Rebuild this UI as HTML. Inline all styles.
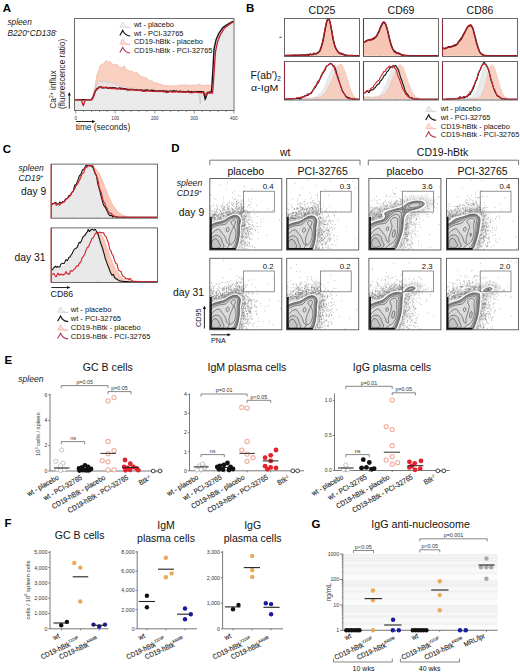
<!DOCTYPE html>
<html><head><meta charset="utf-8"><style>
html,body{margin:0;padding:0;background:#fff;}
svg{display:block;}
text{font-family:"Liberation Sans", sans-serif;}
</style></head><body>
<svg width="520" height="672" viewBox="0 0 520 672">
<rect width="520" height="672" fill="#fff"/>
<text x="2.8" y="12" font-size="11.5" font-weight="bold" fill="#000">A</text>
<text x="7.4" y="25.4" font-size="8.3" font-style="italic" fill="#222">spleen</text>
<text x="7.4" y="35.6" font-size="8.3" font-style="italic" fill="#222">B220<tspan font-size="5" dy="-3">+</tspan><tspan dy="3">CD138</tspan><tspan font-size="5" dy="-3">-</tspan></text>
<text transform="translate(55.6,108.7) rotate(-90)" font-size="8.4" fill="#222">Ca<tspan font-size="5" dy="-3">2+</tspan><tspan dy="3"> influx</tspan></text>
<text transform="translate(65.0,108.9) rotate(-90)" font-size="8.2" fill="#222">(fluorescence ratio)</text>
<line x1="69.3" y1="108.7" x2="69.3" y2="94" stroke="#111" stroke-width="0.9"/>
<path d="M69.3 92L67.8 95.5L70.8 95.5Z" fill="#111"/>
<line x1="76" y1="121.5" x2="93.5" y2="121.5" stroke="#111" stroke-width="0.9"/>
<path d="M95.5 121.5L92 120L92 123Z" fill="#111"/>
<text x="75.8" y="130.4" font-size="8.3" fill="#222">time (seconds)</text>
<path d="M75 110 L75,99.7 75.5,99.7 76,99.7 76.5,99.7 77,99.7 77.5,99.7 78,99.7 78.5,99.7 79,99.7 79.5,99.7 80,99.7 80.5,99.7 81,99.7 81.5,99.7 82,99.7 82.5,99.7 82.9,99.7 83.4,99.7 83.9,99.7 84.4,99.7 84.9,99.7 85.4,99.7 85.9,99.7 86.4,99.7 86.9,99.7 87.4,99.7 87.9,99.7 88.4,99.7 88.9,99.7 89.4,99.7 89.9,99.7 90.4,99.7 90.9,99.7 91.4,99.4 91.9,98.1 92.4,96.7 92.9,95.3 93.4,93.5 93.9,91.6 94.4,89.6 94.9,87.6 95.4,84.6 95.9,81.7 96.4,78.8 96.9,75.8 97.4,73.9 97.9,72.4 98.4,71.1 98.8,70 99.3,68.9 99.8,66.9 100.3,65.3 100.8,64.8 101.3,64.7 101.8,64.5 102.3,64.2 102.8,64 103.3,64 103.8,63.7 104.3,62.9 104.8,62.1 105.3,61.7 105.8,61.1 106.3,60.6 106.8,60.7 107.3,61.6 107.8,62.6 108.3,62.5 108.8,61.8 109.3,61.5 109.8,61.6 110.3,61.5 110.8,62.1 111.3,63.4 111.8,64.4 112.3,64.4 112.8,64 113.3,63.9 113.8,64.5 114.3,65 114.7,64.9 115.2,64.7 115.7,64.9 116.2,64.9 116.7,64.6 117.2,64.6 117.7,65.1 118.2,66 118.7,66.9 119.2,67.2 119.7,67.2 120.2,67.2 120.7,67.4 121.2,67.8 121.7,67.8 122.2,67.5 122.7,67 123.2,66.5 123.7,66 124.2,66 124.7,66.9 125.2,68.2 125.7,69.6 126.2,70.3 126.7,69.8 127.2,69.5 127.7,70 128.2,70.5 128.7,70.6 129.2,71 129.7,71.4 130.2,71.3 130.6,71 131.1,71 131.6,71.2 132.1,71.3 132.6,71.7 133.1,72.4 133.6,73.1 134.1,73.4 134.6,73.1 135.1,72.7 135.6,72.2 136.1,71.9 136.6,72.3 137.1,72.9 137.6,73.3 138.1,73.8 138.6,74.2 139.1,74.8 139.6,75.4 140.1,75.8 140.6,75.8 141.1,76.2 141.6,77.1 142.1,77.7 142.6,77.4 143.1,77 143.6,76.9 144.1,77.3 144.6,77.8 145.1,77.9 145.6,77.8 146.1,77.8 146.5,77.9 147,78.6 147.5,79.5 148,80.1 148.5,80.3 149,80.2 149.5,80 150,80.1 150.5,80.4 151,80.8 151.5,81 152,81 152.5,81.2 153,81.9 153.5,82.5 154,82.5 154.5,82.5 155,83 155.5,83.1 156,83 156.5,82.8 157,82.9 157.5,83.1 158,83.6 158.5,83.9 159,84 159.5,84.1 160,84.3 160.5,84.3 161,84.3 161.5,84.4 162,84.7 162.4,85.1 162.9,85.3 163.4,85.4 163.9,85.5 164.4,85.4 164.9,85.5 165.4,85.6 165.9,85.6 166.4,85.6 166.9,85.8 167.4,86 167.9,85.9 168.4,85.7 168.9,85.4 169.4,85.4 169.9,85.7 170.4,85.9 170.9,85.9 171.4,85.9 171.9,86 172.4,86 172.9,86 173.4,85.8 173.9,85.7 174.4,85.7 174.9,85.8 175.4,86 175.9,86.2 176.4,86.3 176.9,86 177.4,85.4 177.9,85.1 178.3,85.2 178.8,85.3 179.3,85.4 179.8,85.2 180.3,84.9 180.8,84.8 181.3,85.1 181.8,85.3 182.3,85.3 182.8,85.2 183.3,85 183.8,84.8 184.3,84.8 184.8,84.8 185.3,84.9 185.8,85.2 186.3,85.4 186.8,85.3 187.3,85 187.8,84.9 188.3,84.8 188.8,84.9 189.3,85.1 189.8,85.2 190.3,85.5 190.8,85.7 191.3,85.7 191.8,85.5 192.3,85.4 192.8,85.3 193.3,85.1 193.8,84.9 194.2,85.1 194.7,85.3 195.2,85.3 195.7,85.3 196.2,85.4 196.7,85.3 197.2,85 197.7,84.5 198.2,84.2 198.7,84 199.2,84 199.7,84.6 200.2,85.1 200.7,85.1 201.2,84.9 201.7,85 202.2,85.3 202.7,85.4 203.2,85.3 203.7,85.3 204.2,85.4 204.7,85.5 205.2,85.4 205.7,85.2 206.2,85.1 206.7,85.1 207.2,85.2 207.7,85.1 208.2,85 208.7,85 209.2,85 209.7,85.2 210.1,85.6 210.6,85.7 211.1,85.2 211.6,79.7 212.1,73.4 212.6,66.7 213.1,59.5 213.6,52.4 214.1,46.4 214.6,44.2 215.1,42 215.6,39.7 216.1,37.7 216.6,36.6 217.1,35.4 217.6,34.3 218.1,33.1 218.6,31.9 219.1,30.9 219.6,30.3 220.1,29.6 220.6,29 221.1,28.4 221.6,27.8 222.1,27.2 222.6,26.5 223.1,26 223.6,25.6 224.1,25.3 224.6,25 225.1,24.7 225.6,24.4 226,24 226.5,23.7 227,23.4 227.5,23.1 228,22.8 228.5,22.6 229,22.4 229.5,22.2 230,22 230.5,21.8 231,21.7 231.5,21.5 232,21.3 232.5,21.1 233,20.9 233.5,20.7 L233.5 110Z" fill="#ebebeb"/>
<path d="M93.4,93.5 93.9,91.6 94.4,89.6 94.9,87.6 95.4,84.6 95.9,81.7 96.4,78.8 96.9,75.8 97.4,73.9 97.9,72.4 98.4,71.1 98.8,70 99.3,68.9 99.8,66.9 100.3,65.3 100.8,64.8 101.3,64.7 101.8,64.5 102.3,64.2 102.8,64 103.3,64 103.8,63.7 104.3,62.9 104.8,62.1 105.3,61.7 105.8,61.1 106.3,60.6 106.8,60.7 107.3,61.6 107.8,62.6 108.3,62.5 108.8,61.8 109.3,61.5 109.8,61.6 110.3,61.5 110.8,62.1 111.3,63.4 111.8,64.4 112.3,64.4 112.8,64 113.3,63.9 113.8,64.5 114.3,65 114.7,64.9 115.2,64.7 115.7,64.9 116.2,64.9 116.7,64.6 117.2,64.6 117.7,65.1 118.2,66 118.7,66.9 119.2,67.2 119.7,67.2 120.2,67.2 120.7,67.4 121.2,67.8 121.7,67.8 122.2,67.5 122.7,67 123.2,66.5 123.7,66 124.2,66 124.7,66.9 125.2,68.2 125.7,69.6 126.2,70.3 126.7,69.8 127.2,69.5 127.7,70 128.2,70.5 128.7,70.6 129.2,71 129.7,71.4 130.2,71.3 130.6,71 131.1,71 131.6,71.2 132.1,71.3 132.6,71.7 133.1,72.4 133.6,73.1 134.1,73.4 134.6,73.1 135.1,72.7 135.6,72.2 136.1,71.9 136.6,72.3 137.1,72.9 137.6,73.3 138.1,73.8 138.6,74.2 139.1,74.8 139.6,75.4 140.1,75.8 140.6,75.8 141.1,76.2 141.6,77.1 142.1,77.7 142.6,77.4 143.1,77 143.6,76.9 144.1,77.3 144.6,77.8 145.1,77.9 145.6,77.8 146.1,77.8 146.5,77.9 147,78.6 147.5,79.5 148,80.1 148.5,80.3 149,80.2 149.5,80 150,80.1 150.5,80.4 151,80.8 151.5,81 152,81 152.5,81.2 153,81.9 153.5,82.5 154,82.5 154.5,82.5 155,83 155.5,83.1 156,83 156.5,82.8 157,82.9 157.5,83.1 158,83.6 158.5,83.9 159,84 159.5,84.1 160,84.3 160.5,84.3 161,84.3 161.5,84.4 162,84.7 162.4,85.1 162.9,85.3 163.4,85.4 163.9,85.5 164.4,85.4 164.9,85.5 165.4,85.6 165.9,85.6 166.4,85.6 166.9,85.8 167.4,86 167.9,85.9 168.4,85.7 168.9,85.4 169.4,85.4 169.9,85.7 170.4,85.9 170.9,85.9 171.4,85.9 171.9,86 172.4,86 172.9,86 173.4,85.8 173.9,85.7 174.4,85.7 174.9,85.8 175.4,86 175.9,86.2 176.4,86.3 176.9,86 177.4,85.4 177.9,85.1 178.3,85.2 178.8,85.3 179.3,85.4 179.8,85.2 180.3,84.9 180.8,84.8 181.3,85.1 181.8,85.3 182.3,85.3 182.8,85.2 183.3,85 183.8,84.8 184.3,84.8 184.8,84.8 185.3,84.9 185.8,85.2 186.3,85.4 186.8,85.3 187.3,85 187.8,84.9 188.3,84.8 188.8,84.9 189.3,85.1 189.8,85.2 190.3,85.5 190.8,85.7 191.3,85.7 191.8,85.5 192.3,85.4 192.8,85.3 193.3,85.1 193.8,84.9 194.2,85.1 194.7,85.3 195.2,85.3 195.7,85.3 196.2,85.4 196.7,85.3 197.2,85 197.7,84.5 198.2,84.2 198.7,84 199.2,84 199.7,84.6 200.2,85.1 200.7,85.1 201.2,84.9 201.7,85 202.2,85.3 202.7,85.4 203.2,85.3 203.7,85.3 204.2,85.4 204.7,85.5 205.2,85.4 205.7,85.2 206.2,85.1 206.7,85.1 207.2,85.2 207.7,85.1 208.2,85 208.7,85 209.2,85 209.7,85.2 210.1,85.6 210.6,85.7 211.1,85.2 211.1,91.9 210.6,92 210.1,92 209.7,92.1 209.2,92.2 208.7,92.3 208.2,92.4 207.7,92.4 207.2,93 206.7,94.7 206.2,95.3 205.7,95 205.2,94.3 204.7,93.6 204.2,92.9 203.7,92.1 203.2,91.8 202.7,91.7 202.2,91.7 201.7,91.7 201.2,91.7 200.7,91.8 200.2,91.7 199.7,91.6 199.2,91.6 198.7,91.7 198.2,91.7 197.7,91.8 197.2,91.8 196.7,91.9 196.2,91.9 195.7,91.7 195.2,91.8 194.7,92 194.2,92 193.8,92 193.3,92.2 192.8,92.3 192.3,92 191.8,91.8 191.3,91.8 190.8,92 190.3,92 189.8,91.9 189.3,91.7 188.8,91.4 188.3,91.3 187.8,91.5 187.3,91.8 186.8,91.8 186.3,91.7 185.8,91.7 185.3,92 184.8,92 184.3,91.8 183.8,91.6 183.3,91.7 182.8,91.7 182.3,91.8 181.8,91.8 181.3,91.6 180.8,91.4 180.3,91.2 179.8,91.3 179.3,91.5 178.8,91.4 178.3,91.5 177.9,91.7 177.4,91.6 176.9,91.3 176.4,91.1 175.9,91.2 175.4,91.4 174.9,91.2 174.4,90.9 173.9,90.8 173.4,91 172.9,91 172.4,91.1 171.9,91.2 171.4,91.2 170.9,91.2 170.4,91.3 169.9,91.2 169.4,91.2 168.9,91.4 168.4,91.8 167.9,91.8 167.4,91.4 166.9,91.3 166.4,91.3 165.9,91.2 165.4,91.2 164.9,91.2 164.4,91.1 163.9,91 163.4,90.8 162.9,90.9 162.4,91.2 162,91.1 161.5,91 161,91 160.5,91 160,90.9 159.5,90.9 159,91 158.5,91.2 158,91.2 157.5,91.2 157,91.2 156.5,91.1 156,91.1 155.5,91 155,90.9 154.5,90.8 154,90.5 153.5,90.5 153,90.6 152.5,90.5 152,90.3 151.5,90.3 151,90.3 150.5,90.6 150,90.8 149.5,90.8 149,90.6 148.5,90.3 148,90.1 147.5,90 147,90 146.5,90.1 146.1,90.3 145.6,90.3 145.1,90.4 144.6,90.4 144.1,90.3 143.6,90.5 143.1,90.6 142.6,90.5 142.1,90.2 141.6,89.9 141.1,90 140.6,90.2 140.1,90.2 139.6,90.1 139.1,90.2 138.6,90.2 138.1,90.2 137.6,90.2 137.1,90.1 136.6,89.9 136.1,89.8 135.6,89.9 135.1,89.9 134.6,89.7 134.1,89.7 133.6,89.9 133.1,89.7 132.6,89.4 132.1,89.4 131.6,89.4 131.1,89.4 130.6,89.4 130.2,89.4 129.7,89.5 129.2,89.5 128.7,89.4 128.2,89.5 127.7,89.4 127.2,89.1 126.7,88.9 126.2,88.9 125.7,88.7 125.2,88.7 124.7,88.8 124.2,88.8 123.7,88.8 123.2,88.8 122.7,88.7 122.2,88.5 121.7,88.4 121.2,88.3 120.7,88.4 120.2,88.3 119.7,88.2 119.2,88 118.7,88.1 118.2,88.5 117.7,88.7 117.2,88.7 116.7,88.5 116.2,88.3 115.7,87.9 115.2,87.9 114.7,87.9 114.3,87.9 113.8,87.9 113.3,87.8 112.8,87.7 112.3,87.8 111.8,88 111.3,88 110.8,87.9 110.3,87.7 109.8,87.6 109.3,87.8 108.8,88 108.3,88 107.8,88 107.3,87.7 106.8,87.3 106.3,87.2 105.8,87.2 105.3,87.4 104.8,87.6 104.3,87.6 103.8,87.5 103.3,87.5 102.8,87.4 102.3,87.3 101.8,87.2 101.3,87 100.8,87 100.3,87.2 99.8,87.3 99.3,87.2 98.8,87.2 98.4,87.7 97.9,88.1 97.4,88.3 96.9,88.8 96.4,89.2 95.9,90.1 95.4,90.9 94.9,91.9 94.4,93.4 93.9,94.9 93.4,96.3 Z" fill="#fad0c1"/>
<polyline points="93.4,93.5 93.9,91.6 94.4,89.6 94.9,87.6 95.4,84.6 95.9,81.7 96.4,78.8 96.9,75.8 97.4,73.9 97.9,72.4 98.4,71.1 98.8,70 99.3,68.9 99.8,66.9 100.3,65.3 100.8,64.8 101.3,64.7 101.8,64.5 102.3,64.2 102.8,64 103.3,64 103.8,63.7 104.3,62.9 104.8,62.1 105.3,61.7 105.8,61.1 106.3,60.6 106.8,60.7 107.3,61.6 107.8,62.6 108.3,62.5 108.8,61.8 109.3,61.5 109.8,61.6 110.3,61.5 110.8,62.1 111.3,63.4 111.8,64.4 112.3,64.4 112.8,64 113.3,63.9 113.8,64.5 114.3,65 114.7,64.9 115.2,64.7 115.7,64.9 116.2,64.9 116.7,64.6 117.2,64.6 117.7,65.1 118.2,66 118.7,66.9 119.2,67.2 119.7,67.2 120.2,67.2 120.7,67.4 121.2,67.8 121.7,67.8 122.2,67.5 122.7,67 123.2,66.5 123.7,66 124.2,66 124.7,66.9 125.2,68.2 125.7,69.6 126.2,70.3 126.7,69.8 127.2,69.5 127.7,70 128.2,70.5 128.7,70.6 129.2,71 129.7,71.4 130.2,71.3 130.6,71 131.1,71 131.6,71.2 132.1,71.3 132.6,71.7 133.1,72.4 133.6,73.1 134.1,73.4 134.6,73.1 135.1,72.7 135.6,72.2 136.1,71.9 136.6,72.3 137.1,72.9 137.6,73.3 138.1,73.8 138.6,74.2 139.1,74.8 139.6,75.4 140.1,75.8 140.6,75.8 141.1,76.2 141.6,77.1 142.1,77.7 142.6,77.4 143.1,77 143.6,76.9 144.1,77.3 144.6,77.8 145.1,77.9 145.6,77.8 146.1,77.8 146.5,77.9 147,78.6 147.5,79.5 148,80.1 148.5,80.3 149,80.2 149.5,80 150,80.1 150.5,80.4 151,80.8 151.5,81 152,81 152.5,81.2 153,81.9 153.5,82.5 154,82.5 154.5,82.5 155,83 155.5,83.1 156,83 156.5,82.8 157,82.9 157.5,83.1 158,83.6 158.5,83.9 159,84 159.5,84.1 160,84.3 160.5,84.3 161,84.3 161.5,84.4 162,84.7 162.4,85.1 162.9,85.3 163.4,85.4 163.9,85.5 164.4,85.4 164.9,85.5 165.4,85.6 165.9,85.6 166.4,85.6 166.9,85.8 167.4,86 167.9,85.9 168.4,85.7 168.9,85.4 169.4,85.4 169.9,85.7 170.4,85.9 170.9,85.9 171.4,85.9 171.9,86 172.4,86 172.9,86 173.4,85.8 173.9,85.7 174.4,85.7 174.9,85.8 175.4,86 175.9,86.2 176.4,86.3 176.9,86 177.4,85.4 177.9,85.1 178.3,85.2 178.8,85.3 179.3,85.4 179.8,85.2 180.3,84.9 180.8,84.8 181.3,85.1 181.8,85.3 182.3,85.3 182.8,85.2 183.3,85 183.8,84.8 184.3,84.8 184.8,84.8 185.3,84.9 185.8,85.2 186.3,85.4 186.8,85.3 187.3,85 187.8,84.9 188.3,84.8 188.8,84.9 189.3,85.1 189.8,85.2 190.3,85.5 190.8,85.7 191.3,85.7 191.8,85.5 192.3,85.4 192.8,85.3 193.3,85.1 193.8,84.9 194.2,85.1 194.7,85.3 195.2,85.3 195.7,85.3 196.2,85.4 196.7,85.3 197.2,85 197.7,84.5 198.2,84.2 198.7,84 199.2,84 199.7,84.6 200.2,85.1 200.7,85.1 201.2,84.9 201.7,85 202.2,85.3 202.7,85.4 203.2,85.3 203.7,85.3 204.2,85.4 204.7,85.5 205.2,85.4 205.7,85.2 206.2,85.1 206.7,85.1 207.2,85.2 207.7,85.1 208.2,85 208.7,85 209.2,85 209.7,85.2 210.1,85.6 210.6,85.7 211.1,85.2" fill="none" stroke="#f0b29e" stroke-width="0.8"/>
<path d="M92.4,96.7 92.9,95.3 93.4,94 93.9,92.7 94.4,91.4 94.9,90.1 95.4,88.8 95.9,87.7 96.4,86.6 96.9,85.5 97.4,83.8 97.9,82.6 98.4,82.3 98.8,82.3 99.3,82.2 99.8,81.7 100.3,81.2 100.8,81 101.3,81.3 101.8,81.7 102.3,81.8 102.8,81.6 103.3,81.2 103.8,81 104.3,80.9 104.8,81 105.3,81.1 105.8,81.3 106.3,81.6 106.8,82.1 107.3,82.4 107.8,82.4 108.3,82.3 108.8,82.3 109.3,82.2 109.8,82.1 110.3,81.9 110.8,81.9 111.3,82.2 111.8,82.5 112.3,82.9 112.8,83.1 113.3,83.1 113.8,83.1 114.3,83.2 114.7,83.6 115.2,83.9 115.7,84.2 116.2,84.3 116.7,84.3 117.2,84.3 117.7,84.5 118.2,84.8 118.7,85 119.2,85.3 119.7,85.7 120.2,86 120.7,86.1 121.2,86 121.7,86 122.2,86.3 122.7,86.7 123.2,87 123.7,86.9 124.2,86.8 124.7,86.6 125.2,86.6 125.7,86.8 126.2,87.1 126.7,87.4 127.2,87.6 127.7,87.6 128.2,87.6 128.7,87.5 129.2,87.6 129.7,87.7 130.2,87.7 130.6,87.7 131.1,87.7 131.6,87.8 132.1,88 132.6,88.2 133.1,88.4 133.6,88.4 134.1,88.4 134.6,88.5 135.1,88.7 135.6,89 136.1,89.3 136.6,89.4 137.1,89.4 137.6,89.4 138.1,89.4 138.6,89.5 139.1,89.7 139.6,89.8 140.1,89.8 140.6,89.7 141.1,89.7 141.6,89.7 142.1,89.9 142.6,89.9 143.1,89.8 143.6,89.6 144.1,89.5 144.6,89.5 145.1,89.5 145.6,89.5 146.1,89.7 146.5,89.8 147,89.7 147.5,89.5 148,89.6 148.5,89.7 149,89.9 149.5,90 150,90.1 150.5,90.2 151,90.2 151.5,90.1 152,89.9 152.5,89.9 153,90.1 153.5,90.5 154,90.7 154.5,90.8 155,90.8 155.5,90.9 156,91 156.5,90.8 157,90.5 157.5,90.2 158,90.1 158.5,90.4 159,90.7 159.5,90.8 160,90.6 160.5,90.6 161,90.6 161.5,90.6 162,90.6 162.4,90.7 162.9,90.8 163.4,90.9 163.9,90.8 164.4,90.7 164.9,90.7 165.4,91 165.9,91.3 166.4,91.3 166.9,91 167.4,90.7 167.9,90.6 168.4,90.7 168.9,90.9 169.4,91 169.9,91 170.4,91 170.9,91.2 171.4,91.6 171.9,91.9 172.4,91.9 172.9,91.6 173.4,91.3 173.9,91.1 174.4,91 174.9,91 175.4,91 175.9,91.1 176.4,91.3 176.9,91.4 177.4,91.3 177.9,91.2 178.3,91 178.8,91 179.3,91 179.8,91.2 180.3,91.2 180.8,91.1 181.3,91 181.8,90.9 182.3,90.8 182.8,90.8 183.3,90.8 183.8,90.9 184.3,91.1 184.8,91.3 185.3,91.3 185.8,91.2 186.3,91.1 186.8,91.1 187.3,91.1 187.8,91.2 188.3,91.2 188.8,91.3 189.3,91.4 189.8,91.5 190.3,91.5 190.8,91.5 191.3,91.4 191.8,91.4 192.3,91.5 192.8,91.7 193.3,91.7 193.8,91.7 194.2,91.6 194.7,91.7 195.2,91.8 195.7,91.8 196.2,91.7 196.7,91.7 197.2,91.9 197.7,92.1 198.2,92.1 198.7,91.8 199.2,93.9 199.7,99 199.7,91.6 199.2,91.6 198.7,91.7 198.2,91.7 197.7,91.8 197.2,91.8 196.7,91.9 196.2,91.9 195.7,91.7 195.2,91.8 194.7,92 194.2,92 193.8,92 193.3,92.2 192.8,92.3 192.3,92 191.8,91.8 191.3,91.8 190.8,92 190.3,92 189.8,91.9 189.3,91.7 188.8,91.4 188.3,91.3 187.8,91.5 187.3,91.8 186.8,91.8 186.3,91.7 185.8,91.7 185.3,92 184.8,92 184.3,91.8 183.8,91.6 183.3,91.7 182.8,91.7 182.3,91.8 181.8,91.8 181.3,91.6 180.8,91.4 180.3,91.2 179.8,91.3 179.3,91.5 178.8,91.4 178.3,91.5 177.9,91.7 177.4,91.6 176.9,91.3 176.4,91.1 175.9,91.2 175.4,91.4 174.9,91.2 174.4,90.9 173.9,90.8 173.4,91 172.9,91 172.4,91.1 171.9,91.2 171.4,91.2 170.9,91.2 170.4,91.3 169.9,91.2 169.4,91.2 168.9,91.4 168.4,91.8 167.9,91.8 167.4,91.4 166.9,91.3 166.4,91.3 165.9,91.2 165.4,91.2 164.9,91.2 164.4,91.1 163.9,91 163.4,90.8 162.9,90.9 162.4,91.2 162,91.1 161.5,91 161,91 160.5,91 160,90.9 159.5,90.9 159,91 158.5,91.2 158,91.2 157.5,91.2 157,91.2 156.5,91.1 156,91.1 155.5,91 155,90.9 154.5,90.8 154,90.5 153.5,90.5 153,90.6 152.5,90.5 152,90.3 151.5,90.3 151,90.3 150.5,90.6 150,90.8 149.5,90.8 149,90.6 148.5,90.3 148,90.1 147.5,90 147,90 146.5,90.1 146.1,90.3 145.6,90.3 145.1,90.4 144.6,90.4 144.1,90.3 143.6,90.5 143.1,90.6 142.6,90.5 142.1,90.2 141.6,89.9 141.1,90 140.6,90.2 140.1,90.2 139.6,90.1 139.1,90.2 138.6,90.2 138.1,90.2 137.6,90.2 137.1,90.1 136.6,89.9 136.1,89.8 135.6,89.9 135.1,89.9 134.6,89.7 134.1,89.7 133.6,89.9 133.1,89.7 132.6,89.4 132.1,89.4 131.6,89.4 131.1,89.4 130.6,89.4 130.2,89.4 129.7,89.5 129.2,89.5 128.7,89.4 128.2,89.5 127.7,89.4 127.2,89.1 126.7,88.9 126.2,88.9 125.7,88.7 125.2,88.7 124.7,88.8 124.2,88.8 123.7,88.8 123.2,88.8 122.7,88.7 122.2,88.5 121.7,88.4 121.2,88.3 120.7,88.4 120.2,88.3 119.7,88.2 119.2,88 118.7,88.1 118.2,88.5 117.7,88.7 117.2,88.7 116.7,88.5 116.2,88.3 115.7,87.9 115.2,87.9 114.7,87.9 114.3,87.9 113.8,87.9 113.3,87.8 112.8,87.7 112.3,87.8 111.8,88 111.3,88 110.8,87.9 110.3,87.7 109.8,87.6 109.3,87.8 108.8,88 108.3,88 107.8,88 107.3,87.7 106.8,87.3 106.3,87.2 105.8,87.2 105.3,87.4 104.8,87.6 104.3,87.6 103.8,87.5 103.3,87.5 102.8,87.4 102.3,87.3 101.8,87.2 101.3,87 100.8,87 100.3,87.2 99.8,87.3 99.3,87.2 98.8,87.2 98.4,87.7 97.9,88.1 97.4,88.3 96.9,88.8 96.4,89.2 95.9,90.1 95.4,90.9 94.9,91.9 94.4,93.4 93.9,94.9 93.4,96.3 92.9,97.6 92.4,98.3 Z" fill="#eee3e0"/>
<polyline points="75,99.7 75.5,99.7 76,99.7 76.5,99.7 77,99.7 77.5,99.7 78,99.7 78.5,99.7 79,99.7 79.5,99.7 80,99.7 80.5,99.7 81,99.7 81.5,99.7 82,99.7 82.5,99.7 82.9,99.7 83.4,99.7 83.9,99.7 84.4,99.7 84.9,99.7 85.4,99.7 85.9,99.7 86.4,99.7 86.9,99.7 87.4,99.7 87.9,99.7 88.4,99.7 88.9,99.7 89.4,99.7 89.9,99.7 90.4,99.7 90.9,99.7 91.4,99.4 91.9,98.1 92.4,96.7 92.9,95.3 93.4,94 93.9,92.7 94.4,91.4 94.9,90.1 95.4,88.8 95.9,87.7 96.4,86.6 96.9,85.5 97.4,83.8 97.9,82.6 98.4,82.3 98.8,82.3 99.3,82.2 99.8,81.7 100.3,81.2 100.8,81 101.3,81.3 101.8,81.7 102.3,81.8 102.8,81.6 103.3,81.2 103.8,81 104.3,80.9 104.8,81 105.3,81.1 105.8,81.3 106.3,81.6 106.8,82.1 107.3,82.4 107.8,82.4 108.3,82.3 108.8,82.3 109.3,82.2 109.8,82.1 110.3,81.9 110.8,81.9 111.3,82.2 111.8,82.5 112.3,82.9 112.8,83.1 113.3,83.1 113.8,83.1 114.3,83.2 114.7,83.6 115.2,83.9 115.7,84.2 116.2,84.3 116.7,84.3 117.2,84.3 117.7,84.5 118.2,84.8 118.7,85 119.2,85.3 119.7,85.7 120.2,86 120.7,86.1 121.2,86 121.7,86 122.2,86.3 122.7,86.7 123.2,87 123.7,86.9 124.2,86.8 124.7,86.6 125.2,86.6 125.7,86.8 126.2,87.1 126.7,87.4 127.2,87.6 127.7,87.6 128.2,87.6 128.7,87.5 129.2,87.6 129.7,87.7 130.2,87.7 130.6,87.7 131.1,87.7 131.6,87.8 132.1,88 132.6,88.2 133.1,88.4 133.6,88.4 134.1,88.4 134.6,88.5 135.1,88.7 135.6,89 136.1,89.3 136.6,89.4 137.1,89.4 137.6,89.4 138.1,89.4 138.6,89.5 139.1,89.7 139.6,89.8 140.1,89.8 140.6,89.7 141.1,89.7 141.6,89.7 142.1,89.9 142.6,89.9 143.1,89.8 143.6,89.6 144.1,89.5 144.6,89.5 145.1,89.5 145.6,89.5 146.1,89.7 146.5,89.8 147,89.7 147.5,89.5 148,89.6 148.5,89.7 149,89.9 149.5,90 150,90.1 150.5,90.2 151,90.2 151.5,90.1 152,89.9 152.5,89.9 153,90.1 153.5,90.5 154,90.7 154.5,90.8 155,90.8 155.5,90.9 156,91 156.5,90.8 157,90.5 157.5,90.2 158,90.1 158.5,90.4 159,90.7 159.5,90.8 160,90.6 160.5,90.6 161,90.6 161.5,90.6 162,90.6 162.4,90.7 162.9,90.8 163.4,90.9 163.9,90.8 164.4,90.7 164.9,90.7 165.4,91 165.9,91.3 166.4,91.3 166.9,91 167.4,90.7 167.9,90.6 168.4,90.7 168.9,90.9 169.4,91 169.9,91 170.4,91 170.9,91.2 171.4,91.6 171.9,91.9 172.4,91.9 172.9,91.6 173.4,91.3 173.9,91.1 174.4,91 174.9,91 175.4,91 175.9,91.1 176.4,91.3 176.9,91.4 177.4,91.3 177.9,91.2 178.3,91 178.8,91 179.3,91 179.8,91.2 180.3,91.2 180.8,91.1 181.3,91 181.8,90.9 182.3,90.8 182.8,90.8 183.3,90.8 183.8,90.9 184.3,91.1 184.8,91.3 185.3,91.3 185.8,91.2 186.3,91.1 186.8,91.1 187.3,91.1 187.8,91.2 188.3,91.2 188.8,91.3 189.3,91.4 189.8,91.5 190.3,91.5 190.8,91.5 191.3,91.4 191.8,91.4 192.3,91.5 192.8,91.7 193.3,91.7 193.8,91.7 194.2,91.6 194.7,91.7 195.2,91.8 195.7,91.8 196.2,91.7 196.7,91.7 197.2,91.9 197.7,92.1 198.2,92.1 198.7,91.8 199.2,93.9 199.7,99 200.2,103.9 200.7,98.9 201.2,94 201.7,92 202.2,92 202.7,92 203.2,92 203.7,92 204.2,91.9 204.7,91.9 205.2,91.9 205.7,91.9 206.2,91.9 206.7,91.9 207.2,91.9 207.7,91.9 208.2,91.9 208.7,91.9 209.2,91.8 209.7,91.8 210.1,91.8 210.6,91.8 211.1,91.8 211.6,86.6" fill="none" stroke="#c8c8c8" stroke-width="0.8"/>
<polyline points="75,99.7 75.5,99.7 76,99.7 76.5,99.7 77,99.7 77.5,99.7 78,99.7 78.5,99.7 79,99.7 79.5,99.7 80,99.7 80.5,99.7 81,99.7 81.5,99.7 82,99.7 82.5,99.7 82.9,99.7 83.4,99.7 83.9,99.7 84.4,99.7 84.9,99.7 85.4,99.7 85.9,99.7 86.4,99.7 86.9,99.7 87.4,99.7 87.9,99.7 88.4,99.7 88.9,99.7 89.4,99.7 89.9,99.7 90.4,99.7 90.9,99.7 91.4,99.6 91.9,98.9 92.4,98.3 92.9,97.6 93.4,96.3 93.9,94.9 94.4,93.4 94.9,91.9 95.4,90.9 95.9,90.1 96.4,89.2 96.9,88.8 97.4,88.3 97.9,88.1 98.4,87.7 98.8,87.2 99.3,87.2 99.8,87.3 100.3,87.2 100.8,87 101.3,87 101.8,87.4 102.3,87.9 102.8,87.8 103.3,87.6 103.8,87.7 104.3,87.8 104.8,87.6 105.3,87.5 105.8,87.7 106.3,87.8 106.8,87.7 107.3,87.8 107.8,88.1 108.3,88.3 108.8,88.1 109.3,87.8 109.8,87.6 110.3,87.7 110.8,87.9 111.3,88 111.8,88 112.3,87.8 112.8,87.7 113.3,87.8 113.8,87.9 114.3,87.9 114.7,87.9 115.2,87.9 115.7,87.9 116.2,88.3 116.7,88.6 117.2,88.9 117.7,88.9 118.2,88.5 118.7,88.1 119.2,88 119.7,88.2 120.2,88.3 120.7,88.4 121.2,88.3 121.7,88.4 122.2,88.5 122.7,88.7 123.2,88.8 123.7,88.8 124.2,88.8 124.7,88.8 125.2,88.7 125.7,88.7 126.2,89.1 126.7,89.7 127.2,89.9 127.7,89.8 128.2,89.5 128.7,89.4 129.2,89.5 129.7,89.5 130.2,89.4 130.6,89.4 131.1,89.4 131.6,89.4 132.1,89.4 132.6,89.4 133.1,89.7 133.6,90 134.1,89.9 134.6,89.8 135.1,89.9 135.6,89.9 136.1,89.8 136.6,89.9 137.1,90.1 137.6,90.2 138.1,90.3 138.6,90.3 139.1,90.2 139.6,90.1 140.1,90.2 140.6,90.2 141.1,90 141.6,89.9 142.1,90.2 142.6,90.5 143.1,90.6 143.6,90.5 144.1,90.3 144.6,90.4 145.1,90.4 145.6,90.3 146.1,90.3 146.5,90.1 147,90 147.5,90 148,90.1 148.5,90.3 149,90.6 149.5,90.9 150,90.9 150.5,90.6 151,90.3 151.5,90.3 152,90.3 152.5,90.5 153,90.6 153.5,90.5 154,90.5 154.5,90.8 155,90.9 155.5,91 156,91.1 156.5,91.1 157,91.2 157.5,91.3 158,91.3 158.5,91.2 159,91 159.5,90.9 160,90.9 160.5,91 161,91.1 161.5,91.1 162,91.3 162.4,91.2 162.9,90.9 163.4,90.8 163.9,91 164.4,91.1 164.9,91.2 165.4,91.2 165.9,91.2 166.4,91.3 166.9,91.3 167.4,91.4 167.9,91.8 168.4,91.8 168.9,91.4 169.4,91.2 169.9,91.2 170.4,91.3 170.9,91.2 171.4,91.2 171.9,91.2 172.4,91.1 172.9,91 173.4,91 173.9,90.8 174.4,90.9 174.9,91.2 175.4,91.4 175.9,91.2 176.4,91.1 176.9,91.3 177.4,91.6 177.9,91.7 178.3,91.5 178.8,91.4 179.3,91.5 179.8,91.3 180.3,91.2 180.8,91.4 181.3,91.8 181.8,91.9 182.3,91.8 182.8,91.7 183.3,91.7 183.8,91.6 184.3,91.8 184.8,92.1 185.3,92 185.8,91.7 186.3,91.7 186.8,91.8 187.3,91.8 187.8,91.5 188.3,91.3 188.8,91.4 189.3,91.7 189.8,91.9 190.3,92 190.8,92 191.3,91.8 191.8,91.8 192.3,92 192.8,92.3 193.3,92.2 193.8,92 194.2,92 194.7,92 195.2,91.8 195.7,91.7 196.2,91.9 196.7,91.9 197.2,91.8 197.7,91.8 198.2,91.7 198.7,91.7 199.2,91.6 199.7,91.6 200.2,91.7 200.7,91.8 201.2,91.7 201.7,91.7 202.2,91.7 202.7,91.7 203.2,91.8 203.7,92.6 204.2,94.8 204.7,96.9 205.2,99.1 205.7,98.3 206.2,96.5 206.7,94.7 207.2,93 207.7,92.4 208.2,92.4 208.7,92.3 209.2,92.2 209.7,92.1 210.1,92 210.6,92 211.1,91.9 211.6,91.2 212.1,82.8 212.6,74.4 213.1,65.7 213.6,57 214.1,48.5 214.6,46.3 215.1,44 215.6,41.8 216.1,39.7 216.6,38.5 217.1,37.4 217.6,36.2 218.1,35 218.6,33.9 219.1,33.1 219.6,32.4 220.1,31.6 220.6,30.9 221.1,30.1 221.6,29.4 222.1,28.6 222.6,27.9 223.1,27.3 223.6,27 224.1,26.7 224.6,26.4 225.1,26.1 225.6,25.8 226,25.4 226.5,25.1 227,24.8 227.5,24.5 228,24.2 228.5,23.9 229,23.6 229.5,23.3 230,23 230.5,22.7 231,22.4 231.5,22.1 232,21.9 232.5,21.6 233,21.3 233.5,21" fill="none" stroke="#141414" stroke-width="1.4"/>
<polyline points="75,99.7 75.5,99.7 76,99.7 76.5,99.7 77,99.7 77.5,99.7 78,99.7 78.5,99.7 79,99.7 79.5,99.7 80,99.7 80.5,99.7 81,99.7 81.5,100.5 82,102 82.5,103.5 82.9,104.9 83.4,105.5 83.9,104 84.4,102.4 84.9,100.8 85.4,99.7 85.9,99.7 86.4,99.7 86.9,99.7 87.4,99.7 87.9,99.7 88.4,99.7 88.9,99.7 89.4,99.7 89.9,99.7 90.4,99.7 90.9,99.7 91.4,99.7 91.9,99.6 92.4,98.8 92.9,98 93.4,97.2 93.9,95.9 94.4,94.4 94.9,92.9 95.4,91.4 95.9,90.5 96.4,89.8 96.9,89.2 97.4,89.3 97.9,88.8 98.4,88.2 98.8,87.9 99.3,87.7 99.8,87.7 100.3,87.6 100.8,87.4 101.3,87.2 101.8,87.2 102.3,87.3 102.8,87.4 103.3,87.5 103.8,87.5 104.3,87.6 104.8,87.6 105.3,87.4 105.8,87.2 106.3,87.2 106.8,87.3 107.3,87.7 107.8,88 108.3,88 108.8,88 109.3,87.9 109.8,88 110.3,88.1 110.8,88.3 111.3,88.5 111.8,88.7 112.3,88.6 112.8,88.4 113.3,88.3 113.8,88.4 114.3,88.6 114.7,88.7 115.2,88.8 115.7,88.7 116.2,88.4 116.7,88.5 117.2,88.7 117.7,88.7 118.2,88.5 118.7,88.5 119.2,88.6 119.7,89 120.2,89.4 120.7,89.3 121.2,88.9 121.7,88.8 122.2,89 122.7,89.1 123.2,89.1 123.7,89.1 124.2,89.4 124.7,89.5 125.2,89.2 125.7,89 126.2,88.9 126.7,88.9 127.2,89.1 127.7,89.4 128.2,89.6 128.7,89.9 129.2,90.2 129.7,90 130.2,89.9 130.6,90 131.1,90 131.6,89.8 132.1,89.7 132.6,89.7 133.1,89.8 133.6,89.9 134.1,89.7 134.6,89.7 135.1,89.9 135.6,90.2 136.1,90.3 136.6,90.4 137.1,90.4 137.6,90.4 138.1,90.2 138.6,90.2 139.1,90.4 139.6,90.5 140.1,90.5 140.6,90.4 141.1,90.5 141.6,90.7 142.1,90.8 142.6,90.9 143.1,91.3 143.6,91.2 144.1,90.9 144.6,91.1 145.1,91.4 145.6,91.3 146.1,91 146.5,90.8 147,90.8 147.5,90.8 148,90.9 148.5,91 149,90.9 149.5,90.8 150,90.8 150.5,90.8 151,90.9 151.5,91.1 152,91.3 152.5,91.4 153,91.4 153.5,91.4 154,91.3 154.5,91.2 155,91.3 155.5,91.3 156,91.4 156.5,91.5 157,91.4 157.5,91.2 158,91.2 158.5,91.3 159,91.4 159.5,91.5 160,91.5 160.5,91.2 161,91 161.5,91 162,91.1 162.4,91.5 162.9,91.8 163.4,91.7 163.9,91.5 164.4,91.6 164.9,92 165.4,92 165.9,92 166.4,92.3 166.9,92.5 167.4,92.3 167.9,92.1 168.4,92 168.9,91.9 169.4,91.7 169.9,91.6 170.4,91.6 170.9,91.7 171.4,91.8 171.9,92.1 172.4,92.2 172.9,92 173.4,91.9 173.9,91.9 174.4,92.1 174.9,92.1 175.4,91.9 175.9,91.6 176.4,91.5 176.9,91.7 177.4,91.9 177.9,91.9 178.3,91.8 178.8,91.9 179.3,92 179.8,92.1 180.3,92 180.8,91.8 181.3,91.6 181.8,91.8 182.3,92 182.8,91.9 183.3,91.9 183.8,92 184.3,92 184.8,92 185.3,92.1 185.8,92.1 186.3,92 186.8,91.8 187.3,91.9 187.8,92 188.3,92.1 188.8,92.3 189.3,92.5 189.8,92.5 190.3,92.5 190.8,92.6 191.3,92.8 191.8,92.8 192.3,92.7 192.8,92.5 193.3,92.4 193.8,92.4 194.2,92.2 194.7,92.2 195.2,92.2 195.7,92.1 196.2,92 196.7,92.1 197.2,92.4 197.7,92.7 198.2,92.7 198.7,92.6 199.2,92.4 199.7,92.4 200.2,92.5 200.7,92.6 201.2,92.8 201.7,92.9 202.2,92.6 202.7,92.2 203.2,92.1 203.7,92.1 204.2,92.9 204.7,93.6 205.2,94.3 205.7,95 206.2,95.3 206.7,94.7 207.2,94 207.7,93.4 208.2,93 208.7,93 209.2,93.1 209.7,93.1 210.1,93.1 210.6,93.2 211.1,93.2 211.6,93.2 212.1,93.3 212.6,92.9 213.1,86.3 213.6,79.6 214.1,72.2 214.6,64.7 215.1,57.3 215.6,51 216.1,48.6 216.6,46.2 217.1,43.9 217.6,41.7 218.1,40.4 218.6,39.2 219.1,37.9 219.6,36.6 220.1,35.4 220.6,34.5 221.1,33.7 221.6,32.8 222.1,32 222.6,31.1 223.1,30.3 223.6,29.5 224.1,28.6 224.6,28 225.1,27.6 225.6,27.3 226,26.9 226.5,26.5 227,26.2 227.5,25.8 228,25.4 228.5,25 229,24.7 229.5,24.3 230,23.9 230.5,23.6 231,23.3 231.5,23 232,22.7 232.5,22.4 233,22.1 233.5,21.8" fill="none" stroke="#c8202c" stroke-width="1.3"/>
<rect x="74.5" y="18.5" width="159.5" height="92" fill="none" stroke="#6a6a6a" stroke-width="1"/>
<line x1="75.8" y1="110.5" x2="75.8" y2="113.5" stroke="#666" stroke-width="0.7"/>
<line x1="83.7" y1="110.5" x2="83.7" y2="112.1" stroke="#666" stroke-width="0.7"/>
<line x1="91.5" y1="110.5" x2="91.5" y2="112.1" stroke="#666" stroke-width="0.7"/>
<line x1="99.5" y1="110.5" x2="99.5" y2="112.1" stroke="#666" stroke-width="0.7"/>
<line x1="107.3" y1="110.5" x2="107.3" y2="112.1" stroke="#666" stroke-width="0.7"/>
<line x1="115.2" y1="110.5" x2="115.2" y2="113.5" stroke="#666" stroke-width="0.7"/>
<line x1="123.2" y1="110.5" x2="123.2" y2="112.1" stroke="#666" stroke-width="0.7"/>
<line x1="131.1" y1="110.5" x2="131.1" y2="112.1" stroke="#666" stroke-width="0.7"/>
<line x1="138.9" y1="110.5" x2="138.9" y2="112.1" stroke="#666" stroke-width="0.7"/>
<line x1="146.9" y1="110.5" x2="146.9" y2="112.1" stroke="#666" stroke-width="0.7"/>
<line x1="154.8" y1="110.5" x2="154.8" y2="113.5" stroke="#666" stroke-width="0.7"/>
<line x1="162.7" y1="110.5" x2="162.7" y2="112.1" stroke="#666" stroke-width="0.7"/>
<line x1="170.6" y1="110.5" x2="170.6" y2="112.1" stroke="#666" stroke-width="0.7"/>
<line x1="178.4" y1="110.5" x2="178.4" y2="112.1" stroke="#666" stroke-width="0.7"/>
<line x1="186.4" y1="110.5" x2="186.4" y2="112.1" stroke="#666" stroke-width="0.7"/>
<line x1="194.2" y1="110.5" x2="194.2" y2="113.5" stroke="#666" stroke-width="0.7"/>
<line x1="202.2" y1="110.5" x2="202.2" y2="112.1" stroke="#666" stroke-width="0.7"/>
<line x1="210.1" y1="110.5" x2="210.1" y2="112.1" stroke="#666" stroke-width="0.7"/>
<line x1="218" y1="110.5" x2="218" y2="112.1" stroke="#666" stroke-width="0.7"/>
<line x1="225.8" y1="110.5" x2="225.8" y2="112.1" stroke="#666" stroke-width="0.7"/>
<line x1="233.8" y1="110.5" x2="233.8" y2="113.5" stroke="#666" stroke-width="0.7"/>
<text x="75.8" y="120.2" font-size="4.6" text-anchor="middle" fill="#333">0</text>
<text x="115.2" y="120.2" font-size="4.6" text-anchor="middle" fill="#333">100</text>
<text x="154.8" y="120.2" font-size="4.6" text-anchor="middle" fill="#333">200</text>
<text x="194.2" y="120.2" font-size="4.6" text-anchor="middle" fill="#333">300</text>
<text x="233.8" y="120.2" font-size="4.6" text-anchor="middle" fill="#333">400</text>
<path d="M119.8 27.1 L122.8 21.9 Q124.7 27.3 130.3 27.5Z" fill="#f2f2f2" stroke="#d6d6d6" stroke-width="0.9"/>
<text x="133.9" y="27.2" font-size="7.45" fill="#111">wt - placebo</text>
<path d="M119.8 35.6 L122.8 30.4 Q124.7 35.8 130.3 36" fill="none" stroke="#111" stroke-width="1.1"/>
<text x="133.9" y="35.7" font-size="7.45" fill="#111">wt - PCI-32765</text>
<path d="M119.8 44.1 L122.8 38.9 Q124.7 44.3 130.3 44.5Z" fill="#fbdcd2" stroke="#f4c0b2" stroke-width="0.9"/>
<text x="133.9" y="44.2" font-size="7.45" fill="#111">CD19-hBtk - placebo</text>
<path d="M119.8 52.6 L122.8 47.4 Q124.7 52.8 130.3 53" fill="none" stroke="#b53a50" stroke-width="1.1"/>
<text x="133.9" y="52.7" font-size="7.45" fill="#111">CD19-hBtk - PCI-32765</text>
<text x="246" y="12.2" font-size="11.5" font-weight="bold" fill="#000">B</text>
<text x="322" y="14.3" font-size="10.5" text-anchor="middle" fill="#111">CD25</text>
<text x="401" y="14.3" font-size="10.5" text-anchor="middle" fill="#111">CD69</text>
<text x="480" y="14.3" font-size="10.5" text-anchor="middle" fill="#111">CD86</text>
<line x1="279.4" y1="37.3" x2="281.6" y2="37.3" stroke="#222" stroke-width="0.9"/>
<text x="250.5" y="78.8" font-size="10.4" fill="#111">F(ab')<tspan font-size="6.5" dy="2.5">2</tspan></text>
<text x="251" y="91" font-size="9.2" fill="#111" textLength="27.4" lengthAdjust="spacingAndGlyphs">&#945;-IgM</text>
<path d="M285.1 55.7 L285.1,55.5 285.6,55.5 286.1,55.5 286.6,55.5 287.1,55.4 287.6,55.4 288.1,55.4 288.6,55.4 289.1,55.4 289.6,55.4 290.1,55.4 290.5,55.4 291,55.4 291.5,55.4 292,55.3 292.5,55.3 293,55.3 293.5,55.3 294,55.3 294.5,55.3 295,55.3 295.5,55.3 296,55.3 296.5,55.2 297,55.2 297.5,55.2 298,55.2 298.5,55.2 299,55.2 299.5,55.2 300,55.2 300.5,55.1 300.9,55.1 301.4,55.1 301.9,55.1 302.4,55.1 302.9,55.1 303.4,55.1 303.9,55.1 304.4,55.1 304.9,55 305.4,55 305.9,55 306.4,55 306.9,55 307.4,54.5 307.9,54.8 308.4,55 308.9,55 309.4,54.5 309.9,54.1 310.4,54.1 310.9,54.3 311.4,54.4 311.8,54.5 312.3,54.5 312.8,54.5 313.3,54.4 313.8,54 314.3,53.8 314.8,53.7 315.3,53.7 315.8,53.7 316.3,53.6 316.8,53.3 317.3,53 317.8,52.8 318.3,52.5 318.8,52 319.3,51.5 319.8,50.9 320.3,49.8 320.8,48.5 321.3,46.9 321.8,45.4 322.2,44 322.7,42.1 323.2,39.7 323.7,37.2 324.2,34.5 324.7,31.6 325.2,29.1 325.7,26.7 326.2,24.3 326.7,21.9 327.2,20.3 327.7,19.4 328.2,19.1 328.7,19.1 329.2,19.6 329.7,21.1 330.2,22.9 330.7,25.4 331.2,28.2 331.7,30.9 332.2,33.6 332.6,36.5 333.1,39.2 333.6,41.3 334.1,43 334.6,44.9 335.1,46.6 335.6,47.8 336.1,48.9 336.6,49.7 337.1,50.3 337.6,51.1 338.1,51.9 338.6,52.5 339.1,52.9 339.6,53.4 340.1,53.6 340.6,53.3 341.1,53.3 341.6,53.7 342.1,54 342.6,54 343.1,54 343.5,54.3 344,54.8 344.5,55 345,55.1 345.5,55.2 346,55.3 346.5,55.3 347,55.4 347.5,55.4 348,55.5 348.5,55.5 349,55.5 349.5,55.6 350,55.6 350.5,55.6 351,55.6 351.5,55.6 352,55.6 352.5,55.6 353,55.7 353.5,55.7 353.9,55.7 354.4,55.7 354.9,55.7 355.4,55.7 355.9,55.7 356.4,55.7 356.9,55.7 357.4,55.7 357.9,55.7 358.4,55.7 358.9,55.7 L358.9 55.7Z" fill="#f8c6b4" opacity="1.0"/>
<polyline points="285.1,55.5 285.6,55.5 286.1,55.5 286.6,55.5 287.1,55.4 287.6,55.4 288.1,55.4 288.6,55.4 289.1,55.4 289.6,55.4 290.1,55.4 290.5,55.4 291,55.4 291.5,55.4 292,55.3 292.5,55.3 293,55.3 293.5,55.3 294,55.3 294.5,55.3 295,55.3 295.5,55.3 296,55.3 296.5,55.2 297,55.2 297.5,55.2 298,55.2 298.5,55.2 299,55.2 299.5,55.2 300,55.2 300.5,55.1 300.9,55.1 301.4,55.1 301.9,55.1 302.4,55.1 302.9,55.1 303.4,55.1 303.9,55.1 304.4,55.1 304.9,55 305.4,55 305.9,55 306.4,55 306.9,55 307.4,54.5 307.9,54.8 308.4,55 308.9,55 309.4,54.5 309.9,54.1 310.4,54.1 310.9,54.3 311.4,54.4 311.8,54.5 312.3,54.5 312.8,54.5 313.3,54.4 313.8,54 314.3,53.8 314.8,53.7 315.3,53.7 315.8,53.7 316.3,53.6 316.8,53.3 317.3,53 317.8,52.8 318.3,52.5 318.8,52 319.3,51.5 319.8,50.9 320.3,49.8 320.8,48.5 321.3,46.9 321.8,45.4 322.2,44 322.7,42.1 323.2,39.7 323.7,37.2 324.2,34.5 324.7,31.6 325.2,29.1 325.7,26.7 326.2,24.3 326.7,21.9 327.2,20.3 327.7,19.4 328.2,19.1 328.7,19.1 329.2,19.6 329.7,21.1 330.2,22.9 330.7,25.4 331.2,28.2 331.7,30.9 332.2,33.6 332.6,36.5 333.1,39.2 333.6,41.3 334.1,43 334.6,44.9 335.1,46.6 335.6,47.8 336.1,48.9 336.6,49.7 337.1,50.3 337.6,51.1 338.1,51.9 338.6,52.5 339.1,52.9 339.6,53.4 340.1,53.6 340.6,53.3 341.1,53.3 341.6,53.7 342.1,54 342.6,54 343.1,54 343.5,54.3 344,54.8 344.5,55 345,55.1 345.5,55.2 346,55.3 346.5,55.3 347,55.4 347.5,55.4 348,55.5 348.5,55.5 349,55.5 349.5,55.6 350,55.6 350.5,55.6 351,55.6 351.5,55.6 352,55.6 352.5,55.6 353,55.7 353.5,55.7 353.9,55.7 354.4,55.7 354.9,55.7 355.4,55.7 355.9,55.7 356.4,55.7 356.9,55.7 357.4,55.7 357.9,55.7 358.4,55.7 358.9,55.7" fill="none" stroke="#3a1010" stroke-width="1.5" stroke-linejoin="round"/>
<polyline points="285.1,55.5 285.6,55.5 286.1,55.5 286.6,55.5 287.1,55.4 287.6,55.4 288.1,55.4 288.6,55.4 289.1,55.4 289.6,55.4 290.1,55.4 290.5,55.4 291,55.4 291.5,55.4 292,55.3 292.5,55.3 293,55.3 293.5,55.3 294,55.3 294.5,55.3 295,55.3 295.5,55.3 296,55.3 296.5,55.2 297,55.2 297.5,55.2 298,55.2 298.5,55.2 299,55.2 299.5,55.2 300,55.2 300.5,55.1 300.9,55.1 301.4,55.1 301.9,55.1 302.4,55.1 302.9,55.1 303.4,55.1 303.9,55.1 304.4,55.1 304.9,55 305.4,55 305.9,55 306.4,55 306.9,55 307.4,55 307.9,55.1 308.4,55.3 308.9,55.3 309.4,55.2 309.9,54.9 310.4,54.5 310.9,54.5 311.4,54.8 311.8,54.9 312.3,54.6 312.8,54.1 313.3,53.4 313.8,52.9 314.3,53.2 314.8,53.7 315.3,53.9 315.8,54 316.3,53.9 316.8,53.6 317.3,53.1 317.8,52.5 318.3,51.9 318.8,51.6 319.3,51.2 319.8,50.3 320.3,48.9 320.8,47.5 321.3,46.2 321.8,44.7 322.2,43.2 322.7,41.5 323.2,39 323.7,36.4 324.2,34.1 324.7,31.2 325.2,28.2 325.7,25.7 326.2,23.3 326.7,21.3 327.2,20.1 327.7,19.2 328.2,19.1 328.7,19.3 329.2,20.1 329.7,21.3 330.2,23 330.7,25.4 331.2,27.9 331.7,30.1 332.2,32.7 332.6,35.7 333.1,38.7 333.6,41.1 334.1,43.1 334.6,45.1 335.1,46.8 335.6,47.5 336.1,48.4 336.6,49.8 337.1,50.6 337.6,51.1 338.1,51.6 338.6,52.2 339.1,52.8 339.6,53 340.1,53 340.6,53.5 341.1,54 341.6,54.2 342.1,54.2 342.6,54.2 343.1,54.5 343.5,54.8 344,55 344.5,55 345,55.1 345.5,55.2 346,55.3 346.5,55.3 347,55.4 347.5,55.4 348,55.5 348.5,55.5 349,55.5 349.5,55.6 350,55.6 350.5,55.6 351,55.6 351.5,55.6 352,55.6 352.5,55.6 353,55.7 353.5,55.7 353.9,55.7 354.4,55.7 354.9,55.7 355.4,55.7 355.9,55.7 356.4,55.7 356.9,55.7 357.4,55.7 357.9,55.7 358.4,55.7 358.9,55.7" fill="none" stroke="#b81c2a" stroke-width="1.1" stroke-linejoin="round"/>
<rect x="284.5" y="18.5" width="75" height="38" fill="none" stroke="#5a5a5a" stroke-width="0.9"/>
<line x1="300.8" y1="55.3" x2="300.8" y2="56.5" stroke="#777" stroke-width="0.5"/>
<line x1="317.1" y1="55.3" x2="317.1" y2="56.5" stroke="#777" stroke-width="0.5"/>
<line x1="333.4" y1="55.3" x2="333.4" y2="56.5" stroke="#777" stroke-width="0.5"/>
<line x1="349.7" y1="55.3" x2="349.7" y2="56.5" stroke="#777" stroke-width="0.5"/>
<path d="M364.1 55.7 L364.1,42.4 364.6,42.1 365.1,41.6 365.6,41.3 366.1,40.9 366.6,40.6 367.1,40.4 367.6,40.2 368.1,39.9 368.6,39.9 369.1,40 369.5,39.9 370,39.8 370.5,39.8 371,39.7 371.5,39.7 372,39.7 372.5,39.3 373,39 373.5,38.9 374,38.7 374.5,38.2 375,37.6 375.5,37.1 376,36.6 376.5,36 377,35.3 377.5,34.4 378,33.3 378.5,32.5 379,31.4 379.5,30.2 379.9,29 380.4,27.9 380.9,26.5 381.4,25.4 381.9,24.7 382.4,23.8 382.9,22.9 383.4,22.4 383.9,22.3 384.4,22.4 384.9,22.9 385.4,23.8 385.9,25 386.4,26.5 386.9,28.2 387.4,29.9 387.9,31.8 388.4,34 388.9,36.4 389.4,38.6 389.9,40.5 390.4,42.1 390.8,43.8 391.3,45.4 391.8,46.7 392.3,47.7 392.8,48.8 393.3,49.8 393.8,50.6 394.3,51.2 394.8,51.3 395.3,51.4 395.8,52 396.3,52.7 396.8,53 397.3,53.1 397.8,53.1 398.3,53.1 398.8,53.1 399.3,53.4 399.8,53.6 400.3,54 400.8,54.4 401.2,54.9 401.7,55 402.2,55.1 402.7,55 403.2,55.1 403.7,55.2 404.2,55.3 404.7,55.4 405.2,55.5 405.7,55.5 406.2,55.6 406.7,55.6 407.2,55.6 407.7,55.6 408.2,55.7 408.7,55.7 409.2,55.7 409.7,55.7 410.2,55.7 410.7,55.7 411.2,55.7 411.6,55.7 412.1,55.7 412.6,55.7 413.1,55.7 413.6,55.7 414.1,55.7 414.6,55.7 415.1,55.7 415.6,55.7 416.1,55.7 416.6,55.7 417.1,55.7 417.6,55.7 418.1,55.7 418.6,55.7 419.1,55.7 419.6,55.7 420.1,55.7 420.6,55.7 421.1,55.7 421.6,55.7 422.1,55.7 422.5,55.7 423,55.7 423.5,55.7 424,55.7 424.5,55.7 425,55.7 425.5,55.7 426,55.7 426.5,55.7 427,55.7 427.5,55.7 428,55.7 428.5,55.7 429,55.7 429.5,55.7 430,55.7 430.5,55.7 431,55.7 431.5,55.7 432,55.7 432.5,55.7 432.9,55.7 433.4,55.7 433.9,55.7 434.4,55.7 434.9,55.7 435.4,55.7 435.9,55.7 436.4,55.7 436.9,55.7 437.4,55.7 437.9,55.7 L437.9 55.7Z" fill="#f8c6b4" opacity="1.0"/>
<polyline points="364.1,42.4 364.6,42.1 365.1,41.6 365.6,41.3 366.1,40.9 366.6,40.6 367.1,40.4 367.6,40.2 368.1,39.9 368.6,39.9 369.1,40 369.5,39.9 370,39.8 370.5,39.8 371,39.7 371.5,39.7 372,39.7 372.5,39.3 373,39 373.5,38.9 374,38.7 374.5,38.2 375,37.6 375.5,37.1 376,36.6 376.5,36 377,35.3 377.5,34.4 378,33.3 378.5,32.5 379,31.4 379.5,30.2 379.9,29 380.4,27.9 380.9,26.5 381.4,25.4 381.9,24.7 382.4,23.8 382.9,22.9 383.4,22.4 383.9,22.3 384.4,22.4 384.9,22.9 385.4,23.8 385.9,25 386.4,26.5 386.9,28.2 387.4,29.9 387.9,31.8 388.4,34 388.9,36.4 389.4,38.6 389.9,40.5 390.4,42.1 390.8,43.8 391.3,45.4 391.8,46.7 392.3,47.7 392.8,48.8 393.3,49.8 393.8,50.6 394.3,51.2 394.8,51.3 395.3,51.4 395.8,52 396.3,52.7 396.8,53 397.3,53.1 397.8,53.1 398.3,53.1 398.8,53.1 399.3,53.4 399.8,53.6 400.3,54 400.8,54.4 401.2,54.9 401.7,55 402.2,55.1 402.7,55 403.2,55.1 403.7,55.2 404.2,55.3 404.7,55.4 405.2,55.5 405.7,55.5 406.2,55.6 406.7,55.6 407.2,55.6 407.7,55.6 408.2,55.7 408.7,55.7 409.2,55.7 409.7,55.7 410.2,55.7 410.7,55.7 411.2,55.7 411.6,55.7 412.1,55.7 412.6,55.7 413.1,55.7 413.6,55.7 414.1,55.7 414.6,55.7 415.1,55.7 415.6,55.7 416.1,55.7 416.6,55.7 417.1,55.7 417.6,55.7 418.1,55.7 418.6,55.7 419.1,55.7 419.6,55.7 420.1,55.7 420.6,55.7 421.1,55.7 421.6,55.7 422.1,55.7 422.5,55.7 423,55.7 423.5,55.7 424,55.7 424.5,55.7 425,55.7 425.5,55.7 426,55.7 426.5,55.7 427,55.7 427.5,55.7 428,55.7 428.5,55.7 429,55.7 429.5,55.7 430,55.7 430.5,55.7 431,55.7 431.5,55.7 432,55.7 432.5,55.7 432.9,55.7 433.4,55.7 433.9,55.7 434.4,55.7 434.9,55.7 435.4,55.7 435.9,55.7 436.4,55.7 436.9,55.7 437.4,55.7 437.9,55.7" fill="none" stroke="#3a1010" stroke-width="1.5" stroke-linejoin="round"/>
<polyline points="364.1,41.7 364.6,41.7 365.1,41.7 365.6,41.7 366.1,41.3 366.6,40.9 367.1,40.8 367.6,40.9 368.1,40.4 368.6,39.9 369.1,40.2 369.5,40.5 370,40.3 370.5,39.8 371,39 371.5,38.8 372,39.3 372.5,39.3 373,38.4 373.5,37.7 374,37.4 374.5,37.4 375,37.5 375.5,37.5 376,37.2 376.5,36.4 377,35.2 377.5,33.9 378,32.7 378.5,32.1 379,31.2 379.5,29.7 379.9,28.2 380.4,27.5 380.9,26.7 381.4,25.2 381.9,23.8 382.4,23.1 382.9,22.4 383.4,21.7 383.9,21.8 384.4,22.5 384.9,23.2 385.4,24 385.9,24.9 386.4,26.1 386.9,27.7 387.4,29.9 387.9,32.4 388.4,34.2 388.9,35.9 389.4,37.8 389.9,40 390.4,42.3 390.8,44.1 391.3,45.6 391.8,47.3 392.3,48.6 392.8,49.1 393.3,49.9 393.8,50.9 394.3,51.8 394.8,52.4 395.3,52.6 395.8,52.6 396.3,52.9 396.8,53.4 397.3,53.6 397.8,53.8 398.3,54 398.8,53.8 399.3,54.1 399.8,54.3 400.3,54.1 400.8,54.4 401.2,54.5 401.7,54.4 402.2,54.4 402.7,55 403.2,55.1 403.7,55.2 404.2,55.3 404.7,55.4 405.2,55.5 405.7,55.5 406.2,55.6 406.7,55.6 407.2,55.6 407.7,55.6 408.2,55.7 408.7,55.7 409.2,55.7 409.7,55.7 410.2,55.7 410.7,55.7 411.2,55.7 411.6,55.7 412.1,55.7 412.6,55.7 413.1,55.7 413.6,55.7 414.1,55.7 414.6,55.7 415.1,55.7 415.6,55.7 416.1,55.7 416.6,55.7 417.1,55.7 417.6,55.7 418.1,55.7 418.6,55.7 419.1,55.7 419.6,55.7 420.1,55.7 420.6,55.7 421.1,55.7 421.6,55.7 422.1,55.7 422.5,55.7 423,55.7 423.5,55.7 424,55.7 424.5,55.7 425,55.7 425.5,55.7 426,55.7 426.5,55.7 427,55.7 427.5,55.7 428,55.7 428.5,55.7 429,55.7 429.5,55.7 430,55.7 430.5,55.7 431,55.7 431.5,55.7 432,55.7 432.5,55.7 432.9,55.7 433.4,55.7 433.9,55.7 434.4,55.7 434.9,55.7 435.4,55.7 435.9,55.7 436.4,55.7 436.9,55.7 437.4,55.7 437.9,55.7" fill="none" stroke="#b81c2a" stroke-width="1.1" stroke-linejoin="round"/>
<rect x="363.5" y="18.5" width="75" height="38" fill="none" stroke="#5a5a5a" stroke-width="0.9"/>
<line x1="379.8" y1="55.3" x2="379.8" y2="56.5" stroke="#777" stroke-width="0.5"/>
<line x1="396.1" y1="55.3" x2="396.1" y2="56.5" stroke="#777" stroke-width="0.5"/>
<line x1="412.4" y1="55.3" x2="412.4" y2="56.5" stroke="#777" stroke-width="0.5"/>
<line x1="428.7" y1="55.3" x2="428.7" y2="56.5" stroke="#777" stroke-width="0.5"/>
<line x1="363.5" y1="19" x2="363.5" y2="56" stroke="#8a2a3a" stroke-width="1.1"/>
<path d="M443.1 55.7 L443.1,48.3 443.6,48.3 444.1,48.4 444.6,48.4 445.1,48.4 445.6,48.4 446.1,47.9 446.6,47.7 447.1,47.7 447.6,47.6 448.1,47.2 448.5,46.9 449,46.7 449.5,46.6 450,46.8 450.5,46.7 451,46.7 451.5,46.7 452,46.5 452.5,46.2 453,46 453.5,45.9 454,45.9 454.5,45.7 455,45.5 455.5,45.4 456,45.1 456.5,44.6 457,44.2 457.5,43.7 458,42.9 458.5,41.9 458.9,41.3 459.4,40.9 459.9,40.3 460.4,39.4 460.9,38.9 461.4,38.3 461.9,37.5 462.4,36.5 462.9,35.4 463.4,34.5 463.9,33.6 464.4,32.8 464.9,32 465.4,31 465.9,29.9 466.4,29 466.9,28.2 467.4,27.2 467.9,26.6 468.4,26.4 468.9,26.2 469.4,25.9 469.8,25.5 470.3,25.3 470.8,25.5 471.3,25.9 471.8,26.5 472.3,27.3 472.8,28.2 473.3,29.8 473.8,31.9 474.3,33.9 474.8,35.7 475.3,37.7 475.8,39.9 476.3,41.9 476.8,43.7 477.3,45.3 477.8,46.9 478.3,48.4 478.8,49.7 479.3,51.1 479.8,52.1 480.2,52.7 480.7,53.2 481.2,53.7 481.7,53.9 482.2,54.4 482.7,55 483.2,55.1 483.7,55.3 484.2,55.4 484.7,55.5 485.2,55.6 485.7,55.6 486.2,55.6 486.7,55.7 487.2,55.7 487.7,55.7 488.2,55.7 488.7,55.7 489.2,55.7 489.7,55.7 490.2,55.7 490.6,55.7 491.1,55.7 491.6,55.7 492.1,55.7 492.6,55.7 493.1,55.7 493.6,55.7 494.1,55.7 494.6,55.7 495.1,55.7 495.6,55.7 496.1,55.7 496.6,55.7 497.1,55.7 497.6,55.7 498.1,55.7 498.6,55.7 499.1,55.7 499.6,55.7 500.1,55.7 500.6,55.7 501.1,55.7 501.5,55.7 502,55.7 502.5,55.7 503,55.7 503.5,55.7 504,55.7 504.5,55.7 505,55.7 505.5,55.7 506,55.7 506.5,55.7 507,55.7 507.5,55.7 508,55.7 508.5,55.7 509,55.7 509.5,55.7 510,55.7 510.5,55.7 511,55.7 511.5,55.7 511.9,55.7 512.4,55.7 512.9,55.7 513.4,55.7 513.9,55.7 514.4,55.7 514.9,55.7 515.4,55.7 515.9,55.7 516.4,55.7 516.9,55.7 L516.9 55.7Z" fill="#f8c6b4" opacity="1.0"/>
<polyline points="443.1,48.3 443.6,48.3 444.1,48.4 444.6,48.4 445.1,48.4 445.6,48.4 446.1,47.9 446.6,47.7 447.1,47.7 447.6,47.6 448.1,47.2 448.5,46.9 449,46.7 449.5,46.6 450,46.8 450.5,46.7 451,46.7 451.5,46.7 452,46.5 452.5,46.2 453,46 453.5,45.9 454,45.9 454.5,45.7 455,45.5 455.5,45.4 456,45.1 456.5,44.6 457,44.2 457.5,43.7 458,42.9 458.5,41.9 458.9,41.3 459.4,40.9 459.9,40.3 460.4,39.4 460.9,38.9 461.4,38.3 461.9,37.5 462.4,36.5 462.9,35.4 463.4,34.5 463.9,33.6 464.4,32.8 464.9,32 465.4,31 465.9,29.9 466.4,29 466.9,28.2 467.4,27.2 467.9,26.6 468.4,26.4 468.9,26.2 469.4,25.9 469.8,25.5 470.3,25.3 470.8,25.5 471.3,25.9 471.8,26.5 472.3,27.3 472.8,28.2 473.3,29.8 473.8,31.9 474.3,33.9 474.8,35.7 475.3,37.7 475.8,39.9 476.3,41.9 476.8,43.7 477.3,45.3 477.8,46.9 478.3,48.4 478.8,49.7 479.3,51.1 479.8,52.1 480.2,52.7 480.7,53.2 481.2,53.7 481.7,53.9 482.2,54.4 482.7,55 483.2,55.1 483.7,55.3 484.2,55.4 484.7,55.5 485.2,55.6 485.7,55.6 486.2,55.6 486.7,55.7 487.2,55.7 487.7,55.7 488.2,55.7 488.7,55.7 489.2,55.7 489.7,55.7 490.2,55.7 490.6,55.7 491.1,55.7 491.6,55.7 492.1,55.7 492.6,55.7 493.1,55.7 493.6,55.7 494.1,55.7 494.6,55.7 495.1,55.7 495.6,55.7 496.1,55.7 496.6,55.7 497.1,55.7 497.6,55.7 498.1,55.7 498.6,55.7 499.1,55.7 499.6,55.7 500.1,55.7 500.6,55.7 501.1,55.7 501.5,55.7 502,55.7 502.5,55.7 503,55.7 503.5,55.7 504,55.7 504.5,55.7 505,55.7 505.5,55.7 506,55.7 506.5,55.7 507,55.7 507.5,55.7 508,55.7 508.5,55.7 509,55.7 509.5,55.7 510,55.7 510.5,55.7 511,55.7 511.5,55.7 511.9,55.7 512.4,55.7 512.9,55.7 513.4,55.7 513.9,55.7 514.4,55.7 514.9,55.7 515.4,55.7 515.9,55.7 516.4,55.7 516.9,55.7" fill="none" stroke="#3a1010" stroke-width="1.5" stroke-linejoin="round"/>
<polyline points="443.1,47.9 443.6,48 444.1,48.6 444.6,48.7 445.1,48.5 445.6,48.6 446.1,48.6 446.6,47.9 447.1,47.5 447.6,47.1 448.1,46.8 448.5,47 449,47.3 449.5,47.4 450,47.5 450.5,47.3 451,47 451.5,46.8 452,46.4 452.5,45.7 453,45.4 453.5,45.4 454,45.3 454.5,45 455,44.7 455.5,44.5 456,44.3 456.5,44.5 457,44.5 457.5,44.2 458,43.3 458.5,42.2 458.9,41.5 459.4,41.3 459.9,40.9 460.4,40.3 460.9,39.8 461.4,39.1 461.9,38.3 462.4,37.4 462.9,36.2 463.4,35.2 463.9,34.5 464.4,33.7 464.9,32.4 465.4,31 465.9,29.9 466.4,28.8 466.9,28 467.4,27.7 467.9,27 468.4,25.9 468.9,25.3 469.4,25.4 469.8,25.2 470.3,24.8 470.8,24.6 471.3,24.9 471.8,25.9 472.3,27.1 472.8,28.3 473.3,29.7 473.8,32 474.3,34.4 474.8,36 475.3,37.4 475.8,39.1 476.3,41.4 476.8,43.3 477.3,44.8 477.8,46.3 478.3,47.9 478.8,49.2 479.3,50.5 479.8,51.7 480.2,52.7 480.7,53.4 481.2,54 481.7,54.3 482.2,54.6 482.7,54.6 483.2,55.1 483.7,55.3 484.2,55.4 484.7,55.5 485.2,55.6 485.7,55.6 486.2,55.6 486.7,55.7 487.2,55.7 487.7,55.7 488.2,55.7 488.7,55.7 489.2,55.7 489.7,55.7 490.2,55.7 490.6,55.7 491.1,55.7 491.6,55.7 492.1,55.7 492.6,55.7 493.1,55.7 493.6,55.7 494.1,55.7 494.6,55.7 495.1,55.7 495.6,55.7 496.1,55.7 496.6,55.7 497.1,55.7 497.6,55.7 498.1,55.7 498.6,55.7 499.1,55.7 499.6,55.7 500.1,55.7 500.6,55.7 501.1,55.7 501.5,55.7 502,55.7 502.5,55.7 503,55.7 503.5,55.7 504,55.7 504.5,55.7 505,55.7 505.5,55.7 506,55.7 506.5,55.7 507,55.7 507.5,55.7 508,55.7 508.5,55.7 509,55.7 509.5,55.7 510,55.7 510.5,55.7 511,55.7 511.5,55.7 511.9,55.7 512.4,55.7 512.9,55.7 513.4,55.7 513.9,55.7 514.4,55.7 514.9,55.7 515.4,55.7 515.9,55.7 516.4,55.7 516.9,55.7" fill="none" stroke="#b81c2a" stroke-width="1.1" stroke-linejoin="round"/>
<rect x="442.5" y="18.5" width="75" height="38" fill="none" stroke="#5a5a5a" stroke-width="0.9"/>
<line x1="458.8" y1="55.3" x2="458.8" y2="56.5" stroke="#777" stroke-width="0.5"/>
<line x1="475.1" y1="55.3" x2="475.1" y2="56.5" stroke="#777" stroke-width="0.5"/>
<line x1="491.4" y1="55.3" x2="491.4" y2="56.5" stroke="#777" stroke-width="0.5"/>
<line x1="507.7" y1="55.3" x2="507.7" y2="56.5" stroke="#777" stroke-width="0.5"/>
<line x1="442.5" y1="19" x2="442.5" y2="56" stroke="#8a2a3a" stroke-width="1.1"/>
<path d="M285.1 99.2 L285.1,99.2 285.6,99.2 286.1,99.2 286.6,99.2 287.1,99.2 287.6,99.2 288.1,99.2 288.6,99.2 289.1,99.1 289.6,99.1 290.1,99.1 290.5,99.1 291,99.1 291.5,99.1 292,99.1 292.5,99.1 293,99.1 293.5,99.1 294,99.1 294.5,99 295,99 295.5,99 296,99 296.5,99 297,99 297.5,98.9 298,98.9 298.5,98.9 299,98.9 299.5,98.8 300,98.8 300.5,98.8 300.9,98.7 301.4,98.7 301.9,98.7 302.4,98.6 302.9,98.6 303.4,98.6 303.9,98.5 304.4,98.5 304.9,98.5 305.4,98.5 305.9,98 306.4,97.5 306.9,97.6 307.4,98 307.9,98.4 308.4,98.5 308.9,98.4 309.4,98.2 309.9,98 310.4,98.1 310.9,98.2 311.4,98.3 311.8,98 312.3,97.8 312.8,97.8 313.3,97.5 313.8,97.3 314.3,97.5 314.8,97.5 315.3,97.1 315.8,96.4 316.3,96 316.8,96.1 317.3,96.2 317.8,95.9 318.3,95.5 318.8,95 319.3,94.3 319.8,93.8 320.3,93.5 320.8,92.9 321.3,92.2 321.8,91.6 322.2,91.1 322.7,90.4 323.2,89.7 323.7,88.9 324.2,87.8 324.7,86.9 325.2,86 325.7,84.9 326.2,83.4 326.7,81.5 327.2,79.9 327.7,78.7 328.2,77.7 328.7,76.6 329.2,75.4 329.7,74.2 330.2,73.1 330.7,71.9 331.2,70.6 331.7,69.6 332.2,68.6 332.6,67.5 333.1,66.5 333.6,65.8 334.1,65.3 334.6,65 335.1,64.8 335.6,64.8 336.1,64.9 336.6,65.1 337.1,65.4 337.6,66.2 338.1,67.5 338.6,69.3 339.1,71 339.6,72.5 340.1,74.3 340.6,76.3 341.1,78.2 341.6,80 342.1,82 342.6,83.9 343.1,85.4 343.5,87 344,88.8 344.5,90.3 345,91.6 345.5,92.7 346,93.9 346.5,95 347,95.8 347.5,96.4 348,96.8 348.5,97.2 349,97.8 349.5,98.6 350,99.2 350.5,98.5 351,98.6 351.5,98.8 352,98.9 352.5,99 353,99 353.5,99.1 353.9,99.1 354.4,99.1 354.9,99.1 355.4,99.2 355.9,99.2 356.4,99.2 356.9,99.2 357.4,99.2 357.9,99.2 358.4,99.2 358.9,99.2 L358.9 99.2Z" fill="#e8eaeb" opacity="1.0"/>
<path d="M285.1 99.2 L285.1,99.2 285.6,99.2 286.1,99.2 286.6,99.2 287.1,99.2 287.6,99.2 288.1,99.2 288.6,99.2 289.1,99.2 289.6,99.2 290.1,99.2 290.5,99.1 291,99.1 291.5,99.1 292,99.1 292.5,99.1 293,99.1 293.5,99.1 294,99.1 294.5,99.1 295,99.1 295.5,99.1 296,99 296.5,99 297,99 297.5,99 298,99 298.5,99 299,98.9 299.5,98.9 300,98.9 300.5,98.9 300.9,98.9 301.4,98.8 301.9,98.8 302.4,98.8 302.9,98.8 303.4,98.7 303.9,98.7 304.4,98.7 304.9,98.6 305.4,98.6 305.9,98.6 306.4,98.6 306.9,98.5 307.4,98.5 307.9,98.5 308.4,98.5 308.9,98.4 309.4,98.3 309.9,98.3 310.4,98.2 310.9,98.1 311.4,98.1 311.8,98.2 312.3,98.2 312.8,98.1 313.3,98 313.8,98 314.3,98 314.8,98.1 315.3,98.1 315.8,97.9 316.3,97.8 316.8,97.6 317.3,97.6 317.8,97.8 318.3,97.8 318.8,97.5 319.3,97.4 319.8,97.1 320.3,96.7 320.8,96.4 321.3,96.1 321.8,95.9 322.2,95.6 322.7,95.3 323.2,94.8 323.7,94.2 324.2,93.8 324.7,93.5 325.2,92.9 325.7,92.1 326.2,91.4 326.7,90.7 327.2,89.9 327.7,88.7 328.2,87.6 328.7,86.8 329.2,86 329.7,85.2 330.2,84.4 330.7,83.1 331.2,81.6 331.7,80.3 332.2,79.2 332.6,78.1 333.1,76.9 333.6,75.6 334.1,74.5 334.6,73.4 335.1,72.3 335.6,71 336.1,69.5 336.6,68.3 337.1,67.6 337.6,66.8 338.1,66 338.6,65.3 339.1,64.8 339.6,64.6 340.1,64.5 340.6,64.5 341.1,64.5 341.6,64.6 342.1,65.2 342.6,66.2 343.1,67.2 343.5,68.3 344,69.4 344.5,70.5 345,71.9 345.5,73.5 346,74.9 346.5,76.4 347,78 347.5,79.5 348,81.3 348.5,83.3 349,84.9 349.5,86.3 350,87.8 350.5,89.2 351,90.7 351.5,92 352,93.1 352.5,94 353,94.8 353.5,95.6 353.9,96.2 354.4,96.5 354.9,96.9 355.4,97.5 355.9,98.1 356.4,98.4 356.9,98.4 357.4,98.5 357.9,98.6 358.4,98.7 358.9,98.8 L358.9 99.2Z" fill="#f8c9b9" opacity="0.85"/>
<polyline points="285.1,99.2 285.6,99.2 286.1,99.2 286.6,99.2 287.1,99.2 287.6,99.2 288.1,99.2 288.6,99.2 289.1,99.2 289.6,99.2 290.1,99.2 290.5,99.1 291,99.1 291.5,99.1 292,99.1 292.5,99.1 293,99.1 293.5,99.1 294,99.1 294.5,99.1 295,99.1 295.5,99.1 296,99 296.5,99 297,99 297.5,99 298,99 298.5,99 299,98.9 299.5,98.9 300,98.9 300.5,98.9 300.9,98.9 301.4,98.8 301.9,98.8 302.4,98.8 302.9,98.8 303.4,98.7 303.9,98.7 304.4,98.7 304.9,98.6 305.4,98.6 305.9,98.6 306.4,98.6 306.9,98.5 307.4,98.5 307.9,98.5 308.4,98.5 308.9,98.4 309.4,98.3 309.9,98.3 310.4,98.2 310.9,98.1 311.4,98.1 311.8,98.2 312.3,98.2 312.8,98.1 313.3,98 313.8,98 314.3,98 314.8,98.1 315.3,98.1 315.8,97.9 316.3,97.8 316.8,97.6 317.3,97.6 317.8,97.8 318.3,97.8 318.8,97.5 319.3,97.4 319.8,97.1 320.3,96.7 320.8,96.4 321.3,96.1 321.8,95.9 322.2,95.6 322.7,95.3 323.2,94.8 323.7,94.2 324.2,93.8 324.7,93.5 325.2,92.9 325.7,92.1 326.2,91.4 326.7,90.7 327.2,89.9 327.7,88.7 328.2,87.6 328.7,86.8 329.2,86 329.7,85.2 330.2,84.4 330.7,83.1 331.2,81.6 331.7,80.3 332.2,79.2 332.6,78.1 333.1,76.9 333.6,75.6 334.1,74.5 334.6,73.4 335.1,72.3 335.6,71 336.1,69.5 336.6,68.3 337.1,67.6 337.6,66.8 338.1,66 338.6,65.3 339.1,64.8 339.6,64.6 340.1,64.5 340.6,64.5 341.1,64.5 341.6,64.6 342.1,65.2 342.6,66.2 343.1,67.2 343.5,68.3 344,69.4 344.5,70.5 345,71.9 345.5,73.5 346,74.9 346.5,76.4 347,78 347.5,79.5 348,81.3 348.5,83.3 349,84.9 349.5,86.3 350,87.8 350.5,89.2 351,90.7 351.5,92 352,93.1 352.5,94 353,94.8 353.5,95.6 353.9,96.2 354.4,96.5 354.9,96.9 355.4,97.5 355.9,98.1 356.4,98.4 356.9,98.4 357.4,98.5 357.9,98.6 358.4,98.7 358.9,98.8" fill="none" stroke="#f6bcaa" stroke-width="0.7" stroke-linejoin="round"/>
<polyline points="285.1,99.2 285.6,99.2 286.1,99.2 286.6,99.2 287.1,99.2 287.6,99.2 288.1,99.2 288.6,99.2 289.1,99.1 289.6,99.1 290.1,99.1 290.5,99.1 291,99.1 291.5,99.1 292,99.1 292.5,99.1 293,99.1 293.5,99.1 294,99.1 294.5,99 295,99 295.5,99 296,99 296.5,99 297,99 297.5,98.9 298,98.9 298.5,98.9 299,98.9 299.5,98.8 300,98.8 300.5,98.8 300.9,98.7 301.4,98.7 301.9,98.7 302.4,98.6 302.9,98.6 303.4,98.6 303.9,98.5 304.4,98.5 304.9,98.5 305.4,98.5 305.9,98 306.4,97.5 306.9,97.6 307.4,98 307.9,98.4 308.4,98.5 308.9,98.4 309.4,98.2 309.9,98 310.4,98.1 310.9,98.2 311.4,98.3 311.8,98 312.3,97.8 312.8,97.8 313.3,97.5 313.8,97.3 314.3,97.5 314.8,97.5 315.3,97.1 315.8,96.4 316.3,96 316.8,96.1 317.3,96.2 317.8,95.9 318.3,95.5 318.8,95 319.3,94.3 319.8,93.8 320.3,93.5 320.8,92.9 321.3,92.2 321.8,91.6 322.2,91.1 322.7,90.4 323.2,89.7 323.7,88.9 324.2,87.8 324.7,86.9 325.2,86 325.7,84.9 326.2,83.4 326.7,81.5 327.2,79.9 327.7,78.7 328.2,77.7 328.7,76.6 329.2,75.4 329.7,74.2 330.2,73.1 330.7,71.9 331.2,70.6 331.7,69.6 332.2,68.6 332.6,67.5 333.1,66.5 333.6,65.8 334.1,65.3 334.6,65 335.1,64.8 335.6,64.8 336.1,64.9 336.6,65.1 337.1,65.4 337.6,66.2 338.1,67.5 338.6,69.3 339.1,71 339.6,72.5 340.1,74.3 340.6,76.3 341.1,78.2 341.6,80 342.1,82 342.6,83.9 343.1,85.4 343.5,87 344,88.8 344.5,90.3 345,91.6 345.5,92.7 346,93.9 346.5,95 347,95.8 347.5,96.4 348,96.8 348.5,97.2 349,97.8 349.5,98.6 350,99.2 350.5,98.5 351,98.6 351.5,98.8 352,98.9 352.5,99 353,99 353.5,99.1 353.9,99.1 354.4,99.1 354.9,99.1 355.4,99.2 355.9,99.2 356.4,99.2 356.9,99.2 357.4,99.2 357.9,99.2 358.4,99.2 358.9,99.2" fill="none" stroke="#d4d6d8" stroke-width="0.6" stroke-linejoin="round"/>
<polyline points="285.1,99.1 285.6,99.1 286.1,99.1 286.6,99 287.1,99 287.6,99 288.1,99 288.6,99 289.1,99 289.6,98.9 290.1,98.9 290.5,98.9 291,98.9 291.5,98.8 292,98.8 292.5,98.8 293,98.7 293.5,98.7 294,98.7 294.5,98.6 295,98.6 295.5,98.5 296,98.5 296.5,98.1 297,98.6 297.5,98.4 298,97.9 298.5,97.8 299,98.6 299.5,99 300,98.5 300.5,98.2 300.9,98.4 301.4,98.3 301.9,97.5 302.4,97.1 302.9,97.3 303.4,96.9 303.9,96.3 304.4,95.8 304.9,95.8 305.4,95.9 305.9,95.6 306.4,95.5 306.9,95.5 307.4,95.3 307.9,95.4 308.4,95 308.9,94.1 309.4,93.8 309.9,93.8 310.4,93.6 310.9,93.6 311.4,93.2 311.8,92.4 312.3,91.5 312.8,90.5 313.3,89.6 313.8,89.1 314.3,88.5 314.8,87.9 315.3,87.5 315.8,86.8 316.3,85.8 316.8,84.6 317.3,83.7 317.8,83.3 318.3,82.8 318.8,81.8 319.3,80.6 319.8,79.5 320.3,78.6 320.8,77.6 321.3,76.3 321.8,75.3 322.2,74.5 322.7,73.5 323.2,72.8 323.7,72.1 324.2,71.3 324.7,70.6 325.2,69.7 325.7,68.4 326.2,67.1 326.7,66.3 327.2,66 327.7,65.4 328.2,65.1 328.7,64.7 329.2,64.2 329.7,63.6 330.2,63.2 330.7,63.7 331.2,64.1 331.7,63.9 332.2,64.4 332.6,65.4 333.1,66.1 333.6,66 334.1,66.1 334.6,67 335.1,68 335.6,69.4 336.1,71.1 336.6,72.9 337.1,74.8 337.6,76.3 338.1,77.6 338.6,79.4 339.1,81.3 339.6,82.8 340.1,84.3 340.6,85.8 341.1,87.1 341.6,88.7 342.1,90.3 342.6,91 343.1,91.6 343.5,92.7 344,93.4 344.5,93.9 345,94.8 345.5,95.9 346,96.4 346.5,96.5 347,96.9 347.5,97.6 348,97.9 348.5,97.6 349,97.5 349.5,98 350,98.5 350.5,98.6 351,98.7 351.5,98.8 352,98.9 352.5,99 353,99 353.5,99.1 353.9,99.1 354.4,99.1 354.9,99.1 355.4,99.2 355.9,99.2 356.4,99.2 356.9,99.2 357.4,99.2 357.9,99.2 358.4,99.2 358.9,99.2" fill="none" stroke="#141414" stroke-width="1.1" stroke-linejoin="round"/>
<polyline points="285.1,99.1 285.6,99.1 286.1,99.1 286.6,99 287.1,99 287.6,99 288.1,99 288.6,99 289.1,99 289.6,98.9 290.1,98.9 290.5,98.9 291,98.9 291.5,98.8 292,98.8 292.5,98.8 293,98.7 293.5,98.7 294,98.6 294.5,98.6 295,98.5 295.5,98.5 296,98.3 296.5,97.9 297,97.8 297.5,97.8 298,97.7 298.5,97.6 299,97.6 299.5,97.7 300,97.8 300.5,97.4 300.9,97 301.4,97.2 301.9,97.2 302.4,96.8 302.9,96.6 303.4,96.8 303.9,97 304.4,96.9 304.9,96.8 305.4,96.4 305.9,95.9 306.4,95.3 306.9,94.5 307.4,93.7 307.9,93.7 308.4,94 308.9,94.2 309.4,94 309.9,93.7 310.4,93.2 310.9,92.7 311.4,92.1 311.8,91.5 312.3,91.1 312.8,90.7 313.3,89.8 313.8,88.6 314.3,87.5 314.8,86.5 315.3,85.8 315.8,85.3 316.3,84.6 316.8,83.7 317.3,82.3 317.8,81.4 318.3,81 318.8,80.5 319.3,79.7 319.8,78.9 320.3,77.7 320.8,76.3 321.3,75.3 321.8,74.3 322.2,73.4 322.7,72.6 323.2,71.8 323.7,71 324.2,70.1 324.7,69.2 325.2,68.2 325.7,67.2 326.2,66.4 326.7,65.9 327.2,65.6 327.7,65.4 328.2,65.3 328.7,64.9 329.2,64.3 329.7,63.9 330.2,63.8 330.7,63.7 331.2,63.7 331.7,63.8 332.2,64.1 332.6,64.8 333.1,65.6 333.6,66.1 334.1,67.1 334.6,68.8 335.1,70.5 335.6,72.1 336.1,73.3 336.6,74.4 337.1,76 337.6,77.7 338.1,79 338.6,80.2 339.1,81.8 339.6,83.4 340.1,84.5 340.6,85.9 341.1,87.6 341.6,89.3 342.1,90.8 342.6,91.8 343.1,92.5 343.5,93 344,93.6 344.5,94.2 345,95 345.5,95.9 346,96.9 346.5,97.6 347,97.9 347.5,98 348,98.2 348.5,98.5 349,98.8 349.5,99 350,98.5 350.5,98.6 351,98.8 351.5,98.8 352,98.9 352.5,99 353,99 353.5,99.1 353.9,99.1 354.4,99.1 354.9,99.1 355.4,99.1 355.9,99.2 356.4,99.2 356.9,99.2 357.4,99.2 357.9,99.2 358.4,99.2 358.9,99.2" fill="none" stroke="#d4202c" stroke-width="1.1" stroke-linejoin="round"/>
<rect x="284.5" y="61.5" width="75" height="38.5" fill="none" stroke="#5a5a5a" stroke-width="0.9"/>
<line x1="300.8" y1="98.8" x2="300.8" y2="100" stroke="#777" stroke-width="0.5"/>
<line x1="317.1" y1="98.8" x2="317.1" y2="100" stroke="#777" stroke-width="0.5"/>
<line x1="333.4" y1="98.8" x2="333.4" y2="100" stroke="#777" stroke-width="0.5"/>
<line x1="349.7" y1="98.8" x2="349.7" y2="100" stroke="#777" stroke-width="0.5"/>
<line x1="284.5" y1="62" x2="284.5" y2="99.5" stroke="#8a2a3a" stroke-width="1.1"/>
<path d="M364.1 99.2 L364.1,97.7 364.6,97.7 365.1,97.9 365.6,98 366.1,97.6 366.6,97.4 367.1,97.5 367.6,97.6 368.1,97.4 368.6,97.2 369.1,97.3 369.5,97.7 370,97.8 370.5,97.9 371,98 371.5,97.8 372,97.5 372.5,97.5 373,97.4 373.5,97.1 374,96.8 374.5,96.9 375,97 375.5,96.9 376,96.7 376.5,96.7 377,96.4 377.5,95.9 378,95.6 378.5,96 379,96.2 379.5,95.7 379.9,94.9 380.4,94 380.9,93.2 381.4,92.7 381.9,92.1 382.4,91.4 382.9,90.6 383.4,89.7 383.9,88.3 384.4,86.9 384.9,86.1 385.4,85.5 385.9,84.7 386.4,83.5 386.9,82.4 387.4,81 387.9,79.4 388.4,77.9 388.9,76.7 389.4,75.7 389.9,74.6 390.4,73.3 390.8,71.8 391.3,70.5 391.8,69.3 392.3,68.4 392.8,67.5 393.3,66.9 393.8,66.7 394.3,66.6 394.8,66.1 395.3,65.3 395.8,65 396.3,65.2 396.8,65.8 397.3,66.6 397.8,67.6 398.3,68.4 398.8,69.4 399.3,70.7 399.8,72.3 400.3,73.8 400.8,75.3 401.2,77 401.7,78.6 402.2,80.1 402.7,81.7 403.2,83.4 403.7,84.7 404.2,86.3 404.7,87.9 405.2,89.5 405.7,91 406.2,92.4 406.7,93.3 407.2,94 407.7,94.8 408.2,95.5 408.7,96.2 409.2,96.8 409.7,97 410.2,97.1 410.7,97.2 411.2,97.3 411.6,97.7 412.1,98.1 412.6,98.5 413.1,98.7 413.6,98.8 414.1,98.9 414.6,98.9 415.1,99 415.6,99 416.1,99.1 416.6,99.1 417.1,99.1 417.6,99.1 418.1,99.2 418.6,99.2 419.1,99.2 419.6,99.2 420.1,99.2 420.6,99.2 421.1,99.2 421.6,99.2 422.1,99.2 422.5,99.2 423,99.2 423.5,99.2 424,99.2 424.5,99.2 425,99.2 425.5,99.2 426,99.2 426.5,99.2 427,99.2 427.5,99.2 428,99.2 428.5,99.2 429,99.2 429.5,99.2 430,99.2 430.5,99.2 431,99.2 431.5,99.2 432,99.2 432.5,99.2 432.9,99.2 433.4,99.2 433.9,99.2 434.4,99.2 434.9,99.2 435.4,99.2 435.9,99.2 436.4,99.2 436.9,99.2 437.4,99.2 437.9,99.2 L437.9 99.2Z" fill="#e8eaeb" opacity="1.0"/>
<path d="M364.1 99.2 L364.1,96.5 364.6,96.6 365.1,96.9 365.6,97 366.1,97 366.6,96.8 367.1,96.6 367.6,96.7 368.1,97.1 368.6,97 369.1,96.8 369.5,96.7 370,96.8 370.5,96.8 371,96.9 371.5,97.2 372,97.4 372.5,97.4 373,97.2 373.5,97.3 374,97.3 374.5,97.1 375,96.9 375.5,96.9 376,97.1 376.5,97.3 377,97.3 377.5,97.2 378,96.9 378.5,96.6 379,96.3 379.5,96 379.9,96 380.4,96 380.9,96 381.4,95.8 381.9,95.5 382.4,95.3 382.9,95.2 383.4,94.7 383.9,94.1 384.4,93.7 384.9,93.5 385.4,93.3 385.9,92.5 386.4,91.5 386.9,90.9 387.4,90.3 387.9,89.5 388.4,88.7 388.9,88.1 389.4,87.3 389.9,85.8 390.4,84.2 390.8,82.8 391.3,81.5 391.8,80.1 392.3,79 392.8,78 393.3,76.7 393.8,75.4 394.3,74.1 394.8,72.7 395.3,71.4 395.8,70.3 396.3,69.3 396.8,68.1 397.3,67 397.8,66.6 398.3,66.2 398.8,65.4 399.3,64.8 399.8,64.7 400.3,64.8 400.8,64.9 401.2,65.4 401.7,66 402.2,66.6 402.7,67.1 403.2,67.8 403.7,68.8 404.2,70.1 404.7,71.3 405.2,72.8 405.7,74.4 406.2,76.3 406.7,77.9 407.2,79.2 407.7,80.8 408.2,82.3 408.7,83.6 409.2,85 409.7,86.3 410.2,87.6 410.7,88.9 411.2,89.7 411.6,90.4 412.1,91.6 412.6,92.6 413.1,93.3 413.6,94 414.1,95 414.6,95.7 415.1,96.1 415.6,96.5 416.1,96.8 416.6,97.2 417.1,97.7 417.6,98.1 418.1,98.4 418.6,98.6 419.1,98.5 419.6,98.6 420.1,98.7 420.6,98.8 421.1,98.9 421.6,99 422.1,99 422.5,99 423,99.1 423.5,99.1 424,99.1 424.5,99.1 425,99.2 425.5,99.2 426,99.2 426.5,99.2 427,99.2 427.5,99.2 428,99.2 428.5,99.2 429,99.2 429.5,99.2 430,99.2 430.5,99.2 431,99.2 431.5,99.2 432,99.2 432.5,99.2 432.9,99.2 433.4,99.2 433.9,99.2 434.4,99.2 434.9,99.2 435.4,99.2 435.9,99.2 436.4,99.2 436.9,99.2 437.4,99.2 437.9,99.2 L437.9 99.2Z" fill="#f8c9b9" opacity="0.85"/>
<polyline points="364.1,96.5 364.6,96.6 365.1,96.9 365.6,97 366.1,97 366.6,96.8 367.1,96.6 367.6,96.7 368.1,97.1 368.6,97 369.1,96.8 369.5,96.7 370,96.8 370.5,96.8 371,96.9 371.5,97.2 372,97.4 372.5,97.4 373,97.2 373.5,97.3 374,97.3 374.5,97.1 375,96.9 375.5,96.9 376,97.1 376.5,97.3 377,97.3 377.5,97.2 378,96.9 378.5,96.6 379,96.3 379.5,96 379.9,96 380.4,96 380.9,96 381.4,95.8 381.9,95.5 382.4,95.3 382.9,95.2 383.4,94.7 383.9,94.1 384.4,93.7 384.9,93.5 385.4,93.3 385.9,92.5 386.4,91.5 386.9,90.9 387.4,90.3 387.9,89.5 388.4,88.7 388.9,88.1 389.4,87.3 389.9,85.8 390.4,84.2 390.8,82.8 391.3,81.5 391.8,80.1 392.3,79 392.8,78 393.3,76.7 393.8,75.4 394.3,74.1 394.8,72.7 395.3,71.4 395.8,70.3 396.3,69.3 396.8,68.1 397.3,67 397.8,66.6 398.3,66.2 398.8,65.4 399.3,64.8 399.8,64.7 400.3,64.8 400.8,64.9 401.2,65.4 401.7,66 402.2,66.6 402.7,67.1 403.2,67.8 403.7,68.8 404.2,70.1 404.7,71.3 405.2,72.8 405.7,74.4 406.2,76.3 406.7,77.9 407.2,79.2 407.7,80.8 408.2,82.3 408.7,83.6 409.2,85 409.7,86.3 410.2,87.6 410.7,88.9 411.2,89.7 411.6,90.4 412.1,91.6 412.6,92.6 413.1,93.3 413.6,94 414.1,95 414.6,95.7 415.1,96.1 415.6,96.5 416.1,96.8 416.6,97.2 417.1,97.7 417.6,98.1 418.1,98.4 418.6,98.6 419.1,98.5 419.6,98.6 420.1,98.7 420.6,98.8 421.1,98.9 421.6,99 422.1,99 422.5,99 423,99.1 423.5,99.1 424,99.1 424.5,99.1 425,99.2 425.5,99.2 426,99.2 426.5,99.2 427,99.2 427.5,99.2 428,99.2 428.5,99.2 429,99.2 429.5,99.2 430,99.2 430.5,99.2 431,99.2 431.5,99.2 432,99.2 432.5,99.2 432.9,99.2 433.4,99.2 433.9,99.2 434.4,99.2 434.9,99.2 435.4,99.2 435.9,99.2 436.4,99.2 436.9,99.2 437.4,99.2 437.9,99.2" fill="none" stroke="#f6bcaa" stroke-width="0.7" stroke-linejoin="round"/>
<polyline points="364.1,97.7 364.6,97.7 365.1,97.9 365.6,98 366.1,97.6 366.6,97.4 367.1,97.5 367.6,97.6 368.1,97.4 368.6,97.2 369.1,97.3 369.5,97.7 370,97.8 370.5,97.9 371,98 371.5,97.8 372,97.5 372.5,97.5 373,97.4 373.5,97.1 374,96.8 374.5,96.9 375,97 375.5,96.9 376,96.7 376.5,96.7 377,96.4 377.5,95.9 378,95.6 378.5,96 379,96.2 379.5,95.7 379.9,94.9 380.4,94 380.9,93.2 381.4,92.7 381.9,92.1 382.4,91.4 382.9,90.6 383.4,89.7 383.9,88.3 384.4,86.9 384.9,86.1 385.4,85.5 385.9,84.7 386.4,83.5 386.9,82.4 387.4,81 387.9,79.4 388.4,77.9 388.9,76.7 389.4,75.7 389.9,74.6 390.4,73.3 390.8,71.8 391.3,70.5 391.8,69.3 392.3,68.4 392.8,67.5 393.3,66.9 393.8,66.7 394.3,66.6 394.8,66.1 395.3,65.3 395.8,65 396.3,65.2 396.8,65.8 397.3,66.6 397.8,67.6 398.3,68.4 398.8,69.4 399.3,70.7 399.8,72.3 400.3,73.8 400.8,75.3 401.2,77 401.7,78.6 402.2,80.1 402.7,81.7 403.2,83.4 403.7,84.7 404.2,86.3 404.7,87.9 405.2,89.5 405.7,91 406.2,92.4 406.7,93.3 407.2,94 407.7,94.8 408.2,95.5 408.7,96.2 409.2,96.8 409.7,97 410.2,97.1 410.7,97.2 411.2,97.3 411.6,97.7 412.1,98.1 412.6,98.5 413.1,98.7 413.6,98.8 414.1,98.9 414.6,98.9 415.1,99 415.6,99 416.1,99.1 416.6,99.1 417.1,99.1 417.6,99.1 418.1,99.2 418.6,99.2 419.1,99.2 419.6,99.2 420.1,99.2 420.6,99.2 421.1,99.2 421.6,99.2 422.1,99.2 422.5,99.2 423,99.2 423.5,99.2 424,99.2 424.5,99.2 425,99.2 425.5,99.2 426,99.2 426.5,99.2 427,99.2 427.5,99.2 428,99.2 428.5,99.2 429,99.2 429.5,99.2 430,99.2 430.5,99.2 431,99.2 431.5,99.2 432,99.2 432.5,99.2 432.9,99.2 433.4,99.2 433.9,99.2 434.4,99.2 434.9,99.2 435.4,99.2 435.9,99.2 436.4,99.2 436.9,99.2 437.4,99.2 437.9,99.2" fill="none" stroke="#d4d6d8" stroke-width="0.6" stroke-linejoin="round"/>
<polyline points="364.1,93.3 364.6,92.9 365.1,92.6 365.6,92.3 366.1,91.9 366.6,91.5 367.1,91.1 367.6,91.2 368.1,91.7 368.6,92.4 369.1,92.6 369.5,91.9 370,90.9 370.5,90.4 371,90.2 371.5,89.8 372,89.7 372.5,89.8 373,89.9 373.5,89.3 374,88.5 374.5,88 375,87.7 375.5,87.3 376,86.5 376.5,85.7 377,85.1 377.5,84.4 378,84.1 378.5,84.1 379,84 379.5,83.2 379.9,81.9 380.4,81 380.9,80.6 381.4,80.2 381.9,79.4 382.4,78.7 382.9,78.1 383.4,77.1 383.9,75.9 384.4,75.4 384.9,75.4 385.4,74.9 385.9,73.9 386.4,72.7 386.9,71.9 387.4,71.4 387.9,71 388.4,70.5 388.9,69.8 389.4,68.8 389.9,67.8 390.4,67.4 390.8,67.4 391.3,67.3 391.8,66.9 392.3,67 392.8,67.1 393.3,66.9 393.8,66.3 394.3,66 394.8,65.8 395.3,65.6 395.8,65.8 396.3,66.4 396.8,67.3 397.3,68.1 397.8,68.8 398.3,69.8 398.8,71.2 399.3,72.8 399.8,74.7 400.3,76.6 400.8,78 401.2,79 401.7,80.2 402.2,81.7 402.7,83.4 403.2,84.8 403.7,86.1 404.2,87.8 404.7,89.5 405.2,90.9 405.7,92 406.2,93 406.7,93.5 407.2,94.1 407.7,94.7 408.2,95.3 408.7,96.1 409.2,96.9 409.7,97.5 410.2,97.7 410.7,97.8 411.2,97.7 411.6,97.6 412.1,97.8 412.6,98.6 413.1,98.7 413.6,98.8 414.1,98.9 414.6,98.9 415.1,99 415.6,99 416.1,99.1 416.6,99.1 417.1,99.1 417.6,99.1 418.1,99.1 418.6,99.1 419.1,99.2 419.6,99.2 420.1,99.2 420.6,99.2 421.1,99.2 421.6,99.2 422.1,99.2 422.5,99.2 423,99.2 423.5,99.2 424,99.2 424.5,99.2 425,99.2 425.5,99.2 426,99.2 426.5,99.2 427,99.2 427.5,99.2 428,99.2 428.5,99.2 429,99.2 429.5,99.2 430,99.2 430.5,99.2 431,99.2 431.5,99.2 432,99.2 432.5,99.2 432.9,99.2 433.4,99.2 433.9,99.2 434.4,99.2 434.9,99.2 435.4,99.2 435.9,99.2 436.4,99.2 436.9,99.2 437.4,99.2 437.9,99.2" fill="none" stroke="#141414" stroke-width="1.1" stroke-linejoin="round"/>
<polyline points="364.1,92.2 364.6,92.6 365.1,92.8 365.6,92.5 366.1,91.6 366.6,90.8 367.1,90.4 367.6,90.7 368.1,91.1 368.6,91 369.1,90.6 369.5,90.3 370,89.9 370.5,89.1 371,88.3 371.5,87.9 372,87.7 372.5,87.7 373,87.5 373.5,86.4 374,85.2 374.5,84.5 375,84.1 375.5,83.5 376,82.8 376.5,82 377,81.6 377.5,81.2 378,80.7 378.5,80.5 379,80.2 379.5,79.4 379.9,78.2 380.4,77.3 380.9,76.5 381.4,75.6 381.9,74.7 382.4,74.3 382.9,73.5 383.4,72.3 383.9,71.4 384.4,71.5 384.9,71.5 385.4,70.7 385.9,69.6 386.4,68.7 386.9,68.3 387.4,68.2 387.9,67.7 388.4,67.1 388.9,66.5 389.4,66.2 389.9,66.1 390.4,66.6 390.8,66.9 391.3,66.9 391.8,66.6 392.3,66.1 392.8,65.5 393.3,65.4 393.8,66.3 394.3,67.4 394.8,68.1 395.3,68.6 395.8,69.1 396.3,70.1 396.8,71.7 397.3,73.6 397.8,75.5 398.3,76.8 398.8,77.8 399.3,78.8 399.8,80.2 400.3,81.8 400.8,83 401.2,84.1 401.7,85.9 402.2,87.5 402.7,88.7 403.2,89.7 403.7,90.5 404.2,91 404.7,91.9 405.2,93.3 405.7,94.2 406.2,94.6 406.7,95.3 407.2,95.8 407.7,96.2 408.2,96.5 408.7,97 409.2,97.5 409.7,97.7 410.2,97.8 410.7,97.9 411.2,97.9 411.6,98.2 412.1,98.6 412.6,98.7 413.1,98.8 413.6,98.8 414.1,98.9 414.6,98.9 415.1,99 415.6,99 416.1,99.1 416.6,99.1 417.1,99.1 417.6,99.1 418.1,99.1 418.6,99.1 419.1,99.1 419.6,99.2 420.1,99.2 420.6,99.2 421.1,99.2 421.6,99.2 422.1,99.2 422.5,99.2 423,99.2 423.5,99.2 424,99.2 424.5,99.2 425,99.2 425.5,99.2 426,99.2 426.5,99.2 427,99.2 427.5,99.2 428,99.2 428.5,99.2 429,99.2 429.5,99.2 430,99.2 430.5,99.2 431,99.2 431.5,99.2 432,99.2 432.5,99.2 432.9,99.2 433.4,99.2 433.9,99.2 434.4,99.2 434.9,99.2 435.4,99.2 435.9,99.2 436.4,99.2 436.9,99.2 437.4,99.2 437.9,99.2" fill="none" stroke="#d4202c" stroke-width="1.1" stroke-linejoin="round"/>
<rect x="363.5" y="61.5" width="75" height="38.5" fill="none" stroke="#5a5a5a" stroke-width="0.9"/>
<line x1="379.8" y1="98.8" x2="379.8" y2="100" stroke="#777" stroke-width="0.5"/>
<line x1="396.1" y1="98.8" x2="396.1" y2="100" stroke="#777" stroke-width="0.5"/>
<line x1="412.4" y1="98.8" x2="412.4" y2="100" stroke="#777" stroke-width="0.5"/>
<line x1="428.7" y1="98.8" x2="428.7" y2="100" stroke="#777" stroke-width="0.5"/>
<line x1="363.5" y1="62" x2="363.5" y2="99.5" stroke="#8a2a3a" stroke-width="1.1"/>
<path d="M443.1 99.2 L443.1,99.2 443.6,99.2 444.1,99.2 444.6,99.2 445.1,99.2 445.6,99.2 446.1,99.2 446.6,99.2 447.1,99.2 447.6,99.2 448.1,99.1 448.5,99.1 449,99.1 449.5,99.1 450,99.1 450.5,99.1 451,99.1 451.5,99.1 452,99 452.5,99 453,99 453.5,99 454,98.9 454.5,98.9 455,98.9 455.5,98.9 456,98.8 456.5,98.8 457,98.8 457.5,98.8 458,98.7 458.5,98.7 458.9,98.7 459.4,98.6 459.9,98.6 460.4,98.6 460.9,98.6 461.4,98.5 461.9,98.5 462.4,98.5 462.9,98.5 463.4,98.8 463.9,98.6 464.4,98.4 464.9,98.3 465.4,98.6 465.9,98.5 466.4,98.4 466.9,98.6 467.4,98.5 467.9,98.1 468.4,98 468.9,98.3 469.4,98.3 469.8,97.8 470.3,97.5 470.8,97.7 471.3,97.8 471.8,97.1 472.3,96.6 472.8,96.2 473.3,95.9 473.8,95.6 474.3,94.8 474.8,93.8 475.3,93.2 475.8,92.8 476.3,91.8 476.8,90.3 477.3,89.3 477.8,88.2 478.3,86.7 478.8,85.1 479.3,83.6 479.8,82 480.2,80.3 480.7,78.6 481.2,76.9 481.7,75.3 482.2,73.6 482.7,71.8 483.2,70.1 483.7,68.8 484.2,67.8 484.7,66.7 485.2,65.8 485.7,65.1 486.2,64.6 486.7,64.3 487.2,64.6 487.7,65.3 488.2,66 488.7,66.8 489.2,67.9 489.7,69.5 490.2,71.4 490.6,72.9 491.1,74.1 491.6,75.5 492.1,77.5 492.6,79.5 493.1,81.2 493.6,83 494.1,84.6 494.6,86.3 495.1,88.2 495.6,89.9 496.1,91.4 496.6,92.6 497.1,93.5 497.6,94 498.1,94.5 498.6,95.2 499.1,96 499.6,96.7 500.1,97.2 500.6,97.5 501.1,97.7 501.5,98.1 502,98.5 502.5,98.5 503,98.7 503.5,98.8 504,98.9 504.5,99 505,99 505.5,99.1 506,99.1 506.5,99.1 507,99.1 507.5,99.2 508,99.2 508.5,99.2 509,99.2 509.5,99.2 510,99.2 510.5,99.2 511,99.2 511.5,99.2 511.9,99.2 512.4,99.2 512.9,99.2 513.4,99.2 513.9,99.2 514.4,99.2 514.9,99.2 515.4,99.2 515.9,99.2 516.4,99.2 516.9,99.2 L516.9 99.2Z" fill="#e8eaeb" opacity="1.0"/>
<path d="M443.1 99.2 L443.1,99.2 443.6,99.2 444.1,99.2 444.6,99.2 445.1,99.2 445.6,99.2 446.1,99.2 446.6,99.2 447.1,99.2 447.6,99.2 448.1,99.1 448.5,99.1 449,99.1 449.5,99.1 450,99.1 450.5,99.1 451,99.1 451.5,99.1 452,99 452.5,99 453,99 453.5,99 454,98.9 454.5,98.9 455,98.9 455.5,98.9 456,98.8 456.5,98.8 457,98.8 457.5,98.8 458,98.7 458.5,98.7 458.9,98.7 459.4,98.6 459.9,98.6 460.4,98.6 460.9,98.6 461.4,98.5 461.9,98.5 462.4,98.5 462.9,98.5 463.4,98.5 463.9,98.5 464.4,98.5 464.9,98.5 465.4,98.5 465.9,98.5 466.4,98.5 466.9,98.5 467.4,98.5 467.9,98.5 468.4,98.5 468.9,98.5 469.4,98.6 469.8,98.6 470.3,98.6 470.8,98.6 471.3,98.7 471.8,98.7 472.3,98.7 472.8,98.7 473.3,98.7 473.8,98.7 474.3,98.7 474.8,98.7 475.3,98.7 475.8,98.6 476.3,98.6 476.8,98.5 477.3,98.1 477.8,98.2 478.3,98.1 478.8,97.8 479.3,97.4 479.8,97.2 480.2,96.8 480.7,96.1 481.2,95.3 481.7,94.4 482.2,93.5 482.7,92.2 483.2,90.9 483.7,89.7 484.2,88.2 484.7,86.4 485.2,84.7 485.7,83.2 486.2,81.3 486.7,79.3 487.2,77 487.7,74.9 488.2,73.1 488.7,71.4 489.2,69.6 489.7,67.8 490.2,66.6 490.6,66 491.1,65.7 491.6,65.4 492.1,65.1 492.6,65.2 493.1,65.8 493.6,66.6 494.1,67.5 494.6,68.5 495.1,69.8 495.6,71.3 496.1,73.1 496.6,74.8 497.1,76.5 497.6,78 498.1,79.7 498.6,81.5 499.1,83.4 499.6,85.5 500.1,87.4 500.6,88.7 501.1,89.9 501.5,91.2 502,92.5 502.5,93.7 503,94.4 503.5,94.8 504,95.4 504.5,96.3 505,96.9 505.5,97.2 506,97.4 506.5,97.6 507,98 507.5,98.4 508,98.6 508.5,98.7 509,98.8 509.5,98.9 510,99 510.5,99 511,99.1 511.5,99.1 511.9,99.1 512.4,99.2 512.9,99.2 513.4,99.2 513.9,99.2 514.4,99.2 514.9,99.2 515.4,99.2 515.9,99.2 516.4,99.2 516.9,99.2 L516.9 99.2Z" fill="#f8c9b9" opacity="0.85"/>
<polyline points="443.1,99.2 443.6,99.2 444.1,99.2 444.6,99.2 445.1,99.2 445.6,99.2 446.1,99.2 446.6,99.2 447.1,99.2 447.6,99.2 448.1,99.1 448.5,99.1 449,99.1 449.5,99.1 450,99.1 450.5,99.1 451,99.1 451.5,99.1 452,99 452.5,99 453,99 453.5,99 454,98.9 454.5,98.9 455,98.9 455.5,98.9 456,98.8 456.5,98.8 457,98.8 457.5,98.8 458,98.7 458.5,98.7 458.9,98.7 459.4,98.6 459.9,98.6 460.4,98.6 460.9,98.6 461.4,98.5 461.9,98.5 462.4,98.5 462.9,98.5 463.4,98.5 463.9,98.5 464.4,98.5 464.9,98.5 465.4,98.5 465.9,98.5 466.4,98.5 466.9,98.5 467.4,98.5 467.9,98.5 468.4,98.5 468.9,98.5 469.4,98.6 469.8,98.6 470.3,98.6 470.8,98.6 471.3,98.7 471.8,98.7 472.3,98.7 472.8,98.7 473.3,98.7 473.8,98.7 474.3,98.7 474.8,98.7 475.3,98.7 475.8,98.6 476.3,98.6 476.8,98.5 477.3,98.1 477.8,98.2 478.3,98.1 478.8,97.8 479.3,97.4 479.8,97.2 480.2,96.8 480.7,96.1 481.2,95.3 481.7,94.4 482.2,93.5 482.7,92.2 483.2,90.9 483.7,89.7 484.2,88.2 484.7,86.4 485.2,84.7 485.7,83.2 486.2,81.3 486.7,79.3 487.2,77 487.7,74.9 488.2,73.1 488.7,71.4 489.2,69.6 489.7,67.8 490.2,66.6 490.6,66 491.1,65.7 491.6,65.4 492.1,65.1 492.6,65.2 493.1,65.8 493.6,66.6 494.1,67.5 494.6,68.5 495.1,69.8 495.6,71.3 496.1,73.1 496.6,74.8 497.1,76.5 497.6,78 498.1,79.7 498.6,81.5 499.1,83.4 499.6,85.5 500.1,87.4 500.6,88.7 501.1,89.9 501.5,91.2 502,92.5 502.5,93.7 503,94.4 503.5,94.8 504,95.4 504.5,96.3 505,96.9 505.5,97.2 506,97.4 506.5,97.6 507,98 507.5,98.4 508,98.6 508.5,98.7 509,98.8 509.5,98.9 510,99 510.5,99 511,99.1 511.5,99.1 511.9,99.1 512.4,99.2 512.9,99.2 513.4,99.2 513.9,99.2 514.4,99.2 514.9,99.2 515.4,99.2 515.9,99.2 516.4,99.2 516.9,99.2" fill="none" stroke="#f6bcaa" stroke-width="0.7" stroke-linejoin="round"/>
<polyline points="443.1,99.2 443.6,99.2 444.1,99.2 444.6,99.2 445.1,99.2 445.6,99.2 446.1,99.2 446.6,99.2 447.1,99.2 447.6,99.2 448.1,99.1 448.5,99.1 449,99.1 449.5,99.1 450,99.1 450.5,99.1 451,99.1 451.5,99.1 452,99 452.5,99 453,99 453.5,99 454,98.9 454.5,98.9 455,98.9 455.5,98.9 456,98.8 456.5,98.8 457,98.8 457.5,98.8 458,98.7 458.5,98.7 458.9,98.7 459.4,98.6 459.9,98.6 460.4,98.6 460.9,98.6 461.4,98.5 461.9,98.5 462.4,98.5 462.9,98.5 463.4,98.8 463.9,98.6 464.4,98.4 464.9,98.3 465.4,98.6 465.9,98.5 466.4,98.4 466.9,98.6 467.4,98.5 467.9,98.1 468.4,98 468.9,98.3 469.4,98.3 469.8,97.8 470.3,97.5 470.8,97.7 471.3,97.8 471.8,97.1 472.3,96.6 472.8,96.2 473.3,95.9 473.8,95.6 474.3,94.8 474.8,93.8 475.3,93.2 475.8,92.8 476.3,91.8 476.8,90.3 477.3,89.3 477.8,88.2 478.3,86.7 478.8,85.1 479.3,83.6 479.8,82 480.2,80.3 480.7,78.6 481.2,76.9 481.7,75.3 482.2,73.6 482.7,71.8 483.2,70.1 483.7,68.8 484.2,67.8 484.7,66.7 485.2,65.8 485.7,65.1 486.2,64.6 486.7,64.3 487.2,64.6 487.7,65.3 488.2,66 488.7,66.8 489.2,67.9 489.7,69.5 490.2,71.4 490.6,72.9 491.1,74.1 491.6,75.5 492.1,77.5 492.6,79.5 493.1,81.2 493.6,83 494.1,84.6 494.6,86.3 495.1,88.2 495.6,89.9 496.1,91.4 496.6,92.6 497.1,93.5 497.6,94 498.1,94.5 498.6,95.2 499.1,96 499.6,96.7 500.1,97.2 500.6,97.5 501.1,97.7 501.5,98.1 502,98.5 502.5,98.5 503,98.7 503.5,98.8 504,98.9 504.5,99 505,99 505.5,99.1 506,99.1 506.5,99.1 507,99.1 507.5,99.2 508,99.2 508.5,99.2 509,99.2 509.5,99.2 510,99.2 510.5,99.2 511,99.2 511.5,99.2 511.9,99.2 512.4,99.2 512.9,99.2 513.4,99.2 513.9,99.2 514.4,99.2 514.9,99.2 515.4,99.2 515.9,99.2 516.4,99.2 516.9,99.2" fill="none" stroke="#d4d6d8" stroke-width="0.6" stroke-linejoin="round"/>
<polyline points="443.1,99.2 443.6,99.2 444.1,99.2 444.6,99.2 445.1,99.2 445.6,99.2 446.1,99.2 446.6,99.1 447.1,99.1 447.6,99.1 448.1,99.1 448.5,99.1 449,99.1 449.5,99.1 450,99 450.5,99 451,99 451.5,99 452,99 452.5,98.9 453,98.9 453.5,98.9 454,98.8 454.5,98.8 455,98.7 455.5,98.7 456,98.6 456.5,98.6 457,98.6 457.5,98.5 458,98.7 458.5,98.6 458.9,97.9 459.4,97.3 459.9,96.9 460.4,96.9 460.9,97.3 461.4,97.6 461.9,97.5 462.4,97.7 462.9,97.9 463.4,97.9 463.9,97.6 464.4,97.6 464.9,97.5 465.4,97.3 465.9,97 466.4,96.8 466.9,96.7 467.4,96.6 467.9,96 468.4,95.4 468.9,95.1 469.4,94.8 469.8,94.6 470.3,94.2 470.8,93 471.3,92 471.8,91.3 472.3,90.4 472.8,89.6 473.3,88.6 473.8,87.3 474.3,85.6 474.8,84.1 475.3,83 475.8,81.6 476.3,80.4 476.8,79.6 477.3,78.3 477.8,76.2 478.3,74.4 478.8,72.7 479.3,71.3 479.8,70.4 480.2,69.9 480.7,68.9 481.2,67.4 481.7,66.1 482.2,65 482.7,64.3 483.2,63.7 483.7,62.8 484.2,62.4 484.7,62.9 485.2,63.7 485.7,64.4 486.2,65.1 486.7,66 487.2,67 487.7,68 488.2,69.2 488.7,70.8 489.2,72.4 489.7,74.1 490.2,76.4 490.6,78.9 491.1,80.5 491.6,81.6 492.1,83 492.6,84.8 493.1,86.6 493.6,88 494.1,89.3 494.6,90.7 495.1,92.1 495.6,93 496.1,93.8 496.6,94.9 497.1,95.8 497.6,96.1 498.1,96.5 498.6,96.8 499.1,96.8 499.6,97 500.1,97.5 500.6,98.2 501.1,98.7 501.5,98.6 502,98.7 502.5,98.8 503,98.9 503.5,99 504,99 504.5,99.1 505,99.1 505.5,99.1 506,99.1 506.5,99.2 507,99.2 507.5,99.2 508,99.2 508.5,99.2 509,99.2 509.5,99.2 510,99.2 510.5,99.2 511,99.2 511.5,99.2 511.9,99.2 512.4,99.2 512.9,99.2 513.4,99.2 513.9,99.2 514.4,99.2 514.9,99.2 515.4,99.2 515.9,99.2 516.4,99.2 516.9,99.2" fill="none" stroke="#141414" stroke-width="1.1" stroke-linejoin="round"/>
<polyline points="443.1,99.2 443.6,99.2 444.1,99.2 444.6,99.2 445.1,99.2 445.6,99.2 446.1,99.2 446.6,99.1 447.1,99.1 447.6,99.1 448.1,99.1 448.5,99.1 449,99.1 449.5,99.1 450,99 450.5,99 451,99 451.5,99 452,98.9 452.5,98.9 453,98.9 453.5,98.8 454,98.8 454.5,98.8 455,98.7 455.5,98.7 456,98.6 456.5,98.6 457,98.5 457.5,98.5 458,97.9 458.5,97.9 458.9,98.1 459.4,98.4 459.9,98.7 460.4,98.6 460.9,98.1 461.4,97.8 461.9,97.8 462.4,97.5 462.9,96.9 463.4,96.5 463.9,96.4 464.4,96.5 464.9,96.8 465.4,96.8 465.9,96.5 466.4,96.3 466.9,95.8 467.4,95.1 467.9,95 468.4,94.8 468.9,93.8 469.4,92.9 469.8,92.3 470.3,91.9 470.8,91.6 471.3,91.1 471.8,90.2 472.3,88.9 472.8,87.6 473.3,86.6 473.8,85.6 474.3,84.6 474.8,83.3 475.3,81.7 475.8,80.3 476.3,79.4 476.8,78.4 477.3,76.8 477.8,74.9 478.3,73.1 478.8,72 479.3,71.3 479.8,70.4 480.2,69.4 480.7,68.1 481.2,66.7 481.7,65.7 482.2,65.1 482.7,64.7 483.2,64.1 483.7,63.7 484.2,64 484.7,64.3 485.2,64.3 485.7,64.7 486.2,65.1 486.7,65.7 487.2,66.8 487.7,67.9 488.2,69.1 488.7,70.2 489.2,71.8 489.7,74 490.2,76.1 490.6,77.9 491.1,79.3 491.6,80.9 492.1,82.8 492.6,84.6 493.1,86.5 493.6,88.2 494.1,89.1 494.6,89.6 495.1,90.7 495.6,92.1 496.1,93.2 496.6,94.2 497.1,95.2 497.6,95.4 498.1,95.5 498.6,96.2 499.1,96.9 499.6,97.4 500.1,97.8 500.6,97.9 501.1,97.9 501.5,98.1 502,98.6 502.5,98.7 503,98.8 503.5,98.9 504,99 504.5,99 505,99.1 505.5,99.1 506,99.1 506.5,99.1 507,99.2 507.5,99.2 508,99.2 508.5,99.2 509,99.2 509.5,99.2 510,99.2 510.5,99.2 511,99.2 511.5,99.2 511.9,99.2 512.4,99.2 512.9,99.2 513.4,99.2 513.9,99.2 514.4,99.2 514.9,99.2 515.4,99.2 515.9,99.2 516.4,99.2 516.9,99.2" fill="none" stroke="#d4202c" stroke-width="1.1" stroke-linejoin="round"/>
<rect x="442.5" y="61.5" width="75" height="38.5" fill="none" stroke="#5a5a5a" stroke-width="0.9"/>
<line x1="458.8" y1="98.8" x2="458.8" y2="100" stroke="#777" stroke-width="0.5"/>
<line x1="475.1" y1="98.8" x2="475.1" y2="100" stroke="#777" stroke-width="0.5"/>
<line x1="491.4" y1="98.8" x2="491.4" y2="100" stroke="#777" stroke-width="0.5"/>
<line x1="507.7" y1="98.8" x2="507.7" y2="100" stroke="#777" stroke-width="0.5"/>
<line x1="442.5" y1="62" x2="442.5" y2="99.5" stroke="#8a2a3a" stroke-width="1.1"/>
<path d="M425.7 111.3 L428.7 106.1 Q430.6 111.5 436.2 111.7Z" fill="#f2f2f2" stroke="#d6d6d6" stroke-width="0.9"/>
<text x="440.8" y="111.4" font-size="7.45" fill="#111">wt - placebo</text>
<path d="M425.7 119.9 L428.7 114.7 Q430.6 120.1 436.2 120.3" fill="none" stroke="#111" stroke-width="1.1"/>
<text x="440.8" y="120" font-size="7.45" fill="#111">wt - PCI-32765</text>
<path d="M425.7 128.4 L428.7 123.2 Q430.6 128.6 436.2 128.8Z" fill="#fbdcd2" stroke="#f4c0b2" stroke-width="0.9"/>
<text x="440.8" y="128.5" font-size="7.45" fill="#111">CD19-hBtk - placebo</text>
<path d="M425.7 136.9 L428.7 131.7 Q430.6 137.1 436.2 137.3" fill="none" stroke="#b53a50" stroke-width="1.1"/>
<text x="440.8" y="137" font-size="7.45" fill="#111">CD19-hBtk - PCI-32765</text>
<text x="2.8" y="153" font-size="11.5" font-weight="bold" fill="#000">C</text>
<text x="18.5" y="171.3" font-size="8.6" font-style="italic" fill="#222">spleen</text>
<text x="18.5" y="181.3" font-size="8.6" font-style="italic" fill="#222">CD19<tspan font-size="5" dy="-3">+</tspan></text>
<text x="21" y="194.5" font-size="10.3" fill="#111">day 9</text>
<text x="14.6" y="260.6" font-size="10.3" fill="#111">day 31</text>
<path d="M51.8 217.4 L51.8,205.5 52.3,205.9 52.9,206 53.4,205.5 53.9,205 54.4,205 55,205 55.5,205.1 56,205.4 56.6,205.6 57.1,205.7 57.6,205.6 58.1,205.4 58.7,205.3 59.2,205.7 59.7,206 60.3,206 60.8,205.6 61.3,205.4 61.8,205.4 62.4,205.4 62.9,205.1 63.4,204.7 63.9,204.5 64.5,204.3 65,204.2 65.5,204.4 66.1,204.2 66.6,203.6 67.1,203.1 67.6,203.1 68.2,203.4 68.7,203.5 69.2,203 69.8,201.9 70.3,200.7 70.8,200 71.3,199.6 71.9,199 72.4,198.3 72.9,197.8 73.5,197.1 74,196.7 74.5,196.3 75,195.1 75.6,193.8 76.1,193.1 76.6,192.4 77.2,191.5 77.7,190.4 78.2,189.2 78.7,188.5 79.3,188.2 79.8,187.6 80.3,186.4 80.8,185.3 81.4,183.8 81.9,182.1 82.4,181 83,180.2 83.5,178.9 84,177.8 84.5,176.9 85.1,176.2 85.6,175.6 86.1,175 86.7,174.1 87.2,173 87.7,172 88.2,171.5 88.8,171.1 89.3,170.3 89.8,169.4 90.4,168.8 90.9,168.4 91.4,168.4 91.9,168.5 92.5,168.2 93,167.9 93.5,167.8 94.1,167.5 94.6,167.5 95.1,168 95.6,168.4 96.2,168.8 96.7,169.8 97.2,170.7 97.7,171.4 98.3,171.8 98.8,172.5 99.3,173.5 99.9,174.3 100.4,175.2 100.9,176.6 101.4,178.2 102,179.4 102.5,180.4 103,181.6 103.6,183.1 104.1,184.7 104.6,186.3 105.1,187.7 105.7,188.9 106.2,190 106.7,191.3 107.3,192.8 107.8,194.2 108.3,195.6 108.8,196.7 109.4,197.6 109.9,198.7 110.4,200 111,201.3 111.5,202.5 112,203.7 112.5,204.6 113.1,205.2 113.6,205.8 114.1,206.6 114.6,207.4 115.2,208.1 115.7,208.8 116.2,209.4 116.8,210.1 117.3,210.9 117.8,211.6 118.3,212.1 118.9,212.6 119.4,212.8 119.9,212.9 120.5,213.5 121,214.4 121.5,215 122,215.1 122.6,215 123.1,215.1 123.6,215.5 124.2,215.7 124.7,215.9 125.2,216.1 125.7,216 126.3,216.4 126.8,216.5 127.3,216.6 127.9,216.7 128.4,216.8 128.9,216.9 129.4,216.9 130,217 130.5,217 131,217.1 131.5,217.1 132.1,217.2 132.6,217.2 133.1,217.2 133.7,217.3 134.2,217.3 134.7,217.3 135.2,217.3 135.8,217.3 136.3,217.3 136.8,217.3 137.4,217.4 137.9,217.4 138.4,217.4 138.9,217.4 139.5,217.4 140,217.4 140.5,217.4 141.1,217.4 141.6,217.4 142.1,217.4 142.6,217.4 143.2,217.4 143.7,217.4 144.2,217.4 144.8,217.4 145.3,217.4 145.8,217.4 146.3,217.4 146.9,217.4 147.4,217.4 147.9,217.4 148.4,217.4 149,217.4 149.5,217.4 150,217.4 150.6,217.4 151.1,217.4 151.6,217.4 152.1,217.4 152.7,217.4 153.2,217.4 153.7,217.4 154.3,217.4 154.8,217.4 155.3,217.4 155.8,217.4 156.4,217.4 156.9,217.4 L156.9 217.4Z" fill="#f8c9b9" opacity="1.0"/>
<polyline points="51.8,205.5 52.3,205.9 52.9,206 53.4,205.5 53.9,205 54.4,205 55,205 55.5,205.1 56,205.4 56.6,205.6 57.1,205.7 57.6,205.6 58.1,205.4 58.7,205.3 59.2,205.7 59.7,206 60.3,206 60.8,205.6 61.3,205.4 61.8,205.4 62.4,205.4 62.9,205.1 63.4,204.7 63.9,204.5 64.5,204.3 65,204.2 65.5,204.4 66.1,204.2 66.6,203.6 67.1,203.1 67.6,203.1 68.2,203.4 68.7,203.5 69.2,203 69.8,201.9 70.3,200.7 70.8,200 71.3,199.6 71.9,199 72.4,198.3 72.9,197.8 73.5,197.1 74,196.7 74.5,196.3 75,195.1 75.6,193.8 76.1,193.1 76.6,192.4 77.2,191.5 77.7,190.4 78.2,189.2 78.7,188.5 79.3,188.2 79.8,187.6 80.3,186.4 80.8,185.3 81.4,183.8 81.9,182.1 82.4,181 83,180.2 83.5,178.9 84,177.8 84.5,176.9 85.1,176.2 85.6,175.6 86.1,175 86.7,174.1 87.2,173 87.7,172 88.2,171.5 88.8,171.1 89.3,170.3 89.8,169.4 90.4,168.8 90.9,168.4 91.4,168.4 91.9,168.5 92.5,168.2 93,167.9 93.5,167.8 94.1,167.5 94.6,167.5 95.1,168 95.6,168.4 96.2,168.8 96.7,169.8 97.2,170.7 97.7,171.4 98.3,171.8 98.8,172.5 99.3,173.5 99.9,174.3 100.4,175.2 100.9,176.6 101.4,178.2 102,179.4 102.5,180.4 103,181.6 103.6,183.1 104.1,184.7 104.6,186.3 105.1,187.7 105.7,188.9 106.2,190 106.7,191.3 107.3,192.8 107.8,194.2 108.3,195.6 108.8,196.7 109.4,197.6 109.9,198.7 110.4,200 111,201.3 111.5,202.5 112,203.7 112.5,204.6 113.1,205.2 113.6,205.8 114.1,206.6 114.6,207.4 115.2,208.1 115.7,208.8 116.2,209.4 116.8,210.1 117.3,210.9 117.8,211.6 118.3,212.1 118.9,212.6 119.4,212.8 119.9,212.9 120.5,213.5 121,214.4 121.5,215 122,215.1 122.6,215 123.1,215.1 123.6,215.5 124.2,215.7 124.7,215.9 125.2,216.1 125.7,216 126.3,216.4 126.8,216.5 127.3,216.6 127.9,216.7 128.4,216.8 128.9,216.9 129.4,216.9 130,217 130.5,217 131,217.1 131.5,217.1 132.1,217.2 132.6,217.2 133.1,217.2 133.7,217.3 134.2,217.3 134.7,217.3 135.2,217.3 135.8,217.3 136.3,217.3 136.8,217.3 137.4,217.4 137.9,217.4 138.4,217.4 138.9,217.4 139.5,217.4 140,217.4 140.5,217.4 141.1,217.4 141.6,217.4 142.1,217.4 142.6,217.4 143.2,217.4 143.7,217.4 144.2,217.4 144.8,217.4 145.3,217.4 145.8,217.4 146.3,217.4 146.9,217.4 147.4,217.4 147.9,217.4 148.4,217.4 149,217.4 149.5,217.4 150,217.4 150.6,217.4 151.1,217.4 151.6,217.4 152.1,217.4 152.7,217.4 153.2,217.4 153.7,217.4 154.3,217.4 154.8,217.4 155.3,217.4 155.8,217.4 156.4,217.4 156.9,217.4" fill="none" stroke="#f3b3a0" stroke-width="0.7" stroke-linejoin="round"/>
<path d="M51.8 217.4 L51.8,205.2 52.3,205.3 52.9,205.5 53.4,205.2 53.9,204.9 54.4,205.2 55,205.3 55.5,205 56,205.1 56.6,205.4 57.1,205.3 57.6,204.6 58.1,204 58.7,203.8 59.2,203.8 59.7,204 60.3,204.1 60.8,204.1 61.3,203.8 61.8,203.3 62.4,202.7 62.9,202.5 63.4,202.4 63.9,202.1 64.5,202 65,201.9 65.5,201.6 66.1,201.1 66.6,200.3 67.1,199.6 67.6,198.9 68.2,198.3 68.7,197.8 69.2,197.4 69.8,196.9 70.3,196.1 70.8,195.3 71.3,194.4 71.9,193.4 72.4,192.7 72.9,192.3 73.5,191.4 74,189.9 74.5,188.4 75,187.1 75.6,185.8 76.1,184.7 76.6,184 77.2,183.4 77.7,182.7 78.2,181.7 78.7,180.4 79.3,179 79.8,177.8 80.3,176.8 80.8,175.7 81.4,174.6 81.9,173.6 82.4,172.7 83,171.9 83.5,171.4 84,170.6 84.5,169.5 85.1,168.7 85.6,168.1 86.1,167.3 86.7,166.6 87.2,166.5 87.7,166.4 88.2,166.2 88.8,166 89.3,165.6 89.8,165.6 90.4,165.6 90.9,165.6 91.4,165.6 91.9,166.3 92.5,167.1 93,168.3 93.5,169.5 94.1,170.7 94.6,171.9 95.1,173.5 95.6,175.6 96.2,177.6 96.7,178.8 97.2,180.2 97.7,182.5 98.3,185.3 98.8,187.7 99.3,189.7 99.9,191.7 100.4,193.5 100.9,195.2 101.4,196.8 102,198.8 102.5,201 103,202.7 103.6,204.3 104.1,205.9 104.6,207 105.1,207.8 105.7,208.8 106.2,209.8 106.7,210.2 107.3,210.6 107.8,211.6 108.3,212.6 108.8,213.6 109.4,214.3 109.9,214.5 110.4,214.5 111,214.4 111.5,214.5 112,215 112.5,215.5 113.1,216 113.6,216.5 114.1,216.6 114.6,216.8 115.2,216.9 115.7,216.9 116.2,217 116.8,217.1 117.3,217.1 117.8,217.2 118.3,217.2 118.9,217.2 119.4,217.3 119.9,217.3 120.5,217.3 121,217.3 121.5,217.3 122,217.3 122.6,217.3 123.1,217.4 123.6,217.4 124.2,217.4 124.7,217.4 125.2,217.4 125.7,217.4 126.3,217.4 126.8,217.4 127.3,217.4 127.9,217.4 128.4,217.4 128.9,217.4 129.4,217.4 130,217.4 130.5,217.4 131,217.4 131.5,217.4 132.1,217.4 132.6,217.4 133.1,217.4 133.7,217.4 134.2,217.4 134.7,217.4 135.2,217.4 135.8,217.4 136.3,217.4 136.8,217.4 137.4,217.4 137.9,217.4 138.4,217.4 138.9,217.4 139.5,217.4 140,217.4 140.5,217.4 141.1,217.4 141.6,217.4 142.1,217.4 142.6,217.4 143.2,217.4 143.7,217.4 144.2,217.4 144.8,217.4 145.3,217.4 145.8,217.4 146.3,217.4 146.9,217.4 147.4,217.4 147.9,217.4 148.4,217.4 149,217.4 149.5,217.4 150,217.4 150.6,217.4 151.1,217.4 151.6,217.4 152.1,217.4 152.7,217.4 153.2,217.4 153.7,217.4 154.3,217.4 154.8,217.4 155.3,217.4 155.8,217.4 156.4,217.4 156.9,217.4 L156.9 217.4Z" fill="#e9e9e9" opacity="1.0"/>
<polyline points="51.8,205.2 52.3,205.3 52.9,205.5 53.4,205.2 53.9,204.9 54.4,205.2 55,205.3 55.5,205 56,205.1 56.6,205.4 57.1,205.3 57.6,204.6 58.1,204 58.7,203.8 59.2,203.8 59.7,204 60.3,204.1 60.8,204.1 61.3,203.8 61.8,203.3 62.4,202.7 62.9,202.5 63.4,202.4 63.9,202.1 64.5,202 65,201.9 65.5,201.6 66.1,201.1 66.6,200.3 67.1,199.6 67.6,198.9 68.2,198.3 68.7,197.8 69.2,197.4 69.8,196.9 70.3,196.1 70.8,195.3 71.3,194.4 71.9,193.4 72.4,192.7 72.9,192.3 73.5,191.4 74,189.9 74.5,188.4 75,187.1 75.6,185.8 76.1,184.7 76.6,184 77.2,183.4 77.7,182.7 78.2,181.7 78.7,180.4 79.3,179 79.8,177.8 80.3,176.8 80.8,175.7 81.4,174.6 81.9,173.6 82.4,172.7 83,171.9 83.5,171.4 84,170.6 84.5,169.5 85.1,168.7 85.6,168.1 86.1,167.3 86.7,166.6 87.2,166.5 87.7,166.4 88.2,166.2 88.8,166 89.3,165.6 89.8,165.6 90.4,165.6 90.9,165.6 91.4,165.6 91.9,166.3 92.5,167.1 93,168.3 93.5,169.5 94.1,170.7 94.6,171.9 95.1,173.5 95.6,175.6 96.2,177.6 96.7,178.8 97.2,180.2 97.7,182.5 98.3,185.3 98.8,187.7 99.3,189.7 99.9,191.7 100.4,193.5 100.9,195.2 101.4,196.8 102,198.8 102.5,201 103,202.7 103.6,204.3 104.1,205.9 104.6,207 105.1,207.8 105.7,208.8 106.2,209.8 106.7,210.2 107.3,210.6 107.8,211.6 108.3,212.6 108.8,213.6 109.4,214.3 109.9,214.5 110.4,214.5 111,214.4 111.5,214.5 112,215 112.5,215.5 113.1,216 113.6,216.5 114.1,216.6 114.6,216.8 115.2,216.9 115.7,216.9 116.2,217 116.8,217.1 117.3,217.1 117.8,217.2 118.3,217.2 118.9,217.2 119.4,217.3 119.9,217.3 120.5,217.3 121,217.3 121.5,217.3 122,217.3 122.6,217.3 123.1,217.4 123.6,217.4 124.2,217.4 124.7,217.4 125.2,217.4 125.7,217.4 126.3,217.4 126.8,217.4 127.3,217.4 127.9,217.4 128.4,217.4 128.9,217.4 129.4,217.4 130,217.4 130.5,217.4 131,217.4 131.5,217.4 132.1,217.4 132.6,217.4 133.1,217.4 133.7,217.4 134.2,217.4 134.7,217.4 135.2,217.4 135.8,217.4 136.3,217.4 136.8,217.4 137.4,217.4 137.9,217.4 138.4,217.4 138.9,217.4 139.5,217.4 140,217.4 140.5,217.4 141.1,217.4 141.6,217.4 142.1,217.4 142.6,217.4 143.2,217.4 143.7,217.4 144.2,217.4 144.8,217.4 145.3,217.4 145.8,217.4 146.3,217.4 146.9,217.4 147.4,217.4 147.9,217.4 148.4,217.4 149,217.4 149.5,217.4 150,217.4 150.6,217.4 151.1,217.4 151.6,217.4 152.1,217.4 152.7,217.4 153.2,217.4 153.7,217.4 154.3,217.4 154.8,217.4 155.3,217.4 155.8,217.4 156.4,217.4 156.9,217.4" fill="none" stroke="#d0d0d0" stroke-width="0.6" stroke-linejoin="round"/>
<polyline points="51.8,203.7 52.3,203.7 52.9,203.6 53.4,203.9 53.9,203.6 54.4,202.8 55,202.5 55.5,202.7 56,202.7 56.6,203.2 57.1,204 57.6,204.2 58.1,204.1 58.7,203.6 59.2,202.9 59.7,202.1 60.3,202.2 60.8,202.7 61.3,202.9 61.8,202.8 62.4,202 62.9,201.3 63.4,201.6 63.9,202 64.5,201.2 65,199.9 65.5,199.1 66.1,198.9 66.6,199 67.1,198.6 67.6,197.9 68.2,197 68.7,196 69.2,195.5 69.8,195.3 70.3,195 70.8,194.8 71.3,193.9 71.9,192.4 72.4,191.8 72.9,191.5 73.5,190.3 74,188.1 74.5,186 75,184.9 75.6,184.9 76.1,184.9 76.6,183.6 77.2,181.8 77.7,180.4 78.2,179.4 78.7,178 79.3,176.1 79.8,175.2 80.3,175.1 80.8,174.3 81.4,172.7 81.9,171.6 82.4,170.3 83,169.4 83.5,169.5 84,169.1 84.5,168.2 85.1,167 85.6,165.7 86.1,165.6 86.7,165.6 87.2,165.6 87.7,165.6 88.2,165.6 88.8,165.6 89.3,165.6 89.8,165.6 90.4,165.6 90.9,165.6 91.4,166.3 91.9,166.8 92.5,166.8 93,167.7 93.5,169.2 94.1,170.7 94.6,172.4 95.1,173.7 95.6,174.1 96.2,174.8 96.7,177 97.2,180.2 97.7,183.3 98.3,185.6 98.8,187.4 99.3,189 99.9,190.9 100.4,193.1 100.9,195.3 101.4,197.7 102,199.7 102.5,201.2 103,203.2 103.6,204.9 104.1,205.9 104.6,206.7 105.1,207.2 105.7,207.9 106.2,209 106.7,210.2 107.3,211.2 107.8,212.3 108.3,213.7 108.8,214.4 109.4,215.1 109.9,215.7 110.4,215.6 111,215.4 111.5,215.2 112,215.9 112.5,217 113.1,216.4 113.6,216.5 114.1,216.6 114.6,216.7 115.2,216.8 115.7,216.9 116.2,217 116.8,217.1 117.3,217.1 117.8,217.2 118.3,217.2 118.9,217.2 119.4,217.3 119.9,217.3 120.5,217.3 121,217.3 121.5,217.3 122,217.3 122.6,217.3 123.1,217.3 123.6,217.4 124.2,217.4 124.7,217.4 125.2,217.4 125.7,217.4 126.3,217.4 126.8,217.4 127.3,217.4 127.9,217.4 128.4,217.4 128.9,217.4 129.4,217.4 130,217.4 130.5,217.4 131,217.4 131.5,217.4 132.1,217.4 132.6,217.4 133.1,217.4 133.7,217.4 134.2,217.4 134.7,217.4 135.2,217.4 135.8,217.4 136.3,217.4 136.8,217.4 137.4,217.4 137.9,217.4 138.4,217.4 138.9,217.4 139.5,217.4 140,217.4 140.5,217.4 141.1,217.4 141.6,217.4 142.1,217.4 142.6,217.4 143.2,217.4 143.7,217.4 144.2,217.4 144.8,217.4 145.3,217.4 145.8,217.4 146.3,217.4 146.9,217.4 147.4,217.4 147.9,217.4 148.4,217.4 149,217.4 149.5,217.4 150,217.4 150.6,217.4 151.1,217.4 151.6,217.4 152.1,217.4 152.7,217.4 153.2,217.4 153.7,217.4 154.3,217.4 154.8,217.4 155.3,217.4 155.8,217.4 156.4,217.4 156.9,217.4" fill="none" stroke="#141414" stroke-width="1.1" stroke-linejoin="round"/>
<polyline points="51.8,204.3 52.3,204.5 52.9,203.9 53.4,203.4 53.9,203.1 54.4,202.7 55,203.1 55.5,203.9 56,204.9 56.6,205.3 57.1,204.8 57.6,204.2 58.1,203.8 58.7,204.1 59.2,205 59.7,205.2 60.3,204.3 60.8,203 61.3,202.9 61.8,203.2 62.4,202.9 62.9,202.1 63.4,201.8 63.9,202.1 64.5,201.9 65,200.6 65.5,199.6 66.1,199 66.6,198.7 67.1,198.8 67.6,198.4 68.2,197.6 68.7,197.1 69.2,196.9 69.8,196.5 70.3,195.6 70.8,194.3 71.3,193.2 71.9,192.4 72.4,191.9 72.9,191.9 73.5,190.8 74,189.3 74.5,189.1 75,188.4 75.6,186.6 76.1,185.6 76.6,185.2 77.2,184.3 77.7,183.8 78.2,183 78.7,181.7 79.3,180.6 79.8,179.7 80.3,178.6 80.8,177.3 81.4,175.8 81.9,174.3 82.4,173.4 83,173.2 83.5,173.1 84,172.2 84.5,170.2 85.1,168.3 85.6,167.7 86.1,167.7 86.7,167.3 87.2,167 87.7,166.3 88.2,165.7 88.8,165.6 89.3,165.6 89.8,165.6 90.4,165.7 90.9,165.9 91.4,165.6 91.9,165.6 92.5,165.6 93,165.6 93.5,167.7 94.1,169.4 94.6,170.8 95.1,172.8 95.6,174.3 96.2,175.5 96.7,176.7 97.2,177.6 97.7,179.5 98.3,182.4 98.8,185.3 99.3,187.8 99.9,189.4 100.4,190.3 100.9,191.5 101.4,193.4 102,195.6 102.5,197.8 103,199.8 103.6,201.6 104.1,202.3 104.6,202.6 105.1,204 105.7,206.1 106.2,207.2 106.7,207.4 107.3,208.7 107.8,210.9 108.3,211.9 108.8,211.9 109.4,212.3 109.9,213.2 110.4,213.7 111,213.5 111.5,213.3 112,214.1 112.5,215.3 113.1,215.6 113.6,215.4 114.1,215.9 114.6,216.4 115.2,216.5 115.7,216.7 116.2,216.8 116.8,216.9 117.3,217 117.8,217 118.3,217.1 118.9,217.1 119.4,217.2 119.9,217.2 120.5,217.2 121,217.3 121.5,217.3 122,217.3 122.6,217.3 123.1,217.3 123.6,217.3 124.2,217.3 124.7,217.4 125.2,217.4 125.7,217.4 126.3,217.4 126.8,217.4 127.3,217.4 127.9,217.4 128.4,217.4 128.9,217.4 129.4,217.4 130,217.4 130.5,217.4 131,217.4 131.5,217.4 132.1,217.4 132.6,217.4 133.1,217.4 133.7,217.4 134.2,217.4 134.7,217.4 135.2,217.4 135.8,217.4 136.3,217.4 136.8,217.4 137.4,217.4 137.9,217.4 138.4,217.4 138.9,217.4 139.5,217.4 140,217.4 140.5,217.4 141.1,217.4 141.6,217.4 142.1,217.4 142.6,217.4 143.2,217.4 143.7,217.4 144.2,217.4 144.8,217.4 145.3,217.4 145.8,217.4 146.3,217.4 146.9,217.4 147.4,217.4 147.9,217.4 148.4,217.4 149,217.4 149.5,217.4 150,217.4 150.6,217.4 151.1,217.4 151.6,217.4 152.1,217.4 152.7,217.4 153.2,217.4 153.7,217.4 154.3,217.4 154.8,217.4 155.3,217.4 155.8,217.4 156.4,217.4 156.9,217.4" fill="none" stroke="#d4202c" stroke-width="1.1" stroke-linejoin="round"/>
<rect x="51.2" y="164.1" width="106.3" height="54.1" fill="none" stroke="#5a5a5a" stroke-width="0.9"/>
<line x1="74.3" y1="217" x2="74.3" y2="218.2" stroke="#777" stroke-width="0.5"/>
<line x1="97.4" y1="217" x2="97.4" y2="218.2" stroke="#777" stroke-width="0.5"/>
<line x1="120.5" y1="217" x2="120.5" y2="218.2" stroke="#777" stroke-width="0.5"/>
<line x1="143.6" y1="217" x2="143.6" y2="218.2" stroke="#777" stroke-width="0.5"/>
<line x1="51.2" y1="164.1" x2="51.2" y2="218.2" stroke="#d4202c" stroke-width="1.1"/>
<path d="M51.8 281.7 L51.8,274 52.3,274 52.9,273.9 53.4,274 53.9,274.1 54.4,274.3 55,274.2 55.5,274.2 56,274.3 56.6,274.4 57.1,274.2 57.6,274 58.1,274 58.7,273.6 59.2,273.4 59.7,273.8 60.3,274.1 60.8,273.8 61.3,273.4 61.8,273.3 62.4,273.1 62.9,273 63.4,273.1 63.9,273.3 64.5,273.3 65,273.1 65.5,272.7 66.1,272.3 66.6,272.2 67.1,272.1 67.6,271.9 68.2,271.8 68.7,271.9 69.2,271.7 69.8,271.1 70.3,270.6 70.8,270.1 71.3,269.7 71.9,269.2 72.4,268.4 72.9,268.1 73.5,267.8 74,267.2 74.5,266.3 75,265.3 75.6,264.8 76.1,264.2 76.6,263.5 77.2,262.6 77.7,261.5 78.2,260.4 78.7,259.5 79.3,258.6 79.8,257.8 80.3,257 80.8,255.8 81.4,254.7 81.9,254 82.4,253.2 83,252.1 83.5,251 84,249.9 84.5,248.5 85.1,247.6 85.6,246.9 86.1,245.8 86.7,244.5 87.2,243.4 87.7,242.4 88.2,241.4 88.8,240.7 89.3,240.5 89.8,239.9 90.4,238.9 90.9,237.6 91.4,236.5 91.9,236 92.5,235.8 93,235.1 93.5,234.4 94.1,234 94.6,233.7 95.1,233.5 95.6,233.3 96.2,232.7 96.7,232.3 97.2,232.4 97.7,232.7 98.3,232.9 98.8,232.9 99.3,232.9 99.9,233.1 100.4,233.3 100.9,233.6 101.4,234.5 102,235.9 102.5,236.8 103,237.5 103.6,238.4 104.1,239.4 104.6,240.7 105.1,242.5 105.7,244.1 106.2,245.6 106.7,247.3 107.3,248.7 107.8,249.9 108.3,251.1 108.8,252.7 109.4,254.4 109.9,256 110.4,257.4 111,258.7 111.5,260.5 112,261.8 112.5,262.8 113.1,264 113.6,264.9 114.1,266 114.6,267.4 115.2,268.7 115.7,269.8 116.2,270.5 116.8,271.2 117.3,271.9 117.8,272.5 118.3,273.2 118.9,274 119.4,275 119.9,276 120.5,276.5 121,277 121.5,277.6 122,277.7 122.6,278.1 123.1,278.7 123.6,279.2 124.2,279.4 124.7,279.6 125.2,280 125.7,280.4 126.3,280.7 126.8,280.7 127.3,281.2 127.9,280.8 128.4,280.9 128.9,281 129.4,281.1 130,281.2 130.5,281.2 131,281.3 131.5,281.4 132.1,281.4 132.6,281.5 133.1,281.5 133.7,281.5 134.2,281.5 134.7,281.6 135.2,281.6 135.8,281.6 136.3,281.6 136.8,281.6 137.4,281.6 137.9,281.7 138.4,281.7 138.9,281.7 139.5,281.7 140,281.7 140.5,281.7 141.1,281.7 141.6,281.7 142.1,281.7 142.6,281.7 143.2,281.7 143.7,281.7 144.2,281.7 144.8,281.7 145.3,281.7 145.8,281.7 146.3,281.7 146.9,281.7 147.4,281.7 147.9,281.7 148.4,281.7 149,281.7 149.5,281.7 150,281.7 150.6,281.7 151.1,281.7 151.6,281.7 152.1,281.7 152.7,281.7 153.2,281.7 153.7,281.7 154.3,281.7 154.8,281.7 155.3,281.7 155.8,281.7 156.4,281.7 156.9,281.7 L156.9 281.7Z" fill="#f8c9b9" opacity="1.0"/>
<polyline points="51.8,274 52.3,274 52.9,273.9 53.4,274 53.9,274.1 54.4,274.3 55,274.2 55.5,274.2 56,274.3 56.6,274.4 57.1,274.2 57.6,274 58.1,274 58.7,273.6 59.2,273.4 59.7,273.8 60.3,274.1 60.8,273.8 61.3,273.4 61.8,273.3 62.4,273.1 62.9,273 63.4,273.1 63.9,273.3 64.5,273.3 65,273.1 65.5,272.7 66.1,272.3 66.6,272.2 67.1,272.1 67.6,271.9 68.2,271.8 68.7,271.9 69.2,271.7 69.8,271.1 70.3,270.6 70.8,270.1 71.3,269.7 71.9,269.2 72.4,268.4 72.9,268.1 73.5,267.8 74,267.2 74.5,266.3 75,265.3 75.6,264.8 76.1,264.2 76.6,263.5 77.2,262.6 77.7,261.5 78.2,260.4 78.7,259.5 79.3,258.6 79.8,257.8 80.3,257 80.8,255.8 81.4,254.7 81.9,254 82.4,253.2 83,252.1 83.5,251 84,249.9 84.5,248.5 85.1,247.6 85.6,246.9 86.1,245.8 86.7,244.5 87.2,243.4 87.7,242.4 88.2,241.4 88.8,240.7 89.3,240.5 89.8,239.9 90.4,238.9 90.9,237.6 91.4,236.5 91.9,236 92.5,235.8 93,235.1 93.5,234.4 94.1,234 94.6,233.7 95.1,233.5 95.6,233.3 96.2,232.7 96.7,232.3 97.2,232.4 97.7,232.7 98.3,232.9 98.8,232.9 99.3,232.9 99.9,233.1 100.4,233.3 100.9,233.6 101.4,234.5 102,235.9 102.5,236.8 103,237.5 103.6,238.4 104.1,239.4 104.6,240.7 105.1,242.5 105.7,244.1 106.2,245.6 106.7,247.3 107.3,248.7 107.8,249.9 108.3,251.1 108.8,252.7 109.4,254.4 109.9,256 110.4,257.4 111,258.7 111.5,260.5 112,261.8 112.5,262.8 113.1,264 113.6,264.9 114.1,266 114.6,267.4 115.2,268.7 115.7,269.8 116.2,270.5 116.8,271.2 117.3,271.9 117.8,272.5 118.3,273.2 118.9,274 119.4,275 119.9,276 120.5,276.5 121,277 121.5,277.6 122,277.7 122.6,278.1 123.1,278.7 123.6,279.2 124.2,279.4 124.7,279.6 125.2,280 125.7,280.4 126.3,280.7 126.8,280.7 127.3,281.2 127.9,280.8 128.4,280.9 128.9,281 129.4,281.1 130,281.2 130.5,281.2 131,281.3 131.5,281.4 132.1,281.4 132.6,281.5 133.1,281.5 133.7,281.5 134.2,281.5 134.7,281.6 135.2,281.6 135.8,281.6 136.3,281.6 136.8,281.6 137.4,281.6 137.9,281.7 138.4,281.7 138.9,281.7 139.5,281.7 140,281.7 140.5,281.7 141.1,281.7 141.6,281.7 142.1,281.7 142.6,281.7 143.2,281.7 143.7,281.7 144.2,281.7 144.8,281.7 145.3,281.7 145.8,281.7 146.3,281.7 146.9,281.7 147.4,281.7 147.9,281.7 148.4,281.7 149,281.7 149.5,281.7 150,281.7 150.6,281.7 151.1,281.7 151.6,281.7 152.1,281.7 152.7,281.7 153.2,281.7 153.7,281.7 154.3,281.7 154.8,281.7 155.3,281.7 155.8,281.7 156.4,281.7 156.9,281.7" fill="none" stroke="#f3b3a0" stroke-width="0.7" stroke-linejoin="round"/>
<path d="M51.8 281.7 L51.8,271 52.3,270.5 52.9,270.3 53.4,270.2 53.9,270.1 54.4,270.1 55,270.3 55.5,270.3 56,269.9 56.6,269.4 57.1,269.4 57.6,269.8 58.1,269.6 58.7,269.2 59.2,269.1 59.7,268.6 60.3,267.7 60.8,267.5 61.3,267.5 61.8,267 62.4,266.5 62.9,266.3 63.4,266.2 63.9,266.1 64.5,266 65,265.4 65.5,264.6 66.1,263.8 66.6,263.3 67.1,263.4 67.6,263.4 68.2,262.5 68.7,261.4 69.2,260.6 69.8,260.1 70.3,259.3 70.8,258.4 71.3,257.7 71.9,257.1 72.4,256.5 72.9,255.7 73.5,255 74,254.5 74.5,253.6 75,252.2 75.6,251.1 76.1,250.1 76.6,249.2 77.2,248.1 77.7,246.9 78.2,246.3 78.7,245.8 79.3,245.1 79.8,244 80.3,242.7 80.8,241.7 81.4,241 81.9,240.3 82.4,239.5 83,239 83.5,238.1 84,237.2 84.5,236.5 85.1,235.7 85.6,235.1 86.1,234.1 86.7,233 87.2,232.3 87.7,231.9 88.2,231.6 88.8,231.1 89.3,230.6 89.8,230.1 90.4,229.9 90.9,230.3 91.4,230.6 91.9,231.3 92.5,232 93,231.8 93.5,231.2 94.1,231.2 94.6,231.6 95.1,232 95.6,232.7 96.2,233.7 96.7,234.5 97.2,235.6 97.7,237.3 98.3,239 98.8,240.3 99.3,241.9 99.9,243.7 100.4,245.3 100.9,246.8 101.4,248.1 102,249.6 102.5,251.3 103,253.3 103.6,255.4 104.1,256.9 104.6,258.3 105.1,259.6 105.7,260.8 106.2,262.7 106.7,264.4 107.3,265.5 107.8,266.8 108.3,268.3 108.8,269.5 109.4,270.4 109.9,271.2 110.4,272.3 111,273.3 111.5,274.1 112,274.8 112.5,276 113.1,277.4 113.6,278 114.1,278.1 114.6,278.2 115.2,278.3 115.7,278.5 116.2,278.9 116.8,279.3 117.3,279.5 117.8,279.6 118.3,280 118.9,280.1 119.4,280.1 119.9,280.8 120.5,280.9 121,281 121.5,281.1 122,281.2 122.6,281.3 123.1,281.4 123.6,281.4 124.2,281.5 124.7,281.5 125.2,281.5 125.7,281.6 126.3,281.6 126.8,281.6 127.3,281.6 127.9,281.6 128.4,281.6 128.9,281.7 129.4,281.7 130,281.7 130.5,281.7 131,281.7 131.5,281.7 132.1,281.7 132.6,281.7 133.1,281.7 133.7,281.7 134.2,281.7 134.7,281.7 135.2,281.7 135.8,281.7 136.3,281.7 136.8,281.7 137.4,281.7 137.9,281.7 138.4,281.7 138.9,281.7 139.5,281.7 140,281.7 140.5,281.7 141.1,281.7 141.6,281.7 142.1,281.7 142.6,281.7 143.2,281.7 143.7,281.7 144.2,281.7 144.8,281.7 145.3,281.7 145.8,281.7 146.3,281.7 146.9,281.7 147.4,281.7 147.9,281.7 148.4,281.7 149,281.7 149.5,281.7 150,281.7 150.6,281.7 151.1,281.7 151.6,281.7 152.1,281.7 152.7,281.7 153.2,281.7 153.7,281.7 154.3,281.7 154.8,281.7 155.3,281.7 155.8,281.7 156.4,281.7 156.9,281.7 L156.9 281.7Z" fill="#e9e9e9" opacity="1.0"/>
<polyline points="51.8,271 52.3,270.5 52.9,270.3 53.4,270.2 53.9,270.1 54.4,270.1 55,270.3 55.5,270.3 56,269.9 56.6,269.4 57.1,269.4 57.6,269.8 58.1,269.6 58.7,269.2 59.2,269.1 59.7,268.6 60.3,267.7 60.8,267.5 61.3,267.5 61.8,267 62.4,266.5 62.9,266.3 63.4,266.2 63.9,266.1 64.5,266 65,265.4 65.5,264.6 66.1,263.8 66.6,263.3 67.1,263.4 67.6,263.4 68.2,262.5 68.7,261.4 69.2,260.6 69.8,260.1 70.3,259.3 70.8,258.4 71.3,257.7 71.9,257.1 72.4,256.5 72.9,255.7 73.5,255 74,254.5 74.5,253.6 75,252.2 75.6,251.1 76.1,250.1 76.6,249.2 77.2,248.1 77.7,246.9 78.2,246.3 78.7,245.8 79.3,245.1 79.8,244 80.3,242.7 80.8,241.7 81.4,241 81.9,240.3 82.4,239.5 83,239 83.5,238.1 84,237.2 84.5,236.5 85.1,235.7 85.6,235.1 86.1,234.1 86.7,233 87.2,232.3 87.7,231.9 88.2,231.6 88.8,231.1 89.3,230.6 89.8,230.1 90.4,229.9 90.9,230.3 91.4,230.6 91.9,231.3 92.5,232 93,231.8 93.5,231.2 94.1,231.2 94.6,231.6 95.1,232 95.6,232.7 96.2,233.7 96.7,234.5 97.2,235.6 97.7,237.3 98.3,239 98.8,240.3 99.3,241.9 99.9,243.7 100.4,245.3 100.9,246.8 101.4,248.1 102,249.6 102.5,251.3 103,253.3 103.6,255.4 104.1,256.9 104.6,258.3 105.1,259.6 105.7,260.8 106.2,262.7 106.7,264.4 107.3,265.5 107.8,266.8 108.3,268.3 108.8,269.5 109.4,270.4 109.9,271.2 110.4,272.3 111,273.3 111.5,274.1 112,274.8 112.5,276 113.1,277.4 113.6,278 114.1,278.1 114.6,278.2 115.2,278.3 115.7,278.5 116.2,278.9 116.8,279.3 117.3,279.5 117.8,279.6 118.3,280 118.9,280.1 119.4,280.1 119.9,280.8 120.5,280.9 121,281 121.5,281.1 122,281.2 122.6,281.3 123.1,281.4 123.6,281.4 124.2,281.5 124.7,281.5 125.2,281.5 125.7,281.6 126.3,281.6 126.8,281.6 127.3,281.6 127.9,281.6 128.4,281.6 128.9,281.7 129.4,281.7 130,281.7 130.5,281.7 131,281.7 131.5,281.7 132.1,281.7 132.6,281.7 133.1,281.7 133.7,281.7 134.2,281.7 134.7,281.7 135.2,281.7 135.8,281.7 136.3,281.7 136.8,281.7 137.4,281.7 137.9,281.7 138.4,281.7 138.9,281.7 139.5,281.7 140,281.7 140.5,281.7 141.1,281.7 141.6,281.7 142.1,281.7 142.6,281.7 143.2,281.7 143.7,281.7 144.2,281.7 144.8,281.7 145.3,281.7 145.8,281.7 146.3,281.7 146.9,281.7 147.4,281.7 147.9,281.7 148.4,281.7 149,281.7 149.5,281.7 150,281.7 150.6,281.7 151.1,281.7 151.6,281.7 152.1,281.7 152.7,281.7 153.2,281.7 153.7,281.7 154.3,281.7 154.8,281.7 155.3,281.7 155.8,281.7 156.4,281.7 156.9,281.7" fill="none" stroke="#d0d0d0" stroke-width="0.6" stroke-linejoin="round"/>
<polyline points="51.8,269.5 52.3,269.8 52.9,269.3 53.4,268.1 53.9,267.6 54.4,267.5 55,266.5 55.5,266.2 56,267.1 56.6,267.4 57.1,266.9 57.6,266.4 58.1,266.8 58.7,267.1 59.2,267.1 59.7,266.9 60.3,265.7 60.8,264.4 61.3,263.9 61.8,263.6 62.4,263.3 62.9,263.2 63.4,263.4 63.9,263.6 64.5,263.1 65,261.8 65.5,260.4 66.1,259.7 66.6,260.1 67.1,260.7 67.6,260.4 68.2,259 68.7,257.7 69.2,257.3 69.8,257.3 70.3,256.7 70.8,255.5 71.3,254.8 71.9,254.2 72.4,253 72.9,251.8 73.5,250.9 74,249.8 74.5,249.1 75,248.8 75.6,248.3 76.1,248.2 76.6,247.9 77.2,247.2 77.7,246.1 78.2,244.6 78.7,243.4 79.3,242.4 79.8,242.5 80.3,242.8 80.8,242 81.4,240.8 81.9,239.6 82.4,238.4 83,237 83.5,236.2 84,236.1 84.5,235.5 85.1,235 85.6,234.5 86.1,233.3 86.7,232.5 87.2,232.1 87.7,230.8 88.2,229.5 88.8,230.3 89.3,231.5 89.8,231.2 90.4,230.4 90.9,229.8 91.4,229.7 91.9,229.5 92.5,229.4 93,229.6 93.5,230.2 94.1,230.1 94.6,229.6 95.1,229.4 95.6,229.8 96.2,231 96.7,231.8 97.2,232.2 97.7,233.1 98.3,234.9 98.8,236.6 99.3,238.3 99.9,240.4 100.4,242 100.9,243.7 101.4,245.3 102,246.6 102.5,247.9 103,249.8 103.6,252.1 104.1,253.7 104.6,255.3 105.1,257.8 105.7,259.6 106.2,260.9 106.7,262.4 107.3,264 107.8,265.3 108.3,266.4 108.8,267.7 109.4,269.5 109.9,271 110.4,272.3 111,273.5 111.5,274.6 112,275.2 112.5,274.8 113.1,274.3 113.6,274.8 114.1,276.2 114.6,277.5 115.2,278.1 115.7,278.7 116.2,278.9 116.8,278.9 117.3,279.5 117.8,279.8 118.3,280.1 118.9,280.8 119.4,280.7 119.9,280.9 120.5,281 121,281.1 121.5,281.2 122,281.3 122.6,281.3 123.1,281.4 123.6,281.5 124.2,281.5 124.7,281.5 125.2,281.6 125.7,281.6 126.3,281.6 126.8,281.6 127.3,281.6 127.9,281.6 128.4,281.7 128.9,281.7 129.4,281.7 130,281.7 130.5,281.7 131,281.7 131.5,281.7 132.1,281.7 132.6,281.7 133.1,281.7 133.7,281.7 134.2,281.7 134.7,281.7 135.2,281.7 135.8,281.7 136.3,281.7 136.8,281.7 137.4,281.7 137.9,281.7 138.4,281.7 138.9,281.7 139.5,281.7 140,281.7 140.5,281.7 141.1,281.7 141.6,281.7 142.1,281.7 142.6,281.7 143.2,281.7 143.7,281.7 144.2,281.7 144.8,281.7 145.3,281.7 145.8,281.7 146.3,281.7 146.9,281.7 147.4,281.7 147.9,281.7 148.4,281.7 149,281.7 149.5,281.7 150,281.7 150.6,281.7 151.1,281.7 151.6,281.7 152.1,281.7 152.7,281.7 153.2,281.7 153.7,281.7 154.3,281.7 154.8,281.7 155.3,281.7 155.8,281.7 156.4,281.7 156.9,281.7" fill="none" stroke="#141414" stroke-width="1.1" stroke-linejoin="round"/>
<polyline points="51.8,274.2 52.3,274.1 52.9,273.9 53.4,273.7 53.9,273.6 54.4,274.4 55,275.6 55.5,276.3 56,276.8 56.6,276.4 57.1,274.9 57.6,273.5 58.1,273.2 58.7,274.1 59.2,275.1 59.7,275.1 60.3,274.4 60.8,274.3 61.3,274.5 61.8,274.3 62.4,274.7 62.9,275.2 63.4,274.7 63.9,274.4 64.5,274.5 65,273.8 65.5,272.4 66.1,271.7 66.6,272.4 67.1,273.8 67.6,274 68.2,273.6 68.7,274 69.2,274.3 69.8,273.3 70.3,271.4 70.8,270.5 71.3,270.7 71.9,271.1 72.4,271.1 72.9,270.7 73.5,270 74,269.4 74.5,268.7 75,268.6 75.6,268.1 76.1,266.8 76.6,266.1 77.2,265.9 77.7,266.2 78.2,266 78.7,264.8 79.3,263.5 79.8,262.6 80.3,262.6 80.8,261.9 81.4,259.9 81.9,258.3 82.4,257.6 83,256.9 83.5,255.9 84,255.4 84.5,254.5 85.1,253.2 85.6,251.5 86.1,250 86.7,248.9 87.2,247.7 87.7,247.1 88.2,247.1 88.8,246.4 89.3,244.8 89.8,243.4 90.4,242.5 90.9,241.6 91.4,239.8 91.9,238.5 92.5,238.3 93,238.1 93.5,237.1 94.1,235.9 94.6,234.8 95.1,234 95.6,233.3 96.2,232.9 96.7,233 97.2,233.8 97.7,233.5 98.3,232.7 98.8,232.4 99.3,232.1 99.9,232.2 100.4,232.3 100.9,232.5 101.4,232.6 102,232.5 102.5,232.8 103,232.8 103.6,232.8 104.1,234.2 104.6,235.6 105.1,235.9 105.7,236.1 106.2,236.8 106.7,238.3 107.3,240.3 107.8,241.3 108.3,242.5 108.8,244.6 109.4,247.3 109.9,249.7 110.4,250.2 111,250.7 111.5,252.8 112,254.2 112.5,254.7 113.1,255.4 113.6,257 114.1,259.4 114.6,260.7 115.2,261.8 115.7,263.3 116.2,263.8 116.8,263.7 117.3,264.9 117.8,267.6 118.3,270 118.9,270.5 119.4,270.7 119.9,271.2 120.5,271.2 121,271.2 121.5,273.1 122,274.9 122.6,275.5 123.1,276.1 123.6,276.6 124.2,276.7 124.7,276.9 125.2,277.8 125.7,278.8 126.3,278.9 126.8,278.8 127.3,278.8 127.9,278.6 128.4,279.1 128.9,279.8 129.4,279.3 130,278.3 130.5,278.6 131,279.6 131.5,280.8 132.1,280.9 132.6,281 133.1,281.1 133.7,281.2 134.2,281.2 134.7,281.3 135.2,281.3 135.8,281.4 136.3,281.4 136.8,281.5 137.4,281.5 137.9,281.5 138.4,281.6 138.9,281.6 139.5,281.6 140,281.6 140.5,281.6 141.1,281.6 141.6,281.6 142.1,281.7 142.6,281.7 143.2,281.7 143.7,281.7 144.2,281.7 144.8,281.7 145.3,281.7 145.8,281.7 146.3,281.7 146.9,281.7 147.4,281.7 147.9,281.7 148.4,281.7 149,281.7 149.5,281.7 150,281.7 150.6,281.7 151.1,281.7 151.6,281.7 152.1,281.7 152.7,281.7 153.2,281.7 153.7,281.7 154.3,281.7 154.8,281.7 155.3,281.7 155.8,281.7 156.4,281.7 156.9,281.7" fill="none" stroke="#d4202c" stroke-width="1.1" stroke-linejoin="round"/>
<rect x="51.2" y="227.9" width="106.3" height="54.6" fill="none" stroke="#5a5a5a" stroke-width="0.9"/>
<line x1="74.3" y1="281.3" x2="74.3" y2="282.5" stroke="#777" stroke-width="0.5"/>
<line x1="97.4" y1="281.3" x2="97.4" y2="282.5" stroke="#777" stroke-width="0.5"/>
<line x1="120.5" y1="281.3" x2="120.5" y2="282.5" stroke="#777" stroke-width="0.5"/>
<line x1="143.6" y1="281.3" x2="143.6" y2="282.5" stroke="#777" stroke-width="0.5"/>
<line x1="51.2" y1="227.9" x2="51.2" y2="282.5" stroke="#d4202c" stroke-width="1.1"/>
<line x1="51.4" y1="287.5" x2="68.5" y2="287.5" stroke="#111" stroke-width="0.9"/>
<path d="M70.5 287.5L67 286L67 289Z" fill="#111"/>
<text x="50.6" y="297.4" font-size="8.8" fill="#111">CD86</text>
<path d="M57.6 312.2 L60.6 307 Q62.5 312.4 68.1 312.6Z" fill="#f2f2f2" stroke="#d6d6d6" stroke-width="0.9"/>
<text x="70.7" y="312.3" font-size="7.55" fill="#111">wt - placebo</text>
<path d="M57.6 321.2 L60.6 316 Q62.5 321.4 68.1 321.6" fill="none" stroke="#111" stroke-width="1.1"/>
<text x="70.7" y="321.3" font-size="7.55" fill="#111">wt - PCI-32765</text>
<path d="M57.6 330 L60.6 324.8 Q62.5 330.2 68.1 330.4Z" fill="#fbdcd2" stroke="#f4c0b2" stroke-width="0.9"/>
<text x="70.7" y="330.1" font-size="7.55" fill="#111">CD19-hBtk - placebo</text>
<path d="M57.6 338.5 L60.6 333.3 Q62.5 338.7 68.1 338.9" fill="none" stroke="#b53a50" stroke-width="1.1"/>
<text x="70.7" y="338.6" font-size="7.55" fill="#111">CD19-hBtk - PCI-32765</text>
<text x="171.3" y="152.2" font-size="11.5" font-weight="bold" fill="#000">D</text>
<text x="285.2" y="155.6" font-size="10.5" text-anchor="middle" fill="#111">wt</text>
<text x="442.5" y="155.6" font-size="10.5" text-anchor="middle" fill="#111">CD19-hBtk</text>
<path d="M209.8 165.2V160.2H360V165.2" fill="none" stroke="#555" stroke-width="0.8"/>
<path d="M368.3 165.2V160.2H518.6V165.2" fill="none" stroke="#555" stroke-width="0.8"/>
<text x="245.8" y="174.6" font-size="10.5" text-anchor="middle" fill="#111">placebo</text>
<text x="322.7" y="174.6" font-size="10.5" text-anchor="middle" fill="#111">PCI-32765</text>
<text x="404.9" y="174.6" font-size="10.5" text-anchor="middle" fill="#111">placebo</text>
<text x="482.5" y="174.6" font-size="10.5" text-anchor="middle" fill="#111">PCI-32765</text>
<text x="176.7" y="186" font-size="8.7" font-style="italic" fill="#222">spleen</text>
<text x="176.7" y="195.6" font-size="8.7" font-style="italic" fill="#222">CD19<tspan font-size="5" dy="-3">+</tspan></text>
<text x="178.8" y="215.9" font-size="10.4" fill="#111">day 9</text>
<text x="172.9" y="296.2" font-size="10.4" fill="#111">day 31</text>
<text transform="translate(200.7,327) rotate(-90)" font-size="7.2" fill="#111">CD95</text>
<line x1="204.4" y1="328.5" x2="204.4" y2="307.5" stroke="#111" stroke-width="0.9"/>
<path d="M204.4 305.5L202.9 309L205.9 309Z" fill="#111"/>
<line x1="211" y1="334.8" x2="229" y2="334.8" stroke="#111" stroke-width="0.9"/>
<path d="M231 334.8L227.5 333.3L227.5 336.3Z" fill="#111"/>
<text x="211" y="343.2" font-size="7.2" fill="#111">PNA</text>
<filter id="hz" x="-20%" y="-20%" width="140%" height="140%"><feGaussianBlur stdDeviation="2.2"/></filter>
<clipPath id="cp1"><rect x="209.8" y="178.5" width="72" height="71.5"/></clipPath>
<g clip-path="url(#cp1)">
<path d="M241.3 250 239.8 250 238.3 250 236.8 250 235.3 250 233.8 250 232.3 250 230.8 250 229.3 250 227.8 250 226.3 250 224.8 250 223.3 250 221.8 250 220.3 250 218.8 250 217.3 250 215.8 250 214.3 250 212.8 250 211.3 250 209.8 250 209.8 249 209.8 247.5 209.8 246 209.8 244.5 209.8 243 209.8 241.5 209.8 240 209.8 238.5 209.8 237 209.8 235.5 209.8 234 209.8 232.5 209.8 231 209.8 229.5 209.8 228 209.8 226.5 209.8 225 209.8 223.5 209.8 222 209.8 220.5 209.8 219 209.8 217.9 210.8 217.5 212.2 217 213.3 216.7 214.3 216.5 215.8 216.2 216.9 216 218.3 215.8 219.8 215.6 221.1 215.5 222.3 215.3 223.6 215 224.8 214.6 225.8 214.2 226.8 213.8 227.8 213.4 228.8 212.9 229.8 212.4 230.8 211.8 231.8 211.1 232.8 210.5 233.6 210 234.5 209.5 235.8 209.1 237.3 209.1 238.3 209.5 239.3 210.1 240.3 210.9 240.9 211.5 241.8 212.3 242.5 213 243.3 213.7 244 214.5 244.8 215.3 245.3 216 246 217 246.5 218 246.8 219 246.8 220.5 246.6 221.5 246.3 222.5 245.8 223.5 245.3 224.5 244.8 225.5 244.3 226.7 244 228 243.8 229 243.7 230.5 243.7 232 243.6 233.5 243.6 235 243.5 236.5 243.4 238 243.3 239.4 243.2 240.5 243.1 242 242.9 243.5 242.8 244.5 242.6 246 242.4 247.5 242.1 248.5 241.7 249.5Z" fill="#f0f0f0" filter="url(#hz)"/>
<path d="M239.3 250 237.8 250 236.3 250 234.8 250 233.3 250 231.8 250 230.3 250 228.8 250 227.3 250 225.8 250 224.3 250 222.8 250 221.3 250 219.8 250 218.3 250 216.8 250 215.3 250 213.8 250 212.3 250 210.8 250 209.8 250 209.8 248.5 209.8 247 209.8 245.5 209.8 244 209.8 242.5 209.8 241 209.8 239.5 209.8 238 209.8 236.5 209.8 235 209.8 233.5 209.8 232 209.8 230.5 209.8 229 209.8 227.5 209.8 226 209.8 224.5 209.8 223 209.8 221.5 209.8 220.3 210.8 219.9 211.8 219.5 213.3 219 214.3 218.7 215.3 218.5 216.8 218.1 217.8 217.9 219.3 217.7 220.3 217.5 221.8 217.2 222.8 216.9 223.9 216.5 225.1 216 226.2 215.5 227.3 215 228.3 214.5 229.3 214 230.3 213.5 231.3 213 232.3 212.5 233.3 212.1 234.3 211.7 235.3 211.5 236.8 211.5 237.8 211.7 238.8 212.1 239.8 212.7 240.8 213.5 241.3 214 242.3 215 242.8 215.6 243.5 216.5 244 217.5 244.3 218.5 244.5 220 244.4 221.5 244.1 222.5 243.8 223.5 243.3 224.8 243 226 242.8 227 242.6 228.5 242.5 230 242.4 231.5 242.3 233 242.3 234 242.2 235.5 242.1 237 241.9 238.5 241.8 239.5 241.6 241 241.4 242.5 241.2 243.5 241 245 240.8 246.2 240.5 247.5 240.2 248.5 239.8 249.5Z" fill="#e4e4e4" filter="url(#hz)"/>
<path d="M237.8 250 236.3 250 234.8 250 233.3 250 231.8 250 230.3 250 228.8 250 227.3 250 225.8 250 224.3 250 222.8 250 221.3 250 219.8 250 218.3 250 216.8 250 215.3 250 213.8 250 212.3 250 210.8 250 209.8 250 209.8 248.5 209.8 247 209.8 245.5 209.8 244 209.8 242.5 209.8 241 209.8 239.5 209.8 238 209.8 236.5 209.8 235 209.8 233.5 209.8 232 209.8 230.5 209.8 229 209.8 227.5 209.8 226 209.8 224.5 209.8 223 210.2 222 211.3 221.5 212.3 221.1 213.3 220.7 214.3 220.4 215.8 220 216.8 219.7 218 219.5 219.3 219.2 220.3 219 221.8 218.6 222.8 218.3 223.8 217.9 224.8 217.5 225.8 217 226.8 216.4 227.8 215.9 228.8 215.4 229.8 214.9 230.8 214.4 231.8 214 233.1 213.5 234.3 213.2 235.4 213 236.3 213 237.8 213.3 238.8 213.8 239.8 214.4 240.5 215 241.3 215.9 241.8 216.5 242.3 217.5 242.8 218.9 242.9 220 242.8 221.5 242.6 222.5 242.3 223.7 242 225 241.8 226 241.6 227.5 241.5 229 241.4 230.5 241.3 232 241.3 233 241.2 234.5 241.1 236 240.9 237.5 240.8 238.5 240.6 240 240.3 241.5 240.2 242.5 239.9 244 239.7 245 239.4 246.5 239.1 247.5 238.8 248.5 238.3 249.5Z" fill="#d8d8d8" filter="url(#hz)"/>
<path d="M248.8 245h.7M214.1 221.2h.7M217.1 219.9h.7M213.3 198.4h.7M252.5 246.7h.7M215.5 222.3h.7M242.2 237.9h.7M240.5 242.7h.7M213.5 221.7h.7M219.7 220.7h.7M221 219.1h.7M213.6 218.4h.7M227.7 208.9h.7M243.1 216.2h.7M243.1 235.9h.7M244.6 248.7h.7M213.4 222.6h.7M245.3 222.3h.7M223.5 215.3h.7M210.5 223.3h.7M240.3 235.6h.7M241.6 228.9h.7M244.7 242h.7M218.5 217.9h.7M215.6 208.7h.7M241.8 241.2h.7M243.5 203.4h.7M222.9 219h.7M248.6 228h.7M215.7 219.9h.7M249.2 239.1h.7M242.4 240.4h.7M246.9 211.3h.7M210.9 216.8h.7M254.5 247.9h.7M218.4 218.9h.7M241.3 241.3h.7M220.5 219.4h.7M225.5 218.9h.7M229 212.6h.7M241.9 241.2h.7M226.2 205h.7M240.8 227.5h.7M242.9 240.7h.7M246.1 233.9h.7M240.6 233.3h.7M224.4 216h.7M241.8 245.3h.7M228 214.6h.7M232.1 192.6h.7M243.2 231.3h.7M248.8 242.7h.7M240.5 243h.7M227.6 206.8h.7M244.3 218.8h.7M238.5 207.7h.7M241.9 207.2h.7M223.4 202.3h.7M241.7 215.8h.7M249.1 243.4h.7M239.2 247.1h.7M235.1 213.8h.7M240.7 241h.7M226 215.7h.7M254.1 247.5h.7M235.7 214.4h.7M222.5 219.8h.7M244.5 228h.7M240.9 246.7h.7M240 204h.7M224.4 209.1h.7M241 237.3h.7M233.1 213.3h.7M243.5 239h.7M243.8 244h.7M245.2 236.6h.7M241.3 214.6h.7M226.1 212h.7M242.2 235.1h.7M236.6 204.6h.7M242.9 234h.7M241.5 199.7h.7M232.3 215.1h.7M241.1 244.7h.7M242.7 237h.7M240.9 203.5h.7M241.3 214.4h.7M245.8 209.9h.7M245.3 225.5h.7M240.9 225.9h.7M228.3 213.1h.7M244.6 246h.7M226.7 214.9h.7M243.3 225.7h.7M247.9 214.2h.7M241.7 218.5h.7M237.9 246.7h.7M232.3 215.2h.7M243.8 223.4h.7M260.2 226.7h.7M248.1 216.3h.7M225 218h.7M246.1 228.1h.7M221 214.7h.7M245.7 216.5h.7M217.4 216.6h.7M215.1 214.5h.7M245 233.9h.7M211.5 223.3h.7M247.3 231.8h.7M263.6 219.1h.7M248.2 222.8h.7M218.7 220.1h.7M224.8 219.7h.7M242.5 232.3h.7M210.5 220h.7M260.8 219h.7M225.1 219.3h.7M248.9 224.4h.7M227.6 217.5h.7M219.1 218.4h.7M235.3 210.6h.7M266.5 235.4h.7M248.4 234.6h.7M210.2 223.1h.7M244.2 242.6h.7M239.5 242.5h.7M244 248h.7M245.2 243.4h.7M247.1 245.4h.7M230.1 215.3h.7M248.8 217.4h.7M242.2 217.1h.7M244 218.5h.7M213.6 217.2h.7M241.5 211h.7M243.4 209.6h.7M245.3 216.6h.7M213.4 221.4h.7M244.5 224.4h.7M243.5 220.1h.7M224.1 218.8h.7M233.6 211.6h.7M241.5 223.1h.7M240.7 231.4h.7M219 218.8h.7M229.6 213.4h.7M249.7 220.1h.7M226.4 218.5h.7M225.4 218.8h.7M250 207.7h.7M243.5 215.4h.7M242.2 220.3h.7M241.6 216.3h.7M223.2 220h.7M214.7 214.9h.7M242.5 223h.7M230.7 215.6h.7M225.6 217.3h.7M241.5 218h.7M243.1 219.5h.7M247.2 215.9h.7M243.2 228.6h.7M244.1 226h.7M243.2 222.5h.7M242.3 226.4h.7M244 218.5h.7M240.8 233.2h.7M240.6 226.6h.7M242.6 224.2h.7M241.8 229.4h.7M240.7 218h.7M247.7 220.6h.7M228.6 216.3h.7M221.2 220h.7M242.5 225.8h.7M244.9 214.1h.7M241.6 213.6h.7M228.5 217.4h.7M239.8 216.1h.7M243.7 216.8h.7M244.5 226.5h.7M228.9 213.9h.7M217.7 214.7h.7M249.5 219.1h.7M227.7 214.1h.7M226.1 217.7h.7M244.5 215.9h.7M223.1 207.3h.7M227.2 212.6h.7M221.2 218.4h.7M247.4 229.8h.7M215 218.4h.7M245.6 224h.7M221 219.5h.7M252.5 220.8h.7M214.8 217.9h.7M244.4 219.2h.7M234.6 213.3h.7M240.8 232.3h.7M246.6 248.4h.7M248.3 223.7h.7M248.1 235.2h.7M257.3 226.5h.7M247.4 227.5h.7M240.2 214.6h.7M243.7 201.9h.7M245.7 232.6h.7M242.6 244h.7M242.4 219.8h.7M245 233.5h.7M246.7 221h.7M247.3 227.6h.7M249.7 229h.7M251 202.8h.7M241.9 201.6h.7M250 229.9h.7M248 232.6h.7M242.3 234.4h.7M243.8 225.4h.7M251.5 217.8h.7M240.9 225.3h.7M252.5 224.6h.7M245.5 225.4h.7M248 234h.7M242.9 218.6h.7M245.7 242.5h.7M249.5 212.2h.7M243.5 209.7h.7M241.5 220.6h.7M250.3 232.7h.7M242.7 236.5h.7M249.6 226.2h.7M257.7 211.4h.7M247.8 232.7h.7M249.3 237.2h.7M246.3 230.2h.7M244.7 224.4h.7M244.8 236.9h.7M243.4 229.5h.7M250.2 217.1h.7M241.2 215.1h.7M247.4 241.4h.7M242.3 218.5h.7M245.9 244.7h.7M248.8 205.1h.7M252.7 228.5h.7M246.3 249.4h.7M238.2 212h.7M244.7 228.2h.7M246.8 213.5h.7M252.4 229.3h.7M228.6 202.1h.7M245.5 211.2h.7M247.8 231.8h.7M246 234.6h.7M246.3 235.1h.7M248.9 243.6h.7M245.6 238.3h.7M245.3 218.7h.7M251 228.3h.7M250.7 238.8h.7M239.6 241.7h.7M241.3 229.2h.7M248.3 205.7h.7M252.5 234.4h.7M252.9 209.9h.7M246.2 229.1h.7M253 226h.7M258.3 232.2h.7M246.1 216.1h.7M236.3 213.8h.7M245.5 237.9h.7M237.7 214.9h.7M242.8 225.3h.7M243.8 226.6h.7M247.2 244.1h.7M249.3 231.4h.7M244.2 207.7h.7M241.4 236h.7M238.5 195.8h.7M249.6 213.6h.7M247.3 231.1h.7M256.7 226.5h.7M249.9 246.5h.7M244 245.8h.7M247.7 228.5h.7M240.7 227.1h.7M243.9 211.9h.7M240.4 226.7h.7M254.6 229.4h.7M242 236.2h.7M245.5 233.9h.7M243.5 225.5h.7M241.7 243.6h.7M238.6 205.7h.7M241.3 239.8h.7M256.9 229.2h.7M244.8 244.9h.7M245 214.3h.7M247.3 206.7h.7M243.8 229.6h.7M244.6 216.3h.7M244.8 233.6h.7M239 214.9h.7M241.4 225.9h.7M231.8 212.6h.7M241.2 237.3h.7M247.8 246.2h.7M245.4 228h.7M246 219.8h.7M245.7 237.5h.7M242.7 237.4h.7M242.2 247.6h.7M246.5 238.3h.7M250.5 239.3h.7M249.7 219.9h.7M242.3 222.9h.7M247.1 228.9h.7M249 231.3h.7M255 230.4h.7M251 233.9h.7M243.8 230.5h.7M243.5 225.1h.7M244 210.8h.7M244.4 240.2h.7M248 219.7h.7M245.2 231.1h.7M239 208.2h.7M241.2 215.8h.7M248.1 249.5h.7M242.8 219.9h.7M242 226h.7M245.9 216.9h.7M244.2 224.3h.7M256.2 205.4h.7M239.8 196.2h.7M249.3 238.1h.7M255 230.6h.7M243.4 241.8h.7M249.8 205.1h.7M240.6 228.2h.7M251.6 222.2h.7M249 226.4h.7M250.7 227h.7M244.1 215.8h.7M261 222h.7M254.3 214.3h.7M241 209.5h.7M243.7 210.5h.7M243.1 230.7h.7M247.7 212.6h.7M243.4 226.4h.7M252.3 245.8h.7M250.5 229.1h.7M241.7 231.5h.7M241.9 233h.7M241.7 237.6h.7M243 225.4h.7M248.8 234.1h.7M243.8 235.9h.7M244.4 221.4h.7M251.7 225.2h.7M227.9 214.7h.7M253 226.6h.7M246 228.1h.7M232.2 215.1h.7M244.5 228.7h.7M246.8 245.3h.7M241 242.7h.7M237.5 199.9h.7M248.6 227h.7M248.8 201.1h.7M251.6 232.9h.7M231.1 207.8h.7M247.2 222.4h.7M244.3 221.2h.7M257.5 238.6h.7M246.9 234.3h.7M247.4 236.8h.7M240.6 233.3h.7M241.6 248.4h.7M245.6 210.4h.7M240.6 237.2h.7M241 236.6h.7M244.7 233.3h.7M241 216.5h.7M247.3 231.3h.7M249.2 215.6h.7M245.2 217.3h.7M246 236.8h.7M245.2 242.5h.7M256.5 223.4h.7M244.2 221.7h.7M247.6 236h.7M249.9 229.3h.7M248 242.2h.7M244 244.1h.7M232.8 212.9h.7M233.6 215.4h.7M243.4 225.4h.7M241.6 217h.7M247.7 230.6h.7M247.9 213.1h.7M233.4 209.5h.7M243.7 224.3h.7M247.6 237.9h.7M240.8 236h.7M248.5 229.2h.7M244 190.3h.7M250 224.1h.7M244 221.1h.7M241.6 226h.7M246.2 215.4h.7M248 224.8h.7M244.4 222h.7M244.1 228.6h.7M243.9 232.3h.7M242.2 225.1h.7M242.7 229.8h.7M237.5 201.6h.7M241.4 207.9h.7M228.1 215.6h.7M225.5 210.4h.7M227.7 207.5h.7M241.5 208h.7M222.3 208.5h.7M211.9 219.3h.7M223.1 215.4h.7M231.9 212.8h.7M238.1 214.8h.7M241.9 212.6h.7M233.2 210.8h.7M237.5 212.8h.7M237.4 209h.7M237.3 206.7h.7M230.2 216.1h.7M241.9 211.5h.7M240.1 213.8h.7M210.1 220.1h.7M213.9 215.2h.7M243.5 211.3h.7M232.5 209.5h.7M214.6 215.7h.7M240.8 205.7h.7M212.8 215.9h.7M228.1 210.2h.7M223 215.9h.7M219.6 217.7h.7M217.9 213.1h.7M212.7 218.5h.7M222.6 210.4h.7M213.2 214.4h.7M231 215.3h.7M220.7 216.4h.7M235.9 204.1h.7M241.7 212h.7M240 211.4h.7M234.9 208.3h.7M236.3 201.4h.7M212.9 217.3h.7M242.9 207.3h.7M229.4 208.9h.7M228.3 208.6h.7M232.7 210h.7M216.2 209.9h.7M225.8 212.7h.7M213.9 216.6h.7M241 204.1h.7M226.8 212.6h.7M214.3 215.2h.7M242.8 206.5h.7M229.5 211.2h.7M235.5 207.5h.7M237.1 212h.7M233.5 214.9h.7M224.9 213.3h.7M219.3 214.2h.7M211.6 214.9h.7M231 213.9h.7M213.5 212h.7M222.4 215.6h.7M240 212.6h.7M240.5 206.7h.7M237.7 209.3h.7M216.4 205.8h.7M241.8 204.8h.7M214.6 214.3h.7M241 208h.7M235.3 211.7h.7M242.8 211.4h.7M243.3 206.8h.7M227.7 211.7h.7M220.4 217.2h.7M241 209.7h.7M220.5 217.5h.7M221.1 212.3h.7M229.1 215.1h.7M214.6 211.7h.7M225.3 207.4h.7M214.5 211.4h.7M225.2 212.7h.7M240.6 202.1h.7M241.1 210.9h.7M242.4 213h.7M234.5 202.4h.7M235.2 198.5h.7M224.3 206.8h.7M240.2 209.4h.7M214.4 218.1h.7M215.5 213.1h.7M213.8 209.3h.7M223.7 214.2h.7M211.8 211.5h.7M233.7 211.4h.7M216 213.3h.7M233.2 203.5h.7M229 203.2h.7M233.3 213.9h.7M233.7 213.3h.7M236.5 203.4h.7M226.1 216.3h.7M229.2 205.9h.7M218.3 215.3h.7M226.8 205.9h.7M212.8 216.2h.7M242.3 208.5h.7M241.4 209.9h.7M212.3 217.4h.7M210.2 213.6h.7M223.2 210.1h.7M227.7 214.7h.7M226.1 211.2h.7M221.3 213.5h.7M231 213.5h.7M223.4 209.3h.7M223.6 207h.7M210.9 216.4h.7M230 211.1h.7M212.6 215.7h.7M239 212.6h.7M226 212.9h.7M221.9 213.8h.7M232.3 212h.7M239.9 213.7h.7M215.5 199h.7M223.4 208.2h.7M242.9 208h.7M239.2 207.4h.7M223.1 197.3h.7M222.1 210.3h.7M237.5 210.3h.7M212.7 217.5h.7M213.8 218.9h.7M229.2 213h.7M229.1 214.6h.7M229.2 214.6h.7M239.8 211.5h.7M223.4 211.8h.7M220.9 207.7h.7M238.7 208.8h.7M218.1 218.5h.7M239.6 212.4h.7M233.8 199.7h.7M238.6 203h.7M231.5 204.6h.7M213.4 214.2h.7M234.1 210.9h.7M226.7 213.3h.7M216 216.8h.7M213.3 204.8h.7M218.7 216h.7M214.1 217.9h.7M214.4 214.6h.7M238.5 213.1h.7M242.1 212.2h.7M243.6 210.4h.7M228.8 212.4h.7M229 211.8h.7M211.8 206.4h.7M213.8 214.2h.7M236 206.5h.7M229.2 215.8h.7M229.1 206.2h.7M235.4 211.3h.7M237.4 211.1h.7M233.9 213.1h.7M210.2 219.2h.7M228.3 214.4h.7M238.2 209.9h.7M237.7 214.7h.7M242.1 211.6h.7M227.5 211.4h.7M227.6 216.6h.7M210.6 211.1h.7M227.2 214.8h.7M229 216.3h.7M241 208.4h.7M239.9 205h.7M211.9 217h.7M214.6 213.4h.7M222.8 213h.7M236.3 212.8h.7M215.5 212.1h.7M236.1 205.7h.7M230 213.6h.7M239.6 213.6h.7M221.4 215.1h.7M223.5 216.8h.7M211.8 213h.7M227.4 215.1h.7M236.1 207.2h.7M227.3 208.6h.7M227.5 207h.7M240.9 209.8h.7M235.9 201.1h.7M220.5 211.4h.7M241.9 209.1h.7M234.4 191.7h.7M220 218.4h.7M217 212.4h.7M232.8 213.2h.7M227 204.9h.7M230.2 215.9h.7M214.2 215.2h.7M235.8 208.7h.7M239.1 213.2h.7M224.1 206.8h.7M220.2 214.6h.7M242.9 212.4h.7M242.9 200.6h.7M214 217.4h.7M228.2 208.3h.7M224.7 211.9h.7M219.3 213.8h.7M227.4 214.2h.7M232.5 209.4h.7M222.3 204.7h.7M220.3 210.7h.7M239.2 213.4h.7M232.2 197.6h.7M220.2 216.6h.7M215.1 213.8h.7M222.9 213.3h.7M241.7 207h.7M238 208.5h.7M216.9 205.8h.7M230.4 214.6h.7M210 206.1h.7M240.6 200.9h.7M241.8 213.3h.7M217.2 216.2h.7M221.4 213.2h.7M220 214.8h.7M216.1 211.4h.7M233 204.3h.7M222.6 216.6h.7M210 208.7h.7M217.3 209h.7M232.3 205.1h.7M233.7 206.7h.7M210.4 216.3h.7M228.5 210.9h.7M231.5 209.3h.7M231.5 203h.7M231.9 210.1h.7M236.3 203.8h.7M221.2 213.2h.7M238.7 207.3h.7M224.8 210.7h.7M211.9 210.1h.7M231.9 205.2h.7M221.5 213.5h.7M231.4 215.3h.7M222.5 214.5h.7M226.7 215.9h.7M228.7 216.6h.7M219.9 217.5h.7M232.6 211.5h.7M217.7 215.1h.7M217.7 216.8h.7M212.2 217.2h.7M211.1 214.3h.7M230.2 213.3h.7M220.8 206.5h.7M229.3 216.4h.7M220.4 216.1h.7M224.7 212.6h.7M239.4 212.6h.7M241.2 212.7h.7M211.3 219.7h.7M242 210.1h.7M227 209.4h.7M234.9 214.8h.7M241.4 212.7h.7M216.2 215h.7M222.8 208.9h.7M240 212.7h.7M227.5 203.5h.7M240.3 213.8h.7M238.3 202.3h.7M243.7 205.1h.7M232.3 208.5h.7M212.1 215.7h.7M240.5 210.3h.7M216.1 215.2h.7M215.1 219.2h.7M222.3 206.2h.7M216.8 215.4h.7M214.5 217.5h.7M231.5 203h.7M240.7 207.3h.7M218.8 211.3h.7M222.5 213.6h.7M231.6 208.7h.7M220 212h.7M226.6 211.6h.7M240.8 211.6h.7M213.8 214.3h.7M228 216.2h.7M217 215.3h.7M236.1 212h.7M216.9 207.7h.7M237.4 208.9h.7M223.5 199.8h.7M241.4 211.8h.7M222.1 204.5h.7M226.6 214.9h.7M213.4 215h.7M219.2 209.7h.7M223.9 209.8h.7M240.2 213h.7M229.7 214.9h.7M237.3 203.6h.7M238.8 212.1h.7M212.9 215.8h.7M220.5 205.8h.7M238.1 211.7h.7M235.5 215h.7M229 210.1h.7M223.5 215.6h.7M226.8 209.5h.7M210.3 210.5h.7M214.2 219.5h.7M221.9 213.5h.7M214.6 214.6h.7M217.6 209.6h.7M237.2 213.8h.7M235.9 205.4h.7M234.6 199.4h.7M229.1 201.9h.7M241.1 204h.7M217.6 208.1h.7M230.9 213.6h.7M224.1 209.3h.7M241.8 208.2h.7M221.5 212.3h.7M217.9 217.3h.7M235.9 209.1h.7M237.3 214.2h.7M234.2 211.2h.7M236.4 202h.7M216.3 211.1h.7M230.4 212.2h.7M228.1 211.7h.7M240.7 213.1h.7M223.3 216.6h.7M220.2 185.1h.7M279.3 220.3h.7M272.3 210.4h.7M273.5 182.4h.7M251 189.1h.7M246.1 213.7h.7M227.1 182.6h.7M217.9 219h.7M248.1 199h.7M241.2 206.5h.7M251.2 199h.7M220 211h.7M267.6 209.2h.7M257.2 216.6h.7M247 211.5h.7M226 189.3h.7M243.5 248.2h.7M210.5 195h.7M233.2 194.3h.7M244.3 186.4h.7" stroke="#6a6a6a" stroke-width="0.55" fill="none"/>
<path d="M235.8 250 234.8 250 233.8 250 232.8 250 231.8 250 230.8 250 229.8 250 228.8 250 227.8 250 226.8 250 225.8 250 224.8 250 223.8 250 222.8 250 221.8 250 220.8 250 219.8 250 218.8 250 217.8 250 216.8 250 215.8 250 214.8 250 213.8 250 212.8 250 211.8 250 210.8 250 209.8 250 209.8 249.5 209.8 248.5 209.8 247.5 209.8 246.5 209.8 245.5 209.8 244.5 209.8 243.5 209.8 242.5 209.8 241.5 209.8 240.5 209.8 239.5 209.8 238.5 209.8 237.5 209.8 236.5 209.8 235.5 209.8 234.5 209.8 233.5 209.8 232.5 209.8 231.5 209.8 230.5 209.8 229.5 209.8 228.5 209.8 227.5 209.8 226.5 209.8 225.5 209.8 224.6 210.3 224.3 210.9 224 211.8 223.6 212.3 223.3 213.1 223 213.8 222.7 214.4 222.5 215.3 222.2 215.9 222 216.8 221.7 217.8 221.5 218.3 221.4 219.3 221.1 219.9 221 220.8 220.8 221.8 220.5 222.3 220.4 223.3 220 223.8 219.8 224.4 219.5 225.3 219 225.8 218.7 226.3 218.4 227 218 227.8 217.5 228.3 217.2 228.8 216.9 229.6 216.5 230.3 216.1 230.8 215.9 231.8 215.5 232.3 215.3 233.3 215 233.8 214.9 234.8 214.7 235.8 214.7 236.8 214.9 237.3 215 238.3 215.5 238.8 215.8 239.3 216.3 239.8 216.8 240.3 217.5 240.6 218 240.8 218.6 241 219.5 241.1 220.5 241 221.5 240.9 222.5 240.8 223 240.6 224 240.4 225 240.3 225.6 240.2 226.5 240.1 227.5 240.1 228.5 240.1 229.5 240 230.5 240 231.5 240 232.5 239.9 233.5 239.9 234.5 239.8 235.3 239.7 236 239.6 237 239.5 238 239.3 239 239.2 239.5 239.1 240.5 238.9 241.5 238.7 242 238.5 243 238.3 244 238.2 244.5 237.9 245.5 237.8 246 237.5 247 237.3 247.5 236.9 248.5 236.6 249 236.3 249.6 235.8 250Z" fill="#909090" stroke="#fff" stroke-width="1.8"/>
<path d="M234.8 250 233.8 250 232.8 250 231.8 250 230.8 250 229.8 250 228.8 250 227.8 250 226.8 250 225.8 250 224.8 250 223.8 250 222.8 250 221.8 250 220.8 250 219.8 250 218.8 250 217.8 250 216.8 250 215.8 250 214.8 250 213.8 250 212.8 250 211.8 250 210.8 250 209.8 250 209.8 249.5 209.8 248.5 209.8 247.5 209.8 246.5 209.8 245.5 209.8 244.5 209.8 243.5 209.8 242.5 209.8 241.5 209.8 240.5 209.8 239.5 209.8 238.5 209.8 237.5 209.8 236.5 209.8 235.5 209.8 234.5 209.8 233.5 209.8 232.5 209.8 231.5 209.8 230.5 209.8 229.5 209.8 228.5 209.8 227.5 209.8 226.5 209.8 225.5 210.3 225.2 210.8 224.9 211.5 224.5 212.3 224.1 212.8 223.9 213.7 223.5 214.3 223.3 215 223 215.8 222.7 216.6 222.5 217.3 222.3 218.3 222 218.8 221.9 219.8 221.7 220.6 221.5 221.3 221.3 222.3 221 222.8 220.9 223.8 220.5 224.3 220.2 224.8 220 225.6 219.5 226.3 219.1 226.8 218.7 227.3 218.4 227.9 218 228.8 217.5 229.3 217.2 229.8 216.9 230.6 216.5 231.3 216.2 231.8 216 232.8 215.7 233.5 215.5 234.3 215.3 235.3 215.3 236.3 215.4 236.8 215.5 237.8 215.9 238.3 216.2 238.8 216.6 239.3 217.2 239.8 217.9 240.1 218.5 240.3 219.2 240.5 220 240.5 221 240.4 222 240.3 222.5 240.1 223.5 239.9 224.5 239.8 225.3 239.7 226 239.6 227 239.6 228 239.6 229 239.6 230 239.6 231 239.5 232 239.5 233 239.5 234 239.4 235 239.3 235.7 239.2 236.5 239.1 237.5 238.9 238.5 238.8 239.3 238.7 240 238.5 241 238.3 241.7 238.1 242.5 237.9 243.5 237.7 244 237.5 245 237.3 245.6 237 246.5 236.8 247.2 236.5 248 236.2 248.5 235.8 249.2 235.3 249.9 234.8 250Z" fill="#a6a6a6" stroke="#555" stroke-width="0.6"/>
<path d="M233.8 250 232.8 250 231.8 250 230.8 250 229.8 250 228.8 250 227.8 250 226.8 250 225.8 250 224.8 250 223.8 250 222.8 250 221.8 250 220.8 250 219.8 250 218.8 250 217.8 250 216.8 250 215.8 250 214.8 250 213.8 250 212.8 250 211.8 250 210.8 250 209.8 250 209.8 249.5 209.8 248.5 209.8 247.5 209.8 246.5 209.8 245.5 209.8 244.5 209.8 243.5 209.8 242.5 209.8 241.5 209.8 240.5 209.8 239.5 209.8 238.5 209.8 237.5 209.8 236.5 209.8 235.5 209.8 234.5 209.8 233.5 209.8 232.5 209.8 231.5 209.8 230.5 209.8 229.5 209.8 228.5 209.8 227.5 209.8 226.5 210.3 226.2 210.8 225.9 211.4 225.5 212.3 225 212.8 224.8 213.3 224.5 214.3 224.1 214.8 223.9 215.8 223.5 216.3 223.4 217.3 223.1 217.8 222.9 218.8 222.7 219.6 222.5 220.3 222.3 221.3 222.1 221.8 222 222.8 221.7 223.3 221.5 224.3 221.1 224.8 220.8 225.4 220.5 226.1 220 226.8 219.5 227.3 219.2 227.8 218.8 228.3 218.5 229 218 229.8 217.5 230.3 217.3 230.9 217 231.8 216.6 232.3 216.4 233.3 216.1 234 216 234.8 215.9 235.8 216 236.3 216.1 237.3 216.4 237.8 216.7 238.3 217.1 238.8 217.7 239.3 218.5 239.5 219 239.8 220 239.8 221 239.7 222 239.6 223 239.4 224 239.3 224.5 239.2 225.5 239.1 226.5 239 227.5 239 228.5 239 229.5 239 230.5 239 231.5 239 232.5 239 233.5 238.9 234.5 238.8 235.5 238.8 236 238.6 237 238.5 238 238.3 239 238.2 239.5 238 240.5 237.8 241.4 237.7 242 237.4 243 237.3 243.5 237 244.5 236.8 245.1 236.5 246 236.3 246.6 235.9 247.5 235.7 248 235.3 248.7 234.8 249.4 234.3 250 233.8 250Z" fill="#bcbcbc" stroke="#3a3a3a" stroke-width="0.6"/>
<path d="M232.3 250 231.3 250 230.3 250 229.3 250 228.3 250 227.3 250 226.3 250 225.3 250 224.3 250 223.3 250 222.3 250 221.3 250 220.3 250 219.3 250 218.3 250 217.3 250 216.3 250 215.3 250 214.3 250 213.3 250 212.3 250 211.3 250 210.3 250 209.8 250 209.8 249 209.8 248 209.8 247 209.8 246 209.8 245 209.8 244 209.8 243 209.8 242 209.8 241 209.8 240 209.8 239 209.8 238 209.8 237 209.8 236 209.8 235 209.8 234 209.8 233 209.8 232 209.8 231 209.8 230 209.8 229 209.8 228.1 210.3 227.6 210.8 227.2 211.3 226.9 211.9 226.5 212.7 226 213.3 225.7 213.8 225.4 214.8 225 215.3 224.8 216.1 224.5 216.8 224.3 217.7 224 218.3 223.8 219.3 223.6 219.8 223.5 220.8 223.3 221.8 223 222.3 222.9 223.3 222.6 223.8 222.5 224.8 222 225.3 221.7 225.8 221.4 226.4 221 227 220.5 227.6 220 228.2 219.5 228.8 219.1 229.3 218.7 229.8 218.4 230.4 218 231.3 217.6 231.8 217.3 232.8 217 233.3 216.9 234.3 216.7 235.3 216.7 236.3 217 236.8 217.2 237.3 217.5 237.9 218 238.3 218.5 238.7 219.5 238.9 220 238.9 221 238.9 222 238.8 222.6 238.7 223.5 238.5 224.5 238.4 225.5 238.3 226.5 238.3 227 238.3 228 238.3 228.5 238.3 229.5 238.3 230.5 238.4 231.5 238.3 232.5 238.3 233.5 238.3 234 238.2 235 238.1 236 238 237 237.8 238 237.7 238.5 237.5 239.5 237.3 240.5 237.2 241 236.9 242 236.8 242.5 236.5 243.5 236.3 244 236 245 235.8 245.5 235.4 246.5 235.2 247 234.8 247.7 234.3 248.4 233.8 249 233.3 249.5 232.8 249.9 232.3 250Z" fill="#d0d0d0" stroke="#3a3a3a" stroke-width="0.6"/>
<path d="M227.8 250 226.8 250 225.8 250 224.8 250 223.8 250 222.8 250 221.8 250 220.8 250 219.8 250 218.8 250 217.8 250 216.8 250 215.8 250 214.8 250 213.8 250 212.8 250 211.8 250 210.8 250 209.8 250 209.8 249.5 209.8 248.5 209.8 247.5 209.8 246.5 209.8 245.5 209.8 244.5 209.8 243.5 209.8 242.5 209.8 241.5 209.8 240.5 209.8 239.5 209.8 238.5 209.8 237.5 209.8 236.5 209.8 235.5 209.8 234.5 209.8 233.5 209.8 232.5 209.8 231.5 210 231 210.3 230.5 210.8 229.8 211.3 229.3 211.8 228.8 212.3 228.3 212.8 227.9 213.4 227.5 214.3 227 214.8 226.7 215.3 226.5 216.3 226.1 216.8 225.9 217.8 225.6 218.3 225.4 219.3 225.2 220.3 225 220.8 224.9 221.8 224.8 222.8 224.7 223.8 224.5 224.3 224.5 225.3 224.2 225.8 224 226.4 223.5 226.9 223 227.3 222.5 227.8 221.9 228.3 221.3 228.8 220.7 229.3 220.2 229.8 219.8 230.3 219.4 230.9 219 231.8 218.5 232.3 218.3 233.3 218 233.8 217.9 234.8 217.9 235.3 218 236.3 218.4 236.8 218.8 237.3 219.5 237.5 220 237.7 221 237.7 222 237.5 223 237.4 224 237.3 224.5 237.2 225.5 237.1 226.5 237.1 227.5 237.2 228.5 237.3 229.5 237.3 230 237.4 231 237.4 232 237.4 233 237.3 234 237.3 234.6 237.2 235.5 237.1 236.5 236.9 237.5 236.8 238.2 236.6 239 236.4 240 236.2 240.5 235.9 241.5 235.8 242 235.4 243 235.2 243.5 234.8 244.5 234.6 245 234.3 245.7 233.8 246.5 233.5 247 233.1 247.5 232.6 248 232 248.5 231.3 248.9 230.8 249.2 229.8 249.5 229.3 249.7 228.3 250 227.8 250Z" fill="#dcdcdc" stroke="#3a3a3a" stroke-width="0.6"/>
<path d="M228.2 231.5 228.6 231 228.8 230.5 229.1 229.5 229.1 228.5 228.8 227.9 228.3 227.5 227.5 227.5 226.8 228 226.5 228.5 226.3 229 226.1 230 226.3 231 226.6 231.5 227.3 231.9 228.2 231.5Z" fill="#dcdcdc" stroke="#3a3a3a" stroke-width="0.6"/>
<path d="M231.8 244 230.8 244.4 229.8 244.4 229.4 243.5 229.3 242.6 229.2 242 229.1 241 229 240 229 239 229.2 238 229.3 237.4 229.5 236.5 229.8 235.7 230 235 230.3 234.3 230.6 233.5 230.8 233 231.2 232 231.4 231.5 231.8 230.6 232.1 230 232.3 229.4 232.7 228.5 233 228 233.3 227.1 233.5 226.5 233.3 226 232.8 225.4 232.3 224.8 231.8 224.2 231.3 223.5 231.1 223 231.1 222 231.3 221.5 231.8 220.8 232.3 220.4 233.3 220 233.8 220 234.3 220 235.1 220.5 235.4 221 235.5 222 235.4 223 235.2 223.5 234.8 224.5 234.6 225 234.3 225.8 234.1 226.5 234.3 227 234.8 228 235 228.5 235.3 229.3 235.5 230 235.7 231 235.8 231.7 235.9 232.5 235.9 233.5 235.9 234.5 235.8 235.5 235.7 236 235.6 237 235.4 238 235.2 238.5 234.9 239.5 234.7 240 234.3 241 234 241.5 233.7 242 233.3 242.6 232.8 243.2 232.3 243.7 231.8 244Z" fill="#d6d6d6" stroke="#3a3a3a" stroke-width="0.6"/>
<path d="M222.3 250 221.3 250 220.3 250 219.3 250 218.3 250 217.3 250 216.3 250 215.3 250 214.3 250 213.3 250 212.3 250 211.3 250 210.8 250 210.3 249.5 209.8 249 209.8 248 209.8 247 209.8 246 209.8 245 209.8 244 209.8 243 209.8 242 209.8 241 209.8 240 209.8 239 209.8 238 209.8 237 210.1 236.5 210.3 236 210.8 235.2 211.3 234.5 211.7 234 212.1 233.5 212.5 233 212.9 232.5 213.4 232 213.9 231.5 214.5 231 215.1 230.5 215.8 230 216.3 229.8 217 229.5 217.8 229.3 218.8 229.3 219.5 229.5 220.1 230 220.4 230.5 220.8 231.1 221.3 231.9 221.7 232.5 222.1 233 222.5 233.5 222.9 234 223.3 234.5 223.8 235.1 224.3 235.9 224.7 236.5 225 237 225.3 237.6 225.7 238.5 225.8 239 226.1 240 226.3 240.9 226.5 241.5 226.8 242.2 227.3 243 227.8 243.5 228.3 243.9 228.8 244.2 229.2 245 228.8 245.9 228.5 246.5 228.1 247 227.6 247.5 227 248 226.3 248.5 225.8 248.8 225.3 249 224.3 249.5 223.8 249.7 222.8 250 222.3 250Z" fill="#d6d6d6" stroke="#3a3a3a" stroke-width="0.6"/>
<path d="M217.8 249.6 216.8 249.7 215.8 249.8 214.8 249.8 213.8 249.7 213.2 249.5 212.3 249.1 211.8 248.8 211.3 248.3 210.8 247.7 210.4 247 210.2 246.5 210 245.5 209.9 244.5 209.9 243.5 210.1 242.5 210.2 241.5 210.4 241 210.7 240 210.9 239.5 211.3 238.7 211.7 238 212.1 237.5 212.6 237 213.2 236.5 213.8 236.1 214.3 235.9 215.3 235.5 215.8 235.4 216.8 235.4 217.4 235.5 218.3 235.8 218.8 236 219.6 236.5 220.1 237 220.6 237.5 220.9 238 221.3 238.9 221.5 239.5 221.8 240.5 221.9 241 222.2 242 222.4 242.5 222.8 243.3 223.2 244 223.5 244.5 223.8 245.2 224 246 223.8 247 223.4 247.5 222.8 248 222.3 248.3 221.8 248.5 220.8 248.9 220.3 249 219.3 249.3 218.3 249.5 217.8 249.6Z" fill="#cecece" stroke="#3a3a3a" stroke-width="0.6"/>
<path d="M217.8 248.1 216.8 248.3 215.8 248.4 214.8 248.4 213.8 248.2 213.3 248 212.7 247.5 212.2 247 211.8 246.3 211.6 245.5 211.5 244.5 211.6 243.5 211.7 242.5 211.9 242 212.3 241 212.6 240.5 213 240 213.6 239.5 214.3 239.1 214.8 238.9 215.8 238.9 216.3 239.1 217 239.5 217.5 240 217.8 240.5 218.3 241.4 218.6 242 218.8 242.5 219.3 243.3 219.7 244 220 244.5 220.3 245.1 220.5 246 220.3 246.6 219.8 247.2 219.3 247.5 218.3 247.9 217.8 248.1Z" fill="#c4c4c4" stroke="#3a3a3a" stroke-width="0.6"/>
</g>
<path d="M210.8 217.1V249H235.7" fill="none" stroke="#111" stroke-width="2.0"/>
<rect x="209.8" y="178.5" width="72" height="71.5" fill="none" stroke="#555" stroke-width="0.9"/>
<rect x="243.5" y="191.2" width="30.8" height="20.8" fill="none" stroke="#666" stroke-width="0.7"/>
<text x="273.6" y="189" font-size="7.8" text-anchor="end" fill="#111">0.4</text>
<clipPath id="cp2"><rect x="286.7" y="178.5" width="72" height="71.5"/></clipPath>
<g clip-path="url(#cp2)">
<path d="M317.7 250 316.2 250 314.7 250 313.2 250 311.7 250 310.2 250 308.7 250 307.2 250 305.7 250 304.2 250 302.7 250 301.2 250 299.7 250 298.2 250 296.7 250 295.2 250 293.7 250 292.2 250 290.7 250 289.2 250 287.7 250 286.7 250 286.7 248.5 286.7 247 286.7 245.5 286.7 244 286.7 242.5 286.7 241 286.7 239.5 286.7 238 286.7 236.5 286.7 235 286.7 233.5 286.7 232 286.7 230.5 286.7 229 286.7 227.5 286.7 226 286.7 224.5 286.7 223 286.7 221.5 286.7 220 286.7 218.5 287.2 218 288.6 217.5 289.7 217.2 290.7 217 292.2 216.7 293.3 216.5 294.7 216.3 296.2 216.1 297.5 216 298.7 215.8 300 215.5 301.2 215.1 302.2 214.7 303.2 214.3 304.2 213.9 305.2 213.4 306.2 212.9 307.2 212.3 308.2 211.6 309.2 211 310 210.5 310.9 210 312.2 209.6 313.7 209.6 314.7 210 315.7 210.6 316.7 211.4 317.3 212 318.2 212.8 318.9 213.5 319.7 214.2 320.4 215 321.2 215.8 321.7 216.5 322.4 217.5 322.9 218.5 323.2 219.5 323.2 221 323 222 322.7 223 322.2 224 321.7 225 321.2 226 320.7 227.2 320.4 228.5 320.2 229.5 320.1 231 320.1 232.5 320 234 320 235.5 319.9 237 319.8 238.5 319.7 239.9 319.6 241 319.5 242.5 319.3 244 319.2 245 319 246.5 318.8 248 318.5 249 318.1 250Z" fill="#f0f0f0" filter="url(#hz)"/>
<path d="M316.2 250 314.7 250 313.2 250 311.7 250 310.2 250 308.7 250 307.2 250 305.7 250 304.2 250 302.7 250 301.2 250 299.7 250 298.2 250 296.7 250 295.2 250 293.7 250 292.2 250 290.7 250 289.2 250 287.7 250 286.7 250 286.7 248.5 286.7 247 286.7 245.5 286.7 244 286.7 242.5 286.7 241 286.7 239.5 286.7 238 286.7 236.5 286.7 235 286.7 233.5 286.7 232 286.7 230.5 286.7 229 286.7 227.5 286.7 226 286.7 224.5 286.7 223 286.7 221.5 286.9 220.5 288.2 220 289.2 219.6 290.2 219.3 291.6 219 292.7 218.7 293.9 218.5 295.2 218.3 296.7 218 297.7 217.8 298.9 217.5 300.2 217.1 301.2 216.6 302.2 216.2 303.2 215.7 304.2 215.2 305.2 214.7 306.2 214.3 307.2 213.8 308.2 213.3 309.2 212.8 310.2 212.4 311.6 212 312.7 211.9 313.7 212 314.9 212.5 315.8 213 316.7 213.6 317.7 214.5 318.3 215 319.1 216 319.7 216.8 320.2 217.6 320.7 218.9 320.9 220 320.9 221.5 320.6 222.5 320.2 223.9 319.8 225 319.5 226 319.2 227.2 319 228.5 318.9 230 318.8 231.5 318.8 233 318.7 234.1 318.6 235.5 318.5 237 318.4 238.5 318.2 240 318.1 241 317.9 242.5 317.7 243.5 317.5 245 317.2 246.5 317 247.5 316.7 248.7 316.2 250Z" fill="#e4e4e4" filter="url(#hz)"/>
<path d="M314.7 250 313.2 250 311.7 250 310.2 250 308.7 250 307.2 250 305.7 250 304.2 250 302.7 250 301.2 250 299.7 250 298.2 250 296.7 250 295.2 250 293.7 250 292.2 250 290.7 250 289.2 250 287.7 250 286.7 250 286.7 248.5 286.7 247 286.7 245.5 286.7 244 286.7 242.5 286.7 241 286.7 239.5 286.7 238 286.7 236.5 286.7 235 286.7 233.5 286.7 232 286.7 230.5 286.7 229 286.7 227.5 286.7 226 286.7 224.5 286.7 223 287.2 222.2 288.2 221.8 289.2 221.4 290.5 221 291.7 220.6 292.7 220.4 294.2 220 295.2 219.8 296.7 219.5 297.7 219.2 298.7 219 300 218.5 301.1 218 302.1 217.5 303.1 217 304 216.5 305 216 306 215.5 307.1 215 308.2 214.5 309.2 214.1 310.2 213.8 311.7 213.5 312.7 213.5 313.7 213.7 314.7 214 315.7 214.6 316.7 215.3 317.4 216 318.2 217 318.7 217.9 319.1 219 319.3 220 319.3 221.5 319.1 222.5 318.7 224 318.5 225 318.2 226.3 318 227.5 317.9 229 317.8 230.5 317.7 232 317.7 233.1 317.6 234.5 317.5 236 317.4 237.5 317.2 239 317.1 240 316.8 241.5 316.6 242.5 316.4 244 316.2 245 315.9 246.5 315.6 247.5 315.2 248.9 314.7 250Z" fill="#d8d8d8" filter="url(#hz)"/>
<path d="M316.1 244.9h.7M321.7 240.8h.7M293.6 218.6h.7M316.9 237.6h.7M322.8 243.9h.7M316.1 212h.7M287.3 216.6h.7M297.2 208.3h.7M299.2 212.7h.7M301.1 219.9h.7M323.2 231.8h.7M312.3 210.1h.7M325.8 210.1h.7M292.9 220.6h.7M294 215.4h.7M322.7 222.6h.7M320.9 232.5h.7M322.7 230.9h.7M316.8 237.4h.7M304.6 211.7h.7M319.6 237.2h.7M326.2 233.4h.7M288.4 223.1h.7M326.2 217.7h.7M297.8 204.4h.7M329.1 231.4h.7M318.3 233.8h.7M300.9 218.9h.7M320.8 237.7h.7M315.4 246.1h.7M328 222.2h.7M316.1 245.5h.7M326.6 242h.7M322.1 245.8h.7M312.3 214.3h.7M290.2 214.1h.7M302.2 217.6h.7M312.8 213.8h.7M290.6 223.5h.7M322.5 247.7h.7M302.6 215.4h.7M331.8 225h.7M333.2 221.4h.7M346.1 226.7h.7M294.7 220.7h.7M322 233.8h.7M313.7 215.7h.7M320 229.8h.7M321.8 209.2h.7M310.1 202.6h.7M299.1 194.9h.7M315.2 211.9h.7M301.9 208.9h.7M322.6 240.2h.7M307.1 216.3h.7M306.8 210.1h.7M318.9 232.8h.7M313.9 207.7h.7M305.3 214.7h.7M318.1 235h.7M324 238h.7M311 210.7h.7M321.3 218.5h.7M318.3 236.3h.7M300.1 205.7h.7M319.6 232.5h.7M296.9 207.4h.7M317.2 231.7h.7M326.3 236.5h.7M319 235.2h.7M301.2 218h.7M304.2 209.8h.7M325.7 244.1h.7M318.6 247.7h.7M318.7 247h.7M309.3 208.6h.7M323.1 206.1h.7M302.9 212.8h.7M325.8 233.1h.7M319.4 232.7h.7M322.9 220.5h.7M322.4 217.7h.7M319.2 229.6h.7M309.1 210.4h.7M312.4 213.9h.7M316 215.1h.7M297.3 198.6h.7M320.5 242.4h.7M318.1 249.9h.7M315.9 241h.7M317.4 241.3h.7M319.2 229.6h.7M308.8 213.6h.7M318.3 245h.7M300.3 211.6h.7M316.9 229.6h.7M320.2 221.7h.7M314.7 247.4h.7M302.9 211.9h.7M319.4 240.8h.7M316.5 247.3h.7M336.7 236.1h.7M316.8 240.3h.7M315.1 245.5h.7M299.5 220.9h.7M323.6 226.2h.7M317.5 243h.7M327.6 248.4h.7M317.4 218.9h.7M322.9 236.2h.7M315.7 210.3h.7M315.1 207.4h.7M308.6 213.5h.7M318.1 232.1h.7M296.1 218.5h.7M328.1 233.3h.7M317 239.6h.7M307.1 212.2h.7M321.4 240.6h.7M321.2 228.9h.7M318.5 248.4h.7M317.9 238.6h.7M298.7 220h.7M319.4 225.9h.7M318.8 213.6h.7M290 220.2h.7M289.3 219.7h.7M323.4 223.5h.7M320.2 230.7h.7M290.2 220h.7M320.6 234.4h.7M294 217.7h.7M321.9 231.2h.7M326.7 239h.7M291 218.7h.7M326 221.8h.7M330.9 232.9h.7M327.2 224.3h.7M290.6 218.1h.7M320.4 223h.7M324.8 221.6h.7M305.7 212.5h.7M329.6 234.7h.7M287 222.2h.7M334.1 216h.7M295.9 221.3h.7M317.3 224.8h.7M292 220.7h.7M297.8 211.4h.7M300.8 220h.7M318.9 235.2h.7M293.7 222.1h.7M314.9 246.4h.7M331.9 244.5h.7M316.3 239.1h.7M319.2 249.8h.7M322 249.3h.7M322.3 247.3h.7M330.4 248.4h.7M319.6 248.6h.7M314.9 248.7h.7M328.2 245.6h.7M315.4 244.3h.7M321.2 231.3h.7M329.2 220.3h.7M311.5 213.1h.7M320.4 217.5h.7M298 219.7h.7M305 214.9h.7M307.1 213.7h.7M318 209.5h.7M295 219.3h.7M305.9 217.4h.7M302 207.8h.7M323.5 218.2h.7M331.9 221h.7M324.6 224.4h.7M301.9 218.4h.7M328.8 221.2h.7M302.7 217.6h.7M307.8 215.5h.7M319.7 224.1h.7M300.5 220.5h.7M300.1 218h.7M318.7 218h.7M317 228.5h.7M289.8 221.6h.7M290 218.1h.7M295.7 213.3h.7M326.4 220.2h.7M316.1 214.2h.7M319.5 230.8h.7M301.1 213.3h.7M296.6 221.7h.7M317.3 234.2h.7M294.6 218.6h.7M317 215.5h.7M316.2 208.5h.7M301.9 208.3h.7M318.2 226.3h.7M317.1 212.9h.7M292.5 221.2h.7M303.8 216.3h.7M302.9 218.3h.7M302.2 215.9h.7M297.1 221.3h.7M313.3 211.8h.7M319 229.4h.7M289.2 222.6h.7M331.3 227.3h.7M296.9 220.8h.7M317.1 215.5h.7M315.6 212.9h.7M293.3 212.2h.7M312.1 208.6h.7M319.2 224.1h.7M293.9 221.7h.7M318.8 222.2h.7M328.8 216.7h.7M307.7 214h.7M323 227.2h.7M322.5 219.4h.7M326.7 216.7h.7M305 216.1h.7M320.6 221.7h.7M317.8 229.6h.7M324.4 211.5h.7M328.4 230.4h.7M292 217h.7M288.5 222.8h.7M325.4 224.5h.7M306.2 214.7h.7M318.7 214.4h.7M319.5 213.8h.7M327.5 213.2h.7M298.2 216.7h.7M301.1 219h.7M310.8 214.4h.7M318.6 229.8h.7M324.6 237.2h.7M318.7 227.8h.7M323.7 220.9h.7M326.7 230.4h.7M315.2 248h.7M327.8 224.4h.7M324.8 235.7h.7M320.3 227.7h.7M318.9 227.5h.7M328 215.2h.7M317.2 248.5h.7M321.4 223.3h.7M325.1 244.5h.7M326.2 224.9h.7M324.6 241.6h.7M311.8 207.7h.7M319.7 230.8h.7M319.1 203.4h.7M327.6 216h.7M319 221.7h.7M332.5 227.9h.7M327.1 233.2h.7M325.9 212.1h.7M329.6 226.5h.7M322.6 241.2h.7M322.5 224.1h.7M337.8 219.7h.7M317.9 233.7h.7M318.7 231.6h.7M327.8 235.9h.7M318.3 219.2h.7M324.4 220.2h.7M325 238h.7M327.8 230.9h.7M328.6 231.9h.7M321.8 244.2h.7M333.8 236.1h.7M333 234.8h.7M325.3 247.2h.7M314.5 210h.7M323.7 234.1h.7M324.5 231.5h.7M313.8 203.9h.7M330.2 221.7h.7M320.8 232.1h.7M326.4 208.9h.7M321.8 239.5h.7M320.5 239.9h.7M321.3 234.8h.7M316.8 226.6h.7M328.4 230.6h.7M320.9 224.9h.7M321.3 244.4h.7M316.1 248h.7M327.1 223.6h.7M318.3 218h.7M324.2 236.9h.7M327.9 229.8h.7M322 248.5h.7M321.7 229.9h.7M324 224h.7M320.4 234.9h.7M316.8 240.6h.7M319.5 235.9h.7M335.5 245.4h.7M320.7 235h.7M318 232.7h.7M322.2 234.7h.7M321.2 233.2h.7M333.4 214.1h.7M322.2 229.6h.7M335.2 211.9h.7M329.2 206.2h.7M329.8 220.6h.7M322.1 212.8h.7M329.9 240.2h.7M320.4 237.8h.7M315.8 241.7h.7M328.8 237.8h.7M314.5 206.1h.7M327.3 234.2h.7M315.8 208.4h.7M323.5 224.5h.7M318.5 237.8h.7M321 244.8h.7M328.9 239.7h.7M318.9 241.3h.7M320.3 217.9h.7M327 236.1h.7M327.1 230.6h.7M326.5 227.9h.7M318.1 234.4h.7M324.3 221.6h.7M328.9 240h.7M322.8 231.8h.7M323.3 239.5h.7M317 218.1h.7M320.1 208.8h.7M323.7 227.8h.7M326.6 227.9h.7M323.6 243h.7M334.2 240.8h.7M319 232h.7M321.1 238.5h.7M320 228.3h.7M318.9 220.2h.7M315.6 247.8h.7M317.6 234h.7M317.7 223.8h.7M325 230.2h.7M318.3 230.1h.7M324.5 238.4h.7M326.6 241.6h.7M325.2 211h.7M316.8 247.1h.7M323 232.6h.7M329.4 237.8h.7M329.9 228h.7M317.1 236.6h.7M326.3 243.1h.7M317 235.7h.7M319.8 218h.7M318.4 221.2h.7M333.8 228.1h.7M321.8 238.1h.7M321.7 234.9h.7M321 240.4h.7M318 248.5h.7M330.4 238.9h.7M322.3 244.4h.7M329.8 212h.7M330.1 223.3h.7M323.8 230.9h.7M323.8 238.8h.7M319.1 214.3h.7M320 228.2h.7M314.7 245.1h.7M328.8 234.3h.7M325.2 242.7h.7M318.9 240.7h.7M324.6 224.6h.7M326 243.1h.7M319.2 233.2h.7M322.8 226h.7M327.2 226.7h.7M323.7 239h.7M320.3 239.4h.7M332.2 230h.7M320.4 218.1h.7M323.1 240.7h.7M319.7 216.5h.7M336.5 239.8h.7M329.2 241.6h.7M317 243.4h.7M319.8 242.8h.7M335.4 224.6h.7M327.6 230.1h.7M317.1 233.5h.7M310.6 202.2h.7M329.1 238.4h.7M319.2 223.4h.7M314.8 210.3h.7M314.9 244.7h.7M315.4 248.3h.7M328.3 195.4h.7M322.4 237.9h.7M326.7 235h.7M317.2 194.7h.7M322.2 222.1h.7M320.9 229.8h.7M328.1 247.9h.7M325.5 220.9h.7M322.3 233.4h.7M315.9 242.6h.7M310.9 214.6h.7M331.5 244.4h.7M321.6 222h.7M321.4 237.9h.7M327.3 240.4h.7M324.1 224.6h.7M317.7 219.6h.7M327.9 239.2h.7M329.4 240.1h.7M321.9 235.3h.7M324.8 228.8h.7M319.7 241.3h.7M317 230.7h.7M311.4 214.7h.7M322 234.4h.7M319.2 237.1h.7M317 240.3h.7M319.2 220.4h.7M318.4 222.1h.7M327.8 230.3h.7M318 242.4h.7M329.6 235.9h.7M325.2 243.9h.7M324.1 231.4h.7M326.3 230.2h.7M327.3 246.9h.7M318.9 225.1h.7M319.3 225.8h.7M319.9 235.9h.7M321.7 214.6h.7M329.7 234.4h.7M326.1 229.2h.7M334.3 229.3h.7M324.4 232.4h.7M298.2 216.7h.7M294.1 218.9h.7M297.6 208.6h.7M312.6 208.1h.7M300.9 212.6h.7M307.1 213.5h.7M295.6 216.1h.7M307.9 211.6h.7M288.1 216.2h.7M288.6 214h.7M294.1 218.8h.7M313.5 200.3h.7M292.7 218h.7M301 214.2h.7M320.5 212.9h.7M294.6 217.4h.7M291.7 219.1h.7M296.1 208.4h.7M304.8 199.8h.7M317.2 210.5h.7M287.8 216.5h.7M304.8 214.4h.7M287.3 218.1h.7M320.4 212.4h.7M302.2 208.6h.7M309.7 207.7h.7M295.5 218.4h.7M302.8 209.7h.7M314.7 214.7h.7M290.7 216.8h.7M294 215h.7M297 217.7h.7M314.6 205.5h.7M317.3 213h.7M312.2 209.7h.7M295 212.5h.7M297.4 204.4h.7M311.7 212h.7M301.8 210.4h.7M298.5 214.4h.7M320.6 213.4h.7M295.4 212.1h.7M313.2 207.3h.7M292.7 213.5h.7M317.7 210.2h.7M296.4 212.5h.7M318 210.5h.7M310.9 210.3h.7M316.4 214.3h.7M308.3 213.9h.7M290.2 218.5h.7M300.2 209.7h.7M320 210.6h.7M290.9 205h.7M304.8 213.9h.7M304.4 212.9h.7M301.5 207.3h.7M296.2 215.3h.7M297.2 214.9h.7M293.6 212.9h.7M295.6 218.7h.7M288 215.8h.7M312.2 200.8h.7M317.1 195.7h.7M294.2 218.8h.7M288.7 203.5h.7M299.8 211.3h.7M290.4 214.2h.7M301.2 207.2h.7M295.4 214.9h.7M306.3 209.7h.7M311.9 214.4h.7M316.5 207h.7M314.9 194.9h.7M320.5 208.7h.7M300.3 207.2h.7M292 213.4h.7M292.5 216h.7M302.5 217.1h.7M310.3 213h.7M315 213.8h.7M292.4 215.3h.7M304.5 204.2h.7M289.3 218.7h.7M306.2 215.1h.7M316.1 204.6h.7M298.4 213.8h.7M309.7 215.7h.7M308.2 214.7h.7M309.3 212.6h.7M292.9 218.7h.7M304 209.3h.7M288.6 219.9h.7M300.7 207.2h.7M288.5 214.2h.7M319.5 208.8h.7M298.5 212.6h.7M295.1 215.8h.7M317.4 214.1h.7M301.4 209.7h.7M304.1 214.1h.7M316.2 209.5h.7M304.5 208.9h.7M300 207.8h.7M311.8 212.4h.7M296.9 218h.7M291.8 217.4h.7M311.1 215.4h.7M303.6 212.9h.7M320.6 203.8h.7M305.3 206.7h.7M317.2 206.5h.7M288.2 220.1h.7M287.5 217.1h.7M298.6 210.6h.7M315.1 209h.7M302.9 211.7h.7M307.4 208.1h.7M299 216.8h.7M298.4 213.4h.7M297.9 208.2h.7M296.3 213.3h.7M287.9 210.7h.7M309.7 209h.7M297.2 209.2h.7M317.9 206.2h.7M306.8 213.9h.7M292 218h.7M296.7 215.5h.7M292.9 212.5h.7M312.4 202.6h.7M295.3 214.9h.7M305.7 214.8h.7M301.4 215.6h.7M299.2 217.7h.7M316.2 212.3h.7M304.1 215.3h.7M297.2 201.1h.7M292.5 199h.7M296.8 213.1h.7M293.1 213.5h.7M309.3 211.4h.7M312 212.8h.7M307 202.9h.7M310.9 203.7h.7M312.1 215.1h.7M306.2 208.2h.7M293.1 218.3h.7M308.5 214h.7M287.5 214.8h.7M302.9 208.6h.7M292.2 218h.7M310.4 214.1h.7M309.4 212.7h.7M298 211.3h.7M306.6 208.8h.7M310.9 207.3h.7M304.1 214.6h.7M295.4 213.3h.7M290.5 217.6h.7M316.3 210.5h.7M289.7 214.6h.7M293.4 217.8h.7M313.2 211.5h.7M288.4 219.5h.7M291.6 217.8h.7M299.3 214h.7M291.8 218.6h.7M288.1 214.8h.7M313.1 211.9h.7M292.6 216.4h.7M317.8 211.9h.7M288.4 217.8h.7M296 212.9h.7M306.1 215.2h.7M290.1 217.9h.7M303 210h.7M303.3 215.6h.7M307.1 203.5h.7M318.2 214.2h.7M300.6 212.9h.7M317.6 212h.7M294.1 212.2h.7M308.9 215.5h.7M301.3 214.5h.7M313.1 213.2h.7M304.4 216.1h.7M315.7 212.3h.7M292 213.8h.7M295.7 216.6h.7M305.2 213.8h.7M308.3 209.9h.7M299.6 195.7h.7M314 211.1h.7M299.6 210.8h.7M318.4 205.8h.7M318.3 211.7h.7M288.2 215.8h.7M308.5 213h.7M316 213.9h.7M288.4 216.8h.7M311.8 208h.7M306.5 211.1h.7M304.3 215.8h.7M296 209.6h.7M311.7 215.3h.7M294.2 208.9h.7M292.9 218.1h.7M298.6 218.1h.7M320.4 209.9h.7M300.5 211.3h.7M291.6 216h.7M300.3 202.6h.7M312.7 212.5h.7M307.9 215.6h.7M311.1 207.7h.7M314.8 211.3h.7M296.6 217.2h.7M298.5 208.9h.7M315.9 203.2h.7M299.7 214.5h.7M304.1 210.1h.7M315 207.1h.7M308.1 212.9h.7M317.7 207.5h.7M287.2 213.9h.7M307.8 212.5h.7M304 201.5h.7M300.7 216.4h.7M296.8 208.1h.7M299.5 205.4h.7M314.5 206.4h.7M302.9 213.1h.7M294.2 209h.7M310.3 209.4h.7M314.6 211.4h.7M300.5 217.5h.7M291.1 215.5h.7M312 211.1h.7M310.2 199.1h.7M310.3 207.9h.7M287.2 208.2h.7M290.8 218.8h.7M319.6 204.4h.7M305.5 213.3h.7M295.5 218.2h.7M288.4 213.2h.7M302.9 216.6h.7M297.7 211.3h.7M292 212.6h.7M308.4 206.1h.7M292.8 215.5h.7M318.9 201.7h.7M294.6 218.4h.7M316.9 213.3h.7M298.8 203.2h.7M296.6 214.1h.7M312.5 208.5h.7M303.9 213.7h.7M291.5 211.1h.7M315.3 212.7h.7M305.4 209.1h.7M306 209.2h.7M299.5 214.3h.7M314.8 203.6h.7M307.6 209.1h.7M289.2 215.3h.7M316.8 213h.7M305.9 214.4h.7M296 212.8h.7M288.1 209.6h.7M288.1 216.2h.7M290.9 217.6h.7M295.4 215.9h.7M304.7 215.2h.7M294.4 209.6h.7M313.5 209h.7M304.6 213.9h.7M301.3 209.1h.7M301.3 209.6h.7M294.9 215.5h.7M305 213.8h.7M294.6 218.3h.7M297.7 213.7h.7M304.1 216h.7M308.3 207.3h.7M297.8 218h.7M311.2 197.6h.7M298.9 217h.7M317.8 205.3h.7M291.8 213.6h.7M306.3 211h.7M298.8 215.1h.7M302.2 214.2h.7M290.6 216.9h.7M298.2 217.5h.7M293.1 218.4h.7M309.7 193.1h.7M313.1 209.1h.7M313.4 212.2h.7M317.7 208.8h.7M299.7 211.4h.7M308.5 211.6h.7M319.2 210.9h.7M303.7 201.9h.7M304.4 204.9h.7M309 215.8h.7M287.7 215.7h.7M315.6 214.5h.7M300.8 213.2h.7M312.4 205.4h.7M291.2 206.7h.7M303.4 207.8h.7M306 209.9h.7M313 205.9h.7M307 212.4h.7M307.9 215.9h.7M318.1 205h.7M295.9 216.3h.7M302 208.7h.7M316.6 207.3h.7M302.2 204h.7M306.8 209h.7M303.9 216.7h.7M319.8 202h.7M309.8 211.2h.7M313 202.7h.7M287.8 218.9h.7M300.1 203.5h.7M312.1 207.4h.7M292.4 218.3h.7M313.2 211.6h.7M318 212.8h.7M312.6 208.7h.7M311.3 207.7h.7M296.1 213.8h.7M290.8 213.1h.7M318.6 213.8h.7M301 217.1h.7M317.4 205h.7M309.4 208.6h.7M318.4 208.7h.7M287.6 219h.7M313.9 203.5h.7M311.8 215.3h.7M305.8 214.1h.7M292.2 207.7h.7M293.6 208.6h.7M318.3 200.8h.7M325 189.1h.7M317 198.1h.7M329.6 247.8h.7M345.4 181h.7M315.3 185.7h.7M331.4 238.7h.7M302.3 187.9h.7M341.2 212.7h.7M291.9 215.5h.7M354.9 239.9h.7M304.4 213.5h.7M330.4 181.3h.7M295.3 183.9h.7M358.7 214.5h.7M355.4 188.2h.7M334 215.4h.7M312.8 215h.7M328.6 220.2h.7M306.8 179.6h.7M329 228.6h.7M352 181.2h.7" stroke="#6a6a6a" stroke-width="0.55" fill="none"/>
<path d="M312.7 250 311.7 250 310.7 250 309.7 250 308.7 250 307.7 250 306.7 250 305.7 250 304.7 250 303.7 250 302.7 250 301.7 250 300.7 250 299.7 250 298.7 250 297.7 250 296.7 250 295.7 250 294.7 250 293.7 250 292.7 250 291.7 250 290.7 250 289.7 250 288.7 250 287.7 250 286.7 250 286.7 249.5 286.7 248.5 286.7 247.5 286.7 246.5 286.7 245.5 286.7 244.5 286.7 243.5 286.7 242.5 286.7 241.5 286.7 240.5 286.7 239.5 286.7 238.5 286.7 237.5 286.7 236.5 286.7 235.5 286.7 234.5 286.7 233.5 286.7 232.5 286.7 231.5 286.7 230.5 286.7 229.5 286.7 228.5 286.7 227.5 286.7 226.5 286.7 225.5 286.7 224.8 287.3 224.5 288.2 224.1 288.7 223.8 289.5 223.5 290.2 223.2 290.8 223 291.7 222.7 292.3 222.5 293.2 222.2 294.2 222 294.7 221.9 295.7 221.6 296.3 221.5 297.2 221.3 298.2 221 298.7 220.9 299.7 220.5 300.2 220.3 300.8 220 301.7 219.5 302.2 219.2 302.7 218.9 303.4 218.5 304.2 218 304.7 217.7 305.2 217.4 306 217 306.7 216.6 307.2 216.4 308.2 216 308.7 215.8 309.7 215.5 310.2 215.4 311.2 215.2 312.2 215.2 313.2 215.4 313.7 215.5 314.7 216 315.2 216.3 315.7 216.8 316.2 217.3 316.7 218 317 218.5 317.2 219.1 317.4 220 317.5 221 317.4 222 317.3 223 317.2 223.5 317 224.5 316.8 225.5 316.7 226.1 316.6 227 316.5 228 316.5 229 316.5 230 316.4 231 316.4 232 316.4 233 316.3 234 316.3 235 316.2 235.8 316.1 236.5 316 237.5 315.9 238.5 315.7 239.5 315.6 240 315.5 241 315.3 242 315.1 242.5 314.9 243.5 314.7 244.5 314.6 245 314.3 246 314.2 246.5 313.9 247.5 313.7 248 313.3 249 313 249.5 312.7 250Z" fill="#909090" stroke="#fff" stroke-width="1.8"/>
<path d="M311.7 250 310.7 250 309.7 250 308.7 250 307.7 250 306.7 250 305.7 250 304.7 250 303.7 250 302.7 250 301.7 250 300.7 250 299.7 250 298.7 250 297.7 250 296.7 250 295.7 250 294.7 250 293.7 250 292.7 250 291.7 250 290.7 250 289.7 250 288.7 250 287.7 250 286.7 250 286.7 249.5 286.7 248.5 286.7 247.5 286.7 246.5 286.7 245.5 286.7 244.5 286.7 243.5 286.7 242.5 286.7 241.5 286.7 240.5 286.7 239.5 286.7 238.5 286.7 237.5 286.7 236.5 286.7 235.5 286.7 234.5 286.7 233.5 286.7 232.5 286.7 231.5 286.7 230.5 286.7 229.5 286.7 228.5 286.7 227.5 286.7 226.5 286.7 225.7 287.2 225.4 287.9 225 288.7 224.6 289.2 224.4 290.1 224 290.7 223.8 291.4 223.5 292.2 223.2 293 223 293.7 222.8 294.7 222.5 295.2 222.4 296.2 222.2 297 222 297.7 221.8 298.7 221.5 299.2 221.4 300.2 221 300.7 220.7 301.2 220.5 302 220 302.7 219.6 303.2 219.2 303.7 218.9 304.3 218.5 305.2 218 305.7 217.7 306.2 217.4 307 217 307.7 216.7 308.2 216.5 309.2 216.2 309.9 216 310.7 215.8 311.7 215.8 312.7 215.9 313.2 216 314.2 216.4 314.7 216.7 315.2 217.1 315.7 217.7 316.2 218.4 316.5 219 316.7 219.7 316.9 220.5 316.9 221.5 316.8 222.5 316.7 223 316.5 224 316.3 225 316.2 225.8 316.1 226.5 316 227.5 316 228.5 316 229.5 316 230.5 316 231.5 315.9 232.5 315.9 233.5 315.9 234.5 315.8 235.5 315.7 236.2 315.6 237 315.5 238 315.3 239 315.2 239.8 315.1 240.5 314.9 241.5 314.7 242.2 314.5 243 314.3 244 314.1 244.5 313.9 245.5 313.7 246.1 313.4 247 313.2 247.7 312.9 248.5 312.6 249 312.2 249.7 311.7 250Z" fill="#a6a6a6" stroke="#555" stroke-width="0.6"/>
<path d="M310.7 250 309.7 250 308.7 250 307.7 250 306.7 250 305.7 250 304.7 250 303.7 250 302.7 250 301.7 250 300.7 250 299.7 250 298.7 250 297.7 250 296.7 250 295.7 250 294.7 250 293.7 250 292.7 250 291.7 250 290.7 250 289.7 250 288.7 250 287.7 250 286.7 250 286.7 249.5 286.7 248.5 286.7 247.5 286.7 246.5 286.7 245.5 286.7 244.5 286.7 243.5 286.7 242.5 286.7 241.5 286.7 240.5 286.7 239.5 286.7 238.5 286.7 237.5 286.7 236.5 286.7 235.5 286.7 234.5 286.7 233.5 286.7 232.5 286.7 231.5 286.7 230.5 286.7 229.5 286.7 228.5 286.7 227.5 286.7 226.7 287.2 226.4 287.8 226 288.7 225.5 289.2 225.3 289.7 225 290.7 224.6 291.2 224.4 292.2 224 292.7 223.9 293.7 223.6 294.2 223.4 295.2 223.2 296 223 296.7 222.8 297.7 222.6 298.2 222.5 299.2 222.2 299.7 222 300.7 221.6 301.2 221.3 301.8 221 302.5 220.5 303.2 220 303.7 219.7 304.2 219.3 304.7 219 305.4 218.5 306.2 218 306.7 217.8 307.3 217.5 308.2 217.1 308.7 216.9 309.7 216.6 310.4 216.5 311.2 216.4 312.2 216.5 312.7 216.6 313.7 216.9 314.2 217.2 314.7 217.6 315.2 218.2 315.7 219 315.9 219.5 316.2 220.5 316.2 221.5 316.1 222.5 316 223.5 315.8 224.5 315.7 225 315.6 226 315.5 227 315.4 228 315.4 229 315.4 230 315.4 231 315.4 232 315.4 233 315.4 234 315.3 235 315.2 236 315.2 236.5 315 237.5 314.9 238.5 314.7 239.5 314.6 240 314.4 241 314.2 241.9 314.1 242.5 313.8 243.5 313.7 244 313.4 245 313.2 245.6 312.9 246.5 312.7 247.1 312.3 248 312.1 248.5 311.7 249.2 311.2 249.9 310.7 250Z" fill="#bcbcbc" stroke="#3a3a3a" stroke-width="0.6"/>
<path d="M309.7 250 308.7 250 307.7 250 306.7 250 305.7 250 304.7 250 303.7 250 302.7 250 301.7 250 300.7 250 299.7 250 298.7 250 297.7 250 296.7 250 295.7 250 294.7 250 293.7 250 292.7 250 291.7 250 290.7 250 289.7 250 288.7 250 287.7 250 286.7 250 286.7 249.5 286.7 248.5 286.7 247.5 286.7 246.5 286.7 245.5 286.7 244.5 286.7 243.5 286.7 242.5 286.7 241.5 286.7 240.5 286.7 239.5 286.7 238.5 286.7 237.5 286.7 236.5 286.7 235.5 286.7 234.5 286.7 233.5 286.7 232.5 286.7 231.5 286.7 230.5 286.7 229.5 286.7 228.5 286.9 228 287.5 227.5 288.2 227 288.7 226.7 289.2 226.4 290.1 226 290.7 225.7 291.2 225.5 292.2 225.1 292.7 224.9 293.7 224.6 294.2 224.5 295.2 224.2 296.1 224 296.7 223.9 297.7 223.6 298.3 223.5 299.2 223.3 300.1 223 300.7 222.8 301.2 222.5 302.1 222 302.7 221.5 303.2 221.2 303.7 220.7 304.2 220.3 304.7 219.9 305.3 219.5 306 219 306.7 218.6 307.2 218.3 307.9 218 308.7 217.7 309.2 217.5 310.2 217.3 311.2 217.2 312.2 217.3 312.8 217.5 313.7 218 314.2 218.4 314.7 219 314.9 219.5 315.2 220.3 315.3 221 315.3 222 315.2 223 315.1 223.5 315 224.5 314.8 225.5 314.7 226.5 314.7 227.4 314.7 228 314.7 228.8 314.7 229.5 314.7 230.5 314.8 231.5 314.7 232.5 314.7 233.5 314.7 234 314.6 235 314.6 236 314.4 237 314.3 238 314.2 238.6 314 239.5 313.8 240.5 313.7 241 313.4 242 313.2 242.8 313 243.5 312.7 244.5 312.5 245 312.2 246 312 246.5 311.7 247.2 311.3 248 311 248.5 310.7 249 310.2 249.6 309.7 250Z" fill="#d0d0d0" stroke="#3a3a3a" stroke-width="0.6"/>
<path d="M306.2 250 305.2 250 304.2 250 303.2 250 302.2 250 301.2 250 300.2 250 299.2 250 298.2 250 297.2 250 296.2 250 295.2 250 294.2 250 293.2 250 292.2 250 291.2 250 290.2 250 289.2 250 288.2 250 287.2 250 286.7 250 286.7 249 286.7 248 286.7 247 286.7 246 286.7 245 286.7 244 286.7 243 286.7 242 286.7 241 286.7 240 286.7 239 286.7 238 286.7 237 286.7 236 286.7 235 286.7 234 286.7 233 286.7 232 286.7 231 287.1 230.5 287.5 230 287.9 229.5 288.5 229 289.1 228.5 289.7 228.1 290.2 227.8 290.7 227.5 291.7 227 292.2 226.8 292.9 226.5 293.7 226.2 294.5 226 295.2 225.8 296.2 225.6 296.8 225.5 297.7 225.4 298.7 225.2 299.7 225.1 300.5 225 301.2 224.9 302.1 224.5 302.7 224.1 303.2 223.6 303.7 223 304.1 222.5 304.5 222 304.9 221.5 305.4 221 305.9 220.5 306.5 220 307.2 219.5 307.7 219.3 308.2 219 309.2 218.6 309.7 218.5 310.7 218.4 311.7 218.5 312.2 218.7 312.8 219 313.4 219.5 313.7 220 314 221 314.1 222 314 223 313.9 224 313.7 224.9 313.6 225.5 313.5 226.5 313.5 227.5 313.6 228.5 313.6 229.5 313.7 230.4 313.7 231 313.8 232 313.8 233 313.8 234 313.7 235 313.7 235.5 313.6 236.5 313.4 237.5 313.2 238.5 313.1 239 312.9 240 312.7 240.8 312.5 241.5 312.2 242.4 312 243 311.7 243.8 311.4 244.5 311.2 245.1 310.8 246 310.5 246.5 310.2 247.1 309.7 247.8 309.2 248.4 308.7 248.8 308.2 249.2 307.6 249.5 306.7 249.8 306.2 250Z" fill="#dcdcdc" stroke="#3a3a3a" stroke-width="0.6"/>
<path d="M304.6 232 305 231.5 305.2 231 305.5 230 305.5 229 305.2 228.4 304.7 228 303.9 228 303.2 228.5 302.9 229 302.7 229.5 302.5 230.5 302.7 231.5 303 232 303.7 232.4 304.6 232Z" fill="#dcdcdc" stroke="#3a3a3a" stroke-width="0.6"/>
<path d="M308.2 244.5 307.2 244.9 306.2 244.9 305.8 244 305.7 243.1 305.6 242.5 305.5 241.5 305.4 240.5 305.4 239.5 305.6 238.5 305.7 237.9 305.9 237 306.2 236.2 306.4 235.5 306.7 234.8 307 234 307.2 233.5 307.6 232.5 307.8 232 308.2 231.1 308.5 230.5 308.7 229.9 309.1 229 309.4 228.5 309.7 227.6 309.9 227 309.7 226.5 309.2 225.9 308.7 225.3 308.2 224.7 307.7 224 307.5 223.5 307.5 222.5 307.7 222 308.2 221.3 308.7 220.9 309.7 220.5 310.2 220.5 310.7 220.5 311.5 221 311.8 221.5 311.9 222.5 311.8 223.5 311.6 224 311.2 225 311 225.5 310.7 226.3 310.5 227 310.7 227.5 311.2 228.5 311.4 229 311.7 229.8 311.9 230.5 312.1 231.5 312.2 232.2 312.3 233 312.3 234 312.3 235 312.2 236 312.1 236.5 312 237.5 311.8 238.5 311.6 239 311.3 240 311.1 240.5 310.7 241.5 310.4 242 310.1 242.5 309.7 243.1 309.2 243.7 308.7 244.2 308.2 244.5Z" fill="#d6d6d6" stroke="#3a3a3a" stroke-width="0.6"/>
<path d="M300.2 250 299.2 250 298.2 250 297.2 250 296.2 250 295.2 250 294.2 250 293.2 250 292.2 250 291.2 250 290.2 250 289.2 250 288.2 250 287.2 250 286.7 250 286.7 249 286.7 248 286.7 247 286.7 246 286.7 245 286.7 244 286.7 243 286.7 242 286.7 241 286.7 240 286.7 239 286.7 238 286.7 237 286.7 236.5 287.2 235.7 287.7 235 288.1 234.5 288.5 234 288.9 233.5 289.3 233 289.8 232.5 290.3 232 290.9 231.5 291.5 231 292.2 230.5 292.7 230.3 293.4 230 294.2 229.8 295.2 229.8 295.9 230 296.5 230.5 296.8 231 297.2 231.6 297.7 232.4 298.1 233 298.5 233.5 298.9 234 299.3 234.5 299.7 235 300.2 235.6 300.7 236.4 301.1 237 301.4 237.5 301.7 238.1 302.1 239 302.2 239.5 302.5 240.5 302.7 241.4 302.9 242 303.2 242.7 303.7 243.5 304.2 244 304.7 244.4 305.2 244.7 305.6 245.5 305.2 246.4 304.9 247 304.5 247.5 304 248 303.4 248.5 302.7 249 302.2 249.3 301.7 249.5 300.7 250 300.2 250Z" fill="#d6d6d6" stroke="#3a3a3a" stroke-width="0.6"/>
<path d="M294.2 250 293.2 250 292.2 250 291.2 250 290.2 250 289.6 250 288.7 249.6 288.2 249.3 287.7 248.8 287.2 248.2 286.8 247.5 286.7 247 286.7 246 286.7 245 286.7 244 286.7 243 286.7 242 286.8 241.5 287.1 240.5 287.3 240 287.7 239.2 288.1 238.5 288.5 238 289 237.5 289.6 237 290.2 236.6 290.7 236.4 291.7 236 292.2 235.9 293.2 235.9 293.8 236 294.7 236.3 295.2 236.5 296 237 296.5 237.5 297 238 297.3 238.5 297.7 239.4 297.9 240 298.2 241 298.3 241.5 298.6 242.5 298.8 243 299.2 243.8 299.6 244.5 299.9 245 300.2 245.7 300.4 246.5 300.2 247.5 299.8 248 299.2 248.5 298.7 248.8 298.2 249 297.2 249.4 296.7 249.5 295.7 249.8 294.7 250 294.2 250Z" fill="#cecece" stroke="#3a3a3a" stroke-width="0.6"/>
<path d="M294.2 248.6 293.2 248.8 292.2 248.9 291.2 248.9 290.2 248.7 289.7 248.5 289.1 248 288.6 247.5 288.2 246.8 288 246 287.9 245 288 244 288.1 243 288.3 242.5 288.7 241.5 289 241 289.4 240.5 290 240 290.7 239.6 291.2 239.4 292.2 239.4 292.7 239.6 293.4 240 293.9 240.5 294.2 241 294.7 241.9 295 242.5 295.2 243 295.7 243.8 296.1 244.5 296.4 245 296.7 245.6 296.9 246.5 296.7 247.1 296.2 247.7 295.7 248 294.7 248.4 294.2 248.6Z" fill="#c4c4c4" stroke="#3a3a3a" stroke-width="0.6"/>
</g>
<path d="M287.7 217.1V249H312.6" fill="none" stroke="#111" stroke-width="2.0"/>
<rect x="286.7" y="178.5" width="72" height="71.5" fill="none" stroke="#555" stroke-width="0.9"/>
<rect x="320.4" y="191.2" width="30.8" height="20.8" fill="none" stroke="#666" stroke-width="0.7"/>
<text x="350.5" y="189" font-size="7.8" text-anchor="end" fill="#111">0.3</text>
<clipPath id="cp3"><rect x="368.9" y="178.5" width="72" height="71.5"/></clipPath>
<g clip-path="url(#cp3)">
<path d="M401.4 250 399.9 250 398.4 250 396.9 250 395.4 250 393.9 250 392.4 250 390.9 250 389.4 250 387.9 250 386.4 250 384.9 250 383.4 250 381.9 250 380.4 250 378.9 250 377.4 250 375.9 250 374.4 250 372.9 250 371.4 250 369.9 250 368.9 250 368.9 248.5 368.9 247 368.9 245.5 368.9 244 368.9 242.5 368.9 241 368.9 239.5 368.9 238 368.9 236.5 368.9 235 368.9 233.5 368.9 232 368.9 230.5 368.9 229 368.9 227.5 368.9 226 368.9 224.5 368.9 223 368.9 221.5 368.9 220 368.9 218.5 368.9 217 368.9 215.5 368.9 214 368.9 212.5 368.9 211 369.1 210 370.1 209.5 371.1 209 372.3 208.5 373.4 208.1 374.4 207.7 375.4 207.4 376.9 207 377.9 206.7 378.9 206.5 380.4 206.1 381.4 205.9 382.9 205.7 383.9 205.5 385.4 205.3 386.9 205 387.9 204.9 389.4 204.7 390.4 204.5 391.9 204.1 392.9 203.8 393.9 203.5 395 203 396.1 202.5 397.2 202 398.4 201.5 399.4 201.1 400.4 200.7 401.4 200.3 402.5 200 403.9 199.6 404.9 199.2 405.9 199 407.4 198.6 408.4 198.3 409.7 198 410.9 197.7 412.2 197.5 413.4 197.3 414.9 197.1 415.9 197 417.4 196.8 418.9 196.7 420.4 196.7 421.9 196.7 423.4 196.8 424.9 196.9 425.9 197.1 427.4 197.3 428.4 197.6 429.7 198 430.9 198.5 431.9 199 432.6 199.5 433.4 200.2 433.9 201 434.4 202.5 434.1 204 433.5 205 432.9 205.8 432.3 206.5 431.4 207.3 430.6 208 429.9 208.5 428.9 209.2 427.9 209.9 427.1 210.5 426.3 211 425.4 211.7 424.4 212.4 423.6 213 422.9 213.5 421.9 214.2 420.9 214.8 419.9 215.4 418.9 215.9 417.9 216.3 416.9 216.8 415.9 217.2 414.9 217.5 413.7 218 412.6 218.5 411.7 219 410.9 219.6 410.2 220.5 409.8 221.5 409.4 222.9 409.2 224 409 225.5 408.9 226.5 408.7 228 408.5 229.5 408.4 230.5 408.1 232 407.9 233.2 407.6 234.5 407.4 235.5 407 237 406.7 238 406.4 239.1 406 240.5 405.6 241.5 405.3 242.5 404.9 243.5 404.4 244.9 404 246 403.6 247 403.1 248 402.5 249 401.9 250Z" fill="#f0f0f0" filter="url(#hz)"/>
<path d="M399.4 250 397.9 250 396.4 250 394.9 250 393.4 250 391.9 250 390.4 250 388.9 250 387.4 250 385.9 250 384.4 250 382.9 250 381.4 250 379.9 250 378.4 250 376.9 250 375.4 250 373.9 250 372.4 250 370.9 250 369.4 250 368.9 249.5 368.9 248 368.9 246.5 368.9 245 368.9 243.5 368.9 242 368.9 240.5 368.9 239 368.9 237.5 368.9 236 368.9 234.5 368.9 233 368.9 231.5 368.9 230 368.9 228.5 368.9 227 368.9 225.5 368.9 224 368.9 222.5 368.9 221 368.9 219.5 369.4 218.9 370.2 218 370.6 217 370.5 215.5 370.5 214 370.9 212.9 371.6 212 372.4 211.3 373.4 210.6 374.4 210 375.4 209.6 376.4 209.2 377.4 208.8 378.4 208.5 379.9 208 380.9 207.7 382 207.5 383.4 207.2 384.4 207 385.9 206.7 387.3 206.5 388.4 206.3 389.9 206.1 390.9 205.9 392.4 205.5 393.4 205.3 394.4 205 395.7 204.5 396.9 204 397.9 203.6 398.9 203.1 399.9 202.7 400.9 202.2 401.9 201.8 402.9 201.4 404 201 405.4 200.5 406.4 200.1 407.4 199.8 408.6 199.5 409.9 199.1 410.9 198.9 412.4 198.6 413.4 198.4 414.9 198.2 416.4 198.1 417.4 198 418.9 197.9 420.4 197.9 421.9 198 422.9 198 424.4 198.2 425.8 198.5 426.9 198.8 427.9 199.1 428.9 199.6 429.9 200.2 430.8 201 431.4 202 431.6 203 431.4 204 430.8 205 430 206 429.4 206.6 428.4 207.4 427.6 208 426.9 208.5 425.9 209.1 424.9 209.7 423.9 210.2 422.9 210.8 421.9 211.3 420.9 211.9 419.9 212.5 419.1 213 418.2 213.5 417.4 214 416.4 214.5 415.4 215 414.4 215.5 413.3 216 412.2 216.5 411.2 217 410.3 217.5 409.4 218.3 408.8 219 408.3 220 407.9 221.5 407.7 222.5 407.6 224 407.4 225.3 407.3 226.5 407.1 228 406.9 229.3 406.7 230.5 406.5 232 406.3 233 405.9 234.5 405.6 235.5 405.3 236.5 404.9 237.9 404.5 239 404.2 240 403.8 241 403.4 242 402.9 243.2 402.4 244.5 402 245.5 401.6 246.5 401.1 247.5 400.6 248.5 400 249.5 399.4 250Z" fill="#e4e4e4" filter="url(#hz)"/>
<path d="M397.9 250 396.4 250 394.9 250 393.4 250 391.9 250 390.4 250 388.9 250 387.4 250 385.9 250 384.4 250 382.9 250 381.4 250 379.9 250 378.4 250 376.9 250 375.4 250 373.9 250 372.4 250 370.9 250 369.4 250 368.9 249.5 368.9 248 368.9 246.5 368.9 245 368.9 243.5 368.9 242 368.9 240.5 368.9 239 368.9 237.5 368.9 236 368.9 234.5 368.9 233 368.9 231.5 368.9 230 368.9 228.5 368.9 227 368.9 225.5 368.9 224 368.9 222.5 369.2 221.5 370.1 221 371.1 220.5 372 220 373 219.5 374 219 374.9 218.5 375.9 217.5 376 216.5 375.7 215.5 375.3 214.5 375.4 213.4 375.9 212.5 376.9 211.5 377.6 211 378.6 210.5 379.7 210 380.9 209.5 381.9 209.2 382.9 208.9 384.4 208.5 385.4 208.3 386.9 208 387.9 207.8 389.4 207.6 390.4 207.4 391.9 207.1 392.9 206.8 394.1 206.5 395.4 206.1 396.4 205.8 397.4 205.4 398.5 205 399.6 204.5 400.7 204 401.7 203.5 402.7 203 403.7 202.5 404.8 202 405.9 201.6 406.9 201.2 407.9 200.8 408.9 200.5 410.4 200.1 411.4 199.8 412.9 199.5 413.9 199.4 415.4 199.2 416.9 199 417.9 199 419.4 199 420.6 199 421.9 199.1 423.4 199.3 424.4 199.5 425.9 200 426.9 200.4 427.8 201 428.4 201.6 428.9 202.5 428.9 204 428.5 205 427.9 205.7 427.1 206.5 426.4 207.1 425.4 207.7 424.4 208.3 423.4 208.9 422.4 209.4 421.4 209.8 420.4 210.3 419.4 210.7 418.4 211.2 417.4 211.7 416.4 212.1 415.4 212.6 414.4 213.2 413.4 213.7 412.4 214.2 411.4 214.7 410.4 215.3 409.4 215.9 408.6 216.5 407.9 217.2 407.3 218 406.8 219 406.5 220.5 406.3 221.5 406.2 223 406 224.5 405.9 225.7 405.8 227 405.6 228.5 405.4 229.6 405.2 231 404.9 232.2 404.6 233.5 404.3 234.5 403.9 236 403.6 237 403.2 238 402.8 239 402.4 240.1 401.9 241.3 401.4 242.5 401.1 243.5 400.7 244.5 400.3 245.5 399.9 246.5 399.4 247.5 398.9 248.5 398.3 249.5Z" fill="#d8d8d8" filter="url(#hz)"/>
<path d="M402.3 249.2h.7M405.7 240h.7M377.5 220.2h.7M372.7 221.8h.7M405.5 233.3h.7M403 243h.7M398.1 249.1h.7M407.6 246.2h.7M400.4 242h.7M370.8 212.1h.7M404.6 238.5h.7M402.4 245.8h.7M383.5 217.5h.7M404.5 234.5h.7M402.7 235.6h.7M409.5 244.6h.7M376 214.5h.7M400.9 243.3h.7M382.8 216.6h.7M381 219.3h.7M408.7 217h.7M406 236.6h.7M410.8 236.6h.7M390.1 202.6h.7M398 249.1h.7M404.4 233h.7M380.3 207.2h.7M411.1 247.6h.7M399.7 245.9h.7M410.7 238.2h.7M407.4 236.4h.7M409.2 220.8h.7M385.2 211.4h.7M389.6 206.7h.7M396.1 201.9h.7M401.9 238.2h.7M393.7 207.4h.7M383.2 211h.7M386.9 209.4h.7M407 217.7h.7M384.2 216h.7M391.9 190.5h.7M405.9 249.2h.7M406.4 228.9h.7M392.9 192.9h.7M406 226.5h.7M401.2 238.9h.7M390.9 209.9h.7M407.5 215.3h.7M410.9 230.5h.7M400.4 246.7h.7M401.5 244.6h.7M403.8 247.2h.7M400.6 247.8h.7M382.2 218.9h.7M386.7 205.8h.7M400.6 241.9h.7M383.3 214.6h.7M414.5 230.4h.7M369.7 223.1h.7M404.7 225h.7M408.3 226.1h.7M377.7 220.3h.7M371.9 220.5h.7M411.5 225.6h.7M406 228.2h.7M419.6 218.4h.7M379.7 216.7h.7M419.9 227.5h.7M380.4 217.8h.7M369.2 222h.7M376.5 215.2h.7M370.9 213.4h.7M373.1 220.1h.7M402.3 239.9h.7M409.9 247h.7M405.5 236.6h.7M399.8 247.2h.7M405.9 218.1h.7M416 218.9h.7M406 227.7h.7M403.9 225.8h.7M410.7 219.7h.7M396.3 206.4h.7M414.7 215.4h.7M405 227.3h.7M380.4 219h.7M382 218h.7M382 213.3h.7M415.3 227.7h.7M408.6 218.5h.7M405.7 224.5h.7M381.9 217.1h.7M408.9 227.3h.7M384.3 216.8h.7M394.9 208h.7M410.7 222.1h.7M406.1 223.6h.7M376.8 216.4h.7M379.6 217.8h.7M405.9 216.8h.7M433 203.2h.7M427 205.9h.7M440.8 215.2h.7M429.9 209.1h.7M413.5 212.9h.7M401.3 200.6h.7M413.1 197.6h.7M422.7 210.4h.7M394.1 204.4h.7M427.3 206.6h.7M400.2 191.2h.7M413 196.1h.7M407.3 219.6h.7M409.7 196h.7M426.6 214.3h.7M434.3 201.9h.7M430.9 204.1h.7M417.9 209.5h.7M398.3 204.4h.7M417.7 211.4h.7M407 199.9h.7M400.3 201.5h.7M407.6 202.5h.7M399.4 198.6h.7M409.9 198.3h.7M432.1 204.2h.7M410.9 217.2h.7M419.1 199.1h.7M426.2 203.5h.7M420.3 199.7h.7M440.9 207.8h.7M414.2 199.8h.7M423.1 198.5h.7M437 204.2h.7M434.1 207h.7M415.7 223.2h.7M426.3 195h.7M416.2 219.4h.7M423.9 201.6h.7M423.5 211.2h.7M438.2 196.9h.7M433.8 199.9h.7M412.8 191.2h.7M394 204h.7M414.5 212.4h.7M394.4 203h.7M394.7 203.7h.7M426.4 202.6h.7M423.5 220.5h.7M391 204.7h.7M419.8 200.8h.7M395.1 202.3h.7M428 208.5h.7M397.6 201.5h.7M430.3 200.4h.7M406 203h.7M393.9 206h.7M413.5 200.7h.7M426.8 203.2h.7M421.3 196.1h.7M426.7 214.4h.7M435.9 207.9h.7M376.2 196.5h.7M410.6 201h.7M424.1 212.7h.7M400.3 199.3h.7M432.9 200.5h.7M433.1 203.6h.7M401.7 206.4h.7M396.8 200.9h.7M427.8 208.7h.7M420.6 199h.7M433 203.8h.7M407 198.5h.7M413.8 211.6h.7M415.5 214.2h.7M409.2 222.8h.7M379.3 199.7h.7M413.6 216.8h.7M376.6 200.5h.7M400.7 204.3h.7M406.8 215.9h.7M370.2 207.9h.7M383.8 206.7h.7M385.5 206.1h.7M381.9 210.3h.7M422.5 209.9h.7M438.2 197.2h.7M373.6 208.2h.7M415.9 219.8h.7M389.6 209.2h.7M422.3 211.7h.7M386.2 207.8h.7M419.2 211.7h.7M379.7 203.6h.7M418.7 211h.7M384.6 201.6h.7M417.6 214.2h.7M406.6 202.2h.7M379.6 218.4h.7M391.5 201.8h.7M418.1 216.2h.7M381.6 219.3h.7M405.7 219.8h.7M373.9 199.8h.7M372 217.7h.7M379.7 217.1h.7M419.5 222.5h.7M372.4 207.9h.7M406.9 200h.7M414.7 210.7h.7M403.7 200.7h.7M375 207.8h.7M412.2 212.1h.7M373.6 217.1h.7M385.1 211.4h.7M427 216.6h.7M406.9 215.8h.7M405.6 224.8h.7M374.1 220.7h.7M391.8 206.4h.7M404.6 229.9h.7M404.9 196.7h.7M394.8 193.7h.7M411.2 218.3h.7M381.2 206.4h.7M410.7 233h.7M407.7 226.3h.7M391.6 200h.7M405.8 239h.7M390.8 207.2h.7M400.6 244.8h.7M403.6 229.8h.7M406.5 224.2h.7M404.4 238.7h.7M386.1 194.8h.7M387.5 208.9h.7M407 223.2h.7M409.8 227.7h.7M404.3 203h.7M402.4 244.1h.7M409.9 223.6h.7M388 201.9h.7M415.4 221.1h.7M405.2 234.3h.7M396.4 196.8h.7M411.4 222.1h.7M406.6 224.1h.7M407.3 236.3h.7M406.6 233.1h.7M394.5 204.1h.7M411.9 249.2h.7M410.4 221.9h.7M406.7 239.9h.7M406.4 223.7h.7M418.5 240.6h.7M405.3 238.4h.7M407.8 223.5h.7M402.8 234.2h.7M407.3 224.1h.7M417.9 245.9h.7M407.8 232.4h.7M415.4 234.5h.7M406.1 235.9h.7M411.9 215h.7M408 233.1h.7M405.9 225.4h.7M404.2 232.1h.7M410.7 221.7h.7M414.7 233.6h.7M407.6 223.7h.7M407 239.9h.7M403.4 248.2h.7M408.4 231h.7M391.8 206.2h.7M415.9 219.5h.7M411.1 245.7h.7M414.8 236.4h.7M417.5 236.7h.7M405.6 230.3h.7M405 221.4h.7M406.8 220.5h.7M407.1 243.9h.7M406.1 242.9h.7M406.9 241.5h.7M409.1 248.1h.7M405.3 234.8h.7M403.1 205h.7M407.2 226.1h.7M412 243.7h.7M406.6 228h.7M404.8 237.3h.7M407.1 228.1h.7M409.7 245.1h.7M390.1 209.2h.7M406.4 219h.7M410.3 244.8h.7M403.6 240.2h.7M402 246.2h.7M410.1 218.4h.7M407.7 241.8h.7M407.1 234.3h.7M404.4 220.6h.7M409 234.9h.7M417.1 231.2h.7M407.3 234.8h.7M409.4 244.1h.7M410.6 215.6h.7M412.1 229.9h.7M404.5 224.8h.7M401.8 240.2h.7M413.1 222.8h.7M414.6 229.2h.7M406.5 240.8h.7M414 223.7h.7M407.9 233.9h.7M412.4 238.8h.7M406.5 235h.7M408.1 232.6h.7M412.4 242.6h.7M410.7 224.2h.7M413 225.3h.7M406.6 225.5h.7M402.9 249.7h.7M408.1 244.6h.7M411.6 237.2h.7M404.8 229.1h.7M405.1 238.6h.7M404.2 241.6h.7M395.8 208.3h.7M409.9 240.2h.7M414 224.2h.7M403.7 237.9h.7M405.8 232.7h.7M421.3 245.1h.7M405.4 232.2h.7M407.9 229.1h.7M405.9 247.8h.7M408.3 248.7h.7M411.1 215.5h.7M405.5 234.2h.7M418.8 224.6h.7M413.7 231.6h.7M407.9 228.3h.7M405.3 230.2h.7M416.8 224.3h.7M407.2 238h.7M405.1 229.4h.7M403.4 231.6h.7M410.7 240.9h.7M404.5 221.9h.7M405.1 233.8h.7M403.2 242.6h.7M411.1 242.6h.7M418 242.9h.7M410.7 233.8h.7M415 226.5h.7M404.1 228.4h.7M404.7 228.5h.7M412.7 234.1h.7M415.2 224.7h.7M407.5 231.4h.7M407 222.3h.7M406.4 234.5h.7M409.2 219.8h.7M413.9 214.4h.7M412.2 224.6h.7M403.8 243.3h.7M408.2 240.1h.7M404.1 245.9h.7M405.3 247.4h.7M408.5 234.4h.7M401.3 245h.7M400.8 245.3h.7M405.9 229.1h.7M411.4 243.2h.7M404.9 221.8h.7M396.5 203.4h.7M407.2 240h.7M390.6 196h.7M406.5 227.1h.7M404.5 244.8h.7M408.7 224.5h.7M400.8 243.1h.7M408.2 239.6h.7M405.9 227.3h.7M411.1 213.4h.7M398.2 246.6h.7M407.2 245.6h.7M406.5 240h.7M392 208.6h.7M374.7 218.2h.7M399.7 204.7h.7M379 215.7h.7M385.4 210h.7M379.9 212.4h.7M370.8 207.7h.7M369.1 214.2h.7M370.8 211.1h.7M376.1 214.7h.7M388.3 209.7h.7M374.9 216.7h.7M382.3 213.9h.7M375.4 215.8h.7M386.7 204.9h.7M392.6 205.9h.7M381.3 217.1h.7M386.4 209.6h.7M381 208.7h.7M378.3 216.5h.7M371.5 218.4h.7M380.6 214.9h.7M375.9 215.8h.7M394.1 208.4h.7M374.1 212.7h.7M373 209.7h.7M386 209.2h.7M369.1 218.7h.7M371 211.2h.7M370.2 212.3h.7M371.8 216h.7M372.5 218h.7M389.4 209.8h.7M373.3 217.1h.7M393.4 196.7h.7M379 216.5h.7M374.1 214.5h.7M380.1 211.5h.7M371.5 200.8h.7M374.1 218.2h.7M378.6 209.3h.7M376.1 217.7h.7M398.8 205.7h.7M383.8 209.5h.7M400.3 206.5h.7M370 216.9h.7M387.8 208.6h.7M395.6 206.8h.7M380.4 214.3h.7M376 213h.7M376.6 213.5h.7M392.4 207.7h.7M369.7 219.4h.7M373 217.6h.7M385.1 209.3h.7M383.1 212.6h.7M402.2 201h.7M378 214.8h.7M389.1 209.2h.7M386 208.7h.7M377.5 214.1h.7M393.4 203.2h.7M372.2 216.7h.7M375.2 216.9h.7M383.2 202.6h.7M385.1 200.2h.7M369.3 214.4h.7M383.6 211.5h.7M377 214.4h.7M378.9 216.6h.7M381.1 214.6h.7M381.3 214.6h.7M370.5 210.6h.7M383.5 204.8h.7M371.4 212.9h.7M369.4 218.6h.7M371 218.7h.7M391.2 208.3h.7M395.1 201.2h.7M371.7 210.3h.7M371.6 218.6h.7M369.9 217h.7M385.1 209h.7M374 217h.7M389.8 205.7h.7M372.2 211.5h.7M388.7 209.3h.7M394.6 193.7h.7M384 208.6h.7M370.7 219.3h.7M376.2 208.3h.7M377.6 212.1h.7M383.9 210.9h.7M369.4 215.2h.7M371.9 209.5h.7M402.4 201.8h.7M377.6 208h.7M387 204.7h.7M370.3 211.8h.7M369.4 213.5h.7M373.1 219.3h.7M379.8 216.6h.7M374 213.8h.7M378.9 210.5h.7M378.2 208h.7M374.4 212.3h.7M385.7 206h.7M369.8 218.8h.7M373.1 217.2h.7M373.9 213.5h.7M370 215.2h.7M382.6 212.2h.7M372.7 215.7h.7M380.8 214.6h.7M389.4 202.1h.7M369.9 213.5h.7M378.9 212.3h.7M379 209.7h.7M390.4 203.6h.7M383.1 215.4h.7M372.9 210.2h.7M380.1 213h.7M400.6 206h.7M379.4 214.5h.7M371.5 219.6h.7M376.3 207.3h.7M376.6 202.5h.7M382.9 203.5h.7M371.7 212.1h.7M398.1 204h.7M380.3 215.6h.7M373.4 219.3h.7M381.1 216.7h.7M374.2 219.2h.7M372.5 219.3h.7M378.3 217.4h.7M381.4 215.3h.7M369.7 215.1h.7M378.7 215.7h.7M383.7 215.7h.7M378.2 216h.7M372.4 217.1h.7M401.3 203.8h.7M400.6 201.4h.7M384.5 209h.7M396.8 203.8h.7M397.5 204.7h.7M373.1 212.9h.7M393.2 204.9h.7M402.9 204.4h.7M380.9 211.2h.7M381.5 216.2h.7M369.2 205.3h.7M375.4 208.4h.7M385.5 202.5h.7M374.4 215h.7M371.7 214.5h.7M371.3 215.2h.7M394.4 207.8h.7M378.7 211.2h.7M393.2 207.6h.7M383.7 208.7h.7M380.4 209.3h.7M372 219.4h.7M379.1 208.8h.7M382.4 204.6h.7M377.4 209.1h.7M400.8 199.5h.7M369.9 212.4h.7M394.8 202.8h.7M375.5 215h.7M372.5 213.4h.7M395.1 205.3h.7M393.7 208.7h.7M402.1 206.4h.7M388.9 197.1h.7M374.5 208.6h.7M392.2 209.2h.7M378.3 213.2h.7M382.4 217.6h.7M383.8 216.7h.7M380.3 213.1h.7M396.3 207.8h.7M381.3 214.9h.7M379.6 210.4h.7M375.3 218.8h.7M375.8 212.1h.7M378.4 217.7h.7M378.1 213.2h.7M378.5 215.2h.7M378.5 216.8h.7M400.6 203.9h.7M381.6 214.5h.7M380.8 214.7h.7M386.8 208h.7M376 218.9h.7M380 209.5h.7M382.1 211.3h.7M376.5 216.8h.7M369 218.5h.7M373.8 210.1h.7M372.5 219.1h.7M375.3 215.3h.7M383.6 215.4h.7M373.7 215.1h.7M396.4 206.6h.7M377.8 217.7h.7M385.2 210.3h.7M410.4 233.2h.7M415.9 217.7h.7M377.5 203.2h.7M432.3 213.7h.7M439.3 186.9h.7M386.1 196.7h.7M430.2 188.7h.7M405.5 235.1h.7M438.9 224.3h.7M429.2 234.5h.7M395.7 188.1h.7M394.7 194.5h.7M411.1 195.4h.7M396.2 200.5h.7M429.7 247.8h.7M385.3 206h.7M412 231.9h.7M373.2 213.8h.7" stroke="#6a6a6a" stroke-width="0.55" fill="none"/>
<path d="M395.4 250 394.4 250 393.4 250 392.4 250 391.4 250 390.4 250 389.4 250 388.4 250 387.4 250 386.4 250 385.4 250 384.4 250 383.4 250 382.4 250 381.4 250 380.4 250 379.4 250 378.4 250 377.4 250 376.4 250 375.4 250 374.4 250 373.4 250 372.4 250 371.4 250 370.4 250 369.4 250 368.9 250 368.9 249 368.9 248 368.9 247 368.9 246 368.9 245 368.9 244 368.9 243 368.9 242 368.9 241 368.9 240 368.9 239 368.9 238 368.9 237 368.9 236 368.9 235 368.9 234 368.9 233 368.9 232 368.9 231 368.9 230 368.9 229 368.9 228 368.9 227 368.9 226 368.9 225 368.9 224.2 369.4 223.9 370.1 223.5 370.9 223 371.4 222.8 372 222.5 372.9 222.1 373.4 221.9 374.3 221.5 374.9 221.3 375.7 221 376.4 220.8 377.3 220.5 377.9 220.3 378.9 220 379.4 219.9 380.4 219.5 380.9 219.4 381.8 219 382.4 218.7 382.9 218.3 383.4 217.9 383.9 217.3 384.1 216.5 383.9 215.5 383.6 215 383.3 214.5 383 213.5 383.4 212.5 383.9 212 384.4 211.6 384.9 211.4 385.7 211 386.4 210.7 387 210.5 387.9 210.2 388.7 210 389.4 209.8 390.4 209.6 390.9 209.4 391.9 209.2 392.5 209 393.4 208.8 394.4 208.5 394.9 208.4 395.9 208.1 396.4 208 397.4 207.7 398.3 207.5 398.9 207.3 399.9 207 400.4 206.8 401.1 206.5 401.9 206.1 402.4 205.8 402.9 205.5 403.6 205 404.3 204.5 404.9 204.1 405.4 203.8 406 203.5 406.9 203 407.4 202.8 408 202.5 408.9 202.1 409.4 201.9 410.4 201.6 410.9 201.5 411.9 201.2 412.8 201 413.4 200.9 414.4 200.7 415.4 200.6 416.4 200.5 416.9 200.5 417.9 200.5 418.9 200.5 419.4 200.5 420.4 200.6 421.4 200.7 422.4 201 422.9 201.1 423.8 201.5 424.4 201.9 424.9 202.3 425.4 203 425.6 203.5 425.4 204.5 425.1 205 424.7 205.5 424.2 206 423.6 206.5 422.9 207 422.4 207.3 421.9 207.6 421 208 420.4 208.3 419.9 208.5 418.9 208.9 418.4 209.1 417.4 209.4 416.9 209.6 415.9 209.9 415.4 210 414.4 210.3 413.8 210.5 412.9 210.8 412.2 211 411.4 211.3 410.8 211.5 409.9 211.9 409.4 212.2 408.9 212.5 408.2 213 407.6 213.5 407.1 214 406.6 214.5 406.1 215 405.8 215.5 405.4 216 404.9 217 404.8 217.5 404.5 218.5 404.4 219.4 404.3 220 404.3 221 404.2 222 404.1 223 404 224 403.9 225 403.9 225.5 403.8 226.5 403.7 227.5 403.5 228.5 403.4 229.4 403.3 230 403.1 231 402.9 232 402.8 232.5 402.5 233.5 402.4 234 402.1 235 401.9 235.6 401.6 236.5 401.4 237.1 401.1 238 400.9 238.5 400.5 239.5 400.3 240 399.9 241 399.8 241.5 399.4 242.4 399.2 243 398.9 243.8 398.6 244.5 398.4 245.1 398 246 397.8 246.5 397.4 247.3 397 248 396.7 248.5 396.4 249 395.9 249.6 395.4 250Z" fill="#909090" stroke="#fff" stroke-width="1.8"/>
<path d="M394.4 250 393.4 250 392.4 250 391.4 250 390.4 250 389.4 250 388.4 250 387.4 250 386.4 250 385.4 250 384.4 250 383.4 250 382.4 250 381.4 250 380.4 250 379.4 250 378.4 250 377.4 250 376.4 250 375.4 250 374.4 250 373.4 250 372.4 250 371.4 250 370.4 250 369.4 250 368.9 250 368.9 249 368.9 248 368.9 247 368.9 246 368.9 245 368.9 244 368.9 243 368.9 242 368.9 241 368.9 240 368.9 239 368.9 238 368.9 237 368.9 236 368.9 235 368.9 234 368.9 233 368.9 232 368.9 231 368.9 230 368.9 229 368.9 228 368.9 227 368.9 226 368.9 225.2 369.4 224.8 369.9 224.5 370.7 224 371.4 223.6 371.9 223.3 372.6 223 373.4 222.6 373.9 222.4 374.9 222 375.4 221.9 376.4 221.5 376.9 221.4 377.9 221.1 378.4 220.9 379.4 220.7 380 220.5 380.9 220.2 381.6 220 382.4 219.7 382.9 219.5 383.8 219 384.4 218.5 384.9 218.1 385.4 217.5 385.7 217 385.9 216.5 386.2 215.5 386.1 214.5 386 213.5 386.4 212.7 386.9 212.2 387.4 211.8 388 211.5 388.9 211.1 389.4 210.9 390.4 210.6 390.9 210.4 391.9 210.1 392.4 209.9 393.4 209.6 393.9 209.5 394.9 209.2 395.7 209 396.4 208.8 397.4 208.6 397.9 208.5 398.9 208.3 399.9 208.1 400.4 207.9 401.4 207.6 401.9 207.4 402.7 207 403.4 206.5 403.9 206.1 404.4 205.7 404.9 205.2 405.4 204.8 405.9 204.5 406.6 204 407.4 203.5 407.9 203.3 408.4 203 409.4 202.6 409.9 202.4 410.9 202.1 411.4 201.9 412.4 201.6 413.1 201.5 413.9 201.3 414.9 201.2 415.9 201.1 416.9 201 417.9 201 418.9 201.1 419.9 201.2 420.9 201.3 421.5 201.5 422.4 201.8 422.9 202.1 423.6 202.5 424 203 424.2 204 423.9 204.9 423.5 205.5 422.9 206 422.4 206.4 421.9 206.8 421.4 207.1 420.5 207.5 419.9 207.8 419.4 208 418.4 208.4 417.9 208.6 416.9 208.9 416.4 209 415.4 209.3 414.6 209.5 413.9 209.7 412.9 209.9 412.4 210 411.4 210.2 410.4 210.4 409.9 210.6 408.9 210.9 408.4 211.1 407.7 211.5 407.1 212 406.6 212.5 406.2 213 405.8 213.5 405.4 214 404.9 214.8 404.5 215.5 404.3 216 404 217 403.8 217.5 403.7 218.5 403.6 219.5 403.5 220.5 403.5 221.5 403.4 222.5 403.4 223 403.3 224 403.2 225 403.1 226 403 227 402.9 227.9 402.8 228.5 402.7 229.5 402.5 230.5 402.4 231 402.2 232 401.9 233 401.8 233.5 401.5 234.5 401.4 235 401.1 236 400.9 236.5 400.6 237.5 400.4 238 400 239 399.8 239.5 399.5 240.5 399.3 241 398.9 242 398.7 242.5 398.4 243.3 398.2 244 397.9 244.6 397.6 245.5 397.3 246 396.9 246.9 396.6 247.5 396.3 248 395.9 248.6 395.4 249.2 394.9 249.7 394.4 250Z" fill="#a6a6a6" stroke="#555" stroke-width="0.6"/>
<path d="M412.4 209 411.4 209.1 410.4 209.2 409.4 209.3 408.4 209.3 407.4 209.3 406.4 209.3 405.4 209.2 405 208.5 405.3 207.5 405.5 207 405.9 206.2 406.4 205.6 406.9 205.1 407.4 204.6 407.9 204.3 408.4 204 409.2 203.5 409.9 203.2 410.4 203 411.4 202.6 411.9 202.5 412.9 202.2 413.9 202 414.4 201.9 415.4 201.8 416.4 201.7 417.4 201.7 418.4 201.8 419.4 201.9 419.9 202 420.9 202.3 421.4 202.5 422.1 203 422.5 203.5 422.5 204.5 422.3 205 421.9 205.5 421.4 206 420.6 206.5 419.9 206.9 419.4 207.2 418.6 207.5 417.9 207.8 417.2 208 416.4 208.2 415.4 208.5 414.9 208.6 413.9 208.8 412.9 209 412.4 209Z" fill="#bcbcbc" stroke="#3a3a3a" stroke-width="0.6"/>
<path d="M392.9 250 391.9 250 390.9 250 389.9 250 388.9 250 387.9 250 386.9 250 385.9 250 384.9 250 383.9 250 382.9 250 381.9 250 380.9 250 379.9 250 378.9 250 377.9 250 376.9 250 375.9 250 374.9 250 373.9 250 372.9 250 371.9 250 370.9 250 369.9 250 368.9 250 368.9 249.5 368.9 248.5 368.9 247.5 368.9 246.5 368.9 245.5 368.9 244.5 368.9 243.5 368.9 242.5 368.9 241.5 368.9 240.5 368.9 239.5 368.9 238.5 368.9 237.5 368.9 236.5 368.9 235.5 368.9 234.5 368.9 233.5 368.9 232.5 368.9 231.5 368.9 230.5 368.9 229.5 368.9 228.5 368.9 227.5 368.9 226.5 369.3 226 369.9 225.5 370.4 225.2 370.9 224.9 371.5 224.5 372.4 224 372.9 223.7 373.4 223.5 374.4 223.1 374.9 222.9 375.9 222.5 376.4 222.3 377.4 222 377.9 221.9 378.9 221.6 379.4 221.5 380.4 221.2 381.3 221 381.9 220.8 382.9 220.5 383.4 220.3 384 220 384.8 219.5 385.4 219 385.9 218.5 386.4 218 386.8 217.5 387.2 217 387.5 216.5 387.9 215.9 388.3 215 388.5 214.5 388.9 213.8 389.4 213 389.9 212.5 390.4 212.2 390.9 211.9 391.6 211.5 392.4 211.1 392.9 210.9 393.9 210.6 394.4 210.4 395.4 210.1 395.9 210 396.9 209.8 397.9 209.6 398.7 209.5 399.4 209.4 400.4 209.4 401.4 209.3 402.4 209.3 403.4 209.3 404.4 209.5 404.6 210 404.5 211 404.4 211.7 404.2 212.5 403.9 213.4 403.7 214 403.4 214.7 403.2 215.5 402.9 216.5 402.9 217 402.8 218 402.7 219 402.7 220 402.6 221 402.6 222 402.5 223 402.4 224 402.4 224.6 402.3 225.5 402.2 226.5 402.1 227.5 402 228.5 401.9 229.2 401.8 230 401.6 231 401.4 231.9 401.3 232.5 401 233.5 400.9 234 400.6 235 400.4 235.7 400.2 236.5 399.9 237.3 399.7 238 399.4 238.7 399.1 239.5 398.9 240.1 398.6 241 398.4 241.5 398 242.5 397.8 243 397.4 244 397.2 244.5 396.9 245.3 396.6 246 396.3 246.5 395.9 247.2 395.4 248 395 248.5 394.5 249 394 249.5 393.4 250 392.9 250Z" fill="#bcbcbc" stroke="#3a3a3a" stroke-width="0.6"/>
<path d="M414.4 207.6 413.4 207.7 412.4 207.7 411.4 207.7 410.4 207.6 409.9 207.4 409.1 207 408.8 206.5 408.9 205.8 409.4 205.1 409.9 204.6 410.4 204.3 410.9 204 411.9 203.6 412.4 203.4 413.4 203.1 414 203 414.9 202.9 415.9 202.8 416.9 202.8 417.9 202.9 418.5 203 419.4 203.4 419.9 203.7 420.2 204.5 419.9 205.1 419.4 205.6 418.9 206 418 206.5 417.4 206.8 416.7 207 415.9 207.2 414.9 207.5 414.4 207.6Z" fill="#d0d0d0" stroke="#3a3a3a" stroke-width="0.6"/>
<path d="M390.4 250 389.4 250 388.4 250 387.4 250 386.4 250 385.4 250 384.4 250 383.4 250 382.4 250 381.4 250 380.4 250 379.4 250 378.4 250 377.4 250 376.4 250 375.4 250 374.4 250 373.4 250 372.4 250 371.4 250 370.4 250 369.4 250 368.9 250 368.9 249 368.9 248 368.9 247 368.9 246 368.9 245 368.9 244 368.9 243 368.9 242 368.9 241 368.9 240 368.9 239 368.9 238 368.9 237 368.9 236 368.9 235 368.9 234 368.9 233 368.9 232 368.9 231 368.9 230 368.9 229 368.9 228.2 369.4 227.6 369.9 227.1 370.4 226.6 370.9 226.2 371.4 225.9 372 225.5 372.8 225 373.4 224.7 373.9 224.4 374.9 224 375.4 223.8 376.2 223.5 376.9 223.2 377.7 223 378.4 222.8 379.4 222.6 379.9 222.4 380.9 222.2 381.8 222 382.4 221.8 383.4 221.5 383.9 221.4 384.6 221 385.4 220.5 385.9 220.1 386.4 219.7 386.9 219.2 387.4 218.6 387.9 218 388.4 217.5 388.8 217 389.2 216.5 389.7 216 390.1 215.5 390.6 215 391 214.5 391.5 214 392.1 213.5 392.8 213 393.4 212.6 393.9 212.3 394.6 212 395.4 211.7 396.3 211.5 396.9 211.4 397.9 211.3 398.9 211.4 399.5 211.5 400.4 211.9 400.9 212.4 401.2 213 401.4 213.9 401.4 214.5 401.4 215.5 401.5 216.5 401.5 217.5 401.5 218.5 401.6 219.5 401.6 220.5 401.5 221.5 401.5 222.5 401.4 223.4 401.4 224 401.3 225 401.2 226 401.1 227 401 228 400.9 229 400.8 229.5 400.7 230.5 400.5 231.5 400.4 232.1 400.2 233 400 234 399.8 234.5 399.6 235.5 399.4 236 399.1 237 398.9 237.6 398.6 238.5 398.4 239.1 398.1 240 397.9 240.5 397.5 241.5 397.3 242 396.9 243 396.7 243.5 396.4 244.2 396 245 395.8 245.5 395.4 246.3 394.9 247 394.6 247.5 394.1 248 393.6 248.5 392.9 249 392.4 249.3 391.9 249.6 390.9 249.9 390.4 250Z" fill="#d0d0d0" stroke="#3a3a3a" stroke-width="0.6"/>
<path d="M384.4 250 383.4 250 382.4 250 381.4 250 380.4 250 379.4 250 378.4 250 377.4 250 376.4 250 375.4 250 374.4 250 373.4 250 372.4 250 371.4 250 370.4 250 369.7 250 369.2 249.5 368.9 249 368.9 248 368.9 247 368.9 246 368.9 245 368.9 244 368.9 243 368.9 242 368.9 241 368.9 240 368.9 239 368.9 238 368.9 237 368.9 236 368.9 235 368.9 234 368.9 233 368.9 232.5 369.4 231.5 369.6 231 369.9 230.4 370.4 229.5 370.8 229 371.2 228.5 371.6 228 372.2 227.5 372.8 227 373.4 226.6 373.9 226.3 374.4 226 375.4 225.5 375.9 225.3 376.6 225 377.4 224.7 378.1 224.5 378.9 224.3 379.9 224.1 380.4 224 381.4 223.8 382.4 223.7 383.4 223.6 384 223.5 384.9 223.3 385.7 223 386.4 222.5 386.8 222 387.2 221.5 387.6 221 387.9 220.5 388.4 219.8 388.9 219.2 389.4 218.5 389.9 218 390.4 217.5 390.9 217 391.4 216.6 391.9 216.2 392.4 215.9 393 215.5 393.9 215 394.4 214.8 395.3 214.5 395.9 214.4 396.9 214.4 397.4 214.6 398.2 215 398.7 215.5 399 216 399.4 216.8 399.6 217.5 399.9 218.5 399.9 219 400 220 400 221 400 222 399.9 223 399.9 223.5 399.8 224.5 399.8 225.5 399.7 226.5 399.7 227.5 399.6 228.5 399.5 229.5 399.4 230.4 399.3 231 399.2 232 399 233 398.9 233.5 398.6 234.5 398.4 235.4 398.2 236 397.9 237 397.8 237.5 397.4 238.5 397.3 239 396.9 239.9 396.7 240.5 396.4 241.1 396 242 395.8 242.5 395.4 243.3 395.1 244 394.8 244.5 394.4 245.2 393.9 245.9 393.4 246.5 392.9 247 392.4 247.4 391.9 247.8 391.4 248 390.4 248.4 389.9 248.5 388.9 248.8 388.3 249 387.4 249.3 386.6 249.5 385.9 249.7 384.9 250 384.4 250Z" fill="#dcdcdc" stroke="#3a3a3a" stroke-width="0.6"/>
<path d="M387.9 230.5 388.4 229.9 388.7 229 388.8 228 388.4 227 387.9 226.8 387.2 227 386.7 227.5 386.4 228.3 386.3 229 386.4 229.7 386.9 230.5 387.4 230.7 387.9 230.5Z" fill="#dcdcdc" stroke="#3a3a3a" stroke-width="0.6"/>
<path d="M377.9 250 376.9 250 375.9 250 374.9 250 373.9 250 372.9 250 372.4 249.8 371.7 249.5 370.9 249 370.4 248.5 369.9 248 369.6 247.5 369.3 247 368.9 246.1 368.9 245.5 368.9 244.5 368.9 243.5 368.9 242.5 368.9 241.5 368.9 240.5 368.9 239.5 368.9 238.9 369.1 238 369.4 237.2 369.7 236.5 369.9 236 370.4 235.1 370.7 234.5 371.1 234 371.4 233.5 371.9 232.8 372.4 232.2 372.9 231.6 373.4 231.1 373.9 230.6 374.4 230.1 374.9 229.7 375.4 229.4 376 229 376.9 228.6 377.4 228.4 378.4 228.2 379.4 228.4 379.9 228.7 380.4 229.3 380.8 230 381.1 230.5 381.5 231 381.9 231.6 382.4 232.2 382.9 232.9 383.4 233.5 383.8 234 384.2 234.5 384.5 235 384.9 235.6 385.4 236.5 385.6 237 385.9 237.8 386.1 238.5 386.4 239.5 386.5 240 386.9 241 387.2 241.5 387.6 242 388.3 242.5 388.6 242.5 389 242 389 241 388.9 240 388.9 239.5 388.9 238.5 388.9 238 389 237 389.3 236 389.4 235.5 389.7 234.5 389.9 234 390.2 233 390.4 232.5 390.7 231.5 390.9 230.9 391.2 230 391.4 229.3 391.6 228.5 391.8 227.5 391.9 227 392 226 391.9 225.3 391.7 224.5 391.4 223.8 391 223 390.8 222.5 390.6 221.5 390.8 220.5 391 220 391.4 219.4 391.9 218.8 392.4 218.4 393 218 393.9 217.6 394.4 217.4 395.4 217.4 396 217.5 396.8 218 397.2 218.5 397.5 219 397.7 220 397.8 221 397.8 222 397.7 223 397.6 224 397.6 225 397.6 226 397.7 227 397.7 228 397.7 229 397.7 230 397.6 231 397.5 232 397.4 232.8 397.3 233.5 397.1 234.5 396.9 235.2 396.7 236 396.4 236.9 396.2 237.5 395.9 238.2 395.5 239 395.3 239.5 394.9 240.2 394.4 241 394.1 241.5 393.7 242 393.2 242.5 392.7 243 392 243.5 391.4 243.8 390.6 244 389.9 244.2 389.4 244.5 388.9 245.2 388.4 245.8 387.9 246.3 387.4 246.8 386.9 247.1 386.4 247.5 385.5 248 384.9 248.3 384.3 248.5 383.4 248.8 382.8 249 381.9 249.2 380.9 249.5 380.4 249.6 379.4 249.8 378.4 249.9 377.9 250Z" fill="#d6d6d6" stroke="#3a3a3a" stroke-width="0.6"/>
<path d="M393.4 237.3 392.7 237 392.4 236.5 392.3 235.5 392.3 234.5 392.4 233.9 392.6 233 392.9 232.1 393.1 231.5 393.4 230.9 393.9 230.2 394.4 229.8 394.9 230 395.3 231 395.4 232 395.3 233 395.1 234 394.9 235 394.7 235.5 394.4 236.2 393.9 236.9 393.4 237.3Z" fill="#cecece" stroke="#3a3a3a" stroke-width="0.6"/>
<path d="M377.9 248.6 376.9 248.7 375.9 248.8 374.9 248.8 373.9 248.7 373.3 248.5 372.4 248.1 371.9 247.8 371.4 247.3 370.9 246.7 370.5 246 370.3 245.5 370.1 244.5 370 243.5 370 242.5 370.2 241.5 370.3 240.5 370.5 240 370.8 239 371 238.5 371.4 237.7 371.8 237 372.2 236.5 372.7 236 373.3 235.5 373.9 235.1 374.4 234.9 375.4 234.5 375.9 234.4 376.9 234.4 377.5 234.5 378.4 234.8 378.9 235 379.7 235.5 380.2 236 380.7 236.5 381 237 381.4 237.9 381.6 238.5 381.9 239.5 382 240 382.3 241 382.5 241.5 382.9 242.3 383.3 243 383.6 243.5 383.9 244.2 384.1 245 383.9 246 383.5 246.5 382.9 247 382.4 247.3 381.9 247.5 380.9 247.9 380.4 248 379.4 248.3 378.4 248.5 377.9 248.6Z" fill="#cecece" stroke="#3a3a3a" stroke-width="0.6"/>
<path d="M377.9 247.1 376.9 247.3 375.9 247.4 374.9 247.4 373.9 247.2 373.4 247 372.8 246.5 372.3 246 371.9 245.3 371.7 244.5 371.6 243.5 371.7 242.5 371.8 241.5 372 241 372.4 240 372.7 239.5 373.1 239 373.7 238.5 374.4 238.1 374.9 237.9 375.9 237.9 376.4 238.1 377.1 238.5 377.6 239 377.9 239.5 378.4 240.4 378.7 241 378.9 241.5 379.4 242.3 379.8 243 380.1 243.5 380.4 244.1 380.6 245 380.4 245.6 379.9 246.2 379.4 246.5 378.4 246.9 377.9 247.1Z" fill="#c4c4c4" stroke="#3a3a3a" stroke-width="0.6"/>
</g>
<path d="M369.9 217.1V249H394.8" fill="none" stroke="#111" stroke-width="2.0"/>
<rect x="368.9" y="178.5" width="72" height="71.5" fill="none" stroke="#555" stroke-width="0.9"/>
<rect x="402.6" y="191.2" width="30.8" height="20.8" fill="none" stroke="#666" stroke-width="0.7"/>
<text x="432.7" y="189" font-size="7.8" text-anchor="end" fill="#111">3.6</text>
<clipPath id="cp4"><rect x="446.5" y="178.5" width="72" height="71.5"/></clipPath>
<g clip-path="url(#cp4)">
<path d="M479 250 477.5 250 476 250 474.5 250 473 250 471.5 250 470 250 468.5 250 467 250 465.5 250 464 250 462.5 250 461 250 459.5 250 458 250 456.5 250 455 250 453.5 250 452 250 450.5 250 449 250 447.5 250 446.5 250 446.5 248.5 446.5 247 446.5 245.5 446.5 244 446.5 242.5 446.5 241 446.5 239.5 446.5 238 446.5 236.5 446.5 235 446.5 233.5 446.5 232 446.5 230.5 446.5 229 446.5 227.5 446.5 226 446.5 224.5 446.5 223 446.5 221.5 446.5 220 446.5 218.5 446.5 217 446.5 215.5 446.5 214 447 213.3 448.2 213 449.5 212.7 450.7 212.5 452 212.3 453.5 212.1 454.6 212 456 211.9 457.5 211.8 459 211.7 460.5 211.7 462 211.7 463.5 211.6 464.8 211.5 466 211.2 467 210.9 468 210.5 469 209.8 470 209 470.6 208.5 471.5 207.7 472.4 207 473.1 206.5 474 206 475.4 205.5 476.5 205.3 478 205.4 479 205.6 480 206.1 481 206.9 481.7 207.5 482.5 208.5 483 209.3 483.5 210.1 484 211 484.6 212 485.2 213 485.8 214 486.3 215 486.8 216 487.2 217 487.5 218.5 487.4 220 487.1 221.5 486.8 222.5 486.5 223.5 486.2 225 486 226 485.7 227.5 485.5 229 485.4 230 485.1 231.5 484.9 232.5 484.6 234 484.4 235 484 236.5 483.8 237.5 483.5 238.5 483 239.9 482.6 241 482.3 242 481.9 243 481.5 244.2 481.1 245.5 480.7 246.5 480.3 247.5 479.9 248.5 479.3 249.5Z" fill="#f0f0f0" filter="url(#hz)"/>
<path d="M476.5 250 475 250 473.5 250 472 250 470.5 250 469 250 467.5 250 466 250 464.5 250 463 250 461.5 250 460 250 458.5 250 457 250 455.5 250 454 250 452.5 250 451 250 449.5 250 448 250 446.5 250 446.5 249 446.5 247.5 446.5 246 446.5 244.5 446.5 243 446.5 241.5 446.5 240 446.5 238.5 446.5 237 446.5 235.5 446.5 234 446.5 232.5 446.5 231 446.5 229.5 446.5 228 446.5 226.5 446.5 225 446.5 223.5 446.5 222 446.5 220.5 446.5 219 446.5 217.5 446.5 216 447 215.3 448 215 449.5 214.5 450.5 214.2 451.7 214 453 213.8 454.5 213.6 455.5 213.4 457 213.3 458.5 213.2 460 213.1 461.5 213.1 463 213 464 212.9 465.5 212.7 466.5 212.5 467.9 212 469 211.6 470 211.1 471 210.5 471.9 210 472.9 209.5 474 209 475 208.8 476.5 208.7 478 208.9 479 209.4 479.9 210 480.5 210.5 481.5 211.5 482 212.1 482.7 213 483.4 214 484 215 484.5 216 484.9 217 485.1 218 485.3 219.5 485.1 221 484.9 222 484.6 223.5 484.4 224.5 484.2 226 484 227.2 483.8 228.5 483.6 230 483.4 231 483.1 232.5 482.9 233.5 482.5 235 482.2 236 481.9 237 481.5 238.3 481.1 239.5 480.7 240.5 480.3 241.5 479.9 242.5 479.5 243.7 479.1 245 478.7 246 478.4 247 477.9 248 477.4 249 476.9 250Z" fill="#e4e4e4" filter="url(#hz)"/>
<path d="M475 250 473.5 250 472 250 470.5 250 469 250 467.5 250 466 250 464.5 250 463 250 461.5 250 460 250 458.5 250 457 250 455.5 250 454 250 452.5 250 451 250 449.5 250 448 250 446.5 250 446.5 249 446.5 247.5 446.5 246 446.5 244.5 446.5 243 446.5 241.5 446.5 240 446.5 238.5 446.5 237 446.5 235.5 446.5 234 446.5 232.5 446.5 231 446.5 229.5 446.5 228 446.5 226.5 446.5 225 446.5 223.5 446.5 222 446.5 220.5 446.5 219.1 447 218.3 447.9 217.5 448.6 217 449.5 216.5 450.8 216 452 215.6 453 215.4 454.5 215.1 455.5 214.9 457 214.7 458.5 214.6 459.7 214.5 461 214.4 462.5 214.3 464 214.1 465 213.9 466.5 213.6 467.5 213.3 468.5 213 469.8 212.5 471 212 472 211.7 473 211.4 474.5 211.1 476 211.1 477.5 211.4 478.5 211.9 479.5 212.5 480.1 213 481 213.9 481.5 214.5 482.2 215.5 482.7 216.5 483.1 217.5 483.4 219 483.4 220.5 483.2 222 483 223.4 482.8 224.5 482.6 226 482.4 227 482.2 228.5 482 229.8 481.8 231 481.5 232.3 481.2 233.5 480.9 234.5 480.5 236 480.2 237 479.8 238 479.5 239 479 240.3 478.6 241.5 478.2 242.5 477.9 243.5 477.5 244.7 477.1 246 476.7 247 476.3 248 475.8 249 475.2 250Z" fill="#d8d8d8" filter="url(#hz)"/>
<path d="M499 238.7h.7M480.4 235.5h.7M478.7 240.1h.7M456.9 211h.7M483.5 219.1h.7M480 230.9h.7M447 216.4h.7M480.3 249.6h.7M479.4 235.7h.7M480 234.6h.7M458.6 215.6h.7M476.7 249.3h.7M476.1 244.2h.7M485.4 230.5h.7M474.8 248.3h.7M446.6 219.2h.7M459.7 205.3h.7M483.3 249.6h.7M454.2 210.2h.7M485.8 228.2h.7M448.3 206.5h.7M482.7 209h.7M473.6 204h.7M472.3 203.2h.7M478.9 236.9h.7M483.3 239.7h.7M478.6 237.6h.7M476 204.1h.7M480.7 214.9h.7M457.3 216.8h.7M487.6 242.2h.7M484.1 237h.7M480.1 244.3h.7M480.5 229.2h.7M479 241.1h.7M479.7 246.9h.7M478.4 242.6h.7M477.2 241.1h.7M468.9 210.9h.7M480.4 246.1h.7M482.4 227h.7M474 210.8h.7M481.8 242.4h.7M476 245.3h.7M470.1 212.3h.7M478.5 250h.7M482 219.9h.7M477.2 241.8h.7M479.4 241.9h.7M471.5 212.4h.7M479.5 215.2h.7M471.1 204.2h.7M479.1 244h.7M475.1 249.8h.7M471.1 210.3h.7M482.2 230.7h.7M462.9 214.2h.7M462.1 188.2h.7M477.9 241.1h.7M479.9 240.8h.7M476.2 243.7h.7M466.8 210.4h.7M480.9 246.8h.7M480.9 227.1h.7M477.1 247.6h.7M479.5 243.6h.7M469.9 205.4h.7M483.5 224.8h.7M468.7 208.6h.7M483.4 213.2h.7M471.8 211.4h.7M475.3 197.7h.7M479.3 206.4h.7M488.2 230.2h.7M486.7 222.8h.7M489.6 220.5h.7M476.7 210.6h.7M485.4 224.9h.7M485.9 226.3h.7M487.7 234.5h.7M450.7 216.5h.7M455.9 209.1h.7M483.6 208.8h.7M483.4 238.7h.7M484.7 215.9h.7M485.7 228.7h.7M488.2 239.8h.7M484.6 230.2h.7M457.4 215.9h.7M454 218.2h.7M454.1 215.7h.7M483.5 235.3h.7M448.1 222.2h.7M450.7 219.8h.7M496.5 242.2h.7M478.2 245h.7M492.8 245.7h.7M479.4 242.4h.7M487.5 243.4h.7M484.4 240.9h.7M482.7 245.8h.7M478.7 247.8h.7M478.3 241.5h.7M486.8 246.8h.7M460.1 210.2h.7M484.6 226.4h.7M472.8 212.6h.7M488.3 225.7h.7M484.2 216h.7M483.1 227h.7M455.5 217.6h.7M485 216.1h.7M457.8 216.6h.7M459.5 215.7h.7M462.8 208.7h.7M478.3 214.5h.7M448.6 213.9h.7M485.6 215.7h.7M463.9 212.2h.7M486.3 226.6h.7M464.7 205.3h.7M449.9 219.6h.7M482 225.1h.7M496 216.5h.7M478.8 214.2h.7M473.2 212.6h.7M458.9 217h.7M472.5 208.7h.7M488.3 226.6h.7M470.3 210.8h.7M447.4 211.9h.7M463 215.7h.7M465.9 210.7h.7M460.1 213.9h.7M457.2 211.6h.7M477.7 205.5h.7M472.2 212.5h.7M456.6 212.4h.7M459.9 210.8h.7M470.9 211h.7M469.1 212h.7M482.2 220.3h.7M482.6 213.2h.7M462.5 207.8h.7M475 213.3h.7M483.3 235.9h.7M479.4 239.2h.7M469.7 208.6h.7M482.3 232.2h.7M486.8 238.2h.7M473.7 204.8h.7M473.3 204h.7M485.7 222.4h.7M474.3 208.8h.7M487 226.7h.7M495.6 239.1h.7M476.6 206.9h.7M475 194.3h.7M483.2 220.6h.7M474.5 212.9h.7M483 219.1h.7M483.6 202.5h.7M490.3 231.1h.7M484.8 234.1h.7M460.3 216.2h.7M481.5 234.7h.7M486.1 233.7h.7M486.7 227.4h.7M469.5 209.6h.7M481.3 214.5h.7M486 218.4h.7M481.7 230.6h.7M476.9 208.7h.7M482.5 215h.7M455.8 216.2h.7M482.2 227.1h.7M447.2 223.8h.7M483.8 226.9h.7M457.7 215h.7M481.3 219.2h.7M453.4 213.8h.7M463.3 212.7h.7M450.4 221.5h.7M482.5 210h.7M448.7 212.9h.7M447.6 223.7h.7M450.5 217.2h.7M465.4 211.3h.7M499 216h.7M455.3 208.7h.7M490.6 219.1h.7M449.6 211.4h.7M448.8 221.9h.7M468.8 211.7h.7M481.4 212.6h.7M446.6 213.7h.7M448.3 218.1h.7M476.7 206.4h.7M483.4 242.4h.7M487.4 246h.7M476.7 197.2h.7M484.8 205.5h.7M481.1 214.5h.7M481.8 237.4h.7M483 229.2h.7M477.4 244.1h.7M481.2 246.6h.7M484.8 235.7h.7M481.7 209.5h.7M484.1 226.1h.7M475.9 202.1h.7M489.2 214.1h.7M482.4 222.3h.7M485.7 245.3h.7M487.8 239.1h.7M479.3 243.3h.7M489.2 233h.7M487 219.2h.7M492 227.6h.7M478.7 247.1h.7M489.1 227.8h.7M485.5 232.7h.7M482.7 226.2h.7M481 238.4h.7M485.9 234h.7M492.3 221.2h.7M480 246.3h.7M483.9 215.6h.7M484.1 240h.7M485.3 213.6h.7M482.4 238.2h.7M481 235.1h.7M476.9 213h.7M481.4 233.6h.7M478.4 240.8h.7M482.8 223.6h.7M477.3 243.9h.7M486.4 246.7h.7M486.2 246.3h.7M488 236.6h.7M470.8 213.6h.7M487.3 244.9h.7M482.1 223.7h.7M483.1 229.6h.7M483.6 228.8h.7M483.5 216.2h.7M482.1 228.9h.7M476.1 212.2h.7M485.2 223.2h.7M484.6 229.7h.7M481.3 225.9h.7M477.5 249h.7M483.3 237.8h.7M486.2 223.7h.7M480.6 242.2h.7M488.1 217.9h.7M480.3 203.3h.7M480.4 238.9h.7M481.4 234.2h.7M492.8 235.5h.7M490 222.5h.7M485.2 231.3h.7M478.2 249.4h.7M488.9 222.7h.7M480.8 238h.7M482.3 211.3h.7M480.4 238.8h.7M475.3 211.7h.7M484.3 207.6h.7M485.9 207.5h.7M485 231h.7M487.1 242.7h.7M485.4 235.8h.7M484.2 237.7h.7M488.7 237.9h.7M479.6 210.4h.7M482.5 221.3h.7M489.9 222.2h.7M482.7 223.9h.7M488 217.8h.7M488.8 238.6h.7M487.2 224.1h.7M480.3 229.2h.7M484.8 231.6h.7M481.5 230.3h.7M476.7 206.2h.7M486.6 207.6h.7M482.6 238h.7M482.1 213.8h.7M487.8 230.3h.7M485.8 225.8h.7M483.7 215.8h.7M490 220.6h.7M484.8 237.3h.7M482.6 241.8h.7M486.3 234.6h.7M477.8 246.3h.7M482.9 214.2h.7M492.2 227.8h.7M480.3 235.3h.7M483.2 240.2h.7M486.5 214.5h.7M484.1 241.1h.7M479.3 237h.7M479.8 208.8h.7M482.9 235.3h.7M483.4 207.2h.7M475.6 211.2h.7M482.6 227.2h.7M476.5 210.9h.7M472.3 208.2h.7M483.5 243.6h.7M492 232.6h.7M487.5 231.5h.7M483.8 222.8h.7M483.2 216.7h.7M484.5 236.8h.7M479 244.3h.7M487.6 246.2h.7M485 244.8h.7M481.5 238.6h.7M488.6 237.3h.7M487.2 230.3h.7M481.5 229.9h.7M479.1 245.5h.7M482.1 196.7h.7M485.3 232.7h.7M484.2 249.1h.7M486.5 230.1h.7M489 242.2h.7M466.1 215.4h.7M484.4 236.6h.7M486.6 196.6h.7M491.9 230.4h.7M476 213.3h.7M476.6 247.9h.7M476.8 244.2h.7M481.5 226.9h.7M480.3 230.2h.7M483 237h.7M482.6 227.3h.7M466.8 214.7h.7M485.9 237.9h.7M480.4 230h.7M483.4 219.1h.7M490.8 247.7h.7M489.3 241.7h.7M495.2 218.8h.7M483.8 225.6h.7M478.8 209.7h.7M485.4 230.1h.7M485.3 221.3h.7M465.1 208.3h.7M483.1 232.5h.7M496.2 227.6h.7M484.3 218.3h.7M483.9 226.3h.7M481.3 213.2h.7M481.5 243h.7M484.2 210.6h.7M481.2 229.6h.7M474.6 213.1h.7M479.2 207.3h.7M451.7 217.3h.7M467.4 195.9h.7M454.5 218.1h.7M453.3 218.2h.7M453.9 210.9h.7M479 207.3h.7M471.2 212.5h.7M446.6 207.6h.7M460.8 209.2h.7M471.7 209.8h.7M453.4 215.7h.7M461.4 215.3h.7M457.4 215.8h.7M449.8 217.5h.7M469 212.4h.7M450.1 219h.7M452.2 216.9h.7M467 210h.7M448.9 212.7h.7M455 215.1h.7M472.8 200.3h.7M450 217.1h.7M453.7 210.5h.7M467.6 203.2h.7M466.6 206.8h.7M448.8 216.4h.7M465 210.4h.7M478 205.8h.7M450.4 214.1h.7M459.3 210.8h.7M447.8 209.9h.7M469 209.5h.7M449.5 215.8h.7M459.7 203.9h.7M452.9 215.5h.7M452.9 216.5h.7M456.4 212.2h.7M469.4 214.1h.7M449.2 214.3h.7M465.1 210.3h.7M452 216.4h.7M452.6 215.1h.7M480.4 211h.7M449.2 218.9h.7M455 217.9h.7M458.1 208.7h.7M453.1 213.8h.7M450.9 211.9h.7M455.7 215.6h.7M467 211.5h.7M479.5 197.6h.7M447 218.8h.7M459.4 209.7h.7M465 209.4h.7M473.8 204h.7M480 201.5h.7M451.1 214.6h.7M470.6 213.4h.7M468.5 205.2h.7M465.2 202.9h.7M468.6 203.9h.7M457.5 207h.7M448.9 212.1h.7M455.3 209.6h.7M447.3 219.5h.7M455.6 212h.7M477.6 210h.7M465.9 209.9h.7M470.1 210.7h.7M463.9 210.6h.7M476 212.2h.7M450.9 216h.7M474.7 203h.7M470.3 214h.7M474.8 210.9h.7M462 213h.7M449 219.9h.7M454.6 216.8h.7M470.9 210.3h.7M456.5 212.6h.7M472.5 201.2h.7M474.1 212.7h.7M480.3 213.3h.7M477 209.7h.7M479.8 203.9h.7M454.8 214.4h.7M449.7 215.6h.7M475 209.6h.7M457.6 217.4h.7M476.7 208.8h.7M470.8 205.5h.7M480 212.7h.7M453.5 215.7h.7M456.1 206.5h.7M469.7 200.7h.7M446.8 217.3h.7M469.7 213.7h.7M465.2 215.1h.7M449 211.1h.7M471.8 211.2h.7M448.3 216h.7M470.2 203.4h.7M473.9 207.6h.7M455.2 215h.7M475.9 208.6h.7M454.4 217.9h.7M459.3 216.3h.7M476.6 211.9h.7M477.9 211.5h.7M472.8 204.7h.7M447.2 219.7h.7M475.3 212.3h.7M477.4 209.2h.7M458 215.7h.7M451.2 212.4h.7M455.9 217.9h.7M460.4 213.3h.7M477 207.8h.7M452.6 216.7h.7M456 213.2h.7M457.8 208.5h.7M474 211.9h.7M478.8 211h.7M452.2 216.6h.7M456.1 216.6h.7M472.7 205.2h.7M453.8 206.9h.7M466.8 207.9h.7M462 208h.7M475 192.2h.7M455.4 214.1h.7M464.3 205.7h.7M466.5 214.2h.7M447.9 218.7h.7M448.7 213.9h.7M453.5 213.2h.7M447.9 215.2h.7M459.6 208.1h.7M465.6 207.7h.7M463 211.8h.7M468.2 213.2h.7M466.2 214.8h.7M470.8 209.8h.7M475.5 201.4h.7M447.3 211.3h.7M448.7 220h.7M447.5 220.3h.7M465.4 214.6h.7M451.8 215.4h.7M463.1 213.1h.7M455.9 214.7h.7M460.8 214.2h.7M466.7 199.7h.7M447.3 219.5h.7M463.5 207.9h.7M456.8 207.3h.7M465.4 200.9h.7M460.1 214.8h.7M447.2 219.5h.7M461.6 215.8h.7M465.2 211.3h.7M475.9 203.1h.7M462.7 205h.7M456 214.9h.7M447.3 216.7h.7M452 210.3h.7M478.7 207.9h.7M477.5 204.4h.7M450.2 214h.7M451.9 212.4h.7M476.4 209.7h.7M448 218.5h.7M462.7 212.6h.7M468.8 211h.7M464.5 214.9h.7M469 213.1h.7M448.1 218.9h.7M465.2 210.3h.7M464.6 215.6h.7M472.9 209.5h.7M462.9 209.3h.7M457.5 210.8h.7M452.2 216.1h.7M473 211.9h.7M464.8 213.6h.7M455.6 216.7h.7M470.1 211.2h.7M457.1 216.2h.7M463.8 215.8h.7M480.1 207.8h.7M478.2 207h.7M461.7 208.2h.7M455.4 217h.7M471.7 206.9h.7M479.5 209.5h.7M466.7 215h.7M472.2 203.9h.7M480.4 209.5h.7M456.5 216h.7M449.7 214.4h.7M477.8 208h.7M456.8 210h.7M459.7 214h.7M446.7 217.9h.7M471.9 213.7h.7M479.8 209.9h.7M451.3 210.5h.7M466.4 202.5h.7M468.1 211.1h.7M479.5 209.3h.7M447.8 215.6h.7M457.9 209.1h.7M457.6 213.1h.7M471.1 208.6h.7M451.2 211.2h.7M454.6 216.4h.7M450.4 209.5h.7M470 211.6h.7M446.6 217.1h.7M459.3 211.7h.7M458.4 213.6h.7M476.9 212h.7M448.3 212h.7M457.5 205.6h.7M447.6 217.9h.7M459.8 212.2h.7M479.4 212.4h.7M471.9 214h.7M451.9 215.4h.7M450.8 213.5h.7M464.9 210.8h.7M478.1 211h.7M478.7 212.1h.7M476 208.2h.7M450.9 206.1h.7M461.6 215.1h.7M453.9 213.9h.7M467.4 204.6h.7M455.1 215.7h.7M461.2 211.7h.7M476.9 211.2h.7M476.3 210h.7M467.3 206.6h.7M455.5 206.3h.7M469.7 211.2h.7M468.8 213.3h.7M466.7 203.1h.7M474.4 205.3h.7M466 211.4h.7M471.3 210.7h.7M463.2 213.7h.7M461.7 205.2h.7M458.9 206.4h.7M459.2 216.1h.7M474.6 209.8h.7M458.8 206h.7M465.7 213.4h.7M459.4 206.5h.7M466.6 200.3h.7M450.7 210.7h.7M447.5 218.1h.7M458.7 214.4h.7M455.5 211.1h.7M472.9 210.5h.7M475.7 201.3h.7M463 204.8h.7M468.7 198.1h.7M457.4 207.1h.7M450.1 215.1h.7M479.4 209.7h.7M478.2 212.4h.7M448.8 215.9h.7M452.4 217.5h.7M468.9 207.2h.7M473.4 205h.7M463 209.2h.7M454.1 210.2h.7M452.6 211.5h.7M477.4 198.1h.7M464.9 211.1h.7M464.4 207.8h.7M467.2 209.6h.7M469.8 210.5h.7M455.8 213.5h.7M449.3 219h.7M477.8 198.2h.7M452.6 215h.7M457.7 208.1h.7M477.9 210.7h.7M471.2 195.4h.7M472.9 203.8h.7M456.4 212.3h.7M470.8 213.5h.7M472.2 211.1h.7M476.1 202.7h.7M449.4 204.3h.7M473.9 209.6h.7M458.4 211h.7M447.8 203.7h.7M470.3 208.9h.7M474.1 211.7h.7M454.6 210.3h.7M469.6 207.5h.7M468.6 209.2h.7M465.5 208.8h.7M476.8 212.5h.7M465.1 214.1h.7M479.6 197.6h.7M447.5 210.7h.7M498.6 184.3h.7M508.4 208.1h.7M516.1 237h.7M494.6 207.6h.7M501.4 210.2h.7M504.5 197.8h.7M457.4 197.1h.7M495.4 241h.7M495.2 234.6h.7M470.3 199.3h.7M495.7 230.8h.7M512.8 221.2h.7M468.2 204.5h.7M499.1 217.9h.7M480.9 190.3h.7M471.5 179.7h.7M516.4 248.5h.7M493.9 229h.7M499.8 203.7h.7M506 179.4h.7M481.7 180.7h.7" stroke="#6a6a6a" stroke-width="0.55" fill="none"/>
<path d="M472.5 250 471.5 250 470.5 250 469.5 250 468.5 250 467.5 250 466.5 250 465.5 250 464.5 250 463.5 250 462.5 250 461.5 250 460.5 250 459.5 250 458.5 250 457.5 250 456.5 250 455.5 250 454.5 250 453.5 250 452.5 250 451.5 250 450.5 250 449.5 250 448.5 250 447.5 250 446.5 250 446.5 249.5 446.5 248.5 446.5 247.5 446.5 246.5 446.5 245.5 446.5 244.5 446.5 243.5 446.5 242.5 446.5 241.5 446.5 240.5 446.5 239.5 446.5 238.5 446.5 237.5 446.5 236.5 446.5 235.5 446.5 234.5 446.5 233.5 446.5 232.5 446.5 231.5 446.5 230.5 446.5 229.5 446.5 228.5 446.5 227.5 446.5 226.5 446.5 225.5 446.5 224.5 446.9 224 447.5 223.5 448 223.2 448.5 222.8 449 222.5 449.6 222 450.2 221.5 450.8 221 451.3 220.5 451.8 220 452.3 219.5 452.9 219 453.5 218.6 454 218.3 454.6 218 455.5 217.6 456 217.5 457 217.2 457.8 217 458.5 216.9 459.5 216.7 460.5 216.5 461 216.4 462 216.2 462.9 216 463.5 215.9 464.5 215.6 465 215.5 466 215.2 466.6 215 467.5 214.7 468.2 214.5 469 214.3 469.9 214 470.5 213.8 471.5 213.6 472 213.5 473 213.3 474 213.3 475 213.3 475.8 213.5 476.5 213.7 477.2 214 478 214.5 478.5 214.8 479 215.3 479.5 215.8 480 216.5 480.3 217 480.5 217.5 480.9 218.5 481 219.3 481 220 481 221 481 221.5 480.8 222.5 480.7 223.5 480.5 224.5 480.4 225 480.3 226 480.2 227 480 228 479.9 228.5 479.8 229.5 479.6 230.5 479.5 231.1 479.3 232 479.1 233 479 233.5 478.8 234.5 478.5 235.4 478.3 236 478 237 477.9 237.5 477.6 238.5 477.4 239 477.1 240 477 240.5 476.6 241.5 476.5 242 476.1 243 476 243.5 475.7 244.5 475.5 245 475.1 246 474.9 246.5 474.5 247.5 474.3 248 474 248.5 473.5 249.3 473 250 472.5 250Z" fill="#909090" stroke="#fff" stroke-width="1.8"/>
<path d="M472 250 471 250 470 250 469 250 468 250 467 250 466 250 465 250 464 250 463 250 462 250 461 250 460 250 459 250 458 250 457 250 456 250 455 250 454 250 453 250 452 250 451 250 450 250 449 250 448 250 447 250 446.5 250 446.5 249 446.5 248 446.5 247 446.5 246 446.5 245 446.5 244 446.5 243 446.5 242 446.5 241 446.5 240 446.5 239 446.5 238 446.5 237 446.5 236 446.5 235 446.5 234 446.5 233 446.5 232 446.5 231 446.5 230 446.5 229 446.5 228 446.5 227 446.5 226 446.5 225.3 447 224.9 447.6 224.5 448.3 224 449 223.6 449.5 223.2 450 222.9 450.7 222.5 451.5 222 452 221.7 452.5 221.3 453 221 453.7 220.5 454.3 220 455 219.6 455.5 219.2 456 219 457 218.5 457.5 218.3 458.4 218 459 217.8 460 217.5 460.5 217.4 461.5 217.1 462 217 463 216.7 463.6 216.5 464.5 216.2 465.2 216 466 215.7 466.7 215.5 467.5 215.2 468.2 215 469 214.8 469.9 214.5 470.5 214.3 471.5 214.1 472.3 214 473 213.9 474 213.9 474.7 214 475.5 214.2 476.5 214.5 477 214.8 477.5 215.1 478.1 215.5 478.6 216 479 216.5 479.5 217.3 479.8 218 480 218.5 480.2 219.5 480.2 220.5 480.1 221.5 480 222.5 479.9 223 479.8 224 479.6 225 479.5 225.8 479.4 226.5 479.3 227.5 479.2 228.5 479 229.5 478.9 230 478.8 231 478.6 232 478.5 232.5 478.3 233.5 478 234.5 477.9 235 477.7 236 477.5 236.6 477.3 237.5 477 238.3 476.8 239 476.5 240 476.3 240.5 476 241.5 475.8 242 475.5 243 475.4 243.5 475 244.5 474.8 245 474.5 245.9 474.3 246.5 474 247.1 473.6 248 473.3 248.5 472.9 249 472.5 249.6 472 250Z" fill="#a6a6a6" stroke="#555" stroke-width="0.6"/>
<path d="M471 250 470 250 469 250 468 250 467 250 466 250 465 250 464 250 463 250 462 250 461 250 460 250 459 250 458 250 457 250 456 250 455 250 454 250 453 250 452 250 451 250 450 250 449 250 448 250 447 250 446.5 250 446.5 249 446.5 248 446.5 247 446.5 246 446.5 245 446.5 244 446.5 243 446.5 242 446.5 241 446.5 240 446.5 239 446.5 238 446.5 237 446.5 236 446.5 235 446.5 234 446.5 233 446.5 232 446.5 231 446.5 230 446.5 229 446.5 228 446.5 227 446.5 226.4 447 226 447.7 225.5 448.4 225 449 224.6 449.5 224.3 450.1 224 451 223.5 451.5 223.2 452 223 452.9 222.5 453.5 222.2 454 221.9 454.9 221.5 455.5 221.2 456 220.9 456.8 220.5 457.5 220.1 458 219.8 458.7 219.5 459.5 219.1 460 218.9 460.8 218.5 461.5 218.2 462 218 463 217.6 463.5 217.3 464.4 217 465 216.7 465.6 216.5 466.5 216.2 467 216 468 215.6 468.5 215.5 469.5 215.2 470.2 215 471 214.8 472 214.6 473 214.6 474 214.6 475 214.8 475.6 215 476.5 215.4 477 215.7 477.5 216.1 478 216.6 478.5 217.3 478.8 218 479 218.5 479.2 219.5 479.3 220.5 479.2 221.5 479.1 222.5 479 223.1 478.9 224 478.7 225 478.6 226 478.5 226.6 478.4 227.5 478.3 228.5 478.2 229.5 478 230.5 478 231 477.8 232 477.6 233 477.5 233.6 477.3 234.5 477.1 235.5 477 236 476.7 237 476.5 237.7 476.3 238.5 476 239.4 475.8 240 475.5 241 475.3 241.5 475 242.5 474.8 243 474.5 243.9 474.3 244.5 474 245.3 473.7 246 473.5 246.6 473 247.5 472.7 248 472.4 248.5 472 249 471.5 249.6 471 250Z" fill="#bcbcbc" stroke="#3a3a3a" stroke-width="0.6"/>
<path d="M469 250 468 250 467 250 466 250 465 250 464 250 463 250 462 250 461 250 460 250 459 250 458 250 457 250 456 250 455 250 454 250 453 250 452 250 451 250 450 250 449 250 448 250 447 250 446.5 250 446.5 249 446.5 248 446.5 247 446.5 246 446.5 245 446.5 244 446.5 243 446.5 242 446.5 241 446.5 240 446.5 239 446.5 238 446.5 237 446.5 236 446.5 235 446.5 234 446.5 233 446.5 232 446.5 231 446.5 230 446.5 229 446.5 228.1 447 227.6 447.5 227.1 448 226.7 448.5 226.3 449 226 449.8 225.5 450.5 225.1 451 224.8 451.6 224.5 452.5 224.1 453 223.9 453.8 223.5 454.5 223.2 455.1 223 456 222.6 456.5 222.5 457.5 222.1 458 221.9 458.9 221.5 459.5 221.2 460 220.9 460.7 220.5 461.4 220 462 219.6 462.5 219.2 463 218.9 463.6 218.5 464.5 218 465 217.7 465.5 217.5 466.5 217 467 216.8 467.7 216.5 468.5 216.2 469.2 216 470 215.8 471 215.5 471.5 215.5 472.5 215.4 473.5 215.4 474 215.5 475 215.8 475.5 216 476.3 216.5 476.9 217 477.3 217.5 477.6 218 478 219 478.1 219.5 478.2 220.5 478.1 221.5 478 222.2 477.9 223 477.7 224 477.6 225 477.5 225.6 477.4 226.5 477.3 227.5 477.3 228.5 477.2 229.5 477.1 230.5 477 231 476.9 232 476.7 233 476.5 234 476.4 234.5 476.2 235.5 476 236.5 475.9 237 475.6 238 475.5 238.5 475.2 239.5 475 240 474.7 241 474.5 241.5 474.1 242.5 474 243 473.6 244 473.4 244.5 473 245.5 472.8 246 472.5 246.5 472 247.4 471.6 248 471.1 248.5 470.6 249 470 249.5 469.5 249.8 469 250Z" fill="#d0d0d0" stroke="#3a3a3a" stroke-width="0.6"/>
<path d="M463.5 250 462.5 250 461.5 250 460.5 250 459.5 250 458.5 250 457.5 250 456.5 250 455.5 250 454.5 250 453.5 250 452.5 250 451.5 250 450.5 250 449.5 250 448.5 250 447.5 250 446.5 250 446.5 249.5 446.5 248.5 446.5 247.5 446.5 246.5 446.5 245.5 446.5 244.5 446.5 243.5 446.5 242.5 446.5 241.5 446.5 240.5 446.5 239.5 446.5 238.5 446.5 237.5 446.5 236.5 446.5 235.5 446.5 234.5 446.5 233.5 446.5 232.5 446.5 231.9 446.9 231 447.2 230.5 447.5 230 448 229.3 448.5 228.8 449 228.3 449.5 227.8 450 227.4 450.6 227 451.4 226.5 452 226.2 452.5 225.9 453.5 225.5 454 225.3 454.8 225 455.5 224.8 456.5 224.5 457 224.4 458 224.1 458.7 224 459.5 223.8 460.5 223.6 461 223.4 461.9 223 462.5 222.5 462.9 222 463.3 221.5 463.7 221 464.1 220.5 464.5 220 465 219.5 465.5 219 466.2 218.5 467 218 467.5 217.7 468 217.5 469 217.1 469.5 216.9 470.5 216.7 471.5 216.5 472 216.5 472.6 216.5 473.5 216.6 474.5 217 475 217.3 475.5 217.7 476 218.3 476.3 219 476.5 219.5 476.6 220.5 476.6 221.5 476.5 222 476.3 223 476.2 224 476 225 476 225.5 475.9 226.5 475.9 227.5 475.9 228.5 475.9 229.5 475.8 230.5 475.7 231.5 475.6 232.5 475.5 233.3 475.4 234 475.2 235 475 236 474.9 236.5 474.6 237.5 474.5 238 474.2 239 474 239.6 473.7 240.5 473.5 241 473.1 242 472.9 242.5 472.5 243.4 472.2 244 472 244.5 471.5 245.5 471.2 246 470.8 246.5 470.4 247 470 247.5 469.3 248 468.5 248.5 468 248.7 467.1 249 466.5 249.2 465.5 249.5 465 249.6 464 249.9 463.5 250Z" fill="#dcdcdc" stroke="#3a3a3a" stroke-width="0.6"/>
<path d="M465.2 231 465.6 230.5 466 229.5 466.1 229 466 228 465.7 227.5 465 227.2 464.2 227.5 463.8 228 463.5 228.7 463.4 229.5 463.5 230.3 463.9 231 464.5 231.3 465.2 231Z" fill="#dcdcdc" stroke="#3a3a3a" stroke-width="0.6"/>
<path d="M457.5 250 456.5 250 455.5 250 454.5 250 453.5 250 452.5 250 451.5 250 450.5 250 449.5 250 448.8 250 448 249.5 447.5 249 447 248.5 446.7 248 446.5 247.5 446.5 246.5 446.5 245.5 446.5 244.5 446.5 243.5 446.5 242.5 446.5 241.5 446.5 240.5 446.5 239.5 446.5 238.5 446.5 237.7 446.8 237 447 236.5 447.5 235.6 447.8 235 448.2 234.5 448.5 234 449 233.3 449.5 232.7 450 232.1 450.5 231.6 451 231.1 451.5 230.6 452 230.2 452.5 229.9 453.1 229.5 454 229.1 454.5 228.9 455.5 228.7 456.5 228.9 457 229.2 457.5 229.8 457.9 230.5 458.2 231 458.6 231.5 459 232.1 459.5 232.7 460 233.4 460.5 234 460.9 234.5 461.3 235 461.6 235.5 462 236.1 462.5 237 462.7 237.5 463 238.4 463.2 239 463.4 240 463.6 240.5 463.9 241.5 464.2 242 464.6 242.5 465.2 243 466 243.3 466.3 242.5 466.3 241.5 466.1 240.5 466.1 239.5 466.1 238.5 466.2 237.5 466.5 236.5 466.6 236 466.9 235 467.1 234.5 467.5 233.5 467.6 233 468 232 468.2 231.5 468.5 230.5 468.7 230 469 229 469.1 228.5 469.4 227.5 469.4 226.5 469.2 225.5 469 225 468.5 224.2 468 223.6 467.5 223 467.2 222.5 467 221.5 467.3 220.5 467.6 220 468.1 219.5 468.8 219 469.5 218.6 470 218.4 471 218.2 472 218.2 473 218.4 473.5 218.7 474 219.3 474.3 220 474.5 221 474.3 222 474.1 223 474 223.5 473.8 224.5 473.7 225.5 473.7 226.5 473.8 227.5 473.9 228.5 474 229.5 474 230 474.1 231 474 232 474 232.5 473.9 233.5 473.8 234.5 473.6 235.5 473.5 236 473.2 237 473 237.7 472.7 238.5 472.5 239.1 472.1 240 471.8 240.5 471.5 241.1 471 241.9 470.5 242.5 470 243 469.5 243.5 469 243.8 468.5 244 467.5 244.3 466.7 244.5 466.4 245 466 245.6 465.5 246.2 465 246.8 464.5 247.2 464 247.6 463.5 248 462.6 248.5 462 248.8 461.4 249 460.5 249.3 459.9 249.5 459 249.7 458 250 457.5 250Z" fill="#d6d6d6" stroke="#3a3a3a" stroke-width="0.6"/>
<path d="M470.5 236.5 470 236 470 235 470.1 234.5 470.4 233.5 471 233 471 233 471.4 234 471.2 235 471 235.8 470.5 236.5Z" fill="#cecece" stroke="#3a3a3a" stroke-width="0.6"/>
<path d="M455 249.1 454 249.2 453 249.3 452 249.3 451 249.2 450.4 249 449.5 248.6 449 248.3 448.5 247.8 448 247.2 447.6 246.5 447.4 246 447.2 245 447.1 244 447.1 243 447.3 242 447.4 241 447.6 240.5 447.9 239.5 448.1 239 448.5 238.2 448.9 237.5 449.3 237 449.8 236.5 450.4 236 451 235.6 451.5 235.4 452.5 235 453 234.9 454 234.9 454.6 235 455.5 235.3 456 235.5 456.8 236 457.3 236.5 457.8 237 458.1 237.5 458.5 238.4 458.7 239 459 240 459.1 240.5 459.4 241.5 459.6 242 460 242.8 460.4 243.5 460.7 244 461 244.7 461.2 245.5 461 246.5 460.6 247 460 247.5 459.5 247.8 459 248 458 248.4 457.5 248.5 456.5 248.8 455.5 249 455 249.1Z" fill="#cecece" stroke="#3a3a3a" stroke-width="0.6"/>
<path d="M455 247.6 454 247.8 453 247.9 452 247.9 451 247.7 450.5 247.5 449.9 247 449.4 246.5 449 245.8 448.8 245 448.7 244 448.8 243 448.9 242 449.1 241.5 449.5 240.5 449.8 240 450.2 239.5 450.8 239 451.5 238.6 452 238.4 453 238.4 453.5 238.6 454.2 239 454.7 239.5 455 240 455.5 240.9 455.8 241.5 456 242 456.5 242.8 456.9 243.5 457.2 244 457.5 244.6 457.7 245.5 457.5 246.1 457 246.7 456.5 247 455.5 247.4 455 247.6Z" fill="#c4c4c4" stroke="#3a3a3a" stroke-width="0.6"/>
</g>
<path d="M447.5 217.1V249H472.4" fill="none" stroke="#111" stroke-width="2.0"/>
<rect x="446.5" y="178.5" width="72" height="71.5" fill="none" stroke="#555" stroke-width="0.9"/>
<rect x="480.2" y="191.2" width="30.8" height="20.8" fill="none" stroke="#666" stroke-width="0.7"/>
<text x="510.3" y="189" font-size="7.8" text-anchor="end" fill="#111">0.4</text>
<clipPath id="cp5"><rect x="209.8" y="258.3" width="72" height="71.5"/></clipPath>
<g clip-path="url(#cp5)">
<path d="M241.3 329.8 239.8 329.8 238.3 329.8 236.8 329.8 235.3 329.8 233.8 329.8 232.3 329.8 230.8 329.8 229.3 329.8 227.8 329.8 226.3 329.8 224.8 329.8 223.3 329.8 221.8 329.8 220.3 329.8 218.8 329.8 217.3 329.8 215.8 329.8 214.3 329.8 212.8 329.8 211.3 329.8 209.8 329.8 209.8 328.8 209.8 327.3 209.8 325.8 209.8 324.3 209.8 322.8 209.8 321.3 209.8 319.8 209.8 318.3 209.8 316.8 209.8 315.3 209.8 313.8 209.8 312.3 209.8 310.8 209.8 309.3 209.8 307.8 209.8 306.3 209.8 304.8 209.8 303.3 209.8 301.8 209.8 300.3 209.8 298.8 209.8 297.7 210.8 297.3 212.2 296.8 213.3 296.5 214.3 296.3 215.8 296 216.9 295.8 218.3 295.6 219.8 295.4 221.1 295.3 222.3 295.1 223.6 294.8 224.8 294.4 225.8 294 226.8 293.6 227.8 293.2 228.8 292.7 229.8 292.2 230.8 291.6 231.8 290.9 232.8 290.3 233.6 289.8 234.5 289.3 235.8 288.9 237.3 288.9 238.3 289.3 239.3 289.9 240.3 290.7 240.9 291.3 241.8 292.1 242.5 292.8 243.3 293.5 244 294.3 244.8 295.1 245.3 295.8 246 296.8 246.5 297.8 246.8 298.8 246.8 300.3 246.6 301.3 246.3 302.3 245.8 303.3 245.3 304.3 244.8 305.3 244.3 306.5 244 307.8 243.8 308.8 243.7 310.3 243.7 311.8 243.6 313.3 243.6 314.8 243.5 316.3 243.4 317.8 243.3 319.2 243.2 320.3 243.1 321.8 242.9 323.3 242.8 324.3 242.6 325.8 242.4 327.3 242.1 328.3 241.7 329.3Z" fill="#f0f0f0" filter="url(#hz)"/>
<path d="M239.3 329.8 237.8 329.8 236.3 329.8 234.8 329.8 233.3 329.8 231.8 329.8 230.3 329.8 228.8 329.8 227.3 329.8 225.8 329.8 224.3 329.8 222.8 329.8 221.3 329.8 219.8 329.8 218.3 329.8 216.8 329.8 215.3 329.8 213.8 329.8 212.3 329.8 210.8 329.8 209.8 329.8 209.8 328.3 209.8 326.8 209.8 325.3 209.8 323.8 209.8 322.3 209.8 320.8 209.8 319.3 209.8 317.8 209.8 316.3 209.8 314.8 209.8 313.3 209.8 311.8 209.8 310.3 209.8 308.8 209.8 307.3 209.8 305.8 209.8 304.3 209.8 302.8 209.8 301.3 209.8 300.1 210.8 299.7 211.8 299.3 213.3 298.8 214.3 298.5 215.3 298.3 216.8 297.9 217.8 297.7 219.3 297.5 220.3 297.3 221.8 297 222.8 296.7 223.9 296.3 225.1 295.8 226.2 295.3 227.3 294.8 228.3 294.3 229.3 293.8 230.3 293.3 231.3 292.8 232.3 292.3 233.3 291.9 234.3 291.5 235.3 291.3 236.8 291.3 237.8 291.5 238.8 291.9 239.8 292.5 240.8 293.3 241.3 293.8 242.3 294.8 242.8 295.4 243.5 296.3 244 297.3 244.3 298.3 244.5 299.8 244.4 301.3 244.1 302.3 243.8 303.3 243.3 304.6 243 305.8 242.8 306.8 242.6 308.3 242.5 309.8 242.4 311.3 242.3 312.8 242.3 313.8 242.2 315.3 242.1 316.8 241.9 318.3 241.8 319.3 241.6 320.8 241.4 322.3 241.2 323.3 241 324.8 240.8 326 240.5 327.3 240.2 328.3 239.8 329.3Z" fill="#e4e4e4" filter="url(#hz)"/>
<path d="M237.8 329.8 236.3 329.8 234.8 329.8 233.3 329.8 231.8 329.8 230.3 329.8 228.8 329.8 227.3 329.8 225.8 329.8 224.3 329.8 222.8 329.8 221.3 329.8 219.8 329.8 218.3 329.8 216.8 329.8 215.3 329.8 213.8 329.8 212.3 329.8 210.8 329.8 209.8 329.8 209.8 328.3 209.8 326.8 209.8 325.3 209.8 323.8 209.8 322.3 209.8 320.8 209.8 319.3 209.8 317.8 209.8 316.3 209.8 314.8 209.8 313.3 209.8 311.8 209.8 310.3 209.8 308.8 209.8 307.3 209.8 305.8 209.8 304.3 209.8 302.8 210.2 301.8 211.3 301.3 212.3 300.9 213.3 300.5 214.3 300.2 215.8 299.8 216.8 299.5 218 299.3 219.3 299 220.3 298.8 221.8 298.4 222.8 298.1 223.8 297.7 224.8 297.3 225.8 296.8 226.8 296.2 227.8 295.7 228.8 295.2 229.8 294.7 230.8 294.2 231.8 293.8 233.1 293.3 234.3 293 235.4 292.8 236.3 292.8 237.8 293.1 238.8 293.6 239.8 294.2 240.5 294.8 241.3 295.7 241.8 296.3 242.3 297.3 242.8 298.7 242.9 299.8 242.8 301.3 242.6 302.3 242.3 303.5 242 304.8 241.8 305.8 241.6 307.3 241.5 308.8 241.4 310.3 241.3 311.8 241.3 312.8 241.2 314.3 241.1 315.8 240.9 317.3 240.8 318.3 240.6 319.8 240.3 321.3 240.2 322.3 239.9 323.8 239.7 324.8 239.4 326.3 239.1 327.3 238.8 328.3 238.3 329.3Z" fill="#d8d8d8" filter="url(#hz)"/>
<path d="M234.6 293.1h.7M216.1 301.6h.7M256.3 315h.7M222.5 295.6h.7M217.4 299.7h.7M219.3 298.5h.7M252.6 319h.7M224.6 297.7h.7M268.9 321.7h.7M212 300.4h.7M245.8 310.8h.7M215 301.6h.7M243.8 298.1h.7M227.5 294.9h.7M247.1 321.4h.7M247.4 306.2h.7M239.9 321.8h.7M243 327.7h.7M219.7 288.5h.7M249.4 317.6h.7M243.2 308.7h.7M248.3 308.7h.7M241.7 312.1h.7M252.8 326.3h.7M244.2 297.2h.7M222.2 282.2h.7M240.4 308.6h.7M242 326.3h.7M240.4 311.4h.7M241.4 326.8h.7M231.9 295h.7M224.7 297.1h.7M240.6 319.4h.7M241 315.2h.7M237.9 327.6h.7M241.3 324.8h.7M244.4 296.9h.7M240.2 320.2h.7M242.8 314.7h.7M242.4 314.2h.7M242.9 317h.7M240.5 282.7h.7M244.9 316.4h.7M243.4 313.3h.7M241.7 302.4h.7M243.4 310.3h.7M231.6 295.7h.7M243.9 318.3h.7M234.6 284.5h.7M243.1 324.7h.7M225.1 296.5h.7M236.7 275.9h.7M243.9 315.4h.7M242.7 290.5h.7M246.8 306.2h.7M242.8 328.9h.7M243.4 295.6h.7M244.6 304.3h.7M246.6 308.3h.7M239.1 322.1h.7M233.4 292.6h.7M240 323h.7M246.2 299.8h.7M241.8 309.7h.7M248.3 306.8h.7M239.8 324.7h.7M222.5 288.7h.7M241.5 312.4h.7M229.7 281h.7M241.6 324.4h.7M221.9 299.4h.7M239.8 327.5h.7M225.3 282.5h.7M226.5 288.4h.7M241.3 318.5h.7M227.5 296.6h.7M236.1 281.9h.7M240.8 321.7h.7M225.9 286.3h.7M228.9 295.8h.7M241.9 328h.7M236.2 284.9h.7M241.5 308.6h.7M230.9 285.8h.7M239.9 295h.7M228.5 281.9h.7M250.6 303.8h.7M232.4 292.5h.7M222.9 277.8h.7M256.7 326.6h.7M238.6 281.7h.7M238.3 290.7h.7M237.1 293.7h.7M243.4 315.2h.7M239.2 329h.7M218.8 287.4h.7M243.5 316.3h.7M239.5 323.1h.7M244 303.2h.7M248.6 329.7h.7M230.4 294.7h.7M241.8 317.8h.7M236 288.2h.7M240.8 325.8h.7M236.9 290.1h.7M243.2 319.6h.7M245.5 303.6h.7M239.8 322.2h.7M248.6 310h.7M249.4 311.3h.7M240.5 306.3h.7M255.1 306.2h.7M244.4 305.9h.7M251.4 307.3h.7M210.3 304.5h.7M248.1 306.9h.7M211.3 302.2h.7M250.8 300.3h.7M221.8 299.4h.7M244.2 314.1h.7M246.3 303.9h.7M240.6 318.1h.7M216.3 300h.7M216.8 295.7h.7M244.8 308.4h.7M213.5 302h.7M212.2 293.3h.7M244 301.5h.7M250.3 310.9h.7M212.4 302.3h.7M221.5 294.4h.7M250.4 302.2h.7M220.9 299.7h.7M212.2 300.2h.7M256 307.7h.7M241.4 296.1h.7M240.6 306h.7M210.8 297.6h.7M211.5 297.8h.7M224.7 299.1h.7M240.4 296.2h.7M210.1 304h.7M216.2 302.3h.7M220.5 299.9h.7M246.3 323.8h.7M245.8 329h.7M242.7 326h.7M243.7 323.5h.7M239.1 327h.7M239 326.3h.7M239.4 325.1h.7M238.3 286.2h.7M241.1 290.3h.7M250.3 308.4h.7M247.6 304.3h.7M234.4 288.5h.7M224 297.1h.7M224.8 296.9h.7M240.9 308h.7M238.3 294.3h.7M242.5 308.9h.7M237.5 292.9h.7M241.4 294.6h.7M226.5 294.3h.7M249 307h.7M221.5 300.2h.7M248.7 310.5h.7M232.2 293.8h.7M234.7 294.5h.7M218.2 298.7h.7M236 293.2h.7M256.5 301.3h.7M232.6 292.5h.7M237.6 288.7h.7M233.2 289.6h.7M242.9 307.5h.7M253 299.3h.7M248.3 300.8h.7M222.2 294.5h.7M218.8 296.4h.7M228.1 289.4h.7M223.6 298h.7M226.8 292h.7M244.6 299.8h.7M227.3 298.2h.7M242.3 294.9h.7M250.2 307.3h.7M254.5 305.3h.7M213.4 301.5h.7M216.3 293h.7M231.4 292.4h.7M240.4 306.2h.7M238.6 290.6h.7M248.5 297.1h.7M232.4 291.3h.7M239.5 293.7h.7M236.4 292.9h.7M221.4 296h.7M236.1 290.6h.7M247.7 297.8h.7M242.5 302.7h.7M221.9 294h.7M247.2 306h.7M226.9 294.4h.7M225.7 296.6h.7M242.7 297.7h.7M237.1 294.4h.7M237.9 293.8h.7M220.5 296.2h.7M222 296.2h.7M224.5 290h.7M215.5 297.7h.7M242.6 303.6h.7M228 296.2h.7M245.3 303.3h.7M243.1 307.2h.7M238.4 294.3h.7M240.9 304.2h.7M223.1 297.8h.7M216.2 298.2h.7M236.9 294.4h.7M224 294.9h.7M234.3 293.8h.7M231.4 291.3h.7M232.8 293.7h.7M239.2 295.1h.7M246.5 305.7h.7M247.9 292h.7M251.7 300.1h.7M236.8 283.4h.7M257.4 314h.7M254.1 322.7h.7M244.5 298.3h.7M245.5 319.5h.7M249.1 292.9h.7M242.8 304.8h.7M243.6 326.3h.7M231.8 292.7h.7M248.8 299.6h.7M256 313.6h.7M246.4 329.2h.7M245.1 295.4h.7M245.9 296.1h.7M251.8 293.2h.7M254.6 301.8h.7M242.4 314.1h.7M250.3 299.4h.7M250.7 310h.7M244.3 318.2h.7M241.6 328.2h.7M251.9 324.8h.7M247.5 321h.7M241.6 316.3h.7M239.3 295h.7M242.9 299.9h.7M249.5 299.6h.7M247.7 303.6h.7M241.8 298.6h.7M244 304.9h.7M239.9 323.7h.7M242.2 304.9h.7M235.9 286.7h.7M244.9 308.4h.7M244.5 305.8h.7M258.2 321.4h.7M247.8 302.7h.7M244.8 319.4h.7M247.7 309.1h.7M250.6 300h.7M243 312.7h.7M246.4 286.6h.7M262.9 321.7h.7M241.4 328.1h.7M246.9 284.7h.7M242.9 312.4h.7M241.3 306.8h.7M241 324.3h.7M243.3 318.9h.7M254.1 299.9h.7M244.5 316.8h.7M247.5 292.3h.7M245.3 285.5h.7M249 298.8h.7M241.4 308.7h.7M251.6 302.8h.7M240.7 308.5h.7M242.5 303.1h.7M244.2 298.7h.7M254.6 307h.7M246.9 313.9h.7M243.5 289h.7M251.2 305h.7M234.8 292.5h.7M254.9 311.5h.7M251.8 304h.7M250.5 323h.7M242.1 324.7h.7M250.4 313.1h.7M243 303.9h.7M235.3 290.8h.7M242 303.5h.7M238.9 328.5h.7M246.6 313.6h.7M249.8 311.4h.7M250.8 308.3h.7M250.6 313.5h.7M248.6 300.9h.7M245.8 311.4h.7M249.2 312.4h.7M246.8 317h.7M241.9 322.2h.7M248.7 319.9h.7M248.5 305.4h.7M248.2 293.7h.7M244 305.3h.7M231.3 290.6h.7M248.2 324.6h.7M243.7 312.9h.7M256.7 290.9h.7M250.2 301h.7M243.9 321.2h.7M246.3 327.9h.7M243.4 315.7h.7M250.6 315.6h.7M246.5 328.9h.7M242.2 296.3h.7M241.3 315.9h.7M243.5 296.5h.7M244.5 301.4h.7M239.9 324.2h.7M242.8 308.6h.7M245.7 316.1h.7M245.5 291.1h.7M242.7 299.9h.7M245.9 311.4h.7M249.8 311.4h.7M246.2 323h.7M249.5 312.7h.7M242.1 295.1h.7M248.8 310.9h.7M247.8 315.9h.7M242 312.8h.7M243.5 323.5h.7M249.9 309h.7M250.1 311.5h.7M232.1 291.4h.7M250.9 316.4h.7M245.2 302.8h.7M256.2 310.9h.7M251.7 318.3h.7M257.1 294.5h.7M248.7 313.1h.7M250.6 312.7h.7M246.8 313.5h.7M251.9 292.3h.7M238.9 290.2h.7M249.5 308.8h.7M250.3 308.7h.7M244.9 302.5h.7M247.5 319.4h.7M239.4 328.8h.7M247.2 297h.7M243.4 318.3h.7M248.1 319h.7M255.7 301.5h.7M245 323.2h.7M241.5 313.8h.7M244.4 303.4h.7M242.5 310.3h.7M242.8 311.8h.7M251.4 284.2h.7M241.3 328.9h.7M244.6 284.7h.7M243 296.7h.7M252.5 293.1h.7M243.5 315.7h.7M237.9 289.9h.7M253.9 304.8h.7M248.4 311.5h.7M230.3 292.6h.7M247 323.9h.7M250.6 318.8h.7M247.8 300h.7M242.6 312.5h.7M247.2 315.9h.7M241.9 306h.7M245.7 322.6h.7M251.8 329.3h.7M253 323.8h.7M238.1 295.2h.7M248.9 323h.7M244.2 302.9h.7M242.4 311.3h.7M244 314.8h.7M242.5 323h.7M242 299.5h.7M248.3 301.8h.7M247.7 307.8h.7M247.2 322.1h.7M243.3 299.9h.7M244.4 312h.7M245.5 318.7h.7M245.1 309.8h.7M248.6 311.3h.7M256.9 300.7h.7M245.5 320.1h.7M240.9 319.7h.7M247.2 314.5h.7M242.1 305.3h.7M250 300.4h.7M251.6 307.4h.7M244.9 287.3h.7M245.5 307.6h.7M251 319h.7M247.2 302.8h.7M241 326h.7M243.7 303.8h.7M256 306.6h.7M239.2 324.5h.7M240 286.5h.7M242.4 315.2h.7M247.4 314.2h.7M235.8 290.3h.7M252.7 294.5h.7M251.7 301.5h.7M248.5 301.1h.7M247.2 319h.7M260 306h.7M257.9 318.3h.7M245 304.2h.7M241.6 316.2h.7M241.3 326.2h.7M244.7 308.4h.7M246.3 329.5h.7M247 296.8h.7M243.3 307.1h.7M243 318.8h.7M247.1 310.3h.7M248.7 322.3h.7M246.7 320.1h.7M251.8 306.2h.7M230.8 292.9h.7M210.7 289.3h.7M228.2 287.1h.7M211.7 285.8h.7M225 295.7h.7M221.1 295.7h.7M231.5 288.7h.7M224.2 296.3h.7M217.3 290.4h.7M214.5 295.8h.7M238.4 290.1h.7M211.9 296.3h.7M228.9 294.5h.7M227.7 291.8h.7M212.9 290.9h.7M222.1 295.9h.7M239.3 292.8h.7M239.5 289.1h.7M212.7 299.4h.7M240.8 287.2h.7M224 286.6h.7M230.2 295.3h.7M214 295.2h.7M228.3 288.3h.7M232.5 283.9h.7M222.1 295.5h.7M224.5 293h.7M234.6 294.4h.7M218.7 290.5h.7M222.5 288.8h.7M229.7 294.5h.7M242 291.1h.7M232.7 285.4h.7M219.2 284.2h.7M241.4 293.4h.7M219.1 283h.7M226.5 292.8h.7M218.5 298.1h.7M221.3 297.2h.7M237.1 287.1h.7M217.6 291.1h.7M240.9 290.3h.7M242.2 289.1h.7M236.7 282.5h.7M224.9 293.9h.7M230.6 294.5h.7M223.4 289.2h.7M227.7 295h.7M230.9 290.9h.7M211.4 296.5h.7M227.5 293.7h.7M227.4 296.4h.7M232.3 284.7h.7M226.3 287.5h.7M210.8 288.5h.7M234.9 291.6h.7M238.3 277.4h.7M227.9 294.1h.7M239.2 282.7h.7M242.8 290.5h.7M211.4 291.6h.7M242.8 291h.7M222.9 297.3h.7M229.7 292.8h.7M243.4 293.2h.7M214.2 298.8h.7M210.2 290.7h.7M225.3 295.9h.7M230.1 287.4h.7M243.5 289.2h.7M241.1 291.7h.7M232.6 291h.7M229.1 293.2h.7M236.7 288.5h.7M221.2 298h.7M229.3 296h.7M230.9 292.6h.7M213.2 288.6h.7M220.7 295.1h.7M211.5 293.1h.7M222.5 297.1h.7M228.2 295.4h.7M213.2 291.3h.7M216.3 292.5h.7M215.5 297h.7M242.3 289.8h.7M211.4 292.5h.7M211.2 289.8h.7M223.3 295h.7M223.2 293.9h.7M235.3 292.7h.7M216.9 294.9h.7M213.2 287h.7M218.8 296.8h.7M237.8 293.5h.7M221.7 287.9h.7M230.5 286.9h.7M226.1 291.7h.7M239.5 285.9h.7M210.7 296.8h.7M228 292.5h.7M235.6 291.9h.7M236.5 293.8h.7M235.2 288.8h.7M222.1 289h.7M237 290h.7M230.5 295h.7M238.7 293.6h.7M239.9 288.3h.7M228.8 285.9h.7M211.8 297.6h.7M243.2 289.3h.7M216.9 288.6h.7M230.7 289.7h.7M210.5 293.8h.7M210.9 298.6h.7M238.9 292.7h.7M243.2 283.1h.7M219.5 292.7h.7M225.9 296.9h.7M210.9 299.6h.7M210.1 289.9h.7M212.9 296.9h.7M240 292.8h.7M215.5 296.9h.7M212 290.8h.7M227 294.3h.7M216.3 298.5h.7M241.5 282.4h.7M236.9 286.6h.7M234.9 291.5h.7M219.6 292.1h.7M230.8 295.8h.7M230.5 292.2h.7M211.4 283.4h.7M234.5 289.8h.7M243 293.2h.7M220.1 294.5h.7M239.2 287h.7M216.6 298.2h.7M211.1 282.5h.7M224.2 294.7h.7M228.7 293.3h.7M224.5 287.2h.7M218.4 286.6h.7M212 293.8h.7M223.7 295.1h.7M212.6 294.6h.7M216.6 293.8h.7M238.1 292h.7M236.5 289.4h.7M239 277.3h.7M224.7 291.8h.7M228.4 295.6h.7M242.2 293h.7M236.7 290.8h.7M214.3 298.7h.7M218.6 296.2h.7M230.5 284.4h.7M210.8 298.4h.7M223.3 287.7h.7M223.4 296.9h.7M228.5 289.8h.7M223.8 288.8h.7M215.1 298.3h.7M239.4 293.1h.7M223.7 297.1h.7M212.8 296.5h.7M235.4 290.7h.7M211.8 293h.7M213.7 298.3h.7M210.1 295.5h.7M228.1 292.5h.7M228.9 288.3h.7M243.2 288.5h.7M220.1 293.6h.7M215 292.8h.7M240.9 293.9h.7M216.1 294.6h.7M230.6 285.9h.7M212.6 291.4h.7M236.9 289.5h.7M213.2 296.2h.7M212.2 299.1h.7M215.8 293.1h.7M239.6 287.2h.7M227.1 296.3h.7M230.3 294.1h.7M216.7 295.2h.7M241 293.4h.7M241.2 280.2h.7M222.2 291.2h.7M235.1 286.4h.7M241.9 291.1h.7M228.5 290.2h.7M226.3 290.8h.7M231.4 281.1h.7M210.8 290.4h.7M213.5 288.8h.7M227.8 287.9h.7M223.7 296.2h.7M219.2 292.3h.7M227.4 296.7h.7M226.3 296.2h.7M224.1 288.2h.7M239.7 291.2h.7M214.3 299.3h.7M240.5 283h.7M236.8 288.4h.7M218.4 298.4h.7M229.6 293.2h.7M235.6 292.2h.7M228.7 286.9h.7M215.3 295.9h.7M222.1 293.5h.7M228.3 287.6h.7M233.1 290.5h.7M225.8 289.1h.7M230.7 295.4h.7M234.7 289.8h.7M236 284h.7M235.6 283.8h.7M225.5 295.3h.7M239.3 286.9h.7M215.4 292.3h.7M229.2 296.3h.7M215.8 284h.7M214.1 298.9h.7M228 292.5h.7M229.8 295.8h.7M240 293.8h.7M235.9 292.4h.7M235.6 293.5h.7M226.2 288.3h.7M224.2 293h.7M235.4 286.3h.7M238.8 286.7h.7M218.1 293.6h.7M214.1 297.1h.7M220.6 295.9h.7M223.4 293.5h.7M243.4 293.2h.7M237.2 282.6h.7M237.4 292.2h.7M242.8 291.2h.7M240.1 282h.7M216 296.7h.7M218.1 296.6h.7M236.7 280h.7M241.2 289.1h.7M222.6 289.2h.7M243.7 288.9h.7M215.8 295.1h.7M211.1 295h.7M241.5 288.4h.7M221.2 282.7h.7M212.7 292.2h.7M240.6 278.4h.7M219.4 296.9h.7M238 285h.7M242.1 292.4h.7M222.9 290h.7M221.9 297.2h.7M233.3 287.7h.7M217.6 295.7h.7M241.5 289.3h.7M243 287.9h.7M210.9 295.4h.7M237.9 294.5h.7M219.7 297.8h.7M224.6 289h.7M216.6 292.2h.7M237.7 287.7h.7M229.9 289.8h.7M231.6 293h.7M233.8 288.6h.7M222.6 295.8h.7M239.2 288.2h.7M211.1 298.5h.7M226.9 281.5h.7M225.9 290.7h.7M226.1 288.6h.7M228.8 285.6h.7M232.6 294.4h.7M219.4 291.2h.7M228.3 284h.7M221.1 295.8h.7M243.4 286.4h.7M239.3 285.7h.7M210.1 295.6h.7M211.9 296.5h.7M220.1 295.2h.7M234 291.7h.7M243.7 288h.7M240.9 276.6h.7M210.2 290.8h.7M216.6 284.3h.7M243.2 290.2h.7M225.6 295.5h.7M230.1 289.8h.7M226 294.9h.7M228.3 294.4h.7M213.1 293.8h.7M238 293.7h.7M223.9 292.1h.7M228.5 294.3h.7M220.8 298h.7M216.8 297.8h.7M218.4 293.9h.7M224.9 297.1h.7M214.9 298.5h.7M233.9 290.7h.7M218.8 297.9h.7M241.4 287.5h.7M239.3 287h.7M241.9 279.2h.7M230.5 286.6h.7M229.5 289.3h.7M221.9 294.7h.7M210.9 296.8h.7M236.6 285.7h.7M231 295.4h.7M220.5 293.9h.7M229.7 293.2h.7M240 289.6h.7M215.8 295.4h.7M213.1 297.3h.7M224.4 295.9h.7M217.8 289.6h.7M241.6 278.7h.7M239 290.6h.7M214.1 290.8h.7M221.5 290.4h.7M234.6 294.4h.7M226.7 286.9h.7M241.9 287.2h.7M241.4 291.5h.7M210.2 286.9h.7M242 285.4h.7M214 286.1h.7M216.1 291.6h.7M235 292.2h.7M214.8 298.6h.7M242.5 285.1h.7M226 295.3h.7M230.7 289.1h.7M245.5 293h.7M246 294.5h.7M278.5 301h.7M223.2 260.8h.7M280.2 308.5h.7M280.8 302.6h.7M268 283.6h.7M259.9 303.2h.7M269.4 300h.7M273.6 278.4h.7M255.5 287.7h.7M244.7 326.3h.7M248 280.3h.7M232.5 293.6h.7M237 283.5h.7M265.3 306.6h.7M213.2 286.8h.7M272.7 324.6h.7M230.3 269.2h.7M251.6 279.9h.7M268.3 305.7h.7M264 310.9h.7M223.4 291h.7" stroke="#6a6a6a" stroke-width="0.55" fill="none"/>
<path d="M235.8 329.8 234.8 329.8 233.8 329.8 232.8 329.8 231.8 329.8 230.8 329.8 229.8 329.8 228.8 329.8 227.8 329.8 226.8 329.8 225.8 329.8 224.8 329.8 223.8 329.8 222.8 329.8 221.8 329.8 220.8 329.8 219.8 329.8 218.8 329.8 217.8 329.8 216.8 329.8 215.8 329.8 214.8 329.8 213.8 329.8 212.8 329.8 211.8 329.8 210.8 329.8 209.8 329.8 209.8 329.3 209.8 328.3 209.8 327.3 209.8 326.3 209.8 325.3 209.8 324.3 209.8 323.3 209.8 322.3 209.8 321.3 209.8 320.3 209.8 319.3 209.8 318.3 209.8 317.3 209.8 316.3 209.8 315.3 209.8 314.3 209.8 313.3 209.8 312.3 209.8 311.3 209.8 310.3 209.8 309.3 209.8 308.3 209.8 307.3 209.8 306.3 209.8 305.3 209.8 304.4 210.3 304.1 210.9 303.8 211.8 303.4 212.3 303.1 213.1 302.8 213.8 302.5 214.4 302.3 215.3 302 215.9 301.8 216.8 301.5 217.8 301.3 218.3 301.2 219.3 300.9 219.9 300.8 220.8 300.6 221.8 300.3 222.3 300.2 223.3 299.8 223.8 299.6 224.4 299.3 225.3 298.8 225.8 298.5 226.3 298.2 227 297.8 227.8 297.3 228.3 297 228.8 296.7 229.6 296.3 230.3 295.9 230.8 295.7 231.8 295.3 232.3 295.1 233.3 294.8 233.8 294.7 234.8 294.5 235.8 294.5 236.8 294.7 237.3 294.8 238.3 295.3 238.8 295.6 239.3 296.1 239.8 296.6 240.3 297.3 240.6 297.8 240.8 298.4 241 299.3 241.1 300.3 241 301.3 240.9 302.3 240.8 302.8 240.6 303.8 240.4 304.8 240.3 305.4 240.2 306.3 240.1 307.3 240.1 308.3 240.1 309.3 240 310.3 240 311.3 240 312.3 239.9 313.3 239.9 314.3 239.8 315.1 239.7 315.8 239.6 316.8 239.5 317.8 239.3 318.8 239.2 319.3 239.1 320.3 238.9 321.3 238.7 321.8 238.5 322.8 238.3 323.8 238.2 324.3 237.9 325.3 237.8 325.8 237.5 326.8 237.3 327.3 236.9 328.3 236.6 328.8 236.3 329.4 235.8 329.8Z" fill="#909090" stroke="#fff" stroke-width="1.8"/>
<path d="M234.8 329.8 233.8 329.8 232.8 329.8 231.8 329.8 230.8 329.8 229.8 329.8 228.8 329.8 227.8 329.8 226.8 329.8 225.8 329.8 224.8 329.8 223.8 329.8 222.8 329.8 221.8 329.8 220.8 329.8 219.8 329.8 218.8 329.8 217.8 329.8 216.8 329.8 215.8 329.8 214.8 329.8 213.8 329.8 212.8 329.8 211.8 329.8 210.8 329.8 209.8 329.8 209.8 329.3 209.8 328.3 209.8 327.3 209.8 326.3 209.8 325.3 209.8 324.3 209.8 323.3 209.8 322.3 209.8 321.3 209.8 320.3 209.8 319.3 209.8 318.3 209.8 317.3 209.8 316.3 209.8 315.3 209.8 314.3 209.8 313.3 209.8 312.3 209.8 311.3 209.8 310.3 209.8 309.3 209.8 308.3 209.8 307.3 209.8 306.3 209.8 305.3 210.3 305 210.8 304.7 211.5 304.3 212.3 303.9 212.8 303.7 213.7 303.3 214.3 303.1 215 302.8 215.8 302.5 216.6 302.3 217.3 302.1 218.3 301.8 218.8 301.7 219.8 301.5 220.6 301.3 221.3 301.1 222.3 300.8 222.8 300.7 223.8 300.3 224.3 300 224.8 299.8 225.6 299.3 226.3 298.9 226.8 298.5 227.3 298.2 227.9 297.8 228.8 297.3 229.3 297 229.8 296.7 230.6 296.3 231.3 296 231.8 295.8 232.8 295.5 233.5 295.3 234.3 295.1 235.3 295.1 236.3 295.2 236.8 295.3 237.8 295.7 238.3 296 238.8 296.4 239.3 297 239.8 297.7 240.1 298.3 240.3 299 240.5 299.8 240.5 300.8 240.4 301.8 240.3 302.3 240.1 303.3 239.9 304.3 239.8 305.1 239.7 305.8 239.6 306.8 239.6 307.8 239.6 308.8 239.6 309.8 239.6 310.8 239.5 311.8 239.5 312.8 239.5 313.8 239.4 314.8 239.3 315.5 239.2 316.3 239.1 317.3 238.9 318.3 238.8 319.1 238.7 319.8 238.5 320.8 238.3 321.5 238.1 322.3 237.9 323.3 237.7 323.8 237.5 324.8 237.3 325.4 237 326.3 236.8 327 236.5 327.8 236.2 328.3 235.8 329 235.3 329.7 234.8 329.8Z" fill="#a6a6a6" stroke="#555" stroke-width="0.6"/>
<path d="M233.8 329.8 232.8 329.8 231.8 329.8 230.8 329.8 229.8 329.8 228.8 329.8 227.8 329.8 226.8 329.8 225.8 329.8 224.8 329.8 223.8 329.8 222.8 329.8 221.8 329.8 220.8 329.8 219.8 329.8 218.8 329.8 217.8 329.8 216.8 329.8 215.8 329.8 214.8 329.8 213.8 329.8 212.8 329.8 211.8 329.8 210.8 329.8 209.8 329.8 209.8 329.3 209.8 328.3 209.8 327.3 209.8 326.3 209.8 325.3 209.8 324.3 209.8 323.3 209.8 322.3 209.8 321.3 209.8 320.3 209.8 319.3 209.8 318.3 209.8 317.3 209.8 316.3 209.8 315.3 209.8 314.3 209.8 313.3 209.8 312.3 209.8 311.3 209.8 310.3 209.8 309.3 209.8 308.3 209.8 307.3 209.8 306.3 210.3 306 210.8 305.7 211.4 305.3 212.3 304.8 212.8 304.6 213.3 304.3 214.3 303.9 214.8 303.7 215.8 303.3 216.3 303.2 217.3 302.9 217.8 302.7 218.8 302.5 219.6 302.3 220.3 302.1 221.3 301.9 221.8 301.8 222.8 301.5 223.3 301.3 224.3 300.9 224.8 300.6 225.4 300.3 226.1 299.8 226.8 299.3 227.3 299 227.8 298.6 228.3 298.3 229 297.8 229.8 297.3 230.3 297.1 230.9 296.8 231.8 296.4 232.3 296.2 233.3 295.9 234 295.8 234.8 295.7 235.8 295.8 236.3 295.9 237.3 296.2 237.8 296.5 238.3 296.9 238.8 297.5 239.3 298.3 239.5 298.8 239.8 299.8 239.8 300.8 239.7 301.8 239.6 302.8 239.4 303.8 239.3 304.3 239.2 305.3 239.1 306.3 239 307.3 239 308.3 239 309.3 239 310.3 239 311.3 239 312.3 239 313.3 238.9 314.3 238.8 315.3 238.8 315.8 238.6 316.8 238.5 317.8 238.3 318.8 238.2 319.3 238 320.3 237.8 321.2 237.7 321.8 237.4 322.8 237.3 323.3 237 324.3 236.8 324.9 236.5 325.8 236.3 326.4 235.9 327.3 235.7 327.8 235.3 328.5 234.8 329.2 234.3 329.8 233.8 329.8Z" fill="#bcbcbc" stroke="#3a3a3a" stroke-width="0.6"/>
<path d="M232.3 329.8 231.3 329.8 230.3 329.8 229.3 329.8 228.3 329.8 227.3 329.8 226.3 329.8 225.3 329.8 224.3 329.8 223.3 329.8 222.3 329.8 221.3 329.8 220.3 329.8 219.3 329.8 218.3 329.8 217.3 329.8 216.3 329.8 215.3 329.8 214.3 329.8 213.3 329.8 212.3 329.8 211.3 329.8 210.3 329.8 209.8 329.8 209.8 328.8 209.8 327.8 209.8 326.8 209.8 325.8 209.8 324.8 209.8 323.8 209.8 322.8 209.8 321.8 209.8 320.8 209.8 319.8 209.8 318.8 209.8 317.8 209.8 316.8 209.8 315.8 209.8 314.8 209.8 313.8 209.8 312.8 209.8 311.8 209.8 310.8 209.8 309.8 209.8 308.8 209.8 307.9 210.3 307.4 210.8 307 211.3 306.7 211.9 306.3 212.7 305.8 213.3 305.5 213.8 305.2 214.8 304.8 215.3 304.6 216.1 304.3 216.8 304.1 217.7 303.8 218.3 303.6 219.3 303.4 219.8 303.3 220.8 303.1 221.8 302.8 222.3 302.7 223.3 302.4 223.8 302.3 224.8 301.8 225.3 301.5 225.8 301.2 226.4 300.8 227 300.3 227.6 299.8 228.2 299.3 228.8 298.9 229.3 298.5 229.8 298.2 230.4 297.8 231.3 297.4 231.8 297.1 232.8 296.8 233.3 296.7 234.3 296.5 235.3 296.5 236.3 296.8 236.8 297 237.3 297.3 237.9 297.8 238.3 298.3 238.7 299.3 238.9 299.8 238.9 300.8 238.9 301.8 238.8 302.4 238.7 303.3 238.5 304.3 238.4 305.3 238.3 306.3 238.3 306.8 238.3 307.8 238.3 308.3 238.3 309.3 238.3 310.3 238.4 311.3 238.3 312.3 238.3 313.3 238.3 313.8 238.2 314.8 238.1 315.8 238 316.8 237.8 317.8 237.7 318.3 237.5 319.3 237.3 320.3 237.2 320.8 236.9 321.8 236.8 322.3 236.5 323.3 236.3 323.8 236 324.8 235.8 325.3 235.4 326.3 235.2 326.8 234.8 327.5 234.3 328.2 233.8 328.8 233.3 329.3 232.8 329.7 232.3 329.8Z" fill="#d0d0d0" stroke="#3a3a3a" stroke-width="0.6"/>
<path d="M227.8 329.8 226.8 329.8 225.8 329.8 224.8 329.8 223.8 329.8 222.8 329.8 221.8 329.8 220.8 329.8 219.8 329.8 218.8 329.8 217.8 329.8 216.8 329.8 215.8 329.8 214.8 329.8 213.8 329.8 212.8 329.8 211.8 329.8 210.8 329.8 209.8 329.8 209.8 329.3 209.8 328.3 209.8 327.3 209.8 326.3 209.8 325.3 209.8 324.3 209.8 323.3 209.8 322.3 209.8 321.3 209.8 320.3 209.8 319.3 209.8 318.3 209.8 317.3 209.8 316.3 209.8 315.3 209.8 314.3 209.8 313.3 209.8 312.3 209.8 311.3 210 310.8 210.3 310.3 210.8 309.6 211.3 309.1 211.8 308.6 212.3 308.1 212.8 307.7 213.4 307.3 214.3 306.8 214.8 306.5 215.3 306.3 216.3 305.9 216.8 305.7 217.8 305.4 218.3 305.2 219.3 305 220.3 304.8 220.8 304.7 221.8 304.6 222.8 304.5 223.8 304.3 224.3 304.3 225.3 304 225.8 303.8 226.4 303.3 226.9 302.8 227.3 302.3 227.8 301.7 228.3 301.1 228.8 300.5 229.3 300 229.8 299.6 230.3 299.2 230.9 298.8 231.8 298.3 232.3 298.1 233.3 297.8 233.8 297.7 234.8 297.7 235.3 297.8 236.3 298.2 236.8 298.6 237.3 299.3 237.5 299.8 237.7 300.8 237.7 301.8 237.5 302.8 237.4 303.8 237.3 304.3 237.2 305.3 237.1 306.3 237.1 307.3 237.2 308.3 237.3 309.3 237.3 309.8 237.4 310.8 237.4 311.8 237.4 312.8 237.3 313.8 237.3 314.4 237.2 315.3 237.1 316.3 236.9 317.3 236.8 318 236.6 318.8 236.4 319.8 236.2 320.3 235.9 321.3 235.8 321.8 235.4 322.8 235.2 323.3 234.8 324.3 234.6 324.8 234.3 325.5 233.8 326.3 233.5 326.8 233.1 327.3 232.6 327.8 232 328.3 231.3 328.7 230.8 329 229.8 329.3 229.3 329.5 228.3 329.8 227.8 329.8Z" fill="#dcdcdc" stroke="#3a3a3a" stroke-width="0.6"/>
<path d="M228.2 311.3 228.6 310.8 228.8 310.3 229.1 309.3 229.1 308.3 228.8 307.7 228.3 307.3 227.5 307.3 226.8 307.8 226.5 308.3 226.3 308.8 226.1 309.8 226.3 310.8 226.6 311.3 227.3 311.7 228.2 311.3Z" fill="#dcdcdc" stroke="#3a3a3a" stroke-width="0.6"/>
<path d="M231.8 323.8 230.8 324.2 229.8 324.2 229.4 323.3 229.3 322.4 229.2 321.8 229.1 320.8 229 319.8 229 318.8 229.2 317.8 229.3 317.2 229.5 316.3 229.8 315.5 230 314.8 230.3 314.1 230.6 313.3 230.8 312.8 231.2 311.8 231.4 311.3 231.8 310.4 232.1 309.8 232.3 309.2 232.7 308.3 233 307.8 233.3 306.9 233.5 306.3 233.3 305.8 232.8 305.2 232.3 304.6 231.8 304 231.3 303.3 231.1 302.8 231.1 301.8 231.3 301.3 231.8 300.6 232.3 300.2 233.3 299.8 233.8 299.8 234.3 299.8 235.1 300.3 235.4 300.8 235.5 301.8 235.4 302.8 235.2 303.3 234.8 304.3 234.6 304.8 234.3 305.6 234.1 306.3 234.3 306.8 234.8 307.8 235 308.3 235.3 309.1 235.5 309.8 235.7 310.8 235.8 311.5 235.9 312.3 235.9 313.3 235.9 314.3 235.8 315.3 235.7 315.8 235.6 316.8 235.4 317.8 235.2 318.3 234.9 319.3 234.7 319.8 234.3 320.8 234 321.3 233.7 321.8 233.3 322.4 232.8 323 232.3 323.5 231.8 323.8Z" fill="#d6d6d6" stroke="#3a3a3a" stroke-width="0.6"/>
<path d="M222.3 329.8 221.3 329.8 220.3 329.8 219.3 329.8 218.3 329.8 217.3 329.8 216.3 329.8 215.3 329.8 214.3 329.8 213.3 329.8 212.3 329.8 211.3 329.8 210.8 329.8 210.3 329.3 209.8 328.8 209.8 327.8 209.8 326.8 209.8 325.8 209.8 324.8 209.8 323.8 209.8 322.8 209.8 321.8 209.8 320.8 209.8 319.8 209.8 318.8 209.8 317.8 209.8 316.8 210.1 316.3 210.3 315.8 210.8 315 211.3 314.3 211.7 313.8 212.1 313.3 212.5 312.8 212.9 312.3 213.4 311.8 213.9 311.3 214.5 310.8 215.1 310.3 215.8 309.8 216.3 309.6 217 309.3 217.8 309.1 218.8 309.1 219.5 309.3 220.1 309.8 220.4 310.3 220.8 310.9 221.3 311.7 221.7 312.3 222.1 312.8 222.5 313.3 222.9 313.8 223.3 314.3 223.8 314.9 224.3 315.7 224.7 316.3 225 316.8 225.3 317.4 225.7 318.3 225.8 318.8 226.1 319.8 226.3 320.7 226.5 321.3 226.8 322 227.3 322.8 227.8 323.3 228.3 323.7 228.8 324 229.2 324.8 228.8 325.7 228.5 326.3 228.1 326.8 227.6 327.3 227 327.8 226.3 328.3 225.8 328.6 225.3 328.8 224.3 329.3 223.8 329.5 222.8 329.8 222.3 329.8Z" fill="#d6d6d6" stroke="#3a3a3a" stroke-width="0.6"/>
<path d="M217.8 329.4 216.8 329.5 215.8 329.6 214.8 329.6 213.8 329.5 213.2 329.3 212.3 328.9 211.8 328.6 211.3 328.1 210.8 327.5 210.4 326.8 210.2 326.3 210 325.3 209.9 324.3 209.9 323.3 210.1 322.3 210.2 321.3 210.4 320.8 210.7 319.8 210.9 319.3 211.3 318.5 211.7 317.8 212.1 317.3 212.6 316.8 213.2 316.3 213.8 315.9 214.3 315.7 215.3 315.3 215.8 315.2 216.8 315.2 217.4 315.3 218.3 315.6 218.8 315.8 219.6 316.3 220.1 316.8 220.6 317.3 220.9 317.8 221.3 318.7 221.5 319.3 221.8 320.3 221.9 320.8 222.2 321.8 222.4 322.3 222.8 323.1 223.2 323.8 223.5 324.3 223.8 325 224 325.8 223.8 326.8 223.4 327.3 222.8 327.8 222.3 328.1 221.8 328.3 220.8 328.7 220.3 328.8 219.3 329.1 218.3 329.3 217.8 329.4Z" fill="#cecece" stroke="#3a3a3a" stroke-width="0.6"/>
<path d="M217.8 327.9 216.8 328.1 215.8 328.2 214.8 328.2 213.8 328 213.3 327.8 212.7 327.3 212.2 326.8 211.8 326.1 211.6 325.3 211.5 324.3 211.6 323.3 211.7 322.3 211.9 321.8 212.3 320.8 212.6 320.3 213 319.8 213.6 319.3 214.3 318.9 214.8 318.7 215.8 318.7 216.3 318.9 217 319.3 217.5 319.8 217.8 320.3 218.3 321.2 218.6 321.8 218.8 322.3 219.3 323.1 219.7 323.8 220 324.3 220.3 324.9 220.5 325.8 220.3 326.4 219.8 327 219.3 327.3 218.3 327.7 217.8 327.9Z" fill="#c4c4c4" stroke="#3a3a3a" stroke-width="0.6"/>
</g>
<path d="M210.8 296.9V328.8H235.7" fill="none" stroke="#111" stroke-width="2.0"/>
<rect x="209.8" y="258.3" width="72" height="71.5" fill="none" stroke="#555" stroke-width="0.9"/>
<rect x="243.5" y="271" width="30.8" height="20.8" fill="none" stroke="#666" stroke-width="0.7"/>
<text x="273.6" y="268.8" font-size="7.8" text-anchor="end" fill="#111">0.2</text>
<clipPath id="cp6"><rect x="286.7" y="258.3" width="72" height="71.5"/></clipPath>
<g clip-path="url(#cp6)">
<path d="M318.2 329.8 316.7 329.8 315.2 329.8 313.7 329.8 312.2 329.8 310.7 329.8 309.2 329.8 307.7 329.8 306.2 329.8 304.7 329.8 303.2 329.8 301.7 329.8 300.2 329.8 298.7 329.8 297.2 329.8 295.7 329.8 294.2 329.8 292.7 329.8 291.2 329.8 289.7 329.8 288.2 329.8 286.7 329.8 286.7 328.8 286.7 327.3 286.7 325.8 286.7 324.3 286.7 322.8 286.7 321.3 286.7 319.8 286.7 318.3 286.7 316.8 286.7 315.3 286.7 313.8 286.7 312.3 286.7 310.8 286.7 309.3 286.7 307.8 286.7 306.3 286.7 304.8 286.7 303.3 286.7 301.8 286.7 300.3 286.7 298.8 287.2 298 288.2 297.6 289.2 297.3 290.7 296.9 291.7 296.6 293.2 296.4 294.2 296.2 295.7 296.1 297.2 295.9 298.2 295.8 299.7 295.5 300.7 295.2 302 294.8 303.2 294.3 304.2 293.9 305.2 293.4 306.2 292.9 307.2 292.4 308.2 291.8 308.9 291.3 309.7 290.8 310.7 290.2 311.7 289.7 313.2 289.3 314.7 289.6 315.7 290.1 316.7 290.8 317.3 291.3 318.2 292.1 318.9 292.8 319.7 293.6 320.5 294.3 321.2 295.1 321.9 295.8 322.6 296.8 323.2 297.8 323.6 298.8 323.8 299.8 323.7 301 323.4 302.3 322.9 303.3 322.4 304.3 321.9 305.3 321.5 306.3 321.1 307.3 320.8 308.8 320.7 309.8 320.6 311.3 320.6 312.8 320.5 314.3 320.5 315.8 320.4 317.3 320.3 318.8 320.2 319.8 320.1 321.3 319.9 322.8 319.7 324.3 319.6 325.3 319.5 326.8 319.2 328 318.8 329.3 318.2 329.8Z" fill="#f0f0f0" filter="url(#hz)"/>
<path d="M316.7 329.8 315.2 329.8 313.7 329.8 312.2 329.8 310.7 329.8 309.2 329.8 307.7 329.8 306.2 329.8 304.7 329.8 303.2 329.8 301.7 329.8 300.2 329.8 298.7 329.8 297.2 329.8 295.7 329.8 294.2 329.8 292.7 329.8 291.2 329.8 289.7 329.8 288.2 329.8 286.7 329.8 286.7 328.8 286.7 327.3 286.7 325.8 286.7 324.3 286.7 322.8 286.7 321.3 286.7 319.8 286.7 318.3 286.7 316.8 286.7 315.3 286.7 313.8 286.7 312.3 286.7 310.8 286.7 309.3 286.7 307.8 286.7 306.3 286.7 304.8 286.7 303.3 286.7 301.8 286.7 300.6 287.7 300.2 288.7 299.8 290.2 299.3 291.2 299 292.2 298.8 293.7 298.4 294.7 298.2 296.2 298 297.2 297.8 298.7 297.5 299.7 297.2 300.8 296.8 302 296.3 303.1 295.8 304.2 295.3 305.2 294.8 306.2 294.3 307.2 293.8 308.2 293.3 309.2 292.8 310.2 292.4 311.2 292 312.2 291.8 313.7 291.8 314.7 292 315.7 292.4 316.7 293 317.7 293.8 318.2 294.3 319.2 295.3 319.7 295.9 320.4 296.8 320.9 297.8 321.2 298.8 321.4 300.3 321.3 301.8 321 302.8 320.7 303.8 320.2 305.1 319.9 306.3 319.7 307.3 319.5 308.8 319.4 310.3 319.3 311.8 319.2 313.3 319.2 314.3 319.1 315.8 319 317.3 318.8 318.8 318.7 319.8 318.5 321.3 318.3 322.8 318.1 323.8 317.9 325.3 317.7 326.5 317.4 327.8 317.1 328.8 316.7 329.8Z" fill="#e4e4e4" filter="url(#hz)"/>
<path d="M315.2 329.8 313.7 329.8 312.2 329.8 310.7 329.8 309.2 329.8 307.7 329.8 306.2 329.8 304.7 329.8 303.2 329.8 301.7 329.8 300.2 329.8 298.7 329.8 297.2 329.8 295.7 329.8 294.2 329.8 292.7 329.8 291.2 329.8 289.7 329.8 288.2 329.8 286.7 329.8 286.7 328.8 286.7 327.3 286.7 325.8 286.7 324.3 286.7 322.8 286.7 321.3 286.7 319.8 286.7 318.3 286.7 316.8 286.7 315.3 286.7 313.8 286.7 312.3 286.7 310.8 286.7 309.3 286.7 307.8 286.7 306.3 286.7 304.8 286.7 303.3 287.1 302.3 288.2 301.8 289.2 301.4 290.2 301 291.2 300.7 292.7 300.3 293.7 300 294.9 299.8 296.2 299.5 297.2 299.3 298.7 298.9 299.7 298.6 300.7 298.2 301.7 297.8 302.7 297.3 303.7 296.7 304.7 296.2 305.7 295.7 306.7 295.2 307.7 294.7 308.7 294.3 310 293.8 311.2 293.5 312.3 293.3 313.2 293.3 314.7 293.6 315.7 294.1 316.7 294.7 317.4 295.3 318.2 296.2 318.7 296.8 319.2 297.8 319.7 299.2 319.8 300.3 319.7 301.8 319.5 302.8 319.2 304 318.9 305.3 318.7 306.3 318.5 307.8 318.4 309.3 318.3 310.8 318.2 312.3 318.2 313.3 318.1 314.8 318 316.3 317.8 317.8 317.7 318.8 317.5 320.3 317.2 321.8 317.1 322.8 316.8 324.3 316.6 325.3 316.3 326.8 316 327.8 315.7 328.8 315.2 329.8Z" fill="#d8d8d8" filter="url(#hz)"/>
<path d="M292.3 295.8h.7M298 301.2h.7M304.9 286.6h.7M330.6 324.6h.7M331.6 322.1h.7M321.8 319.4h.7M296.1 288.9h.7M332.4 308.5h.7M320.3 304.1h.7M326 320.8h.7M315.6 325.4h.7M317 324.4h.7M298 294.4h.7M315.3 326.7h.7M299.8 292.6h.7M323.4 310h.7M325.8 314.8h.7M327.4 325.5h.7M287.7 282h.7M319.9 327.7h.7M297.4 299.6h.7M317.2 323.6h.7M320.2 310.2h.7M300.8 287.1h.7M319.5 327.3h.7M320.4 326.2h.7M318.8 315.3h.7M301.8 297.6h.7M321.1 323.5h.7M321.4 323.1h.7M297.7 298.3h.7M320.3 317.3h.7M315.8 323.8h.7M287.2 302.6h.7M319.1 327.7h.7M319.6 328h.7M318.8 320.9h.7M319.2 308h.7M317.6 329.5h.7M288.7 303h.7M318.5 315.9h.7M314.9 327.6h.7M318.1 313.1h.7M296.8 287.4h.7M321.7 295.2h.7M303.2 298.7h.7M318.1 291.8h.7M321.4 305.9h.7M326.5 311h.7M308.4 289.6h.7M319.3 329.7h.7M321.7 315.3h.7M316.7 326h.7M317.5 313.4h.7M322.4 324.2h.7M304.9 295.1h.7M316.5 288.7h.7M321.3 321.4h.7M299.8 277.3h.7M310.5 276.5h.7M320.6 306.5h.7M328.3 290.6h.7M306.5 286.1h.7M306.1 282.9h.7M303.6 298.6h.7M317.1 326.2h.7M319.4 309.3h.7M322.4 296.4h.7M323.2 303.7h.7M318.5 290.3h.7M329.9 294h.7M314.5 288.7h.7M329.1 315.8h.7M314.4 289.8h.7M320.1 316.2h.7M305.9 291.8h.7M317 325.3h.7M319.6 305.8h.7M314.4 329.1h.7M327 326h.7M319.1 310.4h.7M318.2 314.2h.7M305.8 297.1h.7M314 292.6h.7M317.4 311.7h.7M319.9 312.7h.7M320.4 290.2h.7M312.4 292.7h.7M314.8 290.1h.7M317.8 327.5h.7M297.5 286h.7M313.2 292.1h.7M316.1 280h.7M302.2 296.4h.7M318.7 318.2h.7M318.5 322h.7M318.5 317.3h.7M306.3 295.3h.7M302.1 290.5h.7M311.9 293.5h.7M322.3 312.7h.7M323.3 305.2h.7M319.1 319.8h.7M296 298.8h.7M321.9 308h.7M317.5 317h.7M319.7 322h.7M300.7 297.2h.7M323.8 319.7h.7M330.4 306.4h.7M330.2 310.5h.7M315.2 292h.7M298.6 293h.7M316.7 320.9h.7M290.9 299.4h.7M298.4 298.2h.7M292.4 296.7h.7M320.3 312.4h.7M304.1 298.6h.7M322.5 312.5h.7M290.5 303h.7M319.8 314.6h.7M319.9 319.6h.7M321.6 306.3h.7M320.7 304h.7M336.1 309.5h.7M313.8 295.2h.7M297.6 296.7h.7M295.2 297.1h.7M338.6 316.7h.7M322.5 302h.7M331.4 309.2h.7M318.1 316h.7M323.7 300.1h.7M291.6 297.6h.7M318.8 312.9h.7M331.4 314.4h.7M318.4 303.8h.7M320.4 310.8h.7M302.9 294.1h.7M292.6 302.5h.7M292.7 299.1h.7M317.1 291.1h.7M290.1 300h.7M288.6 298h.7M299.6 300.6h.7M298.4 291.2h.7M315 328.6h.7M317 326.1h.7M322.2 326.9h.7M317.7 322.9h.7M314.3 329.7h.7M319.3 320h.7M319 324.8h.7M323.3 318.3h.7M321.3 317.5h.7M315.4 326.2h.7M306.4 284.1h.7M304 292.7h.7M320.6 296.8h.7M294.6 294.8h.7M303.8 296.6h.7M297 300.5h.7M300.2 300.7h.7M327 295.2h.7M306.3 288.8h.7M299.3 300.5h.7M295.6 300.1h.7M324.1 311.3h.7M323 306.1h.7M323.4 304.6h.7M299.8 292.6h.7M322.3 299.2h.7M300.5 300h.7M319.8 300.7h.7M314.6 295.5h.7M321 299.9h.7M321.1 296h.7M321.5 294.2h.7M325.7 293.9h.7M302.5 295.2h.7M298.9 292.7h.7M293 301.2h.7M301.4 296.8h.7M319 303h.7M323.7 302.9h.7M307.5 284.8h.7M297.4 299h.7M327.4 290.6h.7M301.7 299.7h.7M327.6 295.9h.7M299 297.8h.7M319 298.7h.7M318.2 293.9h.7M320.2 294.4h.7M318.7 301.1h.7M326.4 309.4h.7M325.3 287.9h.7M327.5 296.1h.7M321.7 306.3h.7M302.1 293.9h.7M315.4 292.7h.7M299.7 297.4h.7M299.7 295.5h.7M297.2 298.3h.7M320.1 294.6h.7M307.7 287.2h.7M327.2 296.9h.7M300.9 294h.7M333 312.6h.7M295.9 301.2h.7M305.5 295.1h.7M318.8 303.6h.7M315.7 293.9h.7M306.2 292h.7M319.7 302.8h.7M306.9 296.4h.7M334.6 305.3h.7M319.5 302.5h.7M295.6 294h.7M320.4 308h.7M312.8 291.3h.7M305.6 296.3h.7M319.3 287.3h.7M323.6 296.5h.7M296.2 294.7h.7M324.3 290.8h.7M323.2 300.4h.7M321.6 312.9h.7M315.2 327.3h.7M330.9 302.9h.7M324 322.8h.7M320.5 298.5h.7M322 315h.7M328 322.2h.7M327.2 297.6h.7M327.7 326.5h.7M320.7 290.7h.7M320.8 325.2h.7M318.5 328.6h.7M319.9 290.5h.7M319.9 282.9h.7M322.1 314.9h.7M319.7 293.9h.7M323.9 300.2h.7M329.1 318.2h.7M318.4 291.9h.7M318.3 302.4h.7M320.8 306.3h.7M324.7 321.1h.7M325.4 308.2h.7M315.8 296.2h.7M322.9 291.4h.7M323.8 307.2h.7M321.3 327.5h.7M322.7 304h.7M318.5 301.7h.7M319.8 324.9h.7M328.3 316.6h.7M319 292.2h.7M323 285.9h.7M326.8 311h.7M327.2 307.4h.7M318.5 308.4h.7M316 285.5h.7M319.2 305.2h.7M323.7 321.7h.7M326.1 304.6h.7M321.6 307.6h.7M319.3 310h.7M318 321.7h.7M319.6 301.2h.7M328.2 326.2h.7M331.5 298.1h.7M323.6 322.4h.7M329.6 310.3h.7M308.8 295.3h.7M320.8 303.9h.7M319.7 306.9h.7M316.5 321.8h.7M323.6 324.6h.7M333.2 288.4h.7M323.5 303.3h.7M327.7 321.9h.7M329.5 315.1h.7M329.2 315.2h.7M320.4 316.8h.7M327.9 324.5h.7M326 304.5h.7M316.8 282.7h.7M331.3 314.9h.7M311.5 289.5h.7M319.6 309.7h.7M318.9 308.3h.7M319.6 284.8h.7M320.5 308.4h.7M325.7 299.5h.7M326.4 320.3h.7M325.9 316.5h.7M323.2 294.8h.7M317.7 315h.7M328.2 303.1h.7M322 300.7h.7M324.9 313.2h.7M320.5 302.5h.7M317.8 292.8h.7M323.2 304h.7M326 304h.7M323 304.7h.7M321.1 301.6h.7M328.4 305.4h.7M323.3 310.9h.7M324.5 306.5h.7M319 318.2h.7M321.2 301.9h.7M321.1 319.1h.7M322.8 300.6h.7M331.5 305.8h.7M329.5 296.2h.7M329.9 302.1h.7M322.8 300.1h.7M318 318.7h.7M335.5 288.4h.7M320.2 289h.7M321.2 319.2h.7M319.7 295.3h.7M321.2 305.4h.7M311 278.1h.7M322 296.5h.7M325.6 306.2h.7M322 322.3h.7M320.4 301.9h.7M325.2 326.2h.7M320 306.5h.7M324.4 291.6h.7M321.4 296.1h.7M319.9 313.4h.7M316.9 294.1h.7M324.5 328.7h.7M325.3 296.3h.7M318.3 305.5h.7M319.1 321.4h.7M315.8 325.2h.7M325.1 303.3h.7M322.9 316.8h.7M319.3 315.4h.7M320.8 329.5h.7M320.4 284.4h.7M330.4 321.5h.7M326.2 315.4h.7M317.8 306.1h.7M324.8 300h.7M314.8 328.4h.7M322.3 309.8h.7M322.5 300.5h.7M321.8 309.1h.7M325.1 308h.7M331.5 302.4h.7M326.2 306h.7M330.4 312.9h.7M321.1 323.7h.7M322.6 311.1h.7M321.4 323.2h.7M322.8 326.6h.7M318.9 316h.7M322.5 295.8h.7M331.7 311.3h.7M318.7 311.4h.7M319.1 307.2h.7M316.5 294.7h.7M322.5 309.5h.7M319.2 321.1h.7M318.9 309.4h.7M316.7 327.6h.7M317.6 319.5h.7M317.9 313.3h.7M318.9 304.7h.7M323.3 315.5h.7M323.1 299.4h.7M315.2 329.7h.7M334.3 302.2h.7M318.1 308.4h.7M333.3 304.4h.7M321.5 301h.7M321.9 315.4h.7M325.9 297.9h.7M322.7 297.6h.7M318.9 306.8h.7M317.4 316.1h.7M325.6 320.6h.7M331.4 315.3h.7M326.1 319.7h.7M317.6 307.4h.7M331.6 290.9h.7M332.5 319h.7M327.3 296.4h.7M324.1 295.9h.7M322.4 294.8h.7M322.3 307.5h.7M317.4 307.2h.7M319.6 327.6h.7M319.2 306.9h.7M326.6 314.5h.7M322.5 294h.7M323.4 301.2h.7M320.4 316.4h.7M324.7 301.2h.7M311.4 279.8h.7M324.1 297.6h.7M321 284.1h.7M327.4 309.6h.7M328.6 309.9h.7M321 302.1h.7M319.8 314.6h.7M325.7 316h.7M332.5 299.2h.7M318.3 312.1h.7M323.7 306h.7M324.4 307.7h.7M318.4 306.3h.7M325.1 289.3h.7M328.6 314.1h.7M327.8 316.3h.7M318.8 323.4h.7M318.1 304h.7M317.4 297h.7M320 316h.7M324.2 305h.7M319.6 287.7h.7M327.7 282.8h.7M320.4 303.8h.7M319.6 316.7h.7M320.2 289.4h.7M324.3 310.4h.7M316.2 287.8h.7M287 297.3h.7M316 289h.7M308.3 284.5h.7M294.5 296.6h.7M301.1 294.6h.7M320.2 288.3h.7M320 283.4h.7M305 292.6h.7M314.7 292.8h.7M290.3 297.2h.7M303.3 291.3h.7M288.6 298.9h.7M293 291.6h.7M293.6 295h.7M289.8 297.2h.7M315 291h.7M290.1 293.1h.7M308 291.8h.7M292 292.7h.7M311.9 295h.7M294.5 289.9h.7M292.7 291.6h.7M307.5 292.9h.7M306.8 289.5h.7M306.5 291h.7M313.2 293.5h.7M311.3 295h.7M315.3 291.6h.7M306.5 294.2h.7M287.6 287.2h.7M299.9 290.8h.7M298.9 294h.7M304 288.8h.7M313.2 287.5h.7M307.9 290.3h.7M312.2 286.1h.7M290.6 296.4h.7M317.5 284.6h.7M298.4 295.5h.7M306.3 296.4h.7M318.7 293.6h.7M313.8 282.8h.7M309.6 294.6h.7M319 292.7h.7M304.2 288h.7M302.1 296.5h.7M306.6 295.9h.7M306.3 291.6h.7M300.7 293.9h.7M314 289.4h.7M301.3 292.4h.7M313.9 288.8h.7M302.4 296h.7M300.7 288h.7M320.2 293.1h.7M298.8 288.1h.7M294.8 290.3h.7M301.5 292.7h.7M299.8 283.7h.7M297.6 288.8h.7M298.3 292.3h.7M307.7 289.5h.7M312.7 290.4h.7M314.2 288.3h.7M304.2 281.8h.7M306.4 293.5h.7M306.1 294.7h.7M311.8 287.1h.7M311.8 287.4h.7M295.5 292.4h.7M317.1 290.9h.7M301.3 293.2h.7M311 293.5h.7M311.1 292.1h.7M313.5 288.6h.7M310.7 290.8h.7M318.8 283.3h.7M304.6 289.1h.7M317.5 293.7h.7M303.8 296.1h.7M296.4 291.7h.7M315.2 285h.7M318.6 293.9h.7M290.3 297.3h.7M318.5 290.7h.7M298.3 297.8h.7M295.6 293.8h.7M290.4 291h.7M316.1 291.7h.7M303.2 291.2h.7M298.6 290.5h.7M297.3 289.4h.7M318.5 293.2h.7M295 293.7h.7M311.2 294.1h.7M306.3 292.2h.7M302.5 287.7h.7M292.2 298.7h.7M297.6 288.7h.7M307.2 279.7h.7M301.8 289.6h.7M316.1 290.2h.7M294.6 296.8h.7M296.6 295.4h.7M300.3 282.1h.7M300.4 293.2h.7M317.3 288.6h.7M293.9 296.6h.7M290.9 296.2h.7M305.9 290.5h.7M292.9 298.7h.7M313.8 292.5h.7M310.1 293.9h.7M295.8 288.5h.7M312.3 291.3h.7M319.4 290.7h.7M289.3 297.8h.7M307.6 294.8h.7M290.5 297.7h.7M313.9 287.4h.7M301.8 283.6h.7M305.1 289.9h.7M297.9 296.8h.7M308.3 292.7h.7M288.4 298.6h.7M289.4 294.8h.7M300.9 282.5h.7M302.8 292.2h.7M287.9 298.9h.7M299.9 285.1h.7M287.5 298.6h.7M319.9 280.3h.7M301.2 297h.7M312.5 280.9h.7M291.9 283.9h.7M295.7 296.2h.7M310.4 293.8h.7M299.8 292.6h.7M304.9 286.4h.7M316.1 281.8h.7M305.4 293.8h.7M317.5 288.6h.7M296.9 287.5h.7M308.6 283.9h.7M291.8 298.2h.7M291.2 298.5h.7M300.8 293.6h.7M310.7 291.8h.7M303.8 295.4h.7M291.3 292.7h.7M307.8 295.3h.7M319.9 288.4h.7M318.2 288.2h.7M291.2 297.8h.7M297.6 291.9h.7M297.7 293.7h.7M299.8 284.4h.7M310.5 294.8h.7M315.9 290.3h.7M291.9 296.4h.7M311.2 294.8h.7M319.3 293.6h.7M318.8 290.9h.7M305.2 290.9h.7M292.8 291.3h.7M311.1 289.3h.7M314.8 292.4h.7M292.5 295.3h.7M296 285.2h.7M316.6 286.5h.7M307.8 294.4h.7M289.7 291.9h.7M318.5 286.6h.7M302.8 291.2h.7M309.6 294.2h.7M309.3 290.1h.7M293.1 297.3h.7M301.2 290.5h.7M299.4 295.5h.7M306.9 277.1h.7M314.8 284.9h.7M307.6 287.8h.7M304.1 286h.7M295.3 297.1h.7M306.2 291.5h.7M320.5 290.5h.7M287 295h.7M306.7 293.3h.7M298.1 294.1h.7M291.7 290.6h.7M298.9 285.7h.7M287.8 290.8h.7M287.1 297.2h.7M306.9 287.6h.7M299 290.5h.7M305.1 288h.7M317.6 290.4h.7M300.5 293.6h.7M300.4 294.3h.7M320.6 273.8h.7M304.3 291.4h.7M286.9 295.2h.7M287.3 286h.7M300.6 295.1h.7M294.9 294.3h.7M297.5 293.3h.7M306.3 286.8h.7M309.5 292.5h.7M295.7 283.5h.7M306.4 295.8h.7M314.4 281.5h.7M299.2 290.2h.7M319.9 285.1h.7M302.5 291.9h.7M288 298.9h.7M308.5 295.6h.7M288.8 294.9h.7M296 297.4h.7M305.4 285.9h.7M300.1 294.8h.7M301.5 290h.7M313.4 289.4h.7M305.2 291.6h.7M317.2 288.5h.7M302.4 292.9h.7M298.3 287.6h.7M293.8 298.5h.7M301.1 292.4h.7M298.2 292.2h.7M300.4 293.6h.7M293.3 284.3h.7M312.7 294.3h.7M302.3 292.2h.7M296.1 296.1h.7M296.2 297.5h.7M313.8 283.9h.7M289.6 296.6h.7M299.7 293.3h.7M302.2 293.5h.7M310.8 293.8h.7M317.2 291.1h.7M290.3 280.3h.7M305.7 290.1h.7M318.8 290.2h.7M286.9 293.3h.7M288.5 297.8h.7M295.8 297h.7M310.6 284.5h.7M319.7 282.6h.7M306.1 291.4h.7M307.2 289.4h.7M308.3 290.4h.7M306.5 293.2h.7M287.2 297.8h.7M318.7 285.4h.7M290.6 294.2h.7M289.1 294.6h.7M311.4 287.1h.7M308.8 295.5h.7M308.3 295.2h.7M295.8 292h.7M308.7 289.3h.7M290.4 299.6h.7M300.3 289h.7M311 286.4h.7M287.1 295.4h.7M297.8 289.4h.7M297.9 296.5h.7M298.6 287.9h.7M319.4 293.1h.7M287.1 297.8h.7M296.1 298.4h.7M320.5 285.2h.7M297.2 292.7h.7M304.5 294.4h.7M311 293.2h.7M316.2 294h.7M313.4 292.7h.7M299.4 294.2h.7M310.7 287.2h.7M297.6 296.2h.7M311 292.9h.7M317.1 288h.7M313.2 287.4h.7M311.4 293.9h.7M310.9 287.3h.7M312.8 286.1h.7M317.6 293.4h.7M296.3 284.5h.7M294.5 287.9h.7M320 291.8h.7M296 297.8h.7M298.6 294.8h.7M297.3 297.5h.7M314.1 292.2h.7M310.4 293.5h.7M287.1 297.6h.7M297.3 294.6h.7M293.2 290.4h.7M310.9 289h.7M298.8 293.1h.7M314 292.7h.7M312.4 293.2h.7M315.3 282.9h.7M294.1 298.3h.7M295 293.6h.7M292.7 292.7h.7M290.1 288h.7M320.2 283.4h.7M318.5 282.3h.7M314.8 288.1h.7M303.7 290.8h.7M305 295.9h.7M294.7 294.7h.7M287.8 293.7h.7M298.1 291.1h.7M304.1 288.4h.7M293.8 296.5h.7M315.3 287.4h.7M288.4 298.3h.7M293.5 285.4h.7M295 297.1h.7M317.3 289.5h.7M315.5 294.4h.7M292.7 287.5h.7M301.9 292.3h.7M296 298.4h.7M318.3 286.9h.7M312.6 291.8h.7M288.1 296.3h.7M298.8 296.8h.7M287.6 298.9h.7M305.1 295.8h.7M296.5 296.7h.7M320.3 288.2h.7M312.6 284.4h.7M299.5 289h.7M313.1 291.8h.7M316.5 283.8h.7M318.8 287.4h.7M298.6 289.6h.7M299.7 296.8h.7M305.6 284.8h.7M298 296h.7M291.3 294.8h.7M316.6 287.3h.7M305.4 285.4h.7M296.9 286.7h.7M287.3 289.2h.7M328.4 311.1h.7M347.1 270.8h.7M336.2 295.4h.7M344.7 328.8h.7M341.4 259.1h.7M343.6 329.7h.7M290.6 268.5h.7M331.1 295.3h.7M296.3 271.3h.7M349.1 318.4h.7M334 280.5h.7M331.4 292.8h.7M355.9 309.5h.7M290.4 267.1h.7M296 264.4h.7M341 301h.7M330.4 274.9h.7M299.6 271.1h.7M293.1 296h.7M331.7 323.5h.7M320.9 319.3h.7M319.5 306.5h.7" stroke="#6a6a6a" stroke-width="0.55" fill="none"/>
<path d="M313.2 329.8 312.2 329.8 311.2 329.8 310.2 329.8 309.2 329.8 308.2 329.8 307.2 329.8 306.2 329.8 305.2 329.8 304.2 329.8 303.2 329.8 302.2 329.8 301.2 329.8 300.2 329.8 299.2 329.8 298.2 329.8 297.2 329.8 296.2 329.8 295.2 329.8 294.2 329.8 293.2 329.8 292.2 329.8 291.2 329.8 290.2 329.8 289.2 329.8 288.2 329.8 287.2 329.8 286.7 329.8 286.7 328.8 286.7 327.8 286.7 326.8 286.7 325.8 286.7 324.8 286.7 323.8 286.7 322.8 286.7 321.8 286.7 320.8 286.7 319.8 286.7 318.8 286.7 317.8 286.7 316.8 286.7 315.8 286.7 314.8 286.7 313.8 286.7 312.8 286.7 311.8 286.7 310.8 286.7 309.8 286.7 308.8 286.7 307.8 286.7 306.8 286.7 305.8 286.7 304.9 287.2 304.6 287.8 304.3 288.7 303.9 289.2 303.6 290 303.3 290.7 303 291.3 302.8 292.2 302.5 292.8 302.3 293.7 302 294.7 301.8 295.2 301.7 296.2 301.4 296.8 301.3 297.7 301.1 298.7 300.8 299.2 300.7 300.2 300.3 300.7 300.1 301.3 299.8 302.2 299.3 302.7 299 303.2 298.7 303.9 298.3 304.7 297.8 305.2 297.5 305.7 297.2 306.5 296.8 307.2 296.4 307.7 296.2 308.7 295.8 309.2 295.6 310.2 295.3 310.7 295.2 311.7 295 312.7 295 313.7 295.2 314.2 295.3 315.2 295.8 315.7 296.1 316.2 296.6 316.7 297.1 317.2 297.8 317.5 298.3 317.7 298.9 317.9 299.8 318 300.8 317.9 301.8 317.8 302.8 317.7 303.3 317.5 304.3 317.3 305.3 317.2 305.9 317.1 306.8 317 307.8 317 308.8 317 309.8 316.9 310.8 316.9 311.8 316.9 312.8 316.8 313.8 316.8 314.8 316.7 315.6 316.6 316.3 316.5 317.3 316.4 318.3 316.2 319.3 316.1 319.8 316 320.8 315.8 321.8 315.6 322.3 315.4 323.3 315.2 324.3 315.1 324.8 314.8 325.8 314.7 326.3 314.4 327.3 314.2 327.8 313.8 328.8 313.5 329.3 313.2 329.8Z" fill="#909090" stroke="#fff" stroke-width="1.8"/>
<path d="M312.2 329.8 311.2 329.8 310.2 329.8 309.2 329.8 308.2 329.8 307.2 329.8 306.2 329.8 305.2 329.8 304.2 329.8 303.2 329.8 302.2 329.8 301.2 329.8 300.2 329.8 299.2 329.8 298.2 329.8 297.2 329.8 296.2 329.8 295.2 329.8 294.2 329.8 293.2 329.8 292.2 329.8 291.2 329.8 290.2 329.8 289.2 329.8 288.2 329.8 287.2 329.8 286.7 329.8 286.7 328.8 286.7 327.8 286.7 326.8 286.7 325.8 286.7 324.8 286.7 323.8 286.7 322.8 286.7 321.8 286.7 320.8 286.7 319.8 286.7 318.8 286.7 317.8 286.7 316.8 286.7 315.8 286.7 314.8 286.7 313.8 286.7 312.8 286.7 311.8 286.7 310.8 286.7 309.8 286.7 308.8 286.7 307.8 286.7 306.8 286.7 305.8 287.2 305.5 287.7 305.2 288.4 304.8 289.2 304.4 289.7 304.2 290.6 303.8 291.2 303.6 291.9 303.3 292.7 303 293.5 302.8 294.2 302.6 295.2 302.3 295.7 302.2 296.7 302 297.5 301.8 298.2 301.6 299.2 301.3 299.7 301.2 300.7 300.8 301.2 300.5 301.7 300.3 302.5 299.8 303.2 299.4 303.7 299 304.2 298.7 304.8 298.3 305.7 297.8 306.2 297.5 306.7 297.2 307.5 296.8 308.2 296.5 308.7 296.3 309.7 296 310.4 295.8 311.2 295.6 312.2 295.6 313.2 295.7 313.7 295.8 314.7 296.2 315.2 296.5 315.7 296.9 316.2 297.5 316.7 298.2 317 298.8 317.2 299.5 317.4 300.3 317.4 301.3 317.3 302.3 317.2 302.8 317 303.8 316.8 304.8 316.7 305.6 316.6 306.3 316.5 307.3 316.5 308.3 316.5 309.3 316.5 310.3 316.5 311.3 316.4 312.3 316.4 313.3 316.4 314.3 316.3 315.3 316.2 316 316.1 316.8 316 317.8 315.8 318.8 315.7 319.6 315.6 320.3 315.4 321.3 315.2 322 315 322.8 314.8 323.8 314.6 324.3 314.4 325.3 314.2 325.9 313.9 326.8 313.7 327.5 313.4 328.3 313.1 328.8 312.7 329.5 312.2 329.8Z" fill="#a6a6a6" stroke="#555" stroke-width="0.6"/>
<path d="M311.2 329.8 310.2 329.8 309.2 329.8 308.2 329.8 307.2 329.8 306.2 329.8 305.2 329.8 304.2 329.8 303.2 329.8 302.2 329.8 301.2 329.8 300.2 329.8 299.2 329.8 298.2 329.8 297.2 329.8 296.2 329.8 295.2 329.8 294.2 329.8 293.2 329.8 292.2 329.8 291.2 329.8 290.2 329.8 289.2 329.8 288.2 329.8 287.2 329.8 286.7 329.8 286.7 328.8 286.7 327.8 286.7 326.8 286.7 325.8 286.7 324.8 286.7 323.8 286.7 322.8 286.7 321.8 286.7 320.8 286.7 319.8 286.7 318.8 286.7 317.8 286.7 316.8 286.7 315.8 286.7 314.8 286.7 313.8 286.7 312.8 286.7 311.8 286.7 310.8 286.7 309.8 286.7 308.8 286.7 307.8 286.7 306.8 287.2 306.5 287.7 306.2 288.3 305.8 289.2 305.3 289.7 305.1 290.2 304.8 291.2 304.4 291.7 304.2 292.7 303.8 293.2 303.7 294.2 303.4 294.7 303.2 295.7 303 296.5 302.8 297.2 302.6 298.2 302.4 298.7 302.3 299.7 302 300.2 301.8 301.2 301.4 301.7 301.1 302.3 300.8 303 300.3 303.7 299.8 304.2 299.5 304.7 299.1 305.2 298.8 305.9 298.3 306.7 297.8 307.2 297.6 307.8 297.3 308.7 296.9 309.2 296.7 310.2 296.4 310.9 296.3 311.7 296.2 312.7 296.3 313.2 296.4 314.2 296.7 314.7 297 315.2 297.4 315.7 298 316.2 298.8 316.4 299.3 316.7 300.3 316.7 301.3 316.6 302.3 316.5 303.3 316.3 304.3 316.2 304.8 316.1 305.8 316 306.8 315.9 307.8 315.9 308.8 315.9 309.8 315.9 310.8 315.9 311.8 315.9 312.8 315.9 313.8 315.8 314.8 315.7 315.8 315.7 316.3 315.5 317.3 315.4 318.3 315.2 319.3 315.1 319.8 314.9 320.8 314.7 321.7 314.6 322.3 314.3 323.3 314.2 323.8 313.9 324.8 313.7 325.4 313.4 326.3 313.2 326.9 312.8 327.8 312.6 328.3 312.2 329 311.7 329.7 311.2 329.8Z" fill="#bcbcbc" stroke="#3a3a3a" stroke-width="0.6"/>
<path d="M310.2 329.8 309.2 329.8 308.2 329.8 307.2 329.8 306.2 329.8 305.2 329.8 304.2 329.8 303.2 329.8 302.2 329.8 301.2 329.8 300.2 329.8 299.2 329.8 298.2 329.8 297.2 329.8 296.2 329.8 295.2 329.8 294.2 329.8 293.2 329.8 292.2 329.8 291.2 329.8 290.2 329.8 289.2 329.8 288.2 329.8 287.2 329.8 286.7 329.8 286.7 328.8 286.7 327.8 286.7 326.8 286.7 325.8 286.7 324.8 286.7 323.8 286.7 322.8 286.7 321.8 286.7 320.8 286.7 319.8 286.7 318.8 286.7 317.8 286.7 316.8 286.7 315.8 286.7 314.8 286.7 313.8 286.7 312.8 286.7 311.8 286.7 310.8 286.7 309.8 286.7 308.8 286.8 308.3 287.4 307.8 288 307.3 288.7 306.8 289.2 306.5 289.7 306.2 290.6 305.8 291.2 305.5 291.7 305.3 292.7 304.9 293.2 304.7 294.2 304.4 294.7 304.3 295.7 304 296.6 303.8 297.2 303.7 298.2 303.4 298.8 303.3 299.7 303.1 300.6 302.8 301.2 302.6 301.7 302.3 302.6 301.8 303.2 301.3 303.7 301 304.2 300.5 304.7 300.1 305.2 299.7 305.8 299.3 306.5 298.8 307.2 298.4 307.7 298.1 308.4 297.8 309.2 297.5 309.7 297.3 310.7 297.1 311.7 297 312.7 297.1 313.3 297.3 314.2 297.8 314.7 298.2 315.2 298.8 315.4 299.3 315.7 300.1 315.8 300.8 315.8 301.8 315.7 302.8 315.6 303.3 315.5 304.3 315.3 305.3 315.2 306.3 315.2 307.2 315.2 307.8 315.2 308.6 315.2 309.3 315.2 310.3 315.3 311.3 315.2 312.3 315.2 313.3 315.2 313.8 315.1 314.8 315.1 315.8 314.9 316.8 314.8 317.8 314.7 318.4 314.5 319.3 314.3 320.3 314.2 320.8 313.9 321.8 313.7 322.6 313.5 323.3 313.2 324.3 313 324.8 312.7 325.8 312.5 326.3 312.2 327 311.8 327.8 311.5 328.3 311.2 328.8 310.7 329.4 310.2 329.8Z" fill="#d0d0d0" stroke="#3a3a3a" stroke-width="0.6"/>
<path d="M306.7 329.8 305.7 329.8 304.7 329.8 303.7 329.8 302.7 329.8 301.7 329.8 300.7 329.8 299.7 329.8 298.7 329.8 297.7 329.8 296.7 329.8 295.7 329.8 294.7 329.8 293.7 329.8 292.7 329.8 291.7 329.8 290.7 329.8 289.7 329.8 288.7 329.8 287.7 329.8 286.7 329.8 286.7 329.3 286.7 328.3 286.7 327.3 286.7 326.3 286.7 325.3 286.7 324.3 286.7 323.3 286.7 322.3 286.7 321.3 286.7 320.3 286.7 319.3 286.7 318.3 286.7 317.3 286.7 316.3 286.7 315.3 286.7 314.3 286.7 313.3 286.7 312.3 286.7 311.7 287.2 310.8 287.6 310.3 288 309.8 288.4 309.3 289 308.8 289.6 308.3 290.2 307.9 290.7 307.6 291.2 307.3 292.2 306.8 292.7 306.6 293.4 306.3 294.2 306 295 305.8 295.7 305.6 296.7 305.4 297.3 305.3 298.2 305.2 299.2 305 300.2 304.9 301 304.8 301.7 304.7 302.6 304.3 303.2 303.9 303.7 303.4 304.2 302.8 304.6 302.3 305 301.8 305.4 301.3 305.9 300.8 306.4 300.3 307 299.8 307.7 299.3 308.2 299.1 308.7 298.8 309.7 298.4 310.2 298.3 311.2 298.2 312.2 298.3 312.7 298.5 313.3 298.8 313.9 299.3 314.2 299.8 314.5 300.8 314.6 301.8 314.5 302.8 314.4 303.8 314.2 304.7 314.1 305.3 314 306.3 314 307.3 314.1 308.3 314.1 309.3 314.2 310.2 314.2 310.8 314.3 311.8 314.3 312.8 314.3 313.8 314.2 314.8 314.2 315.3 314.1 316.3 313.9 317.3 313.7 318.3 313.6 318.8 313.4 319.8 313.2 320.6 313 321.3 312.7 322.2 312.5 322.8 312.2 323.6 311.9 324.3 311.7 324.9 311.3 325.8 311 326.3 310.7 326.9 310.2 327.6 309.7 328.2 309.2 328.6 308.7 329 308.1 329.3 307.2 329.6 306.7 329.8Z" fill="#dcdcdc" stroke="#3a3a3a" stroke-width="0.6"/>
<path d="M305.1 311.8 305.5 311.3 305.7 310.8 306 309.8 306 308.8 305.7 308.2 305.2 307.8 304.4 307.8 303.7 308.3 303.4 308.8 303.2 309.3 303 310.3 303.2 311.3 303.5 311.8 304.2 312.2 305.1 311.8Z" fill="#dcdcdc" stroke="#3a3a3a" stroke-width="0.6"/>
<path d="M308.7 324.3 307.7 324.7 306.7 324.7 306.3 323.8 306.2 322.9 306.1 322.3 306 321.3 305.9 320.3 305.9 319.3 306.1 318.3 306.2 317.7 306.4 316.8 306.7 316 306.9 315.3 307.2 314.6 307.5 313.8 307.7 313.3 308.1 312.3 308.3 311.8 308.7 310.9 309 310.3 309.2 309.7 309.6 308.8 309.9 308.3 310.2 307.4 310.4 306.8 310.2 306.3 309.7 305.7 309.2 305.1 308.7 304.5 308.2 303.8 308 303.3 308 302.3 308.2 301.8 308.7 301.1 309.2 300.7 310.2 300.3 310.7 300.3 311.2 300.3 312 300.8 312.3 301.3 312.4 302.3 312.3 303.3 312.1 303.8 311.7 304.8 311.5 305.3 311.2 306.1 311 306.8 311.2 307.3 311.7 308.3 311.9 308.8 312.2 309.6 312.4 310.3 312.6 311.3 312.7 312 312.8 312.8 312.8 313.8 312.8 314.8 312.7 315.8 312.6 316.3 312.5 317.3 312.3 318.3 312.1 318.8 311.8 319.8 311.6 320.3 311.2 321.3 310.9 321.8 310.6 322.3 310.2 322.9 309.7 323.5 309.2 324 308.7 324.3Z" fill="#d6d6d6" stroke="#3a3a3a" stroke-width="0.6"/>
<path d="M300.7 329.8 299.7 329.8 298.7 329.8 297.7 329.8 296.7 329.8 295.7 329.8 294.7 329.8 293.7 329.8 292.7 329.8 291.7 329.8 290.7 329.8 289.7 329.8 288.7 329.8 287.7 329.8 287.2 329.8 286.7 329.3 286.7 328.3 286.7 327.3 286.7 326.3 286.7 325.3 286.7 324.3 286.7 323.3 286.7 322.3 286.7 321.3 286.7 320.3 286.7 319.3 286.7 318.3 286.7 317.3 287 316.8 287.2 316.3 287.7 315.5 288.2 314.8 288.6 314.3 289 313.8 289.4 313.3 289.8 312.8 290.3 312.3 290.8 311.8 291.4 311.3 292 310.8 292.7 310.3 293.2 310.1 293.9 309.8 294.7 309.6 295.7 309.6 296.4 309.8 297 310.3 297.3 310.8 297.7 311.4 298.2 312.2 298.6 312.8 299 313.3 299.4 313.8 299.8 314.3 300.2 314.8 300.7 315.4 301.2 316.2 301.6 316.8 301.9 317.3 302.2 317.9 302.6 318.8 302.7 319.3 303 320.3 303.2 321.2 303.4 321.8 303.7 322.5 304.2 323.3 304.7 323.8 305.2 324.2 305.7 324.5 306.1 325.3 305.7 326.2 305.4 326.8 305 327.3 304.5 327.8 303.9 328.3 303.2 328.8 302.7 329.1 302.2 329.3 301.2 329.8 300.7 329.8Z" fill="#d6d6d6" stroke="#3a3a3a" stroke-width="0.6"/>
<path d="M294.7 329.8 293.7 329.8 292.7 329.8 291.7 329.8 290.7 329.8 290.1 329.8 289.2 329.4 288.7 329.1 288.2 328.6 287.7 328 287.3 327.3 287.1 326.8 286.9 325.8 286.8 324.8 286.8 323.8 287 322.8 287.1 321.8 287.3 321.3 287.6 320.3 287.8 319.8 288.2 319 288.6 318.3 289 317.8 289.5 317.3 290.1 316.8 290.7 316.4 291.2 316.2 292.2 315.8 292.7 315.7 293.7 315.7 294.3 315.8 295.2 316.1 295.7 316.3 296.5 316.8 297 317.3 297.5 317.8 297.8 318.3 298.2 319.2 298.4 319.8 298.7 320.8 298.8 321.3 299.1 322.3 299.3 322.8 299.7 323.6 300.1 324.3 300.4 324.8 300.7 325.5 300.9 326.3 300.7 327.3 300.3 327.8 299.7 328.3 299.2 328.6 298.7 328.8 297.7 329.2 297.2 329.3 296.2 329.6 295.2 329.8 294.7 329.8Z" fill="#cecece" stroke="#3a3a3a" stroke-width="0.6"/>
<path d="M294.7 328.4 293.7 328.6 292.7 328.7 291.7 328.7 290.7 328.5 290.2 328.3 289.6 327.8 289.1 327.3 288.7 326.6 288.5 325.8 288.4 324.8 288.5 323.8 288.6 322.8 288.8 322.3 289.2 321.3 289.5 320.8 289.9 320.3 290.5 319.8 291.2 319.4 291.7 319.2 292.7 319.2 293.2 319.4 293.9 319.8 294.4 320.3 294.7 320.8 295.2 321.7 295.5 322.3 295.7 322.8 296.2 323.6 296.6 324.3 296.9 324.8 297.2 325.4 297.4 326.3 297.2 326.9 296.7 327.5 296.2 327.8 295.2 328.2 294.7 328.4Z" fill="#c4c4c4" stroke="#3a3a3a" stroke-width="0.6"/>
</g>
<path d="M287.7 296.9V328.8H312.6" fill="none" stroke="#111" stroke-width="2.0"/>
<rect x="286.7" y="258.3" width="72" height="71.5" fill="none" stroke="#555" stroke-width="0.9"/>
<rect x="320.4" y="271" width="30.8" height="20.8" fill="none" stroke="#666" stroke-width="0.7"/>
<text x="350.5" y="268.8" font-size="7.8" text-anchor="end" fill="#111">0.2</text>
<clipPath id="cp7"><rect x="368.9" y="258.3" width="72" height="71.5"/></clipPath>
<g clip-path="url(#cp7)">
<path d="M401.9 329.8 400.4 329.8 398.9 329.8 397.4 329.8 395.9 329.8 394.4 329.8 392.9 329.8 391.4 329.8 389.9 329.8 388.4 329.8 386.9 329.8 385.4 329.8 383.9 329.8 382.4 329.8 380.9 329.8 379.4 329.8 377.9 329.8 376.4 329.8 374.9 329.8 373.4 329.8 371.9 329.8 370.4 329.8 368.9 329.8 368.9 328.8 368.9 327.3 368.9 325.8 368.9 324.3 368.9 322.8 368.9 321.3 368.9 319.8 368.9 318.3 368.9 316.8 368.9 315.3 368.9 313.8 368.9 312.3 368.9 310.8 368.9 309.3 368.9 307.8 368.9 306.3 368.9 304.8 368.9 303.3 368.9 301.8 368.9 300.3 368.9 298.8 368.9 297.5 369.9 296.9 370.9 296.4 371.9 295.9 372.9 295.5 373.9 295 374.9 294.5 375.9 294.1 376.9 293.7 377.9 293.3 379.1 292.8 380.4 292.3 381.4 291.9 382.4 291.6 383.4 291.2 384.8 290.8 385.9 290.4 386.9 290.1 387.9 289.8 389.3 289.3 390.4 288.8 391.4 288.4 392.4 287.8 393.4 287.3 394.3 286.8 395.3 286.3 396.4 285.9 397.4 285.6 398.9 285.4 400.4 285.3 401.4 285.3 402.9 285.1 404.3 284.8 405.4 284.5 406.4 284.3 407.9 283.9 408.9 283.6 410.4 283.4 411.4 283.2 412.9 283 414.4 282.9 415.9 283 417.4 283.1 418.5 283.3 419.9 283.7 420.9 284.1 421.9 284.7 422.5 285.3 423 286.3 422.9 287.7 422.4 288.8 421.9 289.5 421.1 290.3 420.4 290.9 419.4 291.7 418.5 292.3 417.7 292.8 416.9 293.3 415.9 293.9 414.9 294.6 413.9 295.3 413.2 295.8 412.4 296.4 411.4 297.3 410.9 297.8 409.9 298.8 409.4 299.6 408.9 300.7 408.6 301.8 408.4 302.8 408.1 304.3 407.9 305.7 407.8 306.8 407.6 308.3 407.4 309.8 407.3 310.8 407.1 312.3 406.9 313.7 406.7 314.8 406.4 316.3 406.2 317.3 405.9 318.5 405.6 319.8 405.3 320.8 404.9 322 404.5 323.3 404.2 324.3 403.9 325.3 403.4 326.6 403 327.8 402.5 328.8 402 329.8Z" fill="#f0f0f0" filter="url(#hz)"/>
<path d="M399.4 329.8 397.9 329.8 396.4 329.8 394.9 329.8 393.4 329.8 391.9 329.8 390.4 329.8 388.9 329.8 387.4 329.8 385.9 329.8 384.4 329.8 382.9 329.8 381.4 329.8 379.9 329.8 378.4 329.8 376.9 329.8 375.4 329.8 373.9 329.8 372.4 329.8 370.9 329.8 369.4 329.8 368.9 329.3 368.9 327.8 368.9 326.3 368.9 324.8 368.9 323.3 368.9 321.8 368.9 320.3 368.9 318.8 368.9 317.3 368.9 315.8 368.9 314.3 368.9 312.8 368.9 311.3 368.9 309.8 368.9 308.3 368.9 306.8 368.9 305.3 368.9 303.8 368.9 302.3 368.9 300.8 369.4 299.9 370.4 299.4 371.4 298.9 372.4 298.5 373.4 298 374.4 297.5 375.4 297 376.4 296.5 377.4 296 378.4 295.4 379.4 294.9 380.4 294.4 381.4 293.9 382.4 293.4 383.4 293 384.4 292.6 385.4 292.2 386.5 291.8 387.9 291.3 388.9 290.9 389.9 290.6 390.9 290.1 391.9 289.7 392.9 289.3 394.1 288.8 395.4 288.3 396.4 288 397.4 287.8 398.9 287.5 400 287.3 401.4 287 402.4 286.7 403.5 286.3 404.9 285.8 405.9 285.4 406.9 285.1 408.1 284.8 409.4 284.5 410.4 284.3 411.9 284 413.4 283.9 414.9 283.9 416.4 284 417.7 284.3 418.9 284.7 419.9 285.3 420.5 285.8 421 286.8 420.9 287.9 420.4 288.9 419.7 289.8 418.9 290.5 417.9 291.2 416.9 291.8 416 292.3 415 292.8 414 293.3 412.9 293.8 412 294.3 411.1 294.8 410.4 295.3 409.4 296.2 408.8 296.8 408 297.8 407.5 298.8 407.1 299.8 406.9 300.8 406.6 302.3 406.4 303.8 406.3 304.8 406.1 306.3 406 307.8 405.9 308.8 405.7 310.3 405.5 311.8 405.4 312.8 405.1 314.3 404.9 315.3 404.5 316.8 404.3 317.8 403.9 319 403.5 320.3 403.2 321.3 402.8 322.3 402.4 323.5 402 324.8 401.6 325.8 401.2 326.8 400.8 327.8 400.4 328.8 399.8 329.8Z" fill="#e4e4e4" filter="url(#hz)"/>
<path d="M397.9 329.8 396.4 329.8 394.9 329.8 393.4 329.8 391.9 329.8 390.4 329.8 388.9 329.8 387.4 329.8 385.9 329.8 384.4 329.8 382.9 329.8 381.4 329.8 379.9 329.8 378.4 329.8 376.9 329.8 375.4 329.8 373.9 329.8 372.4 329.8 370.9 329.8 369.4 329.8 368.9 329.3 368.9 327.8 368.9 326.3 368.9 324.8 368.9 323.3 368.9 321.8 368.9 320.3 368.9 318.8 368.9 317.3 368.9 315.8 368.9 314.3 368.9 312.8 368.9 311.3 368.9 309.8 368.9 308.3 368.9 306.8 368.9 305.3 368.9 303.8 368.9 302.3 369.7 301.8 370.7 301.3 371.8 300.8 372.9 300.3 373.9 299.9 374.9 299.5 375.9 299.1 376.9 298.7 377.9 298.3 378.9 297.8 379.9 297.2 380.9 296.5 381.9 295.9 382.8 295.3 383.6 294.8 384.5 294.3 385.5 293.8 386.6 293.3 387.7 292.8 388.9 292.3 389.9 291.9 390.9 291.5 391.9 291.1 392.9 290.7 393.9 290.3 395.4 289.8 396.4 289.6 397.8 289.3 398.9 289.1 400.4 288.8 401.4 288.5 402.4 288.1 403.4 287.6 404.4 287.1 405.4 286.6 406.4 286.2 407.7 285.8 408.9 285.4 409.9 285.2 411.4 284.9 412.9 284.8 414.4 284.8 415.9 285 417.1 285.3 418.1 285.8 418.9 286.5 419.2 287.8 418.8 288.8 417.9 289.8 417.3 290.3 416.4 290.9 415.4 291.5 414.4 291.9 413.4 292.4 412.3 292.8 410.9 293.3 409.9 293.7 408.9 294.2 407.9 294.8 407.4 295.3 406.7 296.3 406.1 297.3 405.7 298.3 405.4 299.5 405.2 300.8 405 302.3 404.9 303.6 404.8 304.8 404.7 306.3 404.5 307.8 404.4 308.8 404.2 310.3 404 311.8 403.9 312.8 403.6 314.3 403.3 315.3 403 316.8 402.7 317.8 402.4 318.8 401.9 320.2 401.5 321.3 401.2 322.3 400.8 323.3 400.4 324.5 399.9 325.8 399.6 326.8 399.2 327.8 398.7 328.8 398.1 329.8Z" fill="#d8d8d8" filter="url(#hz)"/>
<path d="M372.5 297.9h.7M416.7 301.6h.7M377.6 292.4h.7M378.7 299.6h.7M399 328.1h.7M377.4 293.8h.7M402.3 316.5h.7M385.5 287.8h.7M397.8 328.1h.7M407.6 310.7h.7M413.9 326.3h.7M378 298.8h.7M381.4 280.4h.7M400.1 324.5h.7M372.3 269.9h.7M399.7 328.3h.7M373.9 298.3h.7M373.2 301.6h.7M403.2 323.5h.7M412.4 319.7h.7M411.7 320.4h.7M374.6 298.6h.7M400.3 325.7h.7M383.6 295.1h.7M369 303.2h.7M416.3 320.2h.7M402.4 318.7h.7M405.5 310.7h.7M394.1 283.9h.7M404 318.8h.7M404.7 310.7h.7M399.5 327.1h.7M391.7 291.3h.7M405.2 311.3h.7M406.8 311.2h.7M385.1 280.1h.7M408.4 303.5h.7M402.5 324h.7M385.5 296.7h.7M376.8 296.7h.7M404 315.7h.7M393.3 291.2h.7M387.3 295.1h.7M403.2 322.2h.7M405.3 303.4h.7M381.6 290.8h.7M398.6 325.8h.7M401.3 287.8h.7M404.2 319h.7M386.1 272.4h.7M384.5 295.3h.7M397.8 288.6h.7M402.8 312.1h.7M402.4 316.4h.7M381.6 296.9h.7M403.8 314.3h.7M403.9 302.2h.7M411.3 320.4h.7M398 327.7h.7M394 285.7h.7M379.8 298.8h.7M426.3 301.6h.7M372.5 297.9h.7M389.1 294.7h.7M413.2 310h.7M414.9 312.7h.7M373.8 302.1h.7M427.8 313h.7M369 303.7h.7M406.1 298.2h.7M403.2 313.2h.7M408.6 297.6h.7M387.6 292.3h.7M370.9 297.6h.7M404.4 302.2h.7M369 296.4h.7M409.9 316.9h.7M376 301.7h.7M413.8 284.9h.7M407 322.1h.7M402.6 328.8h.7M417.6 326.5h.7M399 324.2h.7M399 325.6h.7M402 324.4h.7M378.7 284.7h.7M396.2 291.8h.7M387.7 295h.7M404.3 307.2h.7M398.2 290.4h.7M383.2 293.6h.7M379.1 294.2h.7M388.9 294.6h.7M393.5 286.8h.7M406.1 298.8h.7M406.8 295.6h.7M376.9 300.1h.7M405.1 292.8h.7M415.4 308.9h.7M403.6 298.5h.7M382.2 296.1h.7M385.9 295.1h.7M376.1 299.8h.7M383.6 290.1h.7M386 292.5h.7M382.5 295.8h.7M379.1 297.2h.7M404.4 298.7h.7M374.2 295.2h.7M381.6 299.1h.7M388.4 290.3h.7M374 297.7h.7M401.8 317.3h.7M407.4 305.1h.7M386.3 295.1h.7M406 295.1h.7M410.9 295.3h.7M387.9 289.1h.7M418.6 292.4h.7M387.5 291.2h.7M399.5 289.9h.7M379 299h.7M405.2 302.6h.7M391.5 290.6h.7M369.4 298.4h.7M384.9 297.3h.7M404.7 300h.7M403.4 310.1h.7M377.7 300.5h.7M398.3 290.3h.7M397.2 291.5h.7M398.7 291.4h.7M402.4 283.3h.7M421.8 292h.7M409.6 296h.7M402.2 287.6h.7M416.6 291.4h.7M419.8 284.2h.7M404.7 280.4h.7M405.1 285.8h.7M406.2 286.7h.7M404.6 288.2h.7M418.2 286.1h.7M396.2 284.2h.7M392.5 290.8h.7M393.6 287.3h.7M410.3 286.7h.7M409 286h.7M390.7 290.8h.7M421.7 286.1h.7M420.9 279.6h.7M423 290.4h.7M402.9 287.9h.7M400.6 288.9h.7M395.7 289.2h.7M416.7 284.7h.7M418.6 297.6h.7M424.8 284.9h.7M420.3 286.9h.7M413 279.8h.7M409.2 284.7h.7M402.4 279.5h.7M398.9 285.6h.7M426.8 289.3h.7M402 289.2h.7M415.9 293.4h.7M424.7 289.7h.7M412.6 293.3h.7M414.3 278.5h.7M425.5 289.3h.7M401.5 281.6h.7M405.7 294.5h.7M418 294.9h.7M418.3 290.2h.7M405.2 288.8h.7M411.3 282.4h.7M419.2 292.1h.7M399.3 289.7h.7M414.7 282.6h.7M417.2 282.4h.7M417.1 286.4h.7M405.1 284.6h.7M412.8 292.3h.7M414.8 293.6h.7M431.5 289.9h.7M428.3 288h.7M419.7 291.2h.7M411.2 283.6h.7M430.2 294.3h.7M404.6 288.9h.7M408.8 279h.7M401.7 284.7h.7M388.4 281.7h.7M400.2 288.8h.7M406.2 285.9h.7M397.2 290.9h.7M382.1 288.9h.7M387.3 283.9h.7M385.2 296.5h.7M383.3 295.9h.7M377.4 297.2h.7M422 293.1h.7M392.4 289.9h.7M395.4 291h.7M430.3 296.1h.7M382.5 291h.7M381.1 297.9h.7M426.3 299.4h.7M419 303h.7M378.2 286.4h.7M388.6 290.1h.7M374.9 291.8h.7M372 292.2h.7M411.9 314.3h.7M416.6 289.6h.7M398.6 285.9h.7M378.5 298.1h.7M375.3 289.9h.7M409 313.6h.7M406.5 293.7h.7M400.1 324.4h.7M402.9 311.1h.7M375.7 298.3h.7M384.9 279.5h.7M402.5 312.9h.7M398.8 288.6h.7M403.4 303.3h.7M406.4 303.6h.7M393.9 287h.7M389.9 285.7h.7M405.5 311h.7M404 305.4h.7M409.1 328.5h.7M400.8 323.9h.7M411.5 318.4h.7M408.1 309.9h.7M391.1 283.6h.7M407.7 308.1h.7M400.1 289.6h.7M407.3 316.1h.7M393 263.8h.7M408.1 293.6h.7M411.4 325.2h.7M412 329.5h.7M406 307.6h.7M412.7 306.4h.7M404.3 313.2h.7M408.5 298.2h.7M404.1 294.7h.7M407.3 320.1h.7M402.5 320.4h.7M407.9 294.4h.7M403.6 327.8h.7M408.9 315.4h.7M405.6 298.5h.7M391.2 285.8h.7M416.4 291.8h.7M416.3 298.7h.7M403.9 309.1h.7M398.9 289.4h.7M407.7 296.6h.7M404.9 315.5h.7M407.6 314.9h.7M399.2 280.9h.7M409.6 302.4h.7M421.2 304.5h.7M403.4 325.9h.7M403.6 313.9h.7M407.3 310.8h.7M405.9 313.7h.7M413.4 307.9h.7M415.5 323.1h.7M403.3 306.6h.7M400.5 291.2h.7M410.6 313.7h.7M406.9 296.7h.7M404.1 295.5h.7M408.9 307.2h.7M407.2 327.4h.7M408.9 315.9h.7M406.2 327.2h.7M404.1 288.2h.7M394.2 290.7h.7M405.4 312.3h.7M405 305.1h.7M416.9 317.7h.7M403.5 299.6h.7M412.9 302.7h.7M413.6 299.3h.7M407.8 300.3h.7M402 317.2h.7M411.8 316.3h.7M402.4 319.2h.7M403.7 300.8h.7M408.4 305h.7M403.6 300.3h.7M402 284.6h.7M413.1 305.9h.7M413.2 325.2h.7M414.7 308.2h.7M410.3 302.3h.7M405.2 310h.7M415.8 317.7h.7M408.6 309.2h.7M406.3 303.6h.7M403.6 315h.7M404.4 301.5h.7M415.4 308.5h.7M404.7 312h.7M400.1 324.7h.7M403.8 309.4h.7M407.6 325.5h.7M399.9 326.6h.7M412.5 313.8h.7M414.3 311h.7M420.3 286.3h.7M402.8 322.1h.7M405.4 313.8h.7M405.2 298h.7M407.6 328.5h.7M408.7 306.7h.7M413 302h.7M393.7 289.9h.7M395.7 290.5h.7M407.5 316.1h.7M417.8 315.1h.7M402.2 317.8h.7M414.5 322.7h.7M413.3 298.7h.7M408.2 300.3h.7M409.9 324.8h.7M398.6 326.2h.7M411.9 304.5h.7M411.5 292.4h.7M402.7 312.2h.7M413.5 307.3h.7M402.6 319.5h.7M399.2 323.8h.7M408.8 325.7h.7M403.5 316.9h.7M410.3 309h.7M402.2 324.7h.7M410.2 317h.7M410.7 298.6h.7M409.4 307.8h.7M411.3 313.3h.7M414.5 308.8h.7M403.9 325.6h.7M404.3 323.5h.7M410.4 322.1h.7M397.1 287.5h.7M404.9 298.3h.7M415.8 323.3h.7M415.4 327h.7M409.3 299.1h.7M408.8 296.7h.7M385.2 292.9h.7M404 312.1h.7M407.6 300.2h.7M409.3 318.9h.7M406 304.6h.7M409.8 316.4h.7M404.9 311.7h.7M411.2 306.4h.7M408.7 318.6h.7M401.7 320.9h.7M407.4 302.4h.7M414.6 295.1h.7M405.8 306.9h.7M406.7 326.9h.7M407.4 320.5h.7M414.4 315.4h.7M410 322.2h.7M403.5 313.8h.7M400.6 321.9h.7M413.3 313.2h.7M412.6 322.3h.7M408.9 297.5h.7M408.2 328.1h.7M400.8 322.9h.7M409.4 307.4h.7M410.6 311.3h.7M404.8 325.9h.7M411.9 302.9h.7M410.5 319.3h.7M412 300.3h.7M414.1 295h.7M409.3 317.4h.7M406.4 314.3h.7M407.8 299.4h.7M406.6 317.4h.7M401.4 273.6h.7M408.7 310h.7M406.5 302.4h.7M409.3 296.4h.7M397.9 288.3h.7M413.3 315.7h.7M404.8 278.4h.7M401.4 315.9h.7M399.4 286.1h.7M402.8 289.9h.7M413.1 292.7h.7M414.9 322.2h.7M406.1 316.3h.7M403.2 306.8h.7M389.5 291.9h.7M385.5 289.4h.7M381.7 297h.7M380.5 287.9h.7M371.8 297h.7M372.3 281.8h.7M375.6 295.1h.7M376.6 295.3h.7M379.9 288.3h.7M375.1 294.6h.7M377.4 298.5h.7M390.6 278.1h.7M386.2 291.7h.7M384.1 285.1h.7M393.1 284.2h.7M399.2 291h.7M374.8 299.1h.7M394.5 291.2h.7M390.4 288.8h.7M387.7 292.9h.7M369.2 297.1h.7M375.7 288h.7M384 296.2h.7M400.4 287.7h.7M388.7 293.4h.7M382.4 294.8h.7M375.1 296h.7M380.1 295.6h.7M372.5 295.8h.7M369.5 293.7h.7M402.4 284.5h.7M395.2 276.8h.7M390.2 292.4h.7M373.6 287.7h.7M382.5 297h.7M385.8 292.6h.7M379 295.8h.7M378.3 279.2h.7M384.3 290.7h.7M401.5 283.3h.7M401.4 289.8h.7M369.8 299.6h.7M370 296.8h.7M388.8 293.8h.7M379.5 293.5h.7M391.3 289.4h.7M401.1 288.2h.7M382 293h.7M379.9 293.2h.7M394.7 292.2h.7M388.5 279h.7M369.2 293.7h.7M371.5 295.3h.7M397.3 288.4h.7M381.8 288.6h.7M399.2 284.5h.7M384 293.8h.7M384.6 294.6h.7M395 284.3h.7M389.7 289.5h.7M380.7 295.1h.7M401.2 289.4h.7M393.4 291.3h.7M379.2 295.7h.7M377.6 294.5h.7M400.4 281.5h.7M391.9 285.7h.7M379.6 291.5h.7M386.3 284.8h.7M382.6 296.1h.7M398.6 286.8h.7M388.1 294.5h.7M381.4 296.8h.7M385.4 285.8h.7M384 291.3h.7M380.9 295.7h.7M384 292.9h.7M402.4 290.3h.7M373.7 294.9h.7M377.9 296h.7M395.2 286h.7M376.9 296.4h.7M387.9 291.8h.7M381.6 297.2h.7M398.6 290.9h.7M381.7 295.7h.7M386.8 292.3h.7M388.7 292.1h.7M374.9 297.5h.7M382.3 296.2h.7M384.5 288.8h.7M399.9 291.6h.7M369.3 294.2h.7M393.1 288.9h.7M374.4 298.3h.7M377.4 290.9h.7M369.6 296.4h.7M375.7 286.2h.7M385.2 276.2h.7M372.6 298.3h.7M371 292.1h.7M373.1 296.5h.7M372.1 268.1h.7M399.3 284.5h.7M396.6 285.2h.7M384.3 291.6h.7M388.5 293.5h.7M372.5 290h.7M399.2 289.4h.7M386.8 291.8h.7M401.2 288h.7M388.2 293.6h.7M393.5 292.2h.7M399.2 291.3h.7M398.9 288h.7M377.7 285.2h.7M396.5 291.4h.7M394.4 289.6h.7M371.2 285.3h.7M382.6 288h.7M398 289.4h.7M386.8 290.4h.7M383.7 291.7h.7M372.4 297.7h.7M378.6 297h.7M402.5 274.3h.7M386.2 287.4h.7M383 292.1h.7M384.8 295.9h.7M382.3 289.2h.7M401.4 282.2h.7M384.5 291.5h.7M378.7 290.4h.7M400.1 287h.7M387.9 293.5h.7M371.9 296.4h.7M380.2 295.5h.7M378.7 296.8h.7M394.7 286.7h.7M384.7 296.6h.7M387.2 292.3h.7M395.8 285.4h.7M378.6 293.2h.7M401.3 286.6h.7M389.7 293.8h.7M392.9 289.6h.7M401.3 287.9h.7M386.2 296h.7M383.7 294.1h.7M389.3 284.5h.7M371.3 297.6h.7M369.4 299.8h.7M373.8 295.4h.7M393.9 292.7h.7M392.6 288h.7M375.2 290.6h.7M401.6 290.4h.7M402.5 287.6h.7M401.6 287.1h.7M370.7 297.7h.7M394.2 282.4h.7M370.4 296.1h.7M369.1 298.5h.7M387 288.7h.7M371.8 296.7h.7M389.4 288.7h.7M372.3 292.3h.7M381.3 287.2h.7M389.9 290h.7M402 283.6h.7M389.8 286.6h.7M376.6 288.8h.7M377.6 298.1h.7M388.8 287.8h.7M369.9 285.6h.7M371 295.8h.7M395 284.2h.7M390 286.5h.7M386.4 287.3h.7M390 288.4h.7M378.4 296.1h.7M371.7 293.2h.7M370.9 284.3h.7M372.7 294.2h.7M379.3 292.3h.7M397.7 286.4h.7M383.4 291.7h.7M389.1 287.7h.7M376.9 290.4h.7M378.1 293.5h.7M378.1 297.1h.7M389.1 294.7h.7M401.4 291.1h.7M402.8 286.3h.7M395.5 287.9h.7M369.2 297h.7M381 295.2h.7M379.5 296.2h.7M389.1 291.1h.7M391 293.2h.7M372.2 293.6h.7M401.7 290.6h.7M389.4 293.6h.7M380.8 297h.7M371 294.9h.7M384.9 281.1h.7M373.8 293.4h.7M393.6 290.5h.7M388.6 292.7h.7M383.3 288.7h.7M377.1 291.5h.7M389.5 292.1h.7M400.5 275.6h.7M400.8 287.3h.7M369.7 297.3h.7M387.1 291.6h.7M369.2 295.6h.7M376.3 281.8h.7M375.1 294.1h.7M402.2 290.1h.7M396.3 280h.7M392.4 284.8h.7M384.6 283.4h.7M374.9 295.1h.7M375.7 296.1h.7M376.9 298.3h.7M372.8 294.1h.7M373.3 296.8h.7M386.3 291.4h.7M373.4 297.1h.7M384.8 286.3h.7M380.6 294.2h.7M388.1 277.1h.7M375.6 291.6h.7M389 287.1h.7M381.6 290.8h.7M386.2 295.9h.7M388.1 294.4h.7M369.9 296.4h.7M371.8 293.3h.7M384.8 295.1h.7M380.6 290h.7M388.9 293.6h.7M385.6 293.5h.7M382.9 289.7h.7M372.6 294.4h.7M401.7 284.9h.7M395.5 289.9h.7M371.9 291.2h.7M395.2 291.5h.7M401.6 288.7h.7M370.4 295.7h.7M372 293.6h.7M371.7 299h.7M381.9 279.3h.7M369.2 294.5h.7M385.2 295.9h.7M370 286.7h.7M380.1 295.9h.7M385.4 296.4h.7M370.3 292.9h.7M399.3 290.5h.7M391.2 287.9h.7M402.1 287.6h.7M377.3 283.2h.7M386.3 293.6h.7M375.9 295.9h.7M391.9 288h.7M401.6 290.7h.7M399 282.6h.7M374.3 298.4h.7M378.5 291.5h.7M383.3 297.2h.7M376.9 296.6h.7M391.5 288.7h.7M369.4 290.6h.7M368.9 298.6h.7M380 292h.7M397.2 291.3h.7M400.4 285.9h.7M393.9 286.3h.7M369.6 298.4h.7M396.2 288.4h.7M387.8 283.6h.7M385.7 287h.7M375.5 291.8h.7M382.8 295.1h.7M402.4 290h.7M383.1 286.7h.7M377.4 285.1h.7M383.4 295.9h.7M400.5 287h.7M398.9 287.1h.7M385.5 296.6h.7M401.5 280.5h.7M379.9 286.3h.7M378.8 297.5h.7M369.3 297.1h.7M389.7 291.5h.7M379.8 294.3h.7M385.3 291.3h.7M390.7 285.8h.7M386.9 292.4h.7M387.3 277h.7M396.7 291.2h.7M389.4 292.8h.7M379.5 299h.7M392.3 277.5h.7M376.9 283.4h.7M433.6 315.7h.7M415.5 319.1h.7M408.2 313.3h.7M420.1 298.7h.7M412.4 300.8h.7M420.2 328.8h.7M413.6 305.9h.7M377.8 283.5h.7M397.2 280h.7M393.4 288.4h.7M406.6 322h.7M418.6 276.8h.7M419.8 277.8h.7M408.7 263.1h.7" stroke="#6a6a6a" stroke-width="0.55" fill="none"/>
<path d="M395.4 329.8 394.4 329.8 393.4 329.8 392.4 329.8 391.4 329.8 390.4 329.8 389.4 329.8 388.4 329.8 387.4 329.8 386.4 329.8 385.4 329.8 384.4 329.8 383.4 329.8 382.4 329.8 381.4 329.8 380.4 329.8 379.4 329.8 378.4 329.8 377.4 329.8 376.4 329.8 375.4 329.8 374.4 329.8 373.4 329.8 372.4 329.8 371.4 329.8 370.4 329.8 369.4 329.8 368.9 329.8 368.9 328.8 368.9 327.8 368.9 326.8 368.9 325.8 368.9 324.8 368.9 323.8 368.9 322.8 368.9 321.8 368.9 320.8 368.9 319.8 368.9 318.8 368.9 317.8 368.9 316.8 368.9 315.8 368.9 314.8 368.9 313.8 368.9 312.8 368.9 311.8 368.9 310.8 368.9 309.8 368.9 308.8 368.9 307.8 368.9 306.8 368.9 305.8 368.9 304.8 369.4 304.4 369.9 304.1 370.5 303.8 371.4 303.3 371.9 303.1 372.6 302.8 373.4 302.5 373.9 302.3 374.9 301.9 375.4 301.7 376.4 301.4 376.9 301.2 377.9 300.9 378.4 300.8 379.4 300.4 379.9 300.3 380.9 299.9 381.4 299.7 382.1 299.3 382.9 298.8 383.4 298.4 383.9 298 384.4 297.6 384.9 297.1 385.4 296.7 385.9 296.3 386.5 295.8 387.3 295.3 387.9 294.9 388.4 294.6 389 294.3 389.9 293.8 390.4 293.6 391 293.3 391.9 292.9 392.4 292.7 393.4 292.4 393.9 292.2 394.9 291.9 395.4 291.8 396.4 291.6 397.4 291.5 398.4 291.4 399.4 291.4 400.4 291.4 401.4 291.3 401.9 291.3 402.9 290.8 403.4 290.4 403.9 289.8 404.4 289.3 404.9 288.9 405.4 288.5 405.9 288.1 406.4 287.8 407.4 287.3 407.9 287.1 408.7 286.8 409.4 286.6 410.4 286.4 410.9 286.3 411.9 286.2 412.9 286.1 413.9 286.2 414.4 286.3 415.4 286.6 415.9 286.9 416.4 287.7 416.4 288.3 416.2 288.8 415.8 289.3 415.2 289.8 414.4 290.3 413.9 290.6 413.4 290.8 412.4 291.2 411.9 291.4 410.9 291.7 410.3 291.8 409.4 292 408.4 292.2 407.4 292.3 406.9 292.3 405.9 292.5 404.9 292.8 404.4 293.1 404 293.8 403.9 294.3 403.7 295.3 403.5 296.3 403.4 297.1 403.3 297.8 403.2 298.8 403.1 299.8 403 300.8 402.9 301.8 402.9 302.5 402.8 303.3 402.8 304.3 402.7 305.3 402.6 306.3 402.5 307.3 402.4 308.3 402.4 308.8 402.3 309.8 402.2 310.8 402 311.8 401.9 312.6 401.8 313.3 401.6 314.3 401.4 315.1 401.2 315.8 401 316.8 400.8 317.3 400.5 318.3 400.4 318.8 400.1 319.8 399.9 320.3 399.5 321.3 399.4 321.8 399 322.8 398.8 323.3 398.5 324.3 398.3 324.8 397.9 325.8 397.8 326.3 397.4 327.1 397.1 327.8 396.8 328.3 396.4 329.1 395.9 329.8 395.4 329.8Z" fill="#909090" stroke="#fff" stroke-width="1.8"/>
<path d="M409.4 291.3 408.4 291.4 407.4 291.4 406.6 291.3 405.9 291 405.4 290.3 405.4 290.3 405.8 289.3 406.3 288.8 406.9 288.3 407.4 288 407.9 287.7 408.9 287.3 409.4 287.1 410.4 286.9 411 286.8 411.9 286.7 412.9 286.7 413.5 286.8 414.4 287.1 414.9 287.4 415.3 288.3 414.9 289 414.4 289.5 413.9 289.9 413.1 290.3 412.4 290.6 411.8 290.8 410.9 291.1 409.9 291.3 409.4 291.3Z" fill="#a6a6a6" stroke="#555" stroke-width="0.6"/>
<path d="M394.9 329.8 393.9 329.8 392.9 329.8 391.9 329.8 390.9 329.8 389.9 329.8 388.9 329.8 387.9 329.8 386.9 329.8 385.9 329.8 384.9 329.8 383.9 329.8 382.9 329.8 381.9 329.8 380.9 329.8 379.9 329.8 378.9 329.8 377.9 329.8 376.9 329.8 375.9 329.8 374.9 329.8 373.9 329.8 372.9 329.8 371.9 329.8 370.9 329.8 369.9 329.8 368.9 329.8 368.9 329.3 368.9 328.3 368.9 327.3 368.9 326.3 368.9 325.3 368.9 324.3 368.9 323.3 368.9 322.3 368.9 321.3 368.9 320.3 368.9 319.3 368.9 318.3 368.9 317.3 368.9 316.3 368.9 315.3 368.9 314.3 368.9 313.3 368.9 312.3 368.9 311.3 368.9 310.3 368.9 309.3 368.9 308.3 368.9 307.3 368.9 306.3 368.9 305.6 369.4 305.3 370.2 304.8 370.9 304.4 371.4 304.1 372.1 303.8 372.9 303.4 373.4 303.2 374.4 302.8 374.9 302.6 375.9 302.3 376.4 302.1 377.4 301.8 377.9 301.7 378.9 301.4 379.4 301.3 380.4 300.9 380.9 300.8 381.9 300.4 382.4 300.1 383 299.8 383.7 299.3 384.4 298.8 384.9 298.3 385.4 297.8 385.9 297.4 386.4 296.9 386.9 296.5 387.4 296.1 387.9 295.8 388.6 295.3 389.4 294.8 389.9 294.5 390.4 294.3 391.4 293.8 391.9 293.6 392.6 293.3 393.4 293 394.1 292.8 394.9 292.6 395.9 292.4 396.8 292.3 397.4 292.3 398.4 292.3 398.9 292.3 399.9 292.5 400.9 292.8 401.4 293.1 401.9 293.6 402.3 294.3 402.4 295 402.5 295.8 402.5 296.8 402.4 297.8 402.4 298.3 402.3 299.3 402.3 300.3 402.2 301.3 402.2 302.3 402.1 303.3 402 304.3 402 305.3 401.9 306.2 401.9 306.8 401.8 307.8 401.7 308.8 401.6 309.8 401.5 310.8 401.4 311.5 401.3 312.3 401.1 313.3 400.9 314.3 400.8 314.8 400.6 315.8 400.4 316.4 400.2 317.3 399.9 318.2 399.7 318.8 399.4 319.8 399.2 320.3 398.9 321.3 398.7 321.8 398.4 322.7 398.2 323.3 397.9 324.1 397.7 324.8 397.4 325.5 397.1 326.3 396.9 326.8 396.4 327.8 396.1 328.3 395.8 328.8 395.4 329.4 394.9 329.8Z" fill="#a6a6a6" stroke="#555" stroke-width="0.6"/>
<path d="M410.4 290.3 409.4 290.4 408.4 290.3 407.9 290.1 407.6 289.3 408 288.8 408.7 288.3 409.4 288 409.9 287.8 410.9 287.6 411.9 287.5 412.9 287.7 413.4 288.1 413.5 288.8 413 289.3 412.4 289.7 411.9 289.9 410.9 290.2 410.4 290.3Z" fill="#bcbcbc" stroke="#3a3a3a" stroke-width="0.6"/>
<path d="M393.9 329.8 392.9 329.8 391.9 329.8 390.9 329.8 389.9 329.8 388.9 329.8 387.9 329.8 386.9 329.8 385.9 329.8 384.9 329.8 383.9 329.8 382.9 329.8 381.9 329.8 380.9 329.8 379.9 329.8 378.9 329.8 377.9 329.8 376.9 329.8 375.9 329.8 374.9 329.8 373.9 329.8 372.9 329.8 371.9 329.8 370.9 329.8 369.9 329.8 368.9 329.8 368.9 329.3 368.9 328.3 368.9 327.3 368.9 326.3 368.9 325.3 368.9 324.3 368.9 323.3 368.9 322.3 368.9 321.3 368.9 320.3 368.9 319.3 368.9 318.3 368.9 317.3 368.9 316.3 368.9 315.3 368.9 314.3 368.9 313.3 368.9 312.3 368.9 311.3 368.9 310.3 368.9 309.3 368.9 308.3 368.9 307.3 368.9 306.7 369.5 306.3 370.2 305.8 370.9 305.4 371.4 305.1 371.9 304.8 372.9 304.3 373.4 304.1 374.1 303.8 374.9 303.5 375.4 303.3 376.4 303 377 302.8 377.9 302.5 378.8 302.3 379.4 302.1 380.4 301.9 380.9 301.7 381.9 301.4 382.4 301.2 383.2 300.8 383.9 300.4 384.4 300 384.9 299.6 385.4 299.1 385.9 298.6 386.4 298.1 386.9 297.7 387.4 297.2 387.9 296.8 388.5 296.3 389.3 295.8 389.9 295.4 390.4 295.1 391 294.8 391.9 294.4 392.4 294.2 393.4 293.8 393.9 293.6 394.9 293.4 395.4 293.3 396.4 293.2 397.4 293.2 398.3 293.3 398.9 293.5 399.7 293.8 400.4 294.3 400.8 294.8 401 295.3 401.3 296.3 401.4 297.1 401.4 297.8 401.5 298.8 401.5 299.8 401.4 300.8 401.4 301.6 401.4 302.3 401.3 303.3 401.2 304.3 401.2 305.3 401.1 306.3 401 307.3 401 308.3 400.9 309.2 400.9 309.8 400.8 310.8 400.6 311.8 400.5 312.8 400.4 313.3 400.2 314.3 400 315.3 399.9 315.8 399.6 316.8 399.4 317.6 399.2 318.3 398.9 319.2 398.7 319.8 398.4 320.7 398.2 321.3 397.9 322.2 397.7 322.8 397.4 323.5 397.1 324.3 396.9 324.9 396.5 325.8 396.3 326.3 395.9 327.2 395.6 327.8 395.3 328.3 394.9 328.8 394.4 329.5 393.9 329.8Z" fill="#bcbcbc" stroke="#3a3a3a" stroke-width="0.6"/>
<path d="M392.4 329.8 391.4 329.8 390.4 329.8 389.4 329.8 388.4 329.8 387.4 329.8 386.4 329.8 385.4 329.8 384.4 329.8 383.4 329.8 382.4 329.8 381.4 329.8 380.4 329.8 379.4 329.8 378.4 329.8 377.4 329.8 376.4 329.8 375.4 329.8 374.4 329.8 373.4 329.8 372.4 329.8 371.4 329.8 370.4 329.8 369.4 329.8 368.9 329.8 368.9 328.8 368.9 327.8 368.9 326.8 368.9 325.8 368.9 324.8 368.9 323.8 368.9 322.8 368.9 321.8 368.9 320.8 368.9 319.8 368.9 318.8 368.9 317.8 368.9 316.8 368.9 315.8 368.9 314.8 368.9 313.8 368.9 312.8 368.9 311.8 368.9 310.8 368.9 309.8 368.9 308.8 369 308.3 369.5 307.8 370.1 307.3 370.7 306.8 371.4 306.3 371.9 306 372.4 305.7 373.2 305.3 373.9 305 374.4 304.8 375.4 304.4 375.9 304.2 376.9 303.9 377.4 303.7 378.4 303.5 379 303.3 379.9 303.1 380.9 302.9 381.4 302.7 382.4 302.4 382.9 302.3 383.9 301.8 384.4 301.5 384.9 301.1 385.4 300.7 385.9 300.2 386.4 299.7 386.9 299.2 387.4 298.6 387.9 298.1 388.4 297.7 388.9 297.2 389.5 296.8 390.2 296.3 390.9 295.9 391.4 295.6 392.1 295.3 392.9 295 393.4 294.8 394.4 294.5 395.4 294.3 396.4 294.3 397.4 294.5 398.3 294.8 398.9 295.2 399.4 295.7 399.8 296.3 400 296.8 400.2 297.8 400.3 298.8 400.4 299.7 400.4 300.3 400.4 301.1 400.4 301.8 400.3 302.8 400.2 303.8 400.2 304.8 400.1 305.8 400.1 306.8 400 307.8 400 308.8 399.9 309.8 399.9 310.3 399.8 311.3 399.7 312.3 399.5 313.3 399.4 313.9 399.2 314.8 399 315.8 398.9 316.3 398.6 317.3 398.4 318.1 398.2 318.8 397.9 319.7 397.7 320.3 397.4 321.2 397.2 321.8 396.9 322.5 396.6 323.3 396.4 323.8 396 324.8 395.8 325.3 395.4 326.2 395.1 326.8 394.8 327.3 394.4 327.9 393.9 328.5 393.4 329.1 392.9 329.5 392.4 329.8Z" fill="#d0d0d0" stroke="#3a3a3a" stroke-width="0.6"/>
<path d="M387.4 329.8 386.4 329.8 385.4 329.8 384.4 329.8 383.4 329.8 382.4 329.8 381.4 329.8 380.4 329.8 379.4 329.8 378.4 329.8 377.4 329.8 376.4 329.8 375.4 329.8 374.4 329.8 373.4 329.8 372.4 329.8 371.4 329.8 370.4 329.8 369.4 329.8 368.9 329.8 368.9 328.8 368.9 327.8 368.9 326.8 368.9 325.8 368.9 324.8 368.9 323.8 368.9 322.8 368.9 321.8 368.9 320.8 368.9 319.8 368.9 318.8 368.9 317.8 368.9 316.8 368.9 315.8 368.9 314.8 368.9 313.8 368.9 312.8 368.9 312.2 369.3 311.3 369.6 310.8 369.9 310.3 370.4 309.6 370.9 309.1 371.4 308.6 371.9 308.1 372.4 307.7 373 307.3 373.9 306.8 374.4 306.5 374.9 306.3 375.9 305.9 376.4 305.7 377.4 305.4 377.9 305.2 378.9 305 379.8 304.8 380.4 304.7 381.4 304.6 382.4 304.4 383.3 304.3 383.9 304.2 384.9 303.9 385.4 303.6 385.9 303.1 386.4 302.5 386.9 301.8 387.2 301.3 387.6 300.8 387.9 300.3 388.4 299.7 388.9 299.1 389.4 298.6 389.9 298.1 390.4 297.7 391 297.3 391.9 296.8 392.4 296.6 393.1 296.3 393.9 296.1 394.9 295.9 395.9 296 396.9 296.3 397.4 296.6 397.9 297 398.4 297.8 398.6 298.3 398.9 299.3 398.9 299.8 399 300.8 399 301.8 398.9 302.8 398.9 303.3 398.8 304.3 398.8 305.3 398.7 306.3 398.7 307.3 398.7 308.3 398.7 309.3 398.7 310.3 398.6 311.3 398.5 312.3 398.4 313 398.3 313.8 398.1 314.8 397.9 315.8 397.8 316.3 397.5 317.3 397.4 317.8 397.1 318.8 396.9 319.3 396.6 320.3 396.4 320.8 396 321.8 395.8 322.3 395.4 323.1 395.1 323.8 394.8 324.3 394.4 325.2 394 325.8 393.7 326.3 393.4 326.8 392.9 327.4 392.4 327.9 391.8 328.3 391 328.8 390.4 329 389.6 329.3 388.9 329.5 387.9 329.8 387.4 329.8Z" fill="#dcdcdc" stroke="#3a3a3a" stroke-width="0.6"/>
<path d="M387.3 311.3 387.8 310.8 388 310.3 388.3 309.3 388.1 308.3 387.8 307.8 386.9 307.7 386.4 308.1 386 308.8 385.9 309.3 385.9 310.3 386.1 310.8 386.5 311.3 387.3 311.3Z" fill="#dcdcdc" stroke="#3a3a3a" stroke-width="0.6"/>
<path d="M381.9 329.8 380.9 329.8 379.9 329.8 378.9 329.8 377.9 329.8 376.9 329.8 375.9 329.8 374.9 329.8 373.9 329.8 372.9 329.8 371.9 329.8 370.9 329.8 370.4 329.8 369.9 329.3 369.4 328.8 368.9 328 368.9 327.3 368.9 326.3 368.9 325.3 368.9 324.3 368.9 323.3 368.9 322.3 368.9 321.3 368.9 320.3 368.9 319.3 368.9 318.3 369 317.8 369.4 316.8 369.7 316.3 369.9 315.8 370.4 315 370.9 314.3 371.3 313.8 371.7 313.3 372.1 312.8 372.5 312.3 373 311.8 373.5 311.3 374.1 310.8 374.7 310.3 375.4 309.8 375.9 309.6 376.6 309.3 377.4 309.1 378.4 309.1 379.1 309.3 379.7 309.8 380 310.3 380.4 310.9 380.9 311.7 381.3 312.3 381.7 312.8 382.1 313.3 382.5 313.8 382.9 314.3 383.4 314.9 383.9 315.6 384.3 316.3 384.6 316.8 384.9 317.3 385.3 318.3 385.5 318.8 385.8 319.8 385.9 320.5 386.2 321.3 386.4 321.9 386.9 322.6 387.4 323 388.4 322.8 388.5 322.3 388.4 321.3 388.4 320.8 388.3 319.8 388.3 318.8 388.4 318.3 388.6 317.3 388.9 316.3 389 315.8 389.4 314.8 389.5 314.3 389.9 313.3 390 312.8 390.4 311.8 390.5 311.3 390.8 310.3 391 309.8 391.2 308.8 391.4 307.9 391.5 307.3 391.4 306.3 391.4 305.8 391 304.8 390.7 304.3 390.4 303.6 390.1 302.8 390 301.8 390.3 300.8 390.6 300.3 391 299.8 391.5 299.3 392.2 298.8 392.9 298.5 393.4 298.3 394.4 298.2 395.2 298.3 395.9 298.7 396.4 299.3 396.7 299.8 396.9 300.8 396.9 301.3 396.9 302.1 396.8 302.8 396.7 303.8 396.7 304.8 396.7 305.8 396.7 306.8 396.8 307.8 396.9 308.8 396.9 309.3 397 310.3 397 311.3 396.9 312.3 396.9 312.8 396.7 313.8 396.6 314.8 396.4 315.7 396.3 316.3 396 317.3 395.8 317.8 395.5 318.8 395.3 319.3 394.9 320.1 394.6 320.8 394.3 321.3 393.9 321.9 393.4 322.6 392.9 323.2 392.4 323.7 391.9 324.1 391.4 324.4 390.5 324.8 389.9 324.9 389.1 325.3 388.6 325.8 388.2 326.3 387.8 326.8 387.2 327.3 386.6 327.8 385.9 328.3 385.4 328.6 384.9 328.8 383.9 329.3 383.4 329.5 382.4 329.8 381.9 329.8Z" fill="#d6d6d6" stroke="#3a3a3a" stroke-width="0.6"/>
<path d="M392.9 318.2 392 317.8 391.8 317.3 391.7 316.3 391.8 315.3 391.9 314.5 392.1 313.8 392.4 312.8 392.6 312.3 392.9 311.7 393.4 311.1 394.4 311.2 394.6 311.8 394.8 312.8 394.8 313.8 394.6 314.8 394.4 315.8 394.2 316.3 393.9 317 393.4 317.8 392.9 318.2Z" fill="#cecece" stroke="#3a3a3a" stroke-width="0.6"/>
<path d="M377.4 329.4 376.4 329.5 375.4 329.6 374.4 329.6 373.4 329.5 372.8 329.3 371.9 328.9 371.4 328.6 370.9 328.1 370.4 327.5 370 326.8 369.8 326.3 369.6 325.3 369.5 324.3 369.5 323.3 369.7 322.3 369.8 321.3 370 320.8 370.3 319.8 370.5 319.3 370.9 318.5 371.3 317.8 371.7 317.3 372.2 316.8 372.8 316.3 373.4 315.9 373.9 315.7 374.9 315.3 375.4 315.2 376.4 315.2 377 315.3 377.9 315.6 378.4 315.8 379.2 316.3 379.7 316.8 380.2 317.3 380.5 317.8 380.9 318.7 381.1 319.3 381.4 320.3 381.5 320.8 381.8 321.8 382 322.3 382.4 323.1 382.8 323.8 383.1 324.3 383.4 325 383.6 325.8 383.4 326.8 383 327.3 382.4 327.8 381.9 328.1 381.4 328.3 380.4 328.7 379.9 328.8 378.9 329.1 377.9 329.3 377.4 329.4Z" fill="#cecece" stroke="#3a3a3a" stroke-width="0.6"/>
<path d="M377.4 327.9 376.4 328.1 375.4 328.2 374.4 328.2 373.4 328 372.9 327.8 372.3 327.3 371.8 326.8 371.4 326.1 371.2 325.3 371.1 324.3 371.2 323.3 371.3 322.3 371.5 321.8 371.9 320.8 372.2 320.3 372.6 319.8 373.2 319.3 373.9 318.9 374.4 318.7 375.4 318.7 375.9 318.9 376.6 319.3 377.1 319.8 377.4 320.3 377.9 321.2 378.2 321.8 378.4 322.3 378.9 323.1 379.3 323.8 379.6 324.3 379.9 324.9 380.1 325.8 379.9 326.4 379.4 327 378.9 327.3 377.9 327.7 377.4 327.9Z" fill="#c4c4c4" stroke="#3a3a3a" stroke-width="0.6"/>
</g>
<path d="M369.9 296.9V328.8H394.8" fill="none" stroke="#111" stroke-width="2.0"/>
<rect x="368.9" y="258.3" width="72" height="71.5" fill="none" stroke="#555" stroke-width="0.9"/>
<rect x="402.6" y="271" width="30.8" height="20.8" fill="none" stroke="#666" stroke-width="0.7"/>
<text x="432.7" y="268.8" font-size="7.8" text-anchor="end" fill="#111">2.3</text>
<clipPath id="cp8"><rect x="446.5" y="258.3" width="72" height="71.5"/></clipPath>
<g clip-path="url(#cp8)">
<path d="M479 329.8 477.5 329.8 476 329.8 474.5 329.8 473 329.8 471.5 329.8 470 329.8 468.5 329.8 467 329.8 465.5 329.8 464 329.8 462.5 329.8 461 329.8 459.5 329.8 458 329.8 456.5 329.8 455 329.8 453.5 329.8 452 329.8 450.5 329.8 449 329.8 447.5 329.8 446.5 329.8 446.5 328.3 446.5 326.8 446.5 325.3 446.5 323.8 446.5 322.3 446.5 320.8 446.5 319.3 446.5 317.8 446.5 316.3 446.5 314.8 446.5 313.3 446.5 311.8 446.5 310.3 446.5 308.8 446.5 307.3 446.5 305.8 446.5 304.3 446.5 302.8 446.5 301.3 446.5 299.8 446.5 298.3 447 297.3 448 296.8 449 296.3 450 295.9 451 295.5 452 295.1 453 294.7 454 294.3 455.4 293.8 456.5 293.4 457.5 293 458.5 292.7 459.6 292.3 461 291.9 462 291.5 463 291.2 464.3 290.8 465.5 290.4 466.5 290 467.5 289.6 468.5 289.1 469.5 288.5 470.5 287.9 471.5 287.4 472.5 286.8 473.5 286.4 474.5 286.1 476 285.8 477.5 285.8 479 285.8 480 285.8 481.5 285.5 482.5 285.3 484 284.9 485 284.6 486.5 284.3 487.5 284.1 489 283.8 490 283.7 491.5 283.6 493 283.6 494.5 283.7 495.5 283.8 497 284.2 498 284.6 499 285.1 499.7 285.8 500.3 286.8 500.2 288.3 499.7 289.3 499 290.2 498.4 290.8 497.5 291.6 496.5 292.3 495.7 292.8 494.9 293.3 494 293.9 493 294.5 492 295.1 491 295.8 490.4 296.3 489.5 297.1 488.7 297.8 488 298.5 487.3 299.3 486.7 300.3 486.3 301.3 486 302.3 485.6 303.8 485.5 304.8 485.3 306.3 485.1 307.8 484.9 308.8 484.8 310.3 484.6 311.8 484.5 312.8 484.2 314.3 484 315.4 483.7 316.8 483.5 317.8 483.1 319.3 482.8 320.3 482.5 321.4 482.1 322.8 481.8 323.8 481.5 324.8 481 326.3 480.6 327.3 480.2 328.3 479.8 329.3 479 329.8Z" fill="#f0f0f0" filter="url(#hz)"/>
<path d="M477 329.8 475.5 329.8 474 329.8 472.5 329.8 471 329.8 469.5 329.8 468 329.8 466.5 329.8 465 329.8 463.5 329.8 462 329.8 460.5 329.8 459 329.8 457.5 329.8 456 329.8 454.5 329.8 453 329.8 451.5 329.8 450 329.8 448.5 329.8 447 329.8 446.5 329.3 446.5 327.8 446.5 326.3 446.5 324.8 446.5 323.3 446.5 321.8 446.5 320.3 446.5 318.8 446.5 317.3 446.5 315.8 446.5 314.3 446.5 312.8 446.5 311.3 446.5 309.8 446.5 308.3 446.5 306.8 446.5 305.3 446.5 303.8 446.5 302.3 446.5 300.8 447 299.9 448 299.4 449 299 450 298.5 451 298.1 452 297.7 453 297.2 454 296.8 455.1 296.3 456.2 295.8 457.3 295.3 458.4 294.8 459.5 294.3 460.5 293.9 461.5 293.4 462.5 293 463.5 292.7 464.5 292.3 465.8 291.8 467 291.3 468 290.9 469 290.5 470 290 471 289.5 472 289.1 473 288.8 474.5 288.3 475.5 288.2 477 288 478.2 287.8 479.5 287.5 480.5 287.2 481.6 286.8 483 286.3 484 286 485 285.6 486.3 285.3 487.5 285 488.9 284.8 490 284.7 491.5 284.6 493 284.6 494.3 284.8 495.5 285.1 496.5 285.5 497.5 286.1 498 286.8 498.2 288.3 497.8 289.3 497 290.2 496.4 290.8 495.5 291.5 494.5 292.1 493.5 292.6 492.5 293.1 491.5 293.6 490.5 294.1 489.5 294.6 488.5 295.1 487.5 295.8 487 296.3 486.1 297.3 485.5 298.1 485 299 484.5 300.3 484.3 301.3 484 302.6 483.8 303.8 483.6 305.3 483.5 306.4 483.4 307.8 483.2 309.3 483 310.8 482.9 311.8 482.6 313.3 482.5 314.3 482.1 315.8 481.9 316.8 481.5 318.3 481.2 319.3 480.9 320.3 480.5 321.5 480.1 322.8 479.7 323.8 479.4 324.8 479 326 478.5 327.3 478.1 328.3 477.6 329.3 477 329.8Z" fill="#e4e4e4" filter="url(#hz)"/>
<path d="M475.5 329.8 474 329.8 472.5 329.8 471 329.8 469.5 329.8 468 329.8 466.5 329.8 465 329.8 463.5 329.8 462 329.8 460.5 329.8 459 329.8 457.5 329.8 456 329.8 454.5 329.8 453 329.8 451.5 329.8 450 329.8 448.5 329.8 447 329.8 446.5 329.3 446.5 327.8 446.5 326.3 446.5 324.8 446.5 323.3 446.5 321.8 446.5 320.3 446.5 318.8 446.5 317.3 446.5 315.8 446.5 314.3 446.5 312.8 446.5 311.3 446.5 309.8 446.5 308.3 446.5 306.8 446.5 305.3 446.5 303.8 446.5 302.3 447.3 301.8 448.3 301.3 449.4 300.8 450.5 300.3 451.5 299.9 452.5 299.5 453.5 299.2 454.5 298.8 455.7 298.3 456.8 297.8 457.8 297.3 458.7 296.8 459.6 296.3 460.5 295.8 461.5 295.2 462.5 294.7 463.5 294.2 464.5 293.7 465.5 293.3 466.6 292.8 467.8 292.3 469 291.8 470 291.4 471 291 472 290.6 473.1 290.3 474.5 290 475.9 289.8 477 289.6 478.5 289.4 479.5 289 480.5 288.6 481.5 288.1 482.5 287.6 483.5 287.2 484.5 286.8 485.9 286.3 487 286 488 285.8 489.5 285.6 491 285.5 492.5 285.6 493.7 285.8 495 286.2 495.8 286.8 496.4 287.8 496 289.2 495.5 289.9 494.5 290.8 493.7 291.3 492.8 291.8 491.8 292.3 490.5 292.8 489.5 293.2 488.5 293.5 487.5 293.9 486.5 294.3 485.5 294.8 484.5 295.8 484 296.7 483.5 297.7 483.1 298.8 482.9 299.8 482.6 301.3 482.4 302.3 482.3 303.8 482.1 305.3 482 306.3 481.8 307.8 481.7 309.3 481.5 310.8 481.4 311.8 481.1 313.3 480.9 314.3 480.6 315.8 480.3 316.8 480 318 479.6 319.3 479.3 320.3 478.9 321.3 478.5 322.6 478.1 323.8 477.8 324.8 477.4 325.8 477 327 476.5 328.2 476 329.2 475.5 329.8Z" fill="#d8d8d8" filter="url(#hz)"/>
<path d="M481.8 315.2h.7M460.2 287.7h.7M478.1 325h.7M479.3 320.9h.7M457.6 299.6h.7M449.6 299h.7M480.9 313.4h.7M456.1 299.6h.7M465.9 294.3h.7M469.3 292.8h.7M477.8 328.7h.7M488.5 323.6h.7M483.2 294.3h.7M460.1 293.6h.7M483.8 325.3h.7M485.9 300.3h.7M477.9 328.4h.7M457.4 300.6h.7M477.6 326.8h.7M478 326.1h.7M480.1 326.9h.7M477.5 291.2h.7M481.2 316.5h.7M475.6 275.4h.7M467.8 281h.7M466.6 285.4h.7M483.3 313h.7M477.6 287.8h.7M459.4 293.6h.7M480.1 311.9h.7M485.7 277.6h.7M479.4 314.4h.7M481.6 288.3h.7M479.3 319.2h.7M468.4 289.6h.7M479.7 312.8h.7M460.2 286.4h.7M476.4 287.6h.7M480 319.1h.7M457.2 292.5h.7M489.7 304.6h.7M486.4 322h.7M481.3 302h.7M482.7 295.6h.7M482.5 307.6h.7M473.4 290.3h.7M467.3 293.1h.7M483.1 307.1h.7M467.4 277.5h.7M483.7 325.9h.7M477.2 322.1h.7M461.4 294.5h.7M482.7 326.1h.7M468.3 288.5h.7M464 294.8h.7M463.7 296.2h.7M485.1 304.8h.7M464.1 282.2h.7M485.8 299.8h.7M475.5 280.7h.7M468.7 290.6h.7M485.9 293.7h.7M446.7 295.7h.7M486.5 299.6h.7M453.7 293.6h.7M457.1 298.4h.7M484 307.5h.7M481.7 315h.7M454.7 300.3h.7M482.3 297.2h.7M485.2 299.2h.7M483.1 304.1h.7M492.1 293.2h.7M464.6 291.9h.7M480 316.4h.7M483.9 304.7h.7M479.3 322.5h.7M483.3 296.4h.7M486.2 313.3h.7M481.8 294.8h.7M496.7 292.2h.7M451.8 298.3h.7M482.1 305.8h.7M467.4 293.3h.7M494.3 311.9h.7M459.1 297.4h.7M476.6 326.7h.7M469.2 292h.7M483.9 304.9h.7M464.6 294.7h.7M454.7 298.3h.7M469.7 292.5h.7M457.2 294.7h.7M488.2 311.3h.7M458.5 296.8h.7M462.4 293.7h.7M451.1 294.2h.7M457.3 300.1h.7M466 292.6h.7M485.2 298.6h.7M454.4 291.8h.7M464.1 293.8h.7M458.5 299.1h.7M458.1 289.4h.7M481.6 297.8h.7M482.5 307.8h.7M467.3 291.1h.7M457.3 284.4h.7M455.6 296.2h.7M474.1 288.9h.7M459.2 296.8h.7M461.4 291.9h.7M492.8 307.7h.7M473.6 289.3h.7M462.8 292h.7M446.7 287.7h.7M495.3 299.2h.7M461.9 291.8h.7M483.2 307.1h.7M467.9 290.3h.7M460 297h.7M460.7 286.7h.7M482.7 303.4h.7M467.5 285.7h.7M477.3 292.1h.7M490.8 293.6h.7M484.9 292.8h.7M490.3 281.9h.7M493 282.2h.7M495.9 296.9h.7M503.9 289.9h.7M474.3 286.4h.7M503.6 291.3h.7M504.9 295.7h.7M480.4 286h.7M480.7 286.9h.7M475.2 287.6h.7M486.6 296.8h.7M483.9 294.3h.7M489.3 280.4h.7M486.6 287.3h.7M494.9 286.9h.7M492.4 294.6h.7M465 294.8h.7M499.4 286.9h.7M488.4 284.6h.7M496.9 290.3h.7M484.9 284h.7M498.8 288h.7M477.2 291.8h.7M503.8 290.8h.7M500.6 291.9h.7M476.6 285.3h.7M495.8 287.3h.7M483.1 289.7h.7M476.7 275.5h.7M483.4 287.9h.7M481.9 291.2h.7M493 287.1h.7M499.7 288.4h.7M469.4 288.6h.7M487.4 282.3h.7M489 281.4h.7M495.2 285.3h.7M493.7 298.8h.7M469.6 290.7h.7M487.9 293.1h.7M479.9 291.9h.7M486.3 292.9h.7M474.6 289.8h.7M492.8 292.9h.7M482 285.3h.7M474.3 290.9h.7M503.3 289.9h.7M496.6 293.5h.7M493.8 294.6h.7M481.2 295.8h.7M479.3 285.2h.7M502.3 290.8h.7M483.3 297.3h.7M496 286.9h.7M507.1 286.2h.7M472.2 287.2h.7M475.4 286.6h.7M492.1 285.6h.7M484.8 286.9h.7M496.6 284.6h.7M489.7 284.6h.7M494.1 283.3h.7M478.4 286.3h.7M497.4 299.7h.7M453.4 297.9h.7M498.9 309.1h.7M464.5 282.9h.7M464.5 285.2h.7M451 300.9h.7M510.5 296.2h.7M471.4 293.1h.7M488.4 285.3h.7M485.6 293.1h.7M468.5 294.2h.7M465.8 291.3h.7M453.4 296.4h.7M493.9 289.8h.7M456.8 294.8h.7M498.6 294.8h.7M490.6 293.2h.7M486.6 301.1h.7M483.3 294h.7M483.9 305h.7M459.5 294.4h.7M510.7 297.5h.7M492.5 304h.7M463.1 296.1h.7M485.1 302.6h.7M469.9 291.3h.7M484.3 320.1h.7M480.3 313.8h.7M480 325.8h.7M485.6 319.5h.7M481.3 277.7h.7M481.2 309.4h.7M483.1 278.8h.7M483.3 317.1h.7M480 325h.7M486.2 313.4h.7M492.8 317.1h.7M479 292.2h.7M460.2 283.4h.7M485 318.8h.7M484.3 303.3h.7M488 301.8h.7M491.5 320.6h.7M480.7 302.2h.7M484.8 315.4h.7M483.5 308.7h.7M484.5 298.7h.7M482.8 300.5h.7M469.8 285.4h.7M480.6 301.4h.7M483.7 295.3h.7M483.1 287.6h.7M482.4 323.7h.7M477.4 323.7h.7M485.6 304.3h.7M484.4 314.9h.7M483.3 303.2h.7M476.8 276.3h.7M481 316.3h.7M490.1 307h.7M482.4 303.3h.7M483.9 307.2h.7M482.9 310.9h.7M479.3 316.3h.7M479 286h.7M486.3 297.1h.7M485.1 287.2h.7M495.3 310.3h.7M490 327.7h.7M482.6 317.8h.7M486.9 313.7h.7M485.2 318.7h.7M483.7 295.7h.7M475.4 329h.7M484.1 318.6h.7M493.2 303.2h.7M485.3 318.2h.7M478.1 319.3h.7M481.9 304.7h.7M480.1 326.1h.7M475.1 286h.7M483.1 294h.7M488.9 305.3h.7M489.9 311.3h.7M481.2 318.7h.7M490.2 317h.7M481.3 318.9h.7M487.8 313.5h.7M490.3 301.4h.7M481.6 306h.7M479 317.8h.7M481.4 311.4h.7M490.1 314.2h.7M480.3 313h.7M493.4 305.6h.7M479.6 326h.7M485.9 316.3h.7M484.4 316.9h.7M489.1 308.7h.7M485.1 318.9h.7M486.9 308.4h.7M488.8 305.3h.7M483.1 327.1h.7M487.7 303.8h.7M479.9 311.5h.7M488.6 317.9h.7M484.6 315.5h.7M467.7 289.1h.7M484.9 303.2h.7M482.8 304.1h.7M488 306.9h.7M471.4 293.1h.7M483.2 304.3h.7M491.4 297.5h.7M488.2 302.2h.7M470.7 292.9h.7M489.8 314.8h.7M484.9 295.6h.7M484.4 309.6h.7M484.4 277.3h.7M486.1 307.6h.7M480.6 301.2h.7M483 297.9h.7M487.1 295.2h.7M482.6 283.3h.7M487.7 296.3h.7M486.2 281.9h.7M485.2 316.9h.7M485.2 319h.7M486.9 305h.7M483.5 304.1h.7M484.9 310.7h.7M483 315.8h.7M494.6 294.7h.7M482 328h.7M480.8 327.9h.7M483.3 314h.7M493.8 313.6h.7M485.5 305h.7M488.5 314.7h.7M478.7 318h.7M487.4 311.4h.7M489.3 312.8h.7M494.7 310.8h.7M481.6 304.1h.7M485.6 314.5h.7M475.7 292h.7M486.3 321.7h.7M480.9 301.3h.7M483.2 304.3h.7M471.9 291.6h.7M491.2 309.4h.7M491.3 318.8h.7M483.6 303.4h.7M478.5 325.8h.7M485.6 324.1h.7M470.4 289.3h.7M478.6 320.9h.7M484.5 314.2h.7M492.2 326.2h.7M492.2 316.8h.7M486 293.2h.7M492.1 285.4h.7M480.6 307.1h.7M481 314.1h.7M487.3 328.4h.7M484.5 314.3h.7M480.4 319.8h.7M486 320.2h.7M483.3 307.9h.7M485 304.2h.7M483.1 328.2h.7M481.8 308.5h.7M487.2 323.1h.7M483.7 327.7h.7M481.8 311.5h.7M491.5 328.6h.7M482.3 308.2h.7M486.4 296.1h.7M483.4 294.6h.7M477 283.2h.7M485.4 303.5h.7M483 327.5h.7M483.7 307.7h.7M468.7 281.8h.7M488.5 304.1h.7M479.8 317.4h.7M477.8 288.9h.7M477.6 326.3h.7M484.4 310.2h.7M484.3 302.5h.7M480.1 310h.7M484.7 308h.7M482.3 315.6h.7M490.2 296.7h.7M488.4 316.9h.7M489.6 307.1h.7M487 308.3h.7M494.6 287.8h.7M488.7 313.8h.7M482.8 319.3h.7M494.6 303.1h.7M471.2 270.8h.7M469.6 280.4h.7M475.8 329.1h.7M478.4 329.6h.7M481.6 310.7h.7M484.8 306.7h.7M486 316h.7M493.4 299.7h.7M485.4 303.4h.7M485.7 306.9h.7M481.2 315.5h.7M482.6 323.3h.7M490 299.5h.7M478.1 319.6h.7M483.6 299.7h.7M475.9 327.4h.7M490 309.7h.7M483.7 299.7h.7M488.2 308.2h.7M482.5 319.6h.7M480.9 314.6h.7M488.6 298.6h.7M469.6 288.6h.7M446.9 299h.7M461.8 286.5h.7M452.6 283.3h.7M465.6 293.8h.7M475.9 287h.7M469.7 286.3h.7M474.9 287.5h.7M456.8 290.9h.7M473.7 288.6h.7M450.9 298.8h.7M451.7 297.6h.7M452.4 296.6h.7M454 295.9h.7M465.5 295.5h.7M454.3 292.7h.7M478.7 288.5h.7M463.5 291.9h.7M452.3 291.1h.7M466.3 282.2h.7M454.3 298.5h.7M469.3 292.9h.7M452.1 288h.7M460 285.2h.7M465.6 293h.7M448.9 298.9h.7M466.7 283.2h.7M452.3 291h.7M463 296.7h.7M465 291.7h.7M449.9 295h.7M450.1 293h.7M452.7 288.8h.7M460 292.7h.7M463.4 286.4h.7M471.5 287.1h.7M454.5 295.2h.7M467.2 285.1h.7M464.2 293.5h.7M463.3 296.7h.7M453.4 298.1h.7M469 285.9h.7M460.8 297h.7M469.2 283.8h.7M457.4 288.9h.7M465 275.4h.7M472.9 278.1h.7M472.2 286.7h.7M455.2 297h.7M478.8 284.1h.7M468.1 292.7h.7M460.9 287.1h.7M468.2 294.1h.7M461.9 286.5h.7M454 289.9h.7M463.9 291.5h.7M461 296.3h.7M471.9 283.1h.7M470.4 283.4h.7M465.7 289h.7M453.8 298.3h.7M448.5 296.7h.7M472.6 286.2h.7M452.9 288.9h.7M453.6 293.3h.7M458.6 290.4h.7M459.7 286.5h.7M447.4 296.9h.7M452.1 296.8h.7M453.5 295.7h.7M456.7 295.2h.7M454.7 295.6h.7M449.5 295.7h.7M460.2 296.7h.7M470.6 286.4h.7M473 287.5h.7M449.6 294.3h.7M479.8 286.5h.7M455.7 297.2h.7M474.6 291.7h.7M453 295.4h.7M466.6 291.7h.7M469.4 283.8h.7M462.6 287.1h.7M461.2 287.3h.7M465.3 292h.7M457.1 292.7h.7M464 295.4h.7M452.2 293.3h.7M467.9 292.4h.7M477.2 291.7h.7M447.7 295.4h.7M478.5 290.7h.7M453.3 290.4h.7M457.7 294.9h.7M469.1 282.8h.7M470 291.3h.7M455.7 294.3h.7M474.6 275.7h.7M479.7 289.5h.7M480.4 286.9h.7M467.9 287.1h.7M479.5 291.9h.7M472.7 289.5h.7M450.7 291.8h.7M459.3 296.7h.7M461.4 297.1h.7M462.5 294.5h.7M453 284.4h.7M459.7 296.4h.7M464.7 290.3h.7M470.8 293.1h.7M465.4 286.2h.7M447.7 286.1h.7M465.9 294.4h.7M472.6 292.1h.7M479.8 291.3h.7M453.7 288.5h.7M459.6 291.6h.7M451.3 291.6h.7M478.9 291.5h.7M468.6 289.8h.7M466.6 293h.7M458.8 294.5h.7M457.4 286.9h.7M458.9 296.6h.7M479.4 287.2h.7M474.7 284.7h.7M473.7 286h.7M452.2 286.3h.7M465.7 289.6h.7M454 293.4h.7M475.2 289.9h.7M458 295.3h.7M467.8 291.5h.7M461.6 294.4h.7M472.6 282.8h.7M461.4 289.4h.7M479.5 290.3h.7M457.6 279.3h.7M467.2 286h.7M450.9 292.3h.7M465.4 293.7h.7M454.7 288h.7M464.6 277h.7M461.4 286.6h.7M447.4 293.8h.7M455 291.1h.7M447.9 287h.7M462.7 293.8h.7M456.1 288.9h.7M478.6 292.2h.7M471.3 292.6h.7M478 287.5h.7M467.6 289.7h.7M459.6 288.2h.7M452.7 291.1h.7M457.8 298h.7M446.6 298.7h.7M476.2 279.9h.7M466.1 292.4h.7M461.6 284.3h.7M477.8 289.9h.7M454.8 297.2h.7M469.9 287h.7M456.4 293.9h.7M463.3 281.4h.7M458.7 292.2h.7M469.8 288.7h.7M479.7 279.7h.7M456.3 292h.7M466.3 286.3h.7M457.8 293.6h.7M474 276.7h.7M455.2 294.9h.7M454.7 297.8h.7M462 293.7h.7M466.1 292.3h.7M468.6 289.6h.7M448.1 293.2h.7M460.3 292.9h.7M460.9 293.7h.7M460.2 276.3h.7M471.7 291.9h.7M446.7 299.2h.7M480.1 289.3h.7M458.7 296.3h.7M451.4 297.9h.7M456 288.7h.7M448.1 291.3h.7M455.6 296.9h.7M464.1 294.2h.7M446.5 289.4h.7M478.8 287h.7M466 295.7h.7M457.9 290.9h.7M464.1 295h.7M451.2 291.9h.7M463.5 284.9h.7M454.1 298.1h.7M447.9 296.4h.7M449.9 292.3h.7M474.5 276.6h.7M453.4 292.7h.7M458 296.5h.7M460.3 282.7h.7M452.1 296.3h.7M457.1 291.6h.7M459.6 289.7h.7M453.3 287.9h.7M467.5 288.5h.7M475.7 282.5h.7M474.4 288.2h.7M454 296.9h.7M465.3 288.2h.7M452.5 290h.7M474.3 292h.7M456.6 290.8h.7M471 289.1h.7M452.7 292.7h.7M455.6 297.6h.7M449 290.5h.7M464.9 293.2h.7M463.8 280.6h.7M451 298.9h.7M456.4 287h.7M478.3 284h.7M466.8 294.2h.7M478.9 287.1h.7M453.2 289.9h.7M467.3 293.9h.7M452.3 282.8h.7M474.2 288.1h.7M451.4 296.9h.7M462.1 286.2h.7M455.3 291.3h.7M453.6 296h.7M470.8 287h.7M471.6 291h.7M460 290.7h.7M471.7 285.9h.7M447 293.9h.7M453.7 291h.7M473.2 288.1h.7M447 293.2h.7M449 295.7h.7M466.1 285h.7M459.2 280.4h.7M461.2 291.8h.7M460.1 294.4h.7M464.7 293.2h.7M468.1 291.4h.7M462.4 294h.7M451.8 292.5h.7M454.7 283.6h.7M456.8 295.1h.7M464.6 292.6h.7M460.1 295.3h.7M454.8 290h.7M466 292.9h.7M461.1 294.7h.7M446.6 296.5h.7M459 295.2h.7M475.8 287.1h.7M473.7 286.6h.7M456.7 287.1h.7M464.7 292.8h.7M478.8 289.8h.7M460.6 293.7h.7M454.2 293.4h.7M469.2 289.6h.7M469.9 293.4h.7M462.9 293.8h.7M464.8 289.5h.7M466.3 289h.7M456.5 280.2h.7M471.7 292h.7M453.7 286.7h.7M450.4 292.1h.7M467.8 283.6h.7M479 291.8h.7M462.3 290.9h.7M459 297.5h.7M449.3 282.4h.7M448.5 294.3h.7M447.5 294.7h.7M457.7 294.3h.7M473.3 282.3h.7M467.5 284.2h.7M453.7 296.4h.7M454 292.2h.7M474.5 287.8h.7M478.2 287.2h.7M448.3 293.3h.7M476.8 289.9h.7M465.4 292.9h.7M452.8 296.5h.7M465.2 294.8h.7M458.2 292h.7M470.1 289.3h.7M455.6 296.1h.7M449 296.3h.7M467.7 291.8h.7M476.1 284.4h.7M472.3 281.5h.7M462.3 296.5h.7M459.9 297.5h.7M465.1 291.7h.7M447.1 299.1h.7M472.5 291.7h.7M453.5 293.5h.7M467.8 285.5h.7M451.4 295.9h.7M449.2 294.2h.7M464.6 295.4h.7M477 291.5h.7M449.3 290h.7M469.6 293.2h.7M463.4 295.9h.7M463.2 296.7h.7M479.5 289.7h.7M461 297h.7M454 297.5h.7M473.1 289.2h.7M476.6 328.2h.7M479.9 263.5h.7M483.5 312.3h.7M478.6 276h.7M491.5 318.3h.7M515.7 262.1h.7M508 261.4h.7M510.9 316.4h.7M493.8 297.3h.7M450.2 299.2h.7M473 270.3h.7M468.5 280.7h.7M511 261h.7M457.6 270.7h.7M498 277.6h.7M489.6 296.1h.7" stroke="#6a6a6a" stroke-width="0.55" fill="none"/>
<path d="M485 292.3 484 292.3 483.5 292.3 482.5 292.1 482 291.8 482 291.1 482.4 290.3 482.8 289.8 483.3 289.3 483.9 288.8 484.5 288.4 485 288.2 485.8 287.8 486.5 287.6 487.4 287.3 488 287.2 489 287 490 287 491 287 492 287.2 492.5 287.4 493.1 287.8 493.4 288.8 493 289.5 492.5 290 492 290.4 491.3 290.8 490.5 291.2 490 291.4 489 291.7 488.5 291.8 487.5 292 486.5 292.2 485.5 292.3 485 292.3Z" fill="#909090" stroke="#fff" stroke-width="1.8"/>
<path d="M473 329.8 472 329.8 471 329.8 470 329.8 469 329.8 468 329.8 467 329.8 466 329.8 465 329.8 464 329.8 463 329.8 462 329.8 461 329.8 460 329.8 459 329.8 458 329.8 457 329.8 456 329.8 455 329.8 454 329.8 453 329.8 452 329.8 451 329.8 450 329.8 449 329.8 448 329.8 447 329.8 446.5 329.8 446.5 328.8 446.5 327.8 446.5 326.8 446.5 325.8 446.5 324.8 446.5 323.8 446.5 322.8 446.5 321.8 446.5 320.8 446.5 319.8 446.5 318.8 446.5 317.8 446.5 316.8 446.5 315.8 446.5 314.8 446.5 313.8 446.5 312.8 446.5 311.8 446.5 310.8 446.5 309.8 446.5 308.8 446.5 307.8 446.5 306.8 446.5 305.8 446.5 304.8 447 304.4 447.5 304.1 448.1 303.8 449 303.3 449.5 303.1 450.2 302.8 451 302.4 451.5 302.3 452.5 301.9 453 301.7 454 301.4 454.5 301.2 455.5 300.9 456 300.8 457 300.4 457.5 300.3 458.5 299.9 459 299.7 459.8 299.3 460.5 298.9 461 298.5 461.5 298.1 462 297.8 462.6 297.3 463.2 296.8 463.9 296.3 464.5 295.9 465 295.6 465.5 295.3 466.4 294.8 467 294.5 467.5 294.3 468.5 293.8 469 293.6 469.7 293.3 470.5 293 471 292.8 472 292.5 472.9 292.3 473.5 292.2 474.5 292.1 475.5 292 476.5 292.1 477.5 292.1 478.5 292.3 479 292.3 480 292.6 480.5 292.8 480.9 293.8 480.9 294.8 480.9 295.8 480.9 296.8 480.8 297.8 480.7 298.8 480.6 299.8 480.5 300.3 480.4 301.3 480.3 302.3 480.2 303.3 480.1 304.3 480 305.3 480 305.8 479.9 306.8 479.8 307.8 479.7 308.8 479.6 309.8 479.5 310.8 479.4 311.3 479.3 312.3 479.1 313.3 479 313.9 478.8 314.8 478.6 315.8 478.5 316.3 478.2 317.3 478 318.1 477.8 318.8 477.5 319.8 477.3 320.3 477 321.3 476.8 321.8 476.5 322.8 476.3 323.3 476 324.3 475.8 324.8 475.5 325.7 475.3 326.3 475 327 474.6 327.8 474.4 328.3 474 329 473.5 329.7 473 329.8Z" fill="#909090" stroke="#fff" stroke-width="1.8"/>
<path d="M487.5 291.3 486.5 291.4 485.5 291.3 485 291.2 484.3 290.8 484.3 289.8 484.7 289.3 485.4 288.8 486 288.5 486.5 288.2 487.5 287.9 488 287.8 489 287.6 490 287.6 491 287.8 491.5 288 492 288.7 492 288.9 491.5 289.7 491 290.1 490.5 290.4 489.6 290.8 489 291 488 291.2 487.5 291.3Z" fill="#a6a6a6" stroke="#555" stroke-width="0.6"/>
<path d="M472.5 329.8 471.5 329.8 470.5 329.8 469.5 329.8 468.5 329.8 467.5 329.8 466.5 329.8 465.5 329.8 464.5 329.8 463.5 329.8 462.5 329.8 461.5 329.8 460.5 329.8 459.5 329.8 458.5 329.8 457.5 329.8 456.5 329.8 455.5 329.8 454.5 329.8 453.5 329.8 452.5 329.8 451.5 329.8 450.5 329.8 449.5 329.8 448.5 329.8 447.5 329.8 446.5 329.8 446.5 329.3 446.5 328.3 446.5 327.3 446.5 326.3 446.5 325.3 446.5 324.3 446.5 323.3 446.5 322.3 446.5 321.3 446.5 320.3 446.5 319.3 446.5 318.3 446.5 317.3 446.5 316.3 446.5 315.3 446.5 314.3 446.5 313.3 446.5 312.3 446.5 311.3 446.5 310.3 446.5 309.3 446.5 308.3 446.5 307.3 446.5 306.3 446.5 305.6 447 305.3 447.8 304.8 448.5 304.4 449 304.1 449.7 303.8 450.5 303.4 451 303.2 452 302.8 452.5 302.6 453.5 302.3 454 302.1 455 301.8 455.5 301.7 456.5 301.4 457 301.2 458 300.9 458.5 300.8 459.5 300.4 460 300.1 460.6 299.8 461.4 299.3 462 298.8 462.5 298.4 463 298 463.5 297.6 464 297.1 464.5 296.8 465.2 296.3 465.9 295.8 466.5 295.5 467 295.2 467.7 294.8 468.5 294.4 469 294.2 470 293.8 470.5 293.6 471.5 293.3 472 293.2 473 292.9 474 292.8 475 292.8 476 292.9 477 293.1 477.7 293.3 478.5 293.7 479 294.1 479.4 294.8 479.6 295.3 479.8 296.3 479.9 297.3 479.9 298.3 479.8 299.3 479.7 300.3 479.7 301.3 479.6 302.3 479.5 302.9 479.4 303.8 479.3 304.8 479.3 305.8 479.2 306.8 479.1 307.8 479 308.8 479 309.3 478.9 310.3 478.8 311.3 478.6 312.3 478.5 313.1 478.4 313.8 478.2 314.8 478 315.6 477.8 316.3 477.6 317.3 477.5 317.8 477.2 318.8 477 319.4 476.7 320.3 476.5 320.9 476.2 321.8 476 322.4 475.7 323.3 475.5 323.9 475.2 324.8 475 325.3 474.6 326.3 474.4 326.8 474 327.7 473.7 328.3 473.4 328.8 473 329.3 472.5 329.8Z" fill="#a6a6a6" stroke="#555" stroke-width="0.6"/>
<path d="M488.5 289.9 487.5 289.9 487.4 289.3 488 289.1 489 289 489 289.6 488.5 289.9Z" fill="#bcbcbc" stroke="#3a3a3a" stroke-width="0.6"/>
<path d="M471.5 329.8 470.5 329.8 469.5 329.8 468.5 329.8 467.5 329.8 466.5 329.8 465.5 329.8 464.5 329.8 463.5 329.8 462.5 329.8 461.5 329.8 460.5 329.8 459.5 329.8 458.5 329.8 457.5 329.8 456.5 329.8 455.5 329.8 454.5 329.8 453.5 329.8 452.5 329.8 451.5 329.8 450.5 329.8 449.5 329.8 448.5 329.8 447.5 329.8 446.5 329.8 446.5 329.3 446.5 328.3 446.5 327.3 446.5 326.3 446.5 325.3 446.5 324.3 446.5 323.3 446.5 322.3 446.5 321.3 446.5 320.3 446.5 319.3 446.5 318.3 446.5 317.3 446.5 316.3 446.5 315.3 446.5 314.3 446.5 313.3 446.5 312.3 446.5 311.3 446.5 310.3 446.5 309.3 446.5 308.3 446.5 307.3 446.5 306.7 447.1 306.3 447.8 305.8 448.5 305.4 449 305.1 449.5 304.8 450.5 304.3 451 304.1 451.7 303.8 452.5 303.5 453 303.3 454 303 454.5 302.8 455.5 302.5 456.3 302.3 457 302.1 458 301.8 458.5 301.7 459.5 301.3 460 301.1 460.7 300.8 461.5 300.3 462 300 462.5 299.6 463 299.1 463.5 298.7 464 298.2 464.5 297.8 465.1 297.3 465.7 296.8 466.5 296.3 467 296 467.5 295.7 468.2 295.3 469 294.9 469.5 294.7 470.5 294.3 471 294.2 472 293.9 472.5 293.8 473.5 293.7 474.5 293.7 475.5 293.8 476 293.9 477 294.3 477.5 294.6 478 295.1 478.4 295.8 478.6 296.3 478.9 297.3 478.9 298.3 478.9 299.3 478.9 300.3 478.8 301.3 478.7 302.3 478.7 303.3 478.6 304.3 478.5 305.1 478.5 305.8 478.4 306.8 478.3 307.8 478.3 308.8 478.2 309.8 478.1 310.8 478 311.6 477.9 312.3 477.8 313.3 477.6 314.3 477.5 314.8 477.3 315.8 477 316.8 476.9 317.3 476.6 318.3 476.5 318.8 476.2 319.8 476 320.4 475.7 321.3 475.5 321.9 475.2 322.8 475 323.3 474.7 324.3 474.5 324.8 474.1 325.8 473.9 326.3 473.5 327.1 473.1 327.8 472.8 328.3 472.5 328.8 472 329.4 471.5 329.8Z" fill="#bcbcbc" stroke="#3a3a3a" stroke-width="0.6"/>
<path d="M470 329.8 469 329.8 468 329.8 467 329.8 466 329.8 465 329.8 464 329.8 463 329.8 462 329.8 461 329.8 460 329.8 459 329.8 458 329.8 457 329.8 456 329.8 455 329.8 454 329.8 453 329.8 452 329.8 451 329.8 450 329.8 449 329.8 448 329.8 447 329.8 446.5 329.8 446.5 328.8 446.5 327.8 446.5 326.8 446.5 325.8 446.5 324.8 446.5 323.8 446.5 322.8 446.5 321.8 446.5 320.8 446.5 319.8 446.5 318.8 446.5 317.8 446.5 316.8 446.5 315.8 446.5 314.8 446.5 313.8 446.5 312.8 446.5 311.8 446.5 310.8 446.5 309.8 446.5 308.8 446.6 308.3 447.1 307.8 447.7 307.3 448.3 306.8 449 306.3 449.5 306 450 305.7 450.8 305.3 451.5 305 452 304.8 453 304.4 453.5 304.2 454.5 303.9 455 303.7 456 303.5 456.6 303.3 457.5 303.1 458.5 302.8 459 302.7 460 302.4 460.5 302.2 461.4 301.8 462 301.5 462.5 301.1 463 300.7 463.5 300.2 464 299.7 464.5 299.2 465 298.7 465.5 298.2 466 297.8 466.6 297.3 467.3 296.8 468 296.4 468.5 296.1 469.1 295.8 470 295.4 470.5 295.2 471.5 294.9 472.2 294.8 473 294.7 474 294.7 474.6 294.8 475.5 295.1 476 295.3 476.6 295.8 477 296.3 477.5 297.2 477.7 297.8 477.8 298.8 477.9 299.8 477.8 300.8 477.8 301.8 477.7 302.8 477.6 303.8 477.5 304.8 477.5 305.3 477.4 306.3 477.4 307.3 477.4 308.3 477.3 309.3 477.2 310.3 477.2 311.3 477 312.3 477 312.8 476.8 313.8 476.7 314.8 476.5 315.5 476.3 316.3 476.1 317.3 476 317.8 475.7 318.8 475.5 319.4 475.2 320.3 475 320.9 474.7 321.8 474.5 322.3 474.1 323.3 473.9 323.8 473.5 324.8 473.3 325.3 473 326.1 472.6 326.8 472.4 327.3 472 327.8 471.5 328.5 471 329 470.5 329.5 470 329.8Z" fill="#d0d0d0" stroke="#3a3a3a" stroke-width="0.6"/>
<path d="M465 329.8 464 329.8 463 329.8 462 329.8 461 329.8 460 329.8 459 329.8 458 329.8 457 329.8 456 329.8 455 329.8 454 329.8 453 329.8 452 329.8 451 329.8 450 329.8 449 329.8 448 329.8 447 329.8 446.5 329.8 446.5 328.8 446.5 327.8 446.5 326.8 446.5 325.8 446.5 324.8 446.5 323.8 446.5 322.8 446.5 321.8 446.5 320.8 446.5 319.8 446.5 318.8 446.5 317.8 446.5 316.8 446.5 315.8 446.5 314.8 446.5 313.8 446.5 312.8 446.5 312.2 446.9 311.3 447.2 310.8 447.5 310.3 448 309.6 448.5 309.1 449 308.6 449.5 308.1 450 307.7 450.6 307.3 451.5 306.8 452 306.5 452.5 306.3 453.5 305.9 454 305.7 455 305.4 455.5 305.2 456.5 305 457.4 304.8 458 304.7 459 304.6 460 304.4 460.8 304.3 461.5 304.2 462.5 303.8 463 303.5 463.5 303.1 464 302.5 464.5 301.8 464.8 301.3 465.1 300.8 465.5 300.3 466 299.6 466.5 299.1 467 298.6 467.5 298.2 468 297.8 468.8 297.3 469.5 296.9 470 296.7 471 296.4 471.5 296.3 472.5 296.1 473.5 296.2 474 296.3 475 296.8 475.5 297.3 475.8 297.8 476.1 298.3 476.3 299.3 476.4 300.3 476.4 301.3 476.4 302.3 476.3 303.3 476.2 304.3 476.1 305.3 476.1 306.3 476.1 307.3 476.1 308.3 476.1 309.3 476 310.3 476 311 475.9 311.8 475.8 312.8 475.7 313.8 475.5 314.8 475.4 315.3 475.2 316.3 475 317.3 474.9 317.8 474.6 318.8 474.4 319.3 474.1 320.3 473.9 320.8 473.5 321.8 473.3 322.3 473 323 472.6 323.8 472.4 324.3 472 325.1 471.6 325.8 471.3 326.3 471 326.8 470.5 327.4 470 327.9 469.4 328.3 468.5 328.8 468 329 467.2 329.3 466.5 329.5 465.5 329.8 465 329.8Z" fill="#dcdcdc" stroke="#3a3a3a" stroke-width="0.6"/>
<path d="M465 311.3 465.5 310.7 465.8 309.8 465.9 308.8 465.5 307.8 465 307.6 464.3 307.8 463.8 308.3 463.5 309.1 463.4 309.8 463.5 310.5 464 311.3 464.5 311.5 465 311.3Z" fill="#dcdcdc" stroke="#3a3a3a" stroke-width="0.6"/>
<path d="M459.5 329.8 458.5 329.8 457.5 329.8 456.5 329.8 455.5 329.8 454.5 329.8 453.5 329.8 452.5 329.8 451.5 329.8 450.5 329.8 449.5 329.8 448.5 329.8 448 329.8 447.5 329.3 447 328.8 446.5 328 446.5 327.3 446.5 326.3 446.5 325.3 446.5 324.3 446.5 323.3 446.5 322.3 446.5 321.3 446.5 320.3 446.5 319.3 446.5 318.3 446.6 317.8 447 316.8 447.3 316.3 447.5 315.8 448 315 448.5 314.3 448.9 313.8 449.3 313.3 449.7 312.8 450.1 312.3 450.6 311.8 451.1 311.3 451.7 310.8 452.3 310.3 453 309.8 453.5 309.6 454.2 309.3 455 309.1 456 309.1 456.7 309.3 457.3 309.8 457.6 310.3 458 310.9 458.5 311.7 458.9 312.3 459.3 312.8 459.7 313.3 460.1 313.8 460.5 314.3 461 314.9 461.5 315.6 461.9 316.3 462.2 316.8 462.5 317.4 462.9 318.3 463.1 318.8 463.3 319.8 463.5 320.5 463.8 321.3 464 321.9 464.5 322.6 465 323.1 465.5 323.3 466 323 466.1 322.3 466.1 321.3 466 320.6 465.9 319.8 466 318.8 466 318.3 466.2 317.3 466.5 316.3 466.7 315.8 467 314.8 467.1 314.3 467.5 313.3 467.7 312.8 468 311.8 468.2 311.3 468.5 310.3 468.6 309.8 468.9 308.8 469 308.3 469.2 307.3 469.1 306.3 469 305.7 468.7 304.8 468.4 304.3 468 303.6 467.7 302.8 467.6 301.8 467.9 300.8 468.2 300.3 468.6 299.8 469.1 299.3 469.9 298.8 470.5 298.5 471.3 298.3 472 298.2 472.5 298.3 473.5 298.8 473.9 299.3 474.1 299.8 474.3 300.8 474.3 301.8 474.2 302.8 474.1 303.8 474 304.8 474 305.3 474 305.8 474.1 306.8 474.2 307.8 474.3 308.8 474.3 309.8 474.4 310.8 474.4 311.8 474.3 312.8 474.2 313.8 474 314.8 474 315.3 473.7 316.3 473.5 317.2 473.3 317.8 473 318.7 472.8 319.3 472.5 320 472.1 320.8 471.8 321.3 471.5 321.8 471 322.5 470.5 323.1 470 323.6 469.5 324 469 324.4 468 324.8 467.5 324.9 466.6 325.3 466.2 325.8 465.8 326.3 465.3 326.8 464.8 327.3 464.2 327.8 463.5 328.3 463 328.6 462.5 328.8 461.5 329.3 461 329.5 460 329.8 459.5 329.8Z" fill="#d6d6d6" stroke="#3a3a3a" stroke-width="0.6"/>
<path d="M470.5 317.9 469.9 317.8 469.5 317.1 469.4 316.3 469.5 315.3 469.5 314.8 469.8 313.8 470 313.2 470.4 312.3 470.8 311.8 471.5 311.5 472 312.2 472.1 312.8 472.1 313.8 472 314.8 471.9 315.3 471.6 316.3 471.4 316.8 471 317.5 470.5 317.9Z" fill="#cecece" stroke="#3a3a3a" stroke-width="0.6"/>
<path d="M455 329.4 454 329.5 453 329.6 452 329.6 451 329.5 450.4 329.3 449.5 328.9 449 328.6 448.5 328.1 448 327.5 447.6 326.8 447.4 326.3 447.2 325.3 447.1 324.3 447.1 323.3 447.3 322.3 447.4 321.3 447.6 320.8 447.9 319.8 448.1 319.3 448.5 318.5 448.9 317.8 449.3 317.3 449.8 316.8 450.4 316.3 451 315.9 451.5 315.7 452.5 315.3 453 315.2 454 315.2 454.6 315.3 455.5 315.6 456 315.8 456.8 316.3 457.3 316.8 457.8 317.3 458.1 317.8 458.5 318.7 458.7 319.3 459 320.3 459.1 320.8 459.4 321.8 459.6 322.3 460 323.1 460.4 323.8 460.7 324.3 461 325 461.2 325.8 461 326.8 460.6 327.3 460 327.8 459.5 328.1 459 328.3 458 328.7 457.5 328.8 456.5 329.1 455.5 329.3 455 329.4Z" fill="#cecece" stroke="#3a3a3a" stroke-width="0.6"/>
<path d="M455 327.9 454 328.1 453 328.2 452 328.2 451 328 450.5 327.8 449.9 327.3 449.4 326.8 449 326.1 448.8 325.3 448.7 324.3 448.8 323.3 448.9 322.3 449.1 321.8 449.5 320.8 449.8 320.3 450.2 319.8 450.8 319.3 451.5 318.9 452 318.7 453 318.7 453.5 318.9 454.2 319.3 454.7 319.8 455 320.3 455.5 321.2 455.8 321.8 456 322.3 456.5 323.1 456.9 323.8 457.2 324.3 457.5 324.9 457.7 325.8 457.5 326.4 457 327 456.5 327.3 455.5 327.7 455 327.9Z" fill="#c4c4c4" stroke="#3a3a3a" stroke-width="0.6"/>
</g>
<path d="M447.5 296.9V328.8H472.4" fill="none" stroke="#111" stroke-width="2.0"/>
<rect x="446.5" y="258.3" width="72" height="71.5" fill="none" stroke="#555" stroke-width="0.9"/>
<rect x="480.2" y="271" width="30.8" height="20.8" fill="none" stroke="#666" stroke-width="0.7"/>
<text x="510.3" y="268.8" font-size="7.8" text-anchor="end" fill="#111">2.0</text>
<text x="4.6" y="363.7" font-size="11.5" font-weight="bold" fill="#000">E</text>
<text x="18.3" y="382.2" font-size="8.6" font-style="italic" fill="#222">spleen</text>
<text transform="translate(40.2,456) rotate(-90)" font-size="5.8" fill="#333">10<tspan font-size="3.8" dy="-2">3</tspan><tspan dy="2"> cells / spleen</tspan></text>
<text x="107.8" y="370.6" font-size="10.6" text-anchor="middle" fill="#111">GC B cells</text>
<line x1="50" y1="393.7" x2="50" y2="471" stroke="#555" stroke-width="0.8"/>
<line x1="48.2" y1="471" x2="50" y2="471" stroke="#555" stroke-width="0.7"/>
<text x="47.4" y="472.8" font-size="5.1" text-anchor="end" fill="#333">0</text>
<line x1="48.2" y1="445.6" x2="50" y2="445.6" stroke="#555" stroke-width="0.7"/>
<text x="47.4" y="447.4" font-size="5.1" text-anchor="end" fill="#333">2</text>
<line x1="48.2" y1="420.3" x2="50" y2="420.3" stroke="#555" stroke-width="0.7"/>
<text x="47.4" y="422.1" font-size="5.1" text-anchor="end" fill="#333">4</text>
<line x1="48.2" y1="394.8" x2="50" y2="394.8" stroke="#555" stroke-width="0.7"/>
<text x="47.4" y="396.6" font-size="5.1" text-anchor="end" fill="#333">6</text>
<line x1="50" y1="471" x2="162.8" y2="471" stroke="#555" stroke-width="0.8"/>
<line x1="61.3" y1="471" x2="61.3" y2="472.6" stroke="#555" stroke-width="0.7"/>
<line x1="84.7" y1="471" x2="84.7" y2="472.6" stroke="#555" stroke-width="0.7"/>
<line x1="108" y1="471" x2="108" y2="472.6" stroke="#555" stroke-width="0.7"/>
<line x1="131" y1="471" x2="131" y2="472.6" stroke="#555" stroke-width="0.7"/>
<line x1="156" y1="471" x2="156" y2="472.6" stroke="#555" stroke-width="0.7"/>
<path d="M61.3 388.2V385.6H108V388.2" fill="none" stroke="#555" stroke-width="0.7"/>
<text x="84.7" y="384" font-size="5.4" text-anchor="middle" fill="#333">p=0.05</text>
<path d="M108 394.2V391.6H131V394.2" fill="none" stroke="#555" stroke-width="0.7"/>
<text x="119.5" y="390" font-size="5.4" text-anchor="middle" fill="#333">p=0.05</text>
<path d="M61.3 444.2V441.6H84.7V444.2" fill="none" stroke="#555" stroke-width="0.7"/>
<text x="73" y="440" font-size="5.4" text-anchor="middle" fill="#333">ns</text>
<circle cx="61.8" cy="450" r="2.1" fill="#fff" stroke="#bdbdbd" stroke-width="0.9"/>
<circle cx="55.8" cy="461.3" r="2.1" fill="#fff" stroke="#bdbdbd" stroke-width="0.9"/>
<circle cx="63" cy="463.3" r="2.1" fill="#fff" stroke="#bdbdbd" stroke-width="0.9"/>
<circle cx="60.6" cy="465.7" r="2.1" fill="#fff" stroke="#bdbdbd" stroke-width="0.9"/>
<circle cx="57" cy="469.3" r="2.1" fill="#fff" stroke="#bdbdbd" stroke-width="0.9"/>
<circle cx="64.5" cy="469.5" r="2.1" fill="#fff" stroke="#bdbdbd" stroke-width="0.9"/>
<circle cx="60.5" cy="470.3" r="2.1" fill="#fff" stroke="#bdbdbd" stroke-width="0.9"/>
<line x1="54" y1="468" x2="69.5" y2="468" stroke="#222" stroke-width="1.0"/>
<circle cx="79" cy="468.5" r="2.4" fill="#111"/>
<circle cx="82" cy="467.3" r="2.4" fill="#111"/>
<circle cx="85" cy="465.3" r="2.4" fill="#111"/>
<circle cx="88" cy="466.8" r="2.4" fill="#111"/>
<circle cx="91" cy="469" r="2.4" fill="#111"/>
<circle cx="83" cy="470.2" r="2.4" fill="#111"/>
<circle cx="86.5" cy="470.4" r="2.4" fill="#111"/>
<circle cx="79.5" cy="470.5" r="2.4" fill="#111"/>
<circle cx="89" cy="470.3" r="2.4" fill="#111"/>
<line x1="77" y1="468.5" x2="92.5" y2="468.5" stroke="#111" stroke-width="1.0"/>
<circle cx="108" cy="400.8" r="2.1" fill="#fff" stroke="#f2ab9c" stroke-width="1.05"/>
<circle cx="114" cy="397.6" r="2.1" fill="#fff" stroke="#f2ab9c" stroke-width="1.05"/>
<circle cx="108" cy="441.4" r="2.1" fill="#fff" stroke="#f2ab9c" stroke-width="1.05"/>
<circle cx="114" cy="450.5" r="2.1" fill="#fff" stroke="#f2ab9c" stroke-width="1.05"/>
<circle cx="108" cy="453.7" r="2.1" fill="#fff" stroke="#f2ab9c" stroke-width="1.05"/>
<circle cx="102.2" cy="460.6" r="2.1" fill="#fff" stroke="#f2ab9c" stroke-width="1.05"/>
<circle cx="108" cy="461.8" r="2.1" fill="#fff" stroke="#f2ab9c" stroke-width="1.05"/>
<circle cx="108" cy="469.8" r="2.1" fill="#fff" stroke="#f2ab9c" stroke-width="1.05"/>
<circle cx="114" cy="469.8" r="2.1" fill="#fff" stroke="#f2ab9c" stroke-width="1.05"/>
<line x1="100.3" y1="453.4" x2="116" y2="453.4" stroke="#333" stroke-width="1.0"/>
<circle cx="125" cy="460" r="2.4" fill="#e3222e"/>
<circle cx="130.3" cy="463.7" r="2.4" fill="#e3222e"/>
<circle cx="124.2" cy="467" r="2.4" fill="#e3222e"/>
<circle cx="127.5" cy="468" r="2.4" fill="#e3222e"/>
<circle cx="133.3" cy="467" r="2.4" fill="#e3222e"/>
<circle cx="136.5" cy="468.5" r="2.4" fill="#e3222e"/>
<circle cx="130" cy="469.8" r="2.4" fill="#e3222e"/>
<circle cx="125.5" cy="470.3" r="2.4" fill="#e3222e"/>
<circle cx="138.3" cy="470.2" r="2.4" fill="#e3222e"/>
<line x1="122.4" y1="467.4" x2="138.8" y2="467.4" stroke="#222" stroke-width="1.0"/>
<circle cx="153.2" cy="471" r="1.9" fill="#fff" stroke="#3a3a3a" stroke-width="0.95"/>
<circle cx="160" cy="471" r="1.9" fill="#fff" stroke="#3a3a3a" stroke-width="0.95"/>
<text transform="translate(59.3,479) rotate(-30)" font-size="7.3" text-anchor="end" fill="#151515" stroke="#333" stroke-width="0.12" textLength="35" lengthAdjust="spacingAndGlyphs">wt - placebo</text>
<text transform="translate(82.7,479) rotate(-30)" font-size="7.3" text-anchor="end" fill="#151515" stroke="#333" stroke-width="0.12" textLength="43.3" lengthAdjust="spacingAndGlyphs">wt - PCI-32765</text>
<text transform="translate(106,479) rotate(-30)" font-size="7.3" text-anchor="end" fill="#151515" stroke="#333" stroke-width="0.12" textLength="60.3" lengthAdjust="spacingAndGlyphs">CD19-hBtk - placebo</text>
<text transform="translate(129,479) rotate(-30)" font-size="7.3" text-anchor="end" fill="#151515" stroke="#333" stroke-width="0.12" textLength="68.6" lengthAdjust="spacingAndGlyphs">CD19-hBtk - PCI-32765</text>
<text transform="translate(152,479) rotate(-30)" font-size="7.3" text-anchor="end" fill="#151515" stroke="#333" stroke-width="0.12" textLength="13.2" lengthAdjust="spacingAndGlyphs">Btk<tspan font-size="4.5" dy="-2.2">-/-</tspan></text>
<text x="246.9" y="370.6" font-size="10.6" text-anchor="middle" fill="#111">IgM plasma cells</text>
<line x1="189.5" y1="393.7" x2="189.5" y2="470.8" stroke="#555" stroke-width="0.8"/>
<line x1="187.7" y1="470.8" x2="189.5" y2="470.8" stroke="#555" stroke-width="0.7"/>
<text x="186.9" y="472.6" font-size="5.1" text-anchor="end" fill="#333">0</text>
<line x1="187.7" y1="451.7" x2="189.5" y2="451.7" stroke="#555" stroke-width="0.7"/>
<text x="186.9" y="453.5" font-size="5.1" text-anchor="end" fill="#333">1</text>
<line x1="187.7" y1="432.6" x2="189.5" y2="432.6" stroke="#555" stroke-width="0.7"/>
<text x="186.9" y="434.4" font-size="5.1" text-anchor="end" fill="#333">2</text>
<line x1="187.7" y1="413.5" x2="189.5" y2="413.5" stroke="#555" stroke-width="0.7"/>
<text x="186.9" y="415.3" font-size="5.1" text-anchor="end" fill="#333">3</text>
<line x1="187.7" y1="394.4" x2="189.5" y2="394.4" stroke="#555" stroke-width="0.7"/>
<text x="186.9" y="396.2" font-size="5.1" text-anchor="end" fill="#333">4</text>
<line x1="189.5" y1="470.8" x2="304" y2="470.8" stroke="#555" stroke-width="0.8"/>
<line x1="201" y1="470.8" x2="201" y2="472.4" stroke="#555" stroke-width="0.7"/>
<line x1="224.3" y1="470.8" x2="224.3" y2="472.4" stroke="#555" stroke-width="0.7"/>
<line x1="247.1" y1="470.8" x2="247.1" y2="472.4" stroke="#555" stroke-width="0.7"/>
<line x1="270.7" y1="470.8" x2="270.7" y2="472.4" stroke="#555" stroke-width="0.7"/>
<line x1="294.5" y1="470.8" x2="294.5" y2="472.4" stroke="#555" stroke-width="0.7"/>
<path d="M201 396.6V394H247.1V396.6" fill="none" stroke="#555" stroke-width="0.7"/>
<text x="224.1" y="392.4" font-size="5.4" text-anchor="middle" fill="#333">p=0.01</text>
<path d="M247.1 402.9V400.3H270.7V402.9" fill="none" stroke="#555" stroke-width="0.7"/>
<text x="258.9" y="398.7" font-size="5.4" text-anchor="middle" fill="#333">p&lt;0.05</text>
<path d="M201 457.2V454.6H224.3V457.2" fill="none" stroke="#555" stroke-width="0.7"/>
<text x="212.7" y="453" font-size="5.4" text-anchor="middle" fill="#333">ns</text>
<circle cx="199" cy="466" r="2.1" fill="#fff" stroke="#bdbdbd" stroke-width="0.9"/>
<circle cx="202.5" cy="464" r="2.1" fill="#fff" stroke="#bdbdbd" stroke-width="0.9"/>
<circle cx="205" cy="467.3" r="2.1" fill="#fff" stroke="#bdbdbd" stroke-width="0.9"/>
<circle cx="201" cy="469.3" r="2.1" fill="#fff" stroke="#bdbdbd" stroke-width="0.9"/>
<circle cx="197" cy="470" r="2.1" fill="#fff" stroke="#bdbdbd" stroke-width="0.9"/>
<line x1="193.7" y1="466.9" x2="208.7" y2="466.9" stroke="#222" stroke-width="1.0"/>
<circle cx="217.3" cy="467" r="2.4" fill="#111"/>
<circle cx="220" cy="465.8" r="2.4" fill="#111"/>
<circle cx="224" cy="464.8" r="2.4" fill="#111"/>
<circle cx="227.5" cy="463" r="2.4" fill="#111"/>
<circle cx="230.5" cy="467" r="2.4" fill="#111"/>
<circle cx="223" cy="469.6" r="2.4" fill="#111"/>
<circle cx="229" cy="470" r="2.4" fill="#111"/>
<circle cx="233" cy="469" r="2.4" fill="#111"/>
<circle cx="219" cy="469.3" r="2.4" fill="#111"/>
<line x1="215" y1="467.4" x2="232.5" y2="467.4" stroke="#111" stroke-width="1.0"/>
<circle cx="241.8" cy="407.3" r="2.1" fill="#fff" stroke="#f2ab9c" stroke-width="1.05"/>
<circle cx="247.1" cy="408" r="2.1" fill="#fff" stroke="#f2ab9c" stroke-width="1.05"/>
<circle cx="247.1" cy="441.4" r="2.1" fill="#fff" stroke="#f2ab9c" stroke-width="1.05"/>
<circle cx="241.8" cy="450" r="2.1" fill="#fff" stroke="#f2ab9c" stroke-width="1.05"/>
<circle cx="247.1" cy="454.1" r="2.1" fill="#fff" stroke="#f2ab9c" stroke-width="1.05"/>
<circle cx="253.1" cy="457.7" r="2.1" fill="#fff" stroke="#f2ab9c" stroke-width="1.05"/>
<circle cx="247.1" cy="461.3" r="2.1" fill="#fff" stroke="#f2ab9c" stroke-width="1.05"/>
<line x1="239.4" y1="453.4" x2="254.8" y2="453.4" stroke="#333" stroke-width="1.0"/>
<circle cx="276" cy="450" r="2.4" fill="#e3222e"/>
<circle cx="270.7" cy="455.3" r="2.4" fill="#e3222e"/>
<circle cx="265.1" cy="457.7" r="2.4" fill="#e3222e"/>
<circle cx="270.7" cy="460.9" r="2.4" fill="#e3222e"/>
<circle cx="265.1" cy="466.2" r="2.4" fill="#e3222e"/>
<circle cx="270.7" cy="467.4" r="2.4" fill="#e3222e"/>
<circle cx="276" cy="468" r="2.4" fill="#e3222e"/>
<circle cx="267.5" cy="469.3" r="2.4" fill="#e3222e"/>
<line x1="262.7" y1="460.9" x2="278.4" y2="460.9" stroke="#222" stroke-width="1.0"/>
<circle cx="292.8" cy="470.8" r="1.9" fill="#fff" stroke="#3a3a3a" stroke-width="0.95"/>
<circle cx="297.6" cy="470.8" r="1.9" fill="#fff" stroke="#3a3a3a" stroke-width="0.95"/>
<text transform="translate(199,478.8) rotate(-30)" font-size="7.3" text-anchor="end" fill="#151515" stroke="#333" stroke-width="0.12" textLength="35" lengthAdjust="spacingAndGlyphs">wt - placebo</text>
<text transform="translate(222.3,478.8) rotate(-30)" font-size="7.3" text-anchor="end" fill="#151515" stroke="#333" stroke-width="0.12" textLength="43.3" lengthAdjust="spacingAndGlyphs">wt - PCI-32765</text>
<text transform="translate(245.1,478.8) rotate(-30)" font-size="7.3" text-anchor="end" fill="#151515" stroke="#333" stroke-width="0.12" textLength="60.3" lengthAdjust="spacingAndGlyphs">CD19-hBtk - placebo</text>
<text transform="translate(268.7,478.8) rotate(-30)" font-size="7.3" text-anchor="end" fill="#151515" stroke="#333" stroke-width="0.12" textLength="68.6" lengthAdjust="spacingAndGlyphs">CD19-hBtk - PCI-32765</text>
<text transform="translate(290.5,478.8) rotate(-30)" font-size="7.3" text-anchor="end" fill="#151515" stroke="#333" stroke-width="0.12" textLength="13.2" lengthAdjust="spacingAndGlyphs">Btk<tspan font-size="4.5" dy="-2.2">-/-</tspan></text>
<text x="392" y="370.6" font-size="10.6" text-anchor="middle" fill="#111">IgG plasma cells</text>
<line x1="334.5" y1="393.5" x2="334.5" y2="470.5" stroke="#555" stroke-width="0.8"/>
<line x1="332.7" y1="470.5" x2="334.5" y2="470.5" stroke="#555" stroke-width="0.7"/>
<text x="331.9" y="472.3" font-size="5.1" text-anchor="end" fill="#333">0.0</text>
<line x1="332.7" y1="435.5" x2="334.5" y2="435.5" stroke="#555" stroke-width="0.7"/>
<text x="331.9" y="437.3" font-size="5.1" text-anchor="end" fill="#333">0.5</text>
<line x1="332.7" y1="400.6" x2="334.5" y2="400.6" stroke="#555" stroke-width="0.7"/>
<text x="331.9" y="402.4" font-size="5.1" text-anchor="end" fill="#333">1.0</text>
<line x1="334.5" y1="470.5" x2="449.8" y2="470.5" stroke="#555" stroke-width="0.8"/>
<line x1="345.8" y1="470.5" x2="345.8" y2="472.1" stroke="#555" stroke-width="0.7"/>
<line x1="369.3" y1="470.5" x2="369.3" y2="472.1" stroke="#555" stroke-width="0.7"/>
<line x1="392.2" y1="470.5" x2="392.2" y2="472.1" stroke="#555" stroke-width="0.7"/>
<line x1="415.4" y1="470.5" x2="415.4" y2="472.1" stroke="#555" stroke-width="0.7"/>
<line x1="440.8" y1="470.5" x2="440.8" y2="472.1" stroke="#555" stroke-width="0.7"/>
<path d="M345.8 388.9V386.3H392.2V388.9" fill="none" stroke="#555" stroke-width="0.7"/>
<text x="369" y="384.7" font-size="5.4" text-anchor="middle" fill="#333">p=0.01</text>
<path d="M392.2 395.4V392.8H415.4V395.4" fill="none" stroke="#555" stroke-width="0.7"/>
<text x="403.8" y="391.2" font-size="5.4" text-anchor="middle" fill="#333">p=0.05</text>
<path d="M345.8 457.2V454.6H369.3V457.2" fill="none" stroke="#555" stroke-width="0.7"/>
<text x="357.6" y="453" font-size="5.4" text-anchor="middle" fill="#333">ns</text>
<circle cx="345.8" cy="465" r="2.1" fill="#fff" stroke="#bdbdbd" stroke-width="0.9"/>
<circle cx="343.5" cy="469.5" r="2.1" fill="#fff" stroke="#bdbdbd" stroke-width="0.9"/>
<circle cx="348" cy="469.8" r="2.1" fill="#fff" stroke="#bdbdbd" stroke-width="0.9"/>
<line x1="338" y1="468" x2="353.7" y2="468" stroke="#222" stroke-width="1.0"/>
<circle cx="363.3" cy="459.7" r="2.4" fill="#111"/>
<circle cx="369.3" cy="462.5" r="2.4" fill="#111"/>
<circle cx="361.6" cy="468" r="2.4" fill="#111"/>
<circle cx="366.4" cy="467.4" r="2.4" fill="#111"/>
<circle cx="371.7" cy="469.3" r="2.4" fill="#111"/>
<circle cx="374.1" cy="468.6" r="2.4" fill="#111"/>
<line x1="359" y1="468" x2="376" y2="468" stroke="#111" stroke-width="1.0"/>
<circle cx="392.2" cy="400" r="2.1" fill="#fff" stroke="#f2ab9c" stroke-width="1.05"/>
<circle cx="386.2" cy="426.5" r="2.1" fill="#fff" stroke="#f2ab9c" stroke-width="1.05"/>
<circle cx="392.2" cy="429.6" r="2.1" fill="#fff" stroke="#f2ab9c" stroke-width="1.05"/>
<circle cx="392.2" cy="445.7" r="2.1" fill="#fff" stroke="#f2ab9c" stroke-width="1.05"/>
<circle cx="392.2" cy="456.5" r="2.1" fill="#fff" stroke="#f2ab9c" stroke-width="1.05"/>
<circle cx="386.2" cy="460.1" r="2.1" fill="#fff" stroke="#f2ab9c" stroke-width="1.05"/>
<circle cx="397.7" cy="462.5" r="2.1" fill="#fff" stroke="#f2ab9c" stroke-width="1.05"/>
<circle cx="392.2" cy="464.2" r="2.1" fill="#fff" stroke="#f2ab9c" stroke-width="1.05"/>
<line x1="383.8" y1="452.2" x2="400.1" y2="452.2" stroke="#333" stroke-width="1.0"/>
<circle cx="409.4" cy="461.8" r="2.4" fill="#e3222e"/>
<circle cx="414.7" cy="463.3" r="2.4" fill="#e3222e"/>
<circle cx="421" cy="460.9" r="2.4" fill="#e3222e"/>
<circle cx="409.4" cy="467.4" r="2.4" fill="#e3222e"/>
<circle cx="415" cy="469.8" r="2.4" fill="#e3222e"/>
<circle cx="420.2" cy="468.6" r="2.4" fill="#e3222e"/>
<circle cx="411.8" cy="466.2" r="2.4" fill="#e3222e"/>
<line x1="407.5" y1="465.7" x2="423.4" y2="465.7" stroke="#222" stroke-width="1.0"/>
<circle cx="437.8" cy="470.8" r="1.9" fill="#fff" stroke="#3a3a3a" stroke-width="0.95"/>
<circle cx="443.8" cy="470.8" r="1.9" fill="#fff" stroke="#3a3a3a" stroke-width="0.95"/>
<text transform="translate(343.8,478.5) rotate(-30)" font-size="7.3" text-anchor="end" fill="#151515" stroke="#333" stroke-width="0.12" textLength="35" lengthAdjust="spacingAndGlyphs">wt - placebo</text>
<text transform="translate(367.3,478.5) rotate(-30)" font-size="7.3" text-anchor="end" fill="#151515" stroke="#333" stroke-width="0.12" textLength="43.3" lengthAdjust="spacingAndGlyphs">wt - PCI-32765</text>
<text transform="translate(390.2,478.5) rotate(-30)" font-size="7.3" text-anchor="end" fill="#151515" stroke="#333" stroke-width="0.12" textLength="60.3" lengthAdjust="spacingAndGlyphs">CD19-hBtk - placebo</text>
<text transform="translate(413.4,478.5) rotate(-30)" font-size="7.3" text-anchor="end" fill="#151515" stroke="#333" stroke-width="0.12" textLength="68.6" lengthAdjust="spacingAndGlyphs">CD19-hBtk - PCI-32765</text>
<text transform="translate(436.8,478.5) rotate(-30)" font-size="7.3" text-anchor="end" fill="#151515" stroke="#333" stroke-width="0.12" textLength="13.2" lengthAdjust="spacingAndGlyphs">Btk<tspan font-size="4.5" dy="-2.2">-/-</tspan></text>
<text x="4.6" y="526.6" font-size="11.5" font-weight="bold" fill="#000">F</text>
<text transform="translate(29.5,619.5) rotate(-90)" font-size="6.0" fill="#333" textLength="59" lengthAdjust="spacingAndGlyphs">cells / 10<tspan font-size="3.8" dy="-2.2">6</tspan><tspan dy="2.2"> spleen cells</tspan></text>
<text x="79.6" y="539" font-size="10.5" text-anchor="middle" fill="#111">GC B cells</text>
<line x1="50" y1="551" x2="50" y2="628.8" stroke="#555" stroke-width="0.8"/>
<line x1="48.2" y1="628.8" x2="50" y2="628.8" stroke="#555" stroke-width="0.7"/>
<text x="47.4" y="630.7" font-size="5.3" text-anchor="end" fill="#333">0</text>
<line x1="48.2" y1="613.5" x2="50" y2="613.5" stroke="#555" stroke-width="0.7"/>
<text x="47.4" y="615.4" font-size="5.3" text-anchor="end" fill="#333">1,000</text>
<line x1="48.2" y1="598.2" x2="50" y2="598.2" stroke="#555" stroke-width="0.7"/>
<text x="47.4" y="600.1" font-size="5.3" text-anchor="end" fill="#333">2,000</text>
<line x1="48.2" y1="582.9" x2="50" y2="582.9" stroke="#555" stroke-width="0.7"/>
<text x="47.4" y="584.8" font-size="5.3" text-anchor="end" fill="#333">3,000</text>
<line x1="48.2" y1="567.6" x2="50" y2="567.6" stroke="#555" stroke-width="0.7"/>
<text x="47.4" y="569.5" font-size="5.3" text-anchor="end" fill="#333">4,000</text>
<line x1="48.2" y1="552.3" x2="50" y2="552.3" stroke="#555" stroke-width="0.7"/>
<text x="47.4" y="554.2" font-size="5.3" text-anchor="end" fill="#333">5,000</text>
<line x1="50" y1="628.8" x2="108.5" y2="628.8" stroke="#555" stroke-width="0.8"/>
<line x1="61.5" y1="628.8" x2="61.5" y2="630.4" stroke="#555" stroke-width="0.7"/>
<line x1="80.4" y1="628.8" x2="80.4" y2="630.4" stroke="#555" stroke-width="0.7"/>
<line x1="99.2" y1="628.8" x2="99.2" y2="630.4" stroke="#555" stroke-width="0.7"/>
<circle cx="74.3" cy="563" r="2.2" fill="#eba95a"/>
<circle cx="80.3" cy="567.6" r="2.2" fill="#eba95a"/>
<circle cx="80.3" cy="601.5" r="2.2" fill="#eba95a"/>
<line x1="72.7" y1="576.8" x2="88.2" y2="576.8" stroke="#222" stroke-width="1.1"/>
<circle cx="61.2" cy="625.3" r="2.2" fill="#111"/>
<circle cx="66.9" cy="621.9" r="2.2" fill="#111"/>
<line x1="53.5" y1="623" x2="65" y2="623" stroke="#222" stroke-width="1.1"/>
<circle cx="93.5" cy="624.6" r="2.2" fill="#1a1a9c"/>
<circle cx="99.2" cy="626.5" r="2.2" fill="#1a1a9c"/>
<circle cx="105" cy="624.6" r="2.2" fill="#1a1a9c"/>
<line x1="92" y1="625.3" x2="106" y2="625.3" stroke="#222" stroke-width="1.1"/>
<text transform="translate(60,637.5) rotate(-25)" font-size="7.2" text-anchor="end" fill="#151515" stroke="#333" stroke-width="0.12" textLength="6.4" lengthAdjust="spacingAndGlyphs">wt</text>
<text transform="translate(80.1,641.7) rotate(-25)" font-size="7.2" text-anchor="end" fill="#151515" stroke="#333" stroke-width="0.12" textLength="41.9" lengthAdjust="spacingAndGlyphs">CD19-hBtk<tspan font-size="4" dy="-3.6">Y223F</tspan></text>
<text transform="translate(98.9,641.7) rotate(-25)" font-size="7.2" text-anchor="end" fill="#151515" stroke="#333" stroke-width="0.12" textLength="42.3" lengthAdjust="spacingAndGlyphs">CD19-hBtk<tspan font-size="4" dy="-3.6">K430R</tspan></text>
<text x="166" y="529" font-size="10.5" text-anchor="middle" fill="#111">IgM</text>
<text x="166" y="541.6" font-size="10.5" text-anchor="middle" fill="#111">plasma cells</text>
<line x1="137.2" y1="551" x2="137.2" y2="628.8" stroke="#555" stroke-width="0.8"/>
<line x1="135.4" y1="628.8" x2="137.2" y2="628.8" stroke="#555" stroke-width="0.7"/>
<text x="134.6" y="630.7" font-size="5.3" text-anchor="end" fill="#333">0</text>
<line x1="135.4" y1="609.6" x2="137.2" y2="609.6" stroke="#555" stroke-width="0.7"/>
<text x="134.6" y="611.5" font-size="5.3" text-anchor="end" fill="#333">2,000</text>
<line x1="135.4" y1="590.4" x2="137.2" y2="590.4" stroke="#555" stroke-width="0.7"/>
<text x="134.6" y="592.3" font-size="5.3" text-anchor="end" fill="#333">4,000</text>
<line x1="135.4" y1="571.2" x2="137.2" y2="571.2" stroke="#555" stroke-width="0.7"/>
<text x="134.6" y="573.1" font-size="5.3" text-anchor="end" fill="#333">6,000</text>
<line x1="135.4" y1="552" x2="137.2" y2="552" stroke="#555" stroke-width="0.7"/>
<text x="134.6" y="553.9" font-size="5.3" text-anchor="end" fill="#333">8,000</text>
<line x1="137.2" y1="628.8" x2="197" y2="628.8" stroke="#555" stroke-width="0.8"/>
<line x1="147" y1="628.8" x2="147" y2="630.4" stroke="#555" stroke-width="0.7"/>
<line x1="166" y1="628.8" x2="166" y2="630.4" stroke="#555" stroke-width="0.7"/>
<line x1="185" y1="628.8" x2="185" y2="630.4" stroke="#555" stroke-width="0.7"/>
<circle cx="165.8" cy="557.7" r="2.2" fill="#eba95a"/>
<circle cx="171.6" cy="573.4" r="2.2" fill="#eba95a"/>
<circle cx="165.8" cy="577.3" r="2.2" fill="#eba95a"/>
<line x1="158" y1="569.2" x2="174" y2="569.2" stroke="#222" stroke-width="1.1"/>
<circle cx="146.9" cy="595.8" r="2.2" fill="#111"/>
<circle cx="146.9" cy="607.3" r="2.2" fill="#111"/>
<line x1="138.8" y1="601.5" x2="155" y2="601.5" stroke="#222" stroke-width="1.1"/>
<circle cx="185" cy="608.5" r="2.2" fill="#1a1a9c"/>
<circle cx="190.8" cy="614.2" r="2.2" fill="#1a1a9c"/>
<circle cx="185" cy="619.3" r="2.2" fill="#1a1a9c"/>
<line x1="177" y1="614.2" x2="189.6" y2="614.2" stroke="#222" stroke-width="1.1"/>
<text transform="translate(145.5,637.5) rotate(-25)" font-size="7.2" text-anchor="end" fill="#151515" stroke="#333" stroke-width="0.12" textLength="6.4" lengthAdjust="spacingAndGlyphs">wt</text>
<text transform="translate(165.7,641.7) rotate(-25)" font-size="7.2" text-anchor="end" fill="#151515" stroke="#333" stroke-width="0.12" textLength="41.9" lengthAdjust="spacingAndGlyphs">CD19-hBtk<tspan font-size="4" dy="-3.6">Y223F</tspan></text>
<text transform="translate(184.7,641.7) rotate(-25)" font-size="7.2" text-anchor="end" fill="#151515" stroke="#333" stroke-width="0.12" textLength="42.3" lengthAdjust="spacingAndGlyphs">CD19-hBtk<tspan font-size="4" dy="-3.6">K430R</tspan></text>
<text x="252.6" y="529" font-size="10.5" text-anchor="middle" fill="#111">IgG</text>
<text x="252.6" y="541.6" font-size="10.5" text-anchor="middle" fill="#111">plasma cells</text>
<line x1="222.6" y1="551" x2="222.6" y2="628.8" stroke="#555" stroke-width="0.8"/>
<line x1="220.8" y1="628.8" x2="222.6" y2="628.8" stroke="#555" stroke-width="0.7"/>
<text x="220" y="630.7" font-size="5.3" text-anchor="end" fill="#333">0</text>
<line x1="220.8" y1="603.3" x2="222.6" y2="603.3" stroke="#555" stroke-width="0.7"/>
<text x="220" y="605.2" font-size="5.3" text-anchor="end" fill="#333">1,000</text>
<line x1="220.8" y1="577.8" x2="222.6" y2="577.8" stroke="#555" stroke-width="0.7"/>
<text x="220" y="579.7" font-size="5.3" text-anchor="end" fill="#333">2,000</text>
<line x1="220.8" y1="552.3" x2="222.6" y2="552.3" stroke="#555" stroke-width="0.7"/>
<text x="220" y="554.2" font-size="5.3" text-anchor="end" fill="#333">3,000</text>
<line x1="222.6" y1="628.8" x2="283" y2="628.8" stroke="#555" stroke-width="0.8"/>
<line x1="233" y1="628.8" x2="233" y2="630.4" stroke="#555" stroke-width="0.7"/>
<line x1="252.2" y1="628.8" x2="252.2" y2="630.4" stroke="#555" stroke-width="0.7"/>
<line x1="271" y1="628.8" x2="271" y2="630.4" stroke="#555" stroke-width="0.7"/>
<circle cx="252.2" cy="556" r="2.2" fill="#eba95a"/>
<circle cx="252.2" cy="570" r="2.2" fill="#eba95a"/>
<circle cx="252.2" cy="576.9" r="2.2" fill="#eba95a"/>
<line x1="243.8" y1="567.6" x2="260" y2="567.6" stroke="#222" stroke-width="1.1"/>
<circle cx="233" cy="609.2" r="2.2" fill="#111"/>
<circle cx="238.5" cy="605" r="2.2" fill="#111"/>
<line x1="225" y1="606.9" x2="240.4" y2="606.9" stroke="#222" stroke-width="1.1"/>
<circle cx="265.8" cy="603.2" r="2.2" fill="#1a1a9c"/>
<circle cx="271.1" cy="604.1" r="2.2" fill="#1a1a9c"/>
<circle cx="271.1" cy="614.2" r="2.2" fill="#1a1a9c"/>
<line x1="263.5" y1="607.3" x2="279.6" y2="607.3" stroke="#222" stroke-width="1.1"/>
<text transform="translate(231.5,637.5) rotate(-25)" font-size="7.2" text-anchor="end" fill="#151515" stroke="#333" stroke-width="0.12" textLength="6.4" lengthAdjust="spacingAndGlyphs">wt</text>
<text transform="translate(251.9,641.7) rotate(-25)" font-size="7.2" text-anchor="end" fill="#151515" stroke="#333" stroke-width="0.12" textLength="41.9" lengthAdjust="spacingAndGlyphs">CD19-hBtk<tspan font-size="4" dy="-3.6">Y223F</tspan></text>
<text transform="translate(270.7,641.7) rotate(-25)" font-size="7.2" text-anchor="end" fill="#151515" stroke="#333" stroke-width="0.12" textLength="42.3" lengthAdjust="spacingAndGlyphs">CD19-hBtk<tspan font-size="4" dy="-3.6">K430R</tspan></text>
<text x="311.6" y="527.8" font-size="11.5" font-weight="bold" fill="#000">G</text>
<text x="371.3" y="528.3" font-size="10.7" fill="#111">IgG anti-nucleosome</text>
<rect x="343.3" y="625.1" width="154.3" height="5.2" fill="#fbfbfb"/>
<rect x="343.3" y="622.7" width="154.3" height="2.5" fill="#f3f3f3"/>
<rect x="343.3" y="618.2" width="154.3" height="4.5" fill="#f8f8f8"/>
<rect x="343.3" y="615" width="154.3" height="3.2" fill="#f1f1f1"/>
<rect x="343.3" y="612.1" width="154.3" height="2.9" fill="#f7f7f7"/>
<rect x="343.3" y="604.9" width="154.3" height="7.2" fill="#ededed"/>
<rect x="343.3" y="599.7" width="154.3" height="5.2" fill="#fbfbfb"/>
<rect x="343.3" y="597.3" width="154.3" height="2.5" fill="#f3f3f3"/>
<rect x="343.3" y="592.8" width="154.3" height="4.5" fill="#f8f8f8"/>
<rect x="343.3" y="589.6" width="154.3" height="3.2" fill="#f1f1f1"/>
<rect x="343.3" y="586.7" width="154.3" height="2.9" fill="#f7f7f7"/>
<rect x="343.3" y="579.5" width="154.3" height="7.2" fill="#ededed"/>
<rect x="343.3" y="574.3" width="154.3" height="5.2" fill="#fbfbfb"/>
<rect x="343.3" y="571.9" width="154.3" height="2.5" fill="#f3f3f3"/>
<rect x="343.3" y="567.4" width="154.3" height="4.5" fill="#f8f8f8"/>
<rect x="343.3" y="564.2" width="154.3" height="3.2" fill="#f1f1f1"/>
<rect x="343.3" y="561.3" width="154.3" height="2.9" fill="#f7f7f7"/>
<rect x="343.3" y="554.1" width="154.3" height="7.2" fill="#ededed"/>
<line x1="342.8" y1="610.5" x2="497.6" y2="610.5" stroke="#f8f8f8" stroke-width="0.6"/>
<line x1="342.8" y1="608.8" x2="497.6" y2="608.8" stroke="#f8f8f8" stroke-width="0.6"/>
<line x1="342.8" y1="607.4" x2="497.6" y2="607.4" stroke="#f8f8f8" stroke-width="0.6"/>
<line x1="342.8" y1="606.1" x2="497.6" y2="606.1" stroke="#f8f8f8" stroke-width="0.6"/>
<line x1="342.8" y1="585.1" x2="497.6" y2="585.1" stroke="#f8f8f8" stroke-width="0.6"/>
<line x1="342.8" y1="583.4" x2="497.6" y2="583.4" stroke="#f8f8f8" stroke-width="0.6"/>
<line x1="342.8" y1="582" x2="497.6" y2="582" stroke="#f8f8f8" stroke-width="0.6"/>
<line x1="342.8" y1="580.7" x2="497.6" y2="580.7" stroke="#f8f8f8" stroke-width="0.6"/>
<line x1="342.8" y1="559.7" x2="497.6" y2="559.7" stroke="#f8f8f8" stroke-width="0.6"/>
<line x1="342.8" y1="558" x2="497.6" y2="558" stroke="#f8f8f8" stroke-width="0.6"/>
<line x1="342.8" y1="556.6" x2="497.6" y2="556.6" stroke="#f8f8f8" stroke-width="0.6"/>
<line x1="342.8" y1="555.3" x2="497.6" y2="555.3" stroke="#f8f8f8" stroke-width="0.6"/>
<text transform="translate(331.0,601.3) rotate(-90)" font-size="6.6" fill="#333">ng/mL</text>
<line x1="342.8" y1="553.6" x2="342.8" y2="630.3" stroke="#555" stroke-width="0.8"/>
<line x1="339.8" y1="554.1" x2="342.8" y2="554.1" stroke="#555" stroke-width="0.7"/>
<text x="339" y="555.9" font-size="5.1" text-anchor="end" fill="#333">1000</text>
<line x1="339.8" y1="579.5" x2="342.8" y2="579.5" stroke="#555" stroke-width="0.7"/>
<text x="339" y="581.3" font-size="5.1" text-anchor="end" fill="#333">100</text>
<line x1="339.8" y1="604.9" x2="342.8" y2="604.9" stroke="#555" stroke-width="0.7"/>
<text x="339" y="606.7" font-size="5.1" text-anchor="end" fill="#333">10</text>
<line x1="339.8" y1="630.3" x2="342.8" y2="630.3" stroke="#555" stroke-width="0.7"/>
<text x="339" y="632.1" font-size="5.1" text-anchor="end" fill="#333">1</text>
<line x1="341.7" y1="622.7" x2="342.8" y2="622.7" stroke="#444" stroke-width="0.5"/>
<line x1="341.7" y1="618.2" x2="342.8" y2="618.2" stroke="#444" stroke-width="0.5"/>
<line x1="341.7" y1="615" x2="342.8" y2="615" stroke="#444" stroke-width="0.5"/>
<line x1="341.7" y1="612.5" x2="342.8" y2="612.5" stroke="#444" stroke-width="0.5"/>
<line x1="341.7" y1="610.5" x2="342.8" y2="610.5" stroke="#444" stroke-width="0.5"/>
<line x1="341.7" y1="608.8" x2="342.8" y2="608.8" stroke="#444" stroke-width="0.5"/>
<line x1="341.7" y1="607.4" x2="342.8" y2="607.4" stroke="#444" stroke-width="0.5"/>
<line x1="341.7" y1="606.1" x2="342.8" y2="606.1" stroke="#444" stroke-width="0.5"/>
<line x1="341.7" y1="597.3" x2="342.8" y2="597.3" stroke="#444" stroke-width="0.5"/>
<line x1="341.7" y1="592.8" x2="342.8" y2="592.8" stroke="#444" stroke-width="0.5"/>
<line x1="341.7" y1="589.6" x2="342.8" y2="589.6" stroke="#444" stroke-width="0.5"/>
<line x1="341.7" y1="587.1" x2="342.8" y2="587.1" stroke="#444" stroke-width="0.5"/>
<line x1="341.7" y1="585.1" x2="342.8" y2="585.1" stroke="#444" stroke-width="0.5"/>
<line x1="341.7" y1="583.4" x2="342.8" y2="583.4" stroke="#444" stroke-width="0.5"/>
<line x1="341.7" y1="582" x2="342.8" y2="582" stroke="#444" stroke-width="0.5"/>
<line x1="341.7" y1="580.7" x2="342.8" y2="580.7" stroke="#444" stroke-width="0.5"/>
<line x1="341.7" y1="571.9" x2="342.8" y2="571.9" stroke="#444" stroke-width="0.5"/>
<line x1="341.7" y1="567.4" x2="342.8" y2="567.4" stroke="#444" stroke-width="0.5"/>
<line x1="341.7" y1="564.2" x2="342.8" y2="564.2" stroke="#444" stroke-width="0.5"/>
<line x1="341.7" y1="561.7" x2="342.8" y2="561.7" stroke="#444" stroke-width="0.5"/>
<line x1="341.7" y1="559.7" x2="342.8" y2="559.7" stroke="#444" stroke-width="0.5"/>
<line x1="341.7" y1="558" x2="342.8" y2="558" stroke="#444" stroke-width="0.5"/>
<line x1="341.7" y1="556.6" x2="342.8" y2="556.6" stroke="#444" stroke-width="0.5"/>
<line x1="341.7" y1="555.3" x2="342.8" y2="555.3" stroke="#444" stroke-width="0.5"/>
<line x1="342.8" y1="630.3" x2="497.6" y2="630.3" stroke="#555" stroke-width="0.8"/>
<line x1="352.8" y1="630.3" x2="352.8" y2="631.9" stroke="#555" stroke-width="0.7"/>
<line x1="372.8" y1="630.3" x2="372.8" y2="631.9" stroke="#555" stroke-width="0.7"/>
<line x1="395.5" y1="630.3" x2="395.5" y2="631.9" stroke="#555" stroke-width="0.7"/>
<line x1="419.8" y1="630.3" x2="419.8" y2="631.9" stroke="#555" stroke-width="0.7"/>
<line x1="439.7" y1="630.3" x2="439.7" y2="631.9" stroke="#555" stroke-width="0.7"/>
<line x1="463" y1="630.3" x2="463" y2="631.9" stroke="#555" stroke-width="0.7"/>
<line x1="486.5" y1="630.3" x2="486.5" y2="631.9" stroke="#555" stroke-width="0.7"/>
<path d="M353.4 553.1V550.5H373.5V553.1" fill="none" stroke="#555" stroke-width="0.7"/>
<text x="363.4" y="548.9" font-size="5.4" text-anchor="middle" fill="#333">p&lt;0.05</text>
<path d="M419.8 552.4V549.8H439.8V552.4" fill="none" stroke="#555" stroke-width="0.7"/>
<text x="429.8" y="548.2" font-size="5.4" text-anchor="middle" fill="#333">p&lt;0.05</text>
<path d="M419.8 541.4V538.8H487.2V541.4" fill="none" stroke="#555" stroke-width="0.7"/>
<text x="453.5" y="537.2" font-size="5.4" text-anchor="middle" fill="#333">p=0.001</text>
<circle cx="346.3" cy="630.3" r="2.2" fill="#111"/>
<circle cx="349" cy="630.3" r="2.2" fill="#111"/>
<circle cx="351.7" cy="630.3" r="2.2" fill="#111"/>
<circle cx="354.4" cy="630.3" r="2.2" fill="#111"/>
<circle cx="357.1" cy="630.3" r="2.2" fill="#111"/>
<circle cx="359.5" cy="630.3" r="2.2" fill="#111"/>
<circle cx="412.8" cy="630.3" r="2.2" fill="#111"/>
<circle cx="415.5" cy="630.3" r="2.2" fill="#111"/>
<circle cx="418.2" cy="630.3" r="2.2" fill="#111"/>
<circle cx="420.9" cy="630.3" r="2.2" fill="#111"/>
<circle cx="423.6" cy="630.3" r="2.2" fill="#111"/>
<circle cx="426.4" cy="630.3" r="2.2" fill="#111"/>
<line x1="345" y1="630.3" x2="361" y2="630.3" stroke="#111" stroke-width="1.1"/>
<line x1="411" y1="630.3" x2="428.5" y2="630.3" stroke="#111" stroke-width="1.1"/>
<circle cx="373" cy="590.5" r="2.2" fill="#eba95a"/>
<circle cx="373" cy="600.3" r="2.2" fill="#eba95a"/>
<circle cx="373" cy="630.3" r="2.2" fill="#eba95a"/>
<line x1="364.6" y1="598.6" x2="382" y2="598.6" stroke="#222" stroke-width="1.1"/>
<circle cx="393.1" cy="619.7" r="2.2" fill="#1a1a9c"/>
<circle cx="392.8" cy="630.3" r="2.2" fill="#1a1a9c"/>
<circle cx="398.8" cy="630.3" r="2.2" fill="#1a1a9c"/>
<line x1="384.2" y1="625" x2="401.5" y2="625" stroke="#222" stroke-width="1.1"/>
<circle cx="439.7" cy="581.2" r="2.2" fill="#eba95a"/>
<circle cx="439.7" cy="595.1" r="2.2" fill="#eba95a"/>
<circle cx="439.7" cy="610.3" r="2.2" fill="#eba95a"/>
<line x1="431.2" y1="590" x2="448.5" y2="590" stroke="#222" stroke-width="1.1"/>
<circle cx="460" cy="630.3" r="2.2" fill="#1a1a9c"/>
<circle cx="465.8" cy="630.3" r="2.2" fill="#1a1a9c"/>
<circle cx="486.4" cy="558.5" r="2.2" fill="#a8a8a8"/>
<circle cx="481" cy="567.3" r="2.2" fill="#a8a8a8"/>
<circle cx="486.4" cy="567.3" r="2.2" fill="#a8a8a8"/>
<circle cx="491.2" cy="567.3" r="2.2" fill="#a8a8a8"/>
<circle cx="486.4" cy="578.7" r="2.2" fill="#a8a8a8"/>
<line x1="478.5" y1="565" x2="494.6" y2="565" stroke="#222" stroke-width="1.1"/>
<text transform="translate(351.8,637.5) rotate(-25)" font-size="7.2" text-anchor="end" fill="#151515" stroke="#333" stroke-width="0.12" textLength="6.4" lengthAdjust="spacingAndGlyphs">wt</text>
<text transform="translate(373.8,642.2) rotate(-25)" font-size="7.2" text-anchor="end" fill="#151515" stroke="#333" stroke-width="0.12" textLength="41.9" lengthAdjust="spacingAndGlyphs">CD19-hBtk<tspan font-size="4" dy="-3.6">Y223F</tspan></text>
<text transform="translate(396.5,642.2) rotate(-25)" font-size="7.2" text-anchor="end" fill="#151515" stroke="#333" stroke-width="0.12" textLength="42.3" lengthAdjust="spacingAndGlyphs">CD19-hBtk<tspan font-size="4" dy="-3.6">K430R</tspan></text>
<text transform="translate(418.8,637.5) rotate(-25)" font-size="7.2" text-anchor="end" fill="#151515" stroke="#333" stroke-width="0.12" textLength="6.4" lengthAdjust="spacingAndGlyphs">wt</text>
<text transform="translate(440.7,642.2) rotate(-25)" font-size="7.2" text-anchor="end" fill="#151515" stroke="#333" stroke-width="0.12" textLength="41.9" lengthAdjust="spacingAndGlyphs">CD19-hBtk<tspan font-size="4" dy="-3.6">Y223F</tspan></text>
<text transform="translate(464,642.2) rotate(-25)" font-size="7.2" text-anchor="end" fill="#151515" stroke="#333" stroke-width="0.12" textLength="42.3" lengthAdjust="spacingAndGlyphs">CD19-hBtk<tspan font-size="4" dy="-3.6">K430R</tspan></text>
<text transform="translate(485.5,637.5) rotate(-25)" font-size="7.2" text-anchor="end" fill="#151515" stroke="#333" stroke-width="0.12" textLength="22.4" lengthAdjust="spacingAndGlyphs">MRL/lpr</text>
<path d="M333.5 658.5V662H392.3V658.5" fill="none" stroke="#555" stroke-width="0.7"/>
<path d="M400.4 658.5V662H459.5V658.5" fill="none" stroke="#555" stroke-width="0.7"/>
<text x="363.5" y="670.6" font-size="7.0" text-anchor="middle" fill="#111">10 wks</text>
<text x="429.7" y="670.6" font-size="7.0" text-anchor="middle" fill="#111">40 wks</text>
</svg></body></html>
